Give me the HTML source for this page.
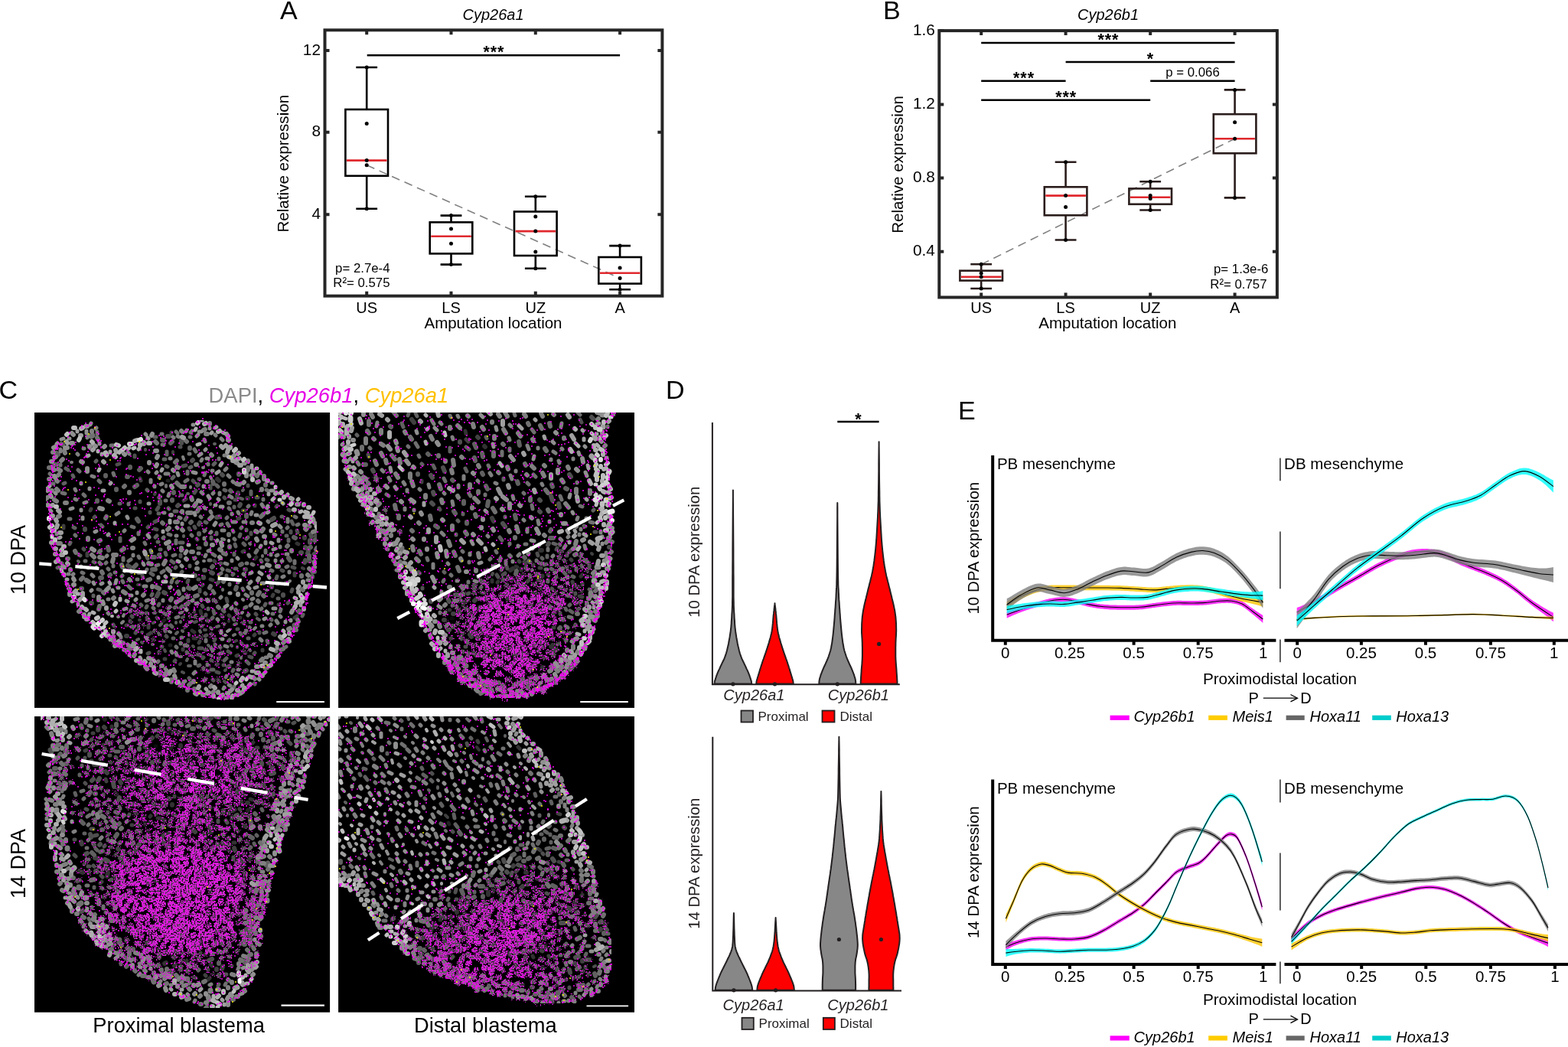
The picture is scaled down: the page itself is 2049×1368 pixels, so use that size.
<!DOCTYPE html>
<html><head><meta charset="utf-8"><title>Figure</title>
<style>html,body{margin:0;padding:0;background:#fff;overflow:hidden}svg{display:block}</style></head>
<body><svg width="2049" height="1368" viewBox="0 0 2049 1368" font-family="'Liberation Sans', Arial, sans-serif">
<defs>
<filter id="soft" x="0" y="0" width="100%" height="100%"><feGaussianBlur stdDeviation="0.7"/></filter>
<filter id="mag" filterUnits="userSpaceOnUse" x="40" y="530" width="800" height="800" color-interpolation-filters="sRGB">
<feTurbulence type="fractalNoise" baseFrequency="0.5" numOctaves="2" seed="11" result="t"/>
<feColorMatrix in="t" type="matrix" values="0 0 0 0 0 0 0 0 0 0 0 0 0 0 0 1 0 0 0 0" result="a"/>
<feComposite in="a" in2="SourceAlpha" operator="arithmetic" k1="0" k2="1" k3="0.257" k4="-0.677" result="c"/>
<feComponentTransfer in="c" result="d"><feFuncA type="linear" slope="14" intercept="0"/></feComponentTransfer>
<feComponentTransfer in="SourceAlpha" result="bin"><feFuncA type="linear" slope="40" intercept="0"/></feComponentTransfer>
<feFlood flood-color="#d81ed8"/>
<feComposite in2="d" operator="in"/>
<feComposite in2="bin" operator="in"/>
</filter>
<clipPath id="rc_tl"><rect x="45" y="539" width="386.1" height="385.9"/></clipPath>
<clipPath id="rc_tr"><rect x="442.1" y="539" width="386.9" height="385.9"/></clipPath>
<clipPath id="rc_bl"><rect x="45" y="936" width="386.1" height="386.7"/></clipPath>
<clipPath id="rc_br"><rect x="442.1" y="936" width="386.9" height="386.7"/></clipPath>
</defs>
<rect width="2049" height="1368" fill="#fff"/>
<g id="panelA">
<path d="M479.2 215.8L810.1 363.5" stroke="#808080" stroke-width="1.6" stroke-dasharray="11 7"/>
<rect x="424.5" y="39.3" width="440.9" height="347.4" fill="none" stroke="#262626" stroke-width="4"/>
<path d="M424.5 66.1h6M865.4 66.1h-6M424.5 172.8h6M865.4 172.8h-6M424.5 280.3h6M865.4 280.3h-6M479.2 386.7v-6M479.2 39.3v6M589.5 386.7v-6M589.5 39.3v6M699.8 386.7v-6M699.8 39.3v6M810.1 386.7v-6M810.1 39.3v6" stroke="#262626" stroke-width="4" fill="none"/>
<text x="419" y="71.6" font-size="20.8" text-anchor="end">12</text>
<text x="419" y="178.3" font-size="20.8" text-anchor="end">8</text>
<text x="419" y="285.8" font-size="20.8" text-anchor="end">4</text>
<text x="479.2" y="408.8" font-size="20" text-anchor="middle">US</text>
<text x="589.5" y="408.8" font-size="20" text-anchor="middle">LS</text>
<text x="699.8" y="408.8" font-size="20" text-anchor="middle">UZ</text>
<text x="810.1" y="408.8" font-size="20" text-anchor="middle">A</text>
<text x="644.5" y="428.6" font-size="20.5" text-anchor="middle">Amputation location</text>
<text transform="translate(377.3 213.7) rotate(-90)" font-size="20.6" text-anchor="middle">Relative expression</text>
<path d="M479.2 88V143M479.2 229.8V272.8M465.3 88H493.1M465.3 272.8H493.1" stroke="#000" stroke-width="2.6" fill="none"/>
<rect x="451.4" y="143" width="55.6" height="86.8" fill="none" stroke="#000" stroke-width="2.6"/>
<path d="M452.9 209.6H505.5" stroke="#e0282e" stroke-width="2.6"/>
<path d="M589.5 281.6V290.4M589.5 331.4V345.6M575.6 281.6H603.4M575.6 345.6H603.4" stroke="#000" stroke-width="2.6" fill="none"/>
<rect x="561.7" y="290.4" width="55.6" height="41" fill="none" stroke="#000" stroke-width="2.6"/>
<path d="M563.2 308.8H615.8" stroke="#e0282e" stroke-width="2.6"/>
<path d="M699.8 256.8V276.5M699.8 334V350.7M685.9 256.8H713.7M685.9 350.7H713.7" stroke="#000" stroke-width="2.6" fill="none"/>
<rect x="672" y="276.5" width="55.6" height="57.5" fill="none" stroke="#000" stroke-width="2.6"/>
<path d="M673.5 302.1H726.1" stroke="#e0282e" stroke-width="2.6"/>
<path d="M810.1 321.1V336M810.1 370.6V378.2M796.2 321.1H824M796.2 378.2H824" stroke="#000" stroke-width="2.6" fill="none"/>
<rect x="782.3" y="336" width="55.6" height="34.6" fill="none" stroke="#000" stroke-width="2.6"/>
<path d="M783.8 356.7H836.4" stroke="#e0282e" stroke-width="2.6"/>
<path d="M476.7 88a2.5 2.5 0 1 0 5 0a2.5 2.5 0 1 0 -5 0M476.7 161.4a2.5 2.5 0 1 0 5 0a2.5 2.5 0 1 0 -5 0M476.7 209.6a2.5 2.5 0 1 0 5 0a2.5 2.5 0 1 0 -5 0M476.7 215.8a2.5 2.5 0 1 0 5 0a2.5 2.5 0 1 0 -5 0M476.7 272.8a2.5 2.5 0 1 0 5 0a2.5 2.5 0 1 0 -5 0M587 281.6a2.5 2.5 0 1 0 5 0a2.5 2.5 0 1 0 -5 0M587 299.1a2.5 2.5 0 1 0 5 0a2.5 2.5 0 1 0 -5 0M587 318.2a2.5 2.5 0 1 0 5 0a2.5 2.5 0 1 0 -5 0M587 345.6a2.5 2.5 0 1 0 5 0a2.5 2.5 0 1 0 -5 0M697.3 256.8a2.5 2.5 0 1 0 5 0a2.5 2.5 0 1 0 -5 0M697.3 283.1a2.5 2.5 0 1 0 5 0a2.5 2.5 0 1 0 -5 0M697.3 302.1a2.5 2.5 0 1 0 5 0a2.5 2.5 0 1 0 -5 0M697.3 328.9a2.5 2.5 0 1 0 5 0a2.5 2.5 0 1 0 -5 0M697.3 350.7a2.5 2.5 0 1 0 5 0a2.5 2.5 0 1 0 -5 0M807.6 321.1a2.5 2.5 0 1 0 5 0a2.5 2.5 0 1 0 -5 0M807.6 349.9a2.5 2.5 0 1 0 5 0a2.5 2.5 0 1 0 -5 0M807.6 363.5a2.5 2.5 0 1 0 5 0a2.5 2.5 0 1 0 -5 0M807.6 378.2a2.5 2.5 0 1 0 5 0a2.5 2.5 0 1 0 -5 0" fill="#000"/>
<path d="M479.7 72.3H810.1" stroke="#000" stroke-width="2.5"/>
<text x="645.3" y="74.7" font-size="21.5" text-anchor="middle" font-weight="bold" letter-spacing="0.9">***</text>
<text x="509.5" y="355.5" font-size="16.8" text-anchor="end">p= 2.7e-4</text>
<text x="509.5" y="375.2" font-size="16.8" text-anchor="end">R²= 0.575</text>
<text x="644.5" y="26" font-size="20" text-anchor="middle" font-style="italic">Cyp26a1</text>
<text x="366" y="25.3" font-size="34">A</text>
</g>
<g id="panelB">
<path d="M1282.2 345.5L1613.6 181.2" stroke="#808080" stroke-width="1.6" stroke-dasharray="11 7"/>
<rect x="1227.3" y="40.1" width="441.6" height="348.4" fill="none" stroke="#262626" stroke-width="4"/>
<path d="M1227.3 40.1h6M1668.9 40.1h-6M1227.3 136.4h6M1668.9 136.4h-6M1227.3 232.5h6M1668.9 232.5h-6M1227.3 328.7h6M1668.9 328.7h-6M1282.2 388.5v-6M1282.2 40.1v6M1392.6 388.5v-6M1392.6 40.1v6M1503.2 388.5v-6M1503.2 40.1v6M1613.6 388.5v-6M1613.6 40.1v6" stroke="#262626" stroke-width="4" fill="none"/>
<text x="1221.8" y="45.6" font-size="20.8" text-anchor="end">1.6</text>
<text x="1221.8" y="141.9" font-size="20.8" text-anchor="end">1.2</text>
<text x="1221.8" y="238" font-size="20.8" text-anchor="end">0.8</text>
<text x="1221.8" y="334.2" font-size="20.8" text-anchor="end">0.4</text>
<text x="1282.2" y="409" font-size="20" text-anchor="middle">US</text>
<text x="1392.6" y="409" font-size="20" text-anchor="middle">LS</text>
<text x="1503.2" y="409" font-size="20" text-anchor="middle">UZ</text>
<text x="1613.6" y="409" font-size="20" text-anchor="middle">A</text>
<text x="1447.3" y="429.2" font-size="20.5" text-anchor="middle">Amputation location</text>
<text transform="translate(1180 215) rotate(-90)" font-size="20.6" text-anchor="middle">Relative expression</text>
<path d="M1282.2 345.2V353.7M1282.2 366.6V377M1268.3 345.2H1296.1M1268.3 377H1296.1" stroke="#2a1d1c" stroke-width="2.6" fill="none"/>
<rect x="1254.4" y="353.7" width="55.6" height="12.9" fill="none" stroke="#2a1d1c" stroke-width="2.6"/>
<path d="M1255.9 361.8H1308.5" stroke="#e0282e" stroke-width="2.6"/>
<path d="M1392.6 211.7V244.3M1392.6 281.3V313.5M1378.7 211.7H1406.5M1378.7 313.5H1406.5" stroke="#2a1d1c" stroke-width="2.6" fill="none"/>
<rect x="1364.8" y="244.3" width="55.6" height="37" fill="none" stroke="#2a1d1c" stroke-width="2.6"/>
<path d="M1366.3 255.6H1418.9" stroke="#e0282e" stroke-width="2.6"/>
<path d="M1503.2 237.2V246.4M1503.2 266.8V274.5M1489.3 237.2H1517.1M1489.3 274.5H1517.1" stroke="#2a1d1c" stroke-width="2.6" fill="none"/>
<rect x="1475.4" y="246.4" width="55.6" height="20.4" fill="none" stroke="#2a1d1c" stroke-width="2.6"/>
<path d="M1476.9 257.8H1529.5" stroke="#e0282e" stroke-width="2.6"/>
<path d="M1613.6 117.4V149.2M1613.6 200.3V258.4M1599.7 117.4H1627.5M1599.7 258.4H1627.5" stroke="#2a1d1c" stroke-width="2.6" fill="none"/>
<rect x="1585.8" y="149.2" width="55.6" height="51.1" fill="none" stroke="#2a1d1c" stroke-width="2.6"/>
<path d="M1587.3 181.2H1639.9" stroke="#e0282e" stroke-width="2.6"/>
<path d="M1279.7 345.2a2.5 2.5 0 1 0 5 0a2.5 2.5 0 1 0 -5 0M1279.7 357a2.5 2.5 0 1 0 5 0a2.5 2.5 0 1 0 -5 0M1279.7 361.8a2.5 2.5 0 1 0 5 0a2.5 2.5 0 1 0 -5 0M1279.7 377a2.5 2.5 0 1 0 5 0a2.5 2.5 0 1 0 -5 0M1390.1 211.7a2.5 2.5 0 1 0 5 0a2.5 2.5 0 1 0 -5 0M1390.1 255.6a2.5 2.5 0 1 0 5 0a2.5 2.5 0 1 0 -5 0M1390.1 270.6a2.5 2.5 0 1 0 5 0a2.5 2.5 0 1 0 -5 0M1390.1 313.5a2.5 2.5 0 1 0 5 0a2.5 2.5 0 1 0 -5 0M1500.7 237.2a2.5 2.5 0 1 0 5 0a2.5 2.5 0 1 0 -5 0M1500.7 255.6a2.5 2.5 0 1 0 5 0a2.5 2.5 0 1 0 -5 0M1500.7 259.5a2.5 2.5 0 1 0 5 0a2.5 2.5 0 1 0 -5 0M1500.7 274.5a2.5 2.5 0 1 0 5 0a2.5 2.5 0 1 0 -5 0M1611.1 117.4a2.5 2.5 0 1 0 5 0a2.5 2.5 0 1 0 -5 0M1611.1 159.7a2.5 2.5 0 1 0 5 0a2.5 2.5 0 1 0 -5 0M1611.1 181.2a2.5 2.5 0 1 0 5 0a2.5 2.5 0 1 0 -5 0M1611.1 258.4a2.5 2.5 0 1 0 5 0a2.5 2.5 0 1 0 -5 0" fill="#000"/>
<path d="M1282.2 56H1613.6M1392.6 80.9H1613.6M1282.2 105.8H1392.6M1503.2 105.8H1613.6M1282.2 130.8H1503.2" stroke="#000" stroke-width="2.5"/>
<text x="1448.4" y="58.7" font-size="21.5" text-anchor="middle" font-weight="bold" letter-spacing="0.9">***</text>
<text x="1503.4" y="83.5" font-size="21.5" text-anchor="middle" font-weight="bold" letter-spacing="0.9">*</text>
<text x="1338" y="108.6" font-size="21.5" text-anchor="middle" font-weight="bold" letter-spacing="0.9">***</text>
<text x="1393.2" y="133.6" font-size="21.5" text-anchor="middle" font-weight="bold" letter-spacing="0.9">***</text>
<text x="1558.5" y="100" font-size="16.8" text-anchor="middle">p = 0.066</text>
<text x="1657.4" y="356.7" font-size="16.8" text-anchor="end">p= 1.3e-6</text>
<text x="1655.5" y="376.9" font-size="16.8" text-anchor="end">R²= 0.757</text>
<text x="1448" y="25.7" font-size="20" text-anchor="middle" font-style="italic">Cyp26b1</text>
<text x="1154" y="25.3" font-size="34">B</text>
</g>
<g id="panelD">
<text x="870" y="521" font-size="34">D</text>
<path d="M930.9 552V894.2H1175.8" stroke="#231f20" stroke-width="2" fill="none"/>
<path d="M957.9 640.5 957.9 648.6 958 659.7 958.1 673 958.2 687.5 958.3 702.4 958.4 716.7 958.4 729.6 958.5 740 958.5 748.3 958.6 755.4 958.6 761.5 958.6 766.8 958.6 771.5 958.6 775.7 958.6 779.7 958.7 783.7 958.8 787.4 958.8 790.5 958.9 793.1 959 795.4 959.1 797.5 959.2 799.6 959.4 801.8 959.5 804.2 959.6 806.8 959.8 809.3 960 811.9 960.1 814.5 960.3 817 960.5 819.6 960.8 822.1 961.1 824.7 961.5 827.3 961.9 830 962.3 832.7 962.8 835.4 963.3 838 963.7 840.5 964.2 842.9 964.7 845.1 965.2 847.1 965.6 848.9 966 850.6 966.5 852.2 966.9 853.7 967.4 855.2 967.9 856.6 968.4 858 968.9 859.4 969.4 860.7 970 861.9 970.5 863.1 971.1 864.2 971.7 865.4 972.3 866.7 972.9 868 973.6 869.4 974.3 870.9 975 872.5 975.7 874.1 976.5 875.6 977.2 877.2 977.8 878.6 978.4 880 978.9 881.3 979.4 882.6 979.8 883.8 980.2 885 980.6 886.1 980.9 887.1 981.2 888.1 981.5 889 981.7 889.8 981.9 890.6 982 891.2 982.1 891.9 982.2 892.4 982.2 892.9 982.3 893.3 982.3 893.6L933.5 893.6 933.5 893.3 933.6 892.9 933.6 892.4 933.7 891.9 933.8 891.2 933.9 890.6 934.1 889.8 934.3 889 934.6 888.1 934.9 887.1 935.2 886.1 935.6 885 936 883.8 936.4 882.6 936.9 881.3 937.4 880 938 878.6 938.6 877.2 939.3 875.6 940.1 874.1 940.8 872.5 941.5 870.9 942.2 869.4 942.9 868 943.5 866.7 944.1 865.4 944.7 864.2 945.3 863.1 945.8 861.9 946.4 860.7 946.9 859.4 947.4 858 947.9 856.6 948.4 855.2 948.9 853.7 949.3 852.2 949.8 850.6 950.2 848.9 950.6 847.1 951.1 845.1 951.6 842.9 952.1 840.5 952.5 838 953 835.4 953.5 832.7 953.9 830 954.3 827.3 954.7 824.7 955 822.1 955.3 819.6 955.5 817 955.7 814.5 955.8 811.9 956 809.3 956.2 806.8 956.3 804.2 956.4 801.8 956.6 799.6 956.7 797.5 956.8 795.4 956.9 793.1 957 790.5 957 787.4 957.1 783.7 957.2 779.7 957.2 775.7 957.2 771.5 957.2 766.8 957.2 761.5 957.2 755.4 957.3 748.3 957.3 740 957.4 729.6 957.4 716.7 957.5 702.4 957.6 687.5 957.7 673 957.8 659.7 957.9 648.6 957.9 640.5Z" fill="#878787" stroke="#231f20" stroke-width="2" stroke-linejoin="round"/>
<path d="M1012.5 788.2 1012.6 789.4 1012.8 791 1013 792.8 1013.3 794.9 1013.5 797.2 1013.8 799.5 1014 801.9 1014.3 804.2 1014.5 806.5 1014.7 809 1014.9 811.6 1015.1 814.2 1015.4 816.8 1015.6 819.5 1016 822.1 1016.4 824.7 1016.9 827.3 1017.5 829.8 1018.1 832.4 1018.8 834.9 1019.6 837.4 1020.3 840 1021.1 842.5 1021.9 845.1 1022.7 847.7 1023.6 850.3 1024.5 853 1025.4 855.6 1026.3 858.2 1027.2 860.8 1028.1 863.2 1028.9 865.6 1029.6 867.9 1030.4 870.2 1031.1 872.5 1031.8 874.6 1032.4 876.7 1033 878.7 1033.5 880.4 1034 882 1034.4 883.3 1034.8 884.5 1035.1 885.4 1035.3 886.2 1035.5 887 1035.7 887.6 1035.9 888.3 1036.1 889 1036.3 889.7 1036.4 890.4 1036.5 891.1 1036.6 891.7 1036.7 892.3 1036.7 892.8 1036.8 893.3 1036.8 893.6L988.2 893.6 988.2 893.3 988.3 892.8 988.3 892.3 988.4 891.7 988.5 891.1 988.6 890.4 988.7 889.7 988.9 889 989.1 888.3 989.3 887.6 989.5 887 989.7 886.2 989.9 885.4 990.2 884.5 990.6 883.3 991 882 991.5 880.4 992 878.7 992.6 876.7 993.2 874.6 993.9 872.5 994.6 870.2 995.4 867.9 996.1 865.6 996.9 863.2 997.8 860.8 998.7 858.2 999.6 855.6 1000.5 853 1001.4 850.3 1002.3 847.7 1003.1 845.1 1003.9 842.5 1004.7 840 1005.4 837.4 1006.2 834.9 1006.9 832.4 1007.5 829.8 1008.1 827.3 1008.6 824.7 1009 822.1 1009.4 819.5 1009.6 816.8 1009.9 814.2 1010.1 811.6 1010.3 809 1010.5 806.5 1010.7 804.2 1011 801.9 1011.2 799.5 1011.5 797.2 1011.7 794.9 1012 792.8 1012.2 791 1012.4 789.4 1012.5 788.2Z" fill="#ff0000" stroke="#231f20" stroke-width="2" stroke-linejoin="round"/>
<path d="M1094.3 657 1094.4 664.3 1094.4 674.5 1094.5 686.7 1094.6 699.9 1094.7 713.4 1094.8 726.2 1094.9 737.4 1095 746.2 1095.1 752.6 1095.2 757.3 1095.3 760.9 1095.3 763.6 1095.4 765.8 1095.5 767.9 1095.7 770.2 1095.8 773.2 1096 776.6 1096.1 780 1096.3 783.4 1096.6 786.8 1096.8 790.1 1097 793.5 1097.3 796.9 1097.5 800.3 1097.8 803.7 1098 807.3 1098.3 810.8 1098.6 814.4 1098.9 817.9 1099.2 821.2 1099.5 824.4 1099.8 827.3 1100.1 830 1100.4 832.5 1100.7 834.9 1101 837.1 1101.3 839.3 1101.6 841.3 1102 843.2 1102.3 845 1102.6 846.7 1103 848.2 1103.3 849.7 1103.7 851 1104.1 852.2 1104.5 853.5 1104.9 854.7 1105.3 856 1105.7 857.3 1106.2 858.6 1106.7 859.8 1107.2 861.1 1107.7 862.3 1108.2 863.5 1108.8 864.8 1109.3 866 1109.8 867.2 1110.4 868.5 1111 869.8 1111.6 871 1112.2 872.2 1112.7 873.5 1113.3 874.8 1113.8 876 1114.3 877.3 1114.8 878.6 1115.3 879.9 1115.8 881.1 1116.2 882.4 1116.6 883.7 1117 884.9 1117.3 886 1117.6 887.1 1117.8 888.2 1118 889.4 1118.1 890.4 1118.2 891.4 1118.3 892.3 1118.4 893 1118.5 893.6L1070.1 893.6 1070.2 893 1070.3 892.3 1070.4 891.4 1070.5 890.4 1070.6 889.4 1070.8 888.2 1071 887.1 1071.3 886 1071.6 884.9 1072 883.7 1072.4 882.4 1072.8 881.1 1073.3 879.9 1073.8 878.6 1074.3 877.3 1074.8 876 1075.3 874.8 1075.9 873.5 1076.4 872.2 1077 871 1077.6 869.8 1078.2 868.5 1078.8 867.2 1079.3 866 1079.8 864.8 1080.4 863.5 1080.9 862.3 1081.4 861.1 1081.9 859.8 1082.4 858.6 1082.9 857.3 1083.3 856 1083.7 854.7 1084.1 853.5 1084.5 852.2 1084.9 851 1085.3 849.7 1085.6 848.2 1086 846.7 1086.3 845 1086.6 843.2 1087 841.3 1087.3 839.3 1087.6 837.1 1087.9 834.9 1088.2 832.5 1088.5 830 1088.8 827.3 1089.1 824.4 1089.4 821.2 1089.7 817.9 1090 814.4 1090.3 810.8 1090.6 807.3 1090.8 803.7 1091.1 800.3 1091.3 796.9 1091.6 793.5 1091.8 790.1 1092 786.7 1092.3 783.4 1092.5 780 1092.6 776.6 1092.8 773.2 1092.9 770.2 1093.1 767.9 1093.2 765.8 1093.3 763.6 1093.3 760.9 1093.4 757.3 1093.5 752.6 1093.6 746.2 1093.7 737.4 1093.8 726.2 1093.9 713.4 1094 699.9 1094.1 686.7 1094.2 674.5 1094.2 664.3 1094.3 657Z" fill="#878787" stroke="#231f20" stroke-width="2" stroke-linejoin="round"/>
<path d="M1148.6 577.3 1148.6 582.2 1148.7 589 1148.8 597.1 1148.9 606 1148.9 615.1 1149 623.9 1149.1 631.7 1149.2 638.1 1149.3 643.1 1149.3 647.2 1149.4 650.7 1149.4 653.7 1149.5 656.5 1149.6 659.1 1149.7 662 1149.8 665.1 1149.9 668.5 1150.1 671.9 1150.2 675.3 1150.4 678.6 1150.6 682 1150.8 685.4 1151 688.8 1151.2 692.2 1151.4 695.6 1151.6 699 1151.8 702.3 1152 705.7 1152.3 709.1 1152.6 712.5 1152.9 715.8 1153.2 719.2 1153.6 722.6 1154 726 1154.4 729.3 1154.8 732.7 1155.3 736.1 1155.8 739.5 1156.4 742.8 1157 746.2 1157.7 749.6 1158.4 752.9 1159.3 756.3 1160.1 759.7 1161 763.1 1161.8 766.4 1162.7 769.8 1163.5 773.2 1164.3 776.6 1165.2 780.1 1166 783.6 1166.9 787.1 1167.7 790.5 1168.4 793.9 1169.1 797.2 1169.6 800.3 1170 803.3 1170.4 806.1 1170.6 808.9 1170.8 811.6 1171 814.2 1171.1 816.8 1171.1 819.4 1171.2 821.9 1171.2 824.4 1171.1 826.8 1171 829.2 1170.9 831.5 1170.7 833.8 1170.6 836.1 1170.5 838.4 1170.4 840.8 1170.4 843.2 1170.3 845.6 1170.3 847.9 1170.3 850.3 1170.3 852.7 1170.3 855.1 1170.3 857.6 1170.4 860 1170.5 862.5 1170.7 865.1 1170.8 867.7 1171.1 870.3 1171.3 872.9 1171.5 875.4 1171.6 877.8 1171.8 880 1171.9 882.1 1172.1 884.2 1172.2 886.2 1172.3 888 1172.4 889.8 1172.5 891.3 1172.5 892.6 1172.6 893.6L1124.6 893.6 1124.7 892.6 1124.7 891.3 1124.8 889.8 1124.9 888.1 1125 886.2 1125.1 884.2 1125.3 882.1 1125.4 880 1125.6 877.8 1125.7 875.4 1125.9 872.9 1126.1 870.4 1126.4 867.7 1126.5 865.1 1126.7 862.5 1126.8 860 1126.9 857.6 1126.9 855.1 1126.9 852.7 1126.9 850.3 1126.9 847.9 1126.9 845.6 1126.8 843.2 1126.8 840.8 1126.7 838.4 1126.6 836.1 1126.5 833.8 1126.3 831.5 1126.2 829.2 1126 826.8 1126 824.4 1126 821.9 1126.1 819.4 1126.1 816.8 1126.2 814.2 1126.4 811.6 1126.6 808.9 1126.8 806.1 1127.2 803.3 1127.6 800.3 1128.1 797.2 1128.8 793.9 1129.5 790.5 1130.3 787.1 1131.2 783.6 1132 780.1 1132.9 776.6 1133.7 773.2 1134.5 769.8 1135.4 766.4 1136.2 763.1 1137.1 759.7 1137.9 756.3 1138.8 752.9 1139.5 749.6 1140.2 746.2 1140.8 742.8 1141.4 739.5 1141.9 736.1 1142.4 732.7 1142.8 729.3 1143.2 726 1143.6 722.6 1144 719.2 1144.3 715.8 1144.6 712.5 1144.9 709.1 1145.2 705.7 1145.4 702.3 1145.6 699 1145.8 695.6 1146 692.2 1146.2 688.8 1146.4 685.4 1146.6 682 1146.8 678.7 1147 675.3 1147.1 671.9 1147.3 668.5 1147.4 665.1 1147.5 662 1147.6 659.1 1147.7 656.5 1147.8 653.7 1147.8 650.7 1147.9 647.2 1147.9 643.1 1148 638.1 1148.1 631.7 1148.2 623.9 1148.3 615.1 1148.3 606 1148.4 597.1 1148.5 589 1148.6 582.2 1148.6 577.3Z" fill="#ff0000" stroke="#231f20" stroke-width="2" stroke-linejoin="round"/>
<path d="M1094.3 551.1H1148.6" stroke="#000" stroke-width="2.5"/>
<text x="1122" y="554.7" font-size="21.5" text-anchor="middle" font-weight="bold" letter-spacing="0.9">*</text>
<path d="M955.3 893.8a2.6 2.6 0 1 0 5.2 0a2.6 2.6 0 1 0 -5.2 0M1009.9 893.8a2.6 2.6 0 1 0 5.2 0a2.6 2.6 0 1 0 -5.2 0M1091.7 893.8a2.6 2.6 0 1 0 5.2 0a2.6 2.6 0 1 0 -5.2 0M1146 841.4a2.6 2.6 0 1 0 5.2 0a2.6 2.6 0 1 0 -5.2 0" fill="#231f20"/>
<text transform="translate(914.2 721.3) rotate(-90)" font-size="20.3" text-anchor="middle" fill="#231f20">10 DPA expression</text>
<text x="985.4" y="915" font-size="20" text-anchor="middle" fill="#231f20" font-style="italic">Cyp26a1</text>
<text x="1121.9" y="915" font-size="20" text-anchor="middle" fill="#231f20" font-style="italic">Cyp26b1</text>
<rect x="968.5" y="928.5" width="15.5" height="15" fill="#878787" stroke="#231f20" stroke-width="1.8"/>
<rect x="1074.5" y="928.5" width="16" height="15" fill="#ff0000" stroke="#231f20" stroke-width="1.8"/>
<text x="990.5" y="941.6" font-size="17" fill="#231f20">Proximal</text>
<text x="1097.5" y="941.6" font-size="17" fill="#231f20">Distal</text>
<path d="M931.3 962.8V1294.4H1178" stroke="#231f20" stroke-width="2" fill="none"/>
<path d="M958.9 1193 959 1195.6 959.1 1199.1 959.2 1203.4 959.3 1208 959.4 1212.8 959.6 1217.4 959.7 1221.6 959.9 1225 960 1227.7 960.1 1230 960.2 1232 960.3 1233.7 960.5 1235.3 960.7 1236.9 961.1 1238.5 961.5 1240.3 962.1 1242.2 962.8 1244.1 963.6 1246 964.4 1247.9 965.3 1249.9 966.3 1251.8 967.2 1253.7 968.1 1255.6 969 1257.5 970 1259.4 970.9 1261.3 971.9 1263.2 972.9 1265.2 973.9 1267.1 974.8 1269 975.7 1270.9 976.6 1272.9 977.4 1274.9 978.3 1277 979.1 1279 979.9 1281 980.6 1282.9 981.3 1284.7 981.8 1286.2 982.2 1287.6 982.5 1288.8 982.8 1289.9 982.9 1291 983 1291.8 983.1 1292.6 983.2 1293.3 983.3 1293.8L934.5 1293.8 934.6 1293.3 934.7 1292.6 934.8 1291.8 934.9 1291 935 1289.9 935.3 1288.8 935.6 1287.6 936 1286.2 936.5 1284.7 937.2 1282.9 937.9 1281 938.7 1279 939.5 1277 940.4 1274.9 941.2 1272.9 942.1 1270.9 943 1269 943.9 1267.1 944.9 1265.2 945.9 1263.2 946.9 1261.3 947.8 1259.4 948.8 1257.5 949.7 1255.6 950.6 1253.7 951.5 1251.8 952.5 1249.9 953.4 1247.9 954.2 1246 955 1244.1 955.7 1242.2 956.3 1240.3 956.7 1238.5 957.1 1236.9 957.3 1235.3 957.4 1233.7 957.6 1232 957.7 1230 957.8 1227.7 957.9 1225 958.1 1221.6 958.2 1217.4 958.4 1212.8 958.5 1208 958.6 1203.4 958.7 1199.1 958.8 1195.6 958.9 1193Z" fill="#878787" stroke="#231f20" stroke-width="2" stroke-linejoin="round"/>
<path d="M1013.6 1199.1 1013.7 1201.2 1013.9 1204 1014.1 1207.4 1014.3 1211.1 1014.5 1214.9 1014.7 1218.7 1015 1222.1 1015.2 1225 1015.4 1227.4 1015.6 1229.6 1015.8 1231.5 1016.1 1233.3 1016.3 1235 1016.6 1236.7 1017 1238.5 1017.4 1240.3 1017.9 1242.2 1018.5 1244.1 1019.2 1246 1019.9 1247.9 1020.6 1249.9 1021.4 1251.8 1022.2 1253.7 1023 1255.6 1023.8 1257.5 1024.8 1259.4 1025.7 1261.3 1026.7 1263.2 1027.6 1265.2 1028.6 1267.1 1029.5 1269 1030.4 1270.9 1031.3 1272.9 1032.1 1274.9 1033 1277 1033.9 1279 1034.7 1281 1035.4 1282.9 1036.1 1284.7 1036.6 1286.2 1037 1287.6 1037.3 1288.8 1037.5 1289.9 1037.6 1291 1037.7 1291.8 1037.8 1292.6 1037.8 1293.3 1037.9 1293.8L989.3 1293.8 989.4 1293.3 989.4 1292.6 989.5 1291.8 989.6 1291 989.7 1289.9 989.9 1288.8 990.2 1287.6 990.6 1286.2 991.1 1284.7 991.8 1282.9 992.5 1281 993.3 1279 994.2 1277 995.1 1274.9 995.9 1272.9 996.8 1270.9 997.7 1269 998.6 1267.1 999.6 1265.2 1000.5 1263.2 1001.5 1261.3 1002.4 1259.4 1003.4 1257.5 1004.2 1255.6 1005 1253.7 1005.8 1251.8 1006.6 1249.9 1007.3 1247.9 1008 1246 1008.7 1244.1 1009.3 1242.2 1009.8 1240.3 1010.2 1238.5 1010.6 1236.7 1010.9 1235 1011.1 1233.3 1011.4 1231.5 1011.6 1229.6 1011.8 1227.4 1012 1225 1012.2 1222.1 1012.5 1218.7 1012.7 1214.9 1012.9 1211.1 1013.1 1207.4 1013.3 1204 1013.5 1201.2 1013.6 1199.1Z" fill="#ff0000" stroke="#231f20" stroke-width="2" stroke-linejoin="round"/>
<path d="M1096.4 962.8 1096.4 965.7 1096.5 969.4 1096.6 973.9 1096.7 978.9 1096.7 984.2 1096.8 989.7 1096.9 995 1097 1000 1097.1 1005 1097.1 1010.2 1097.2 1015.5 1097.3 1020.9 1097.4 1026.1 1097.5 1031 1097.6 1035.6 1097.7 1039.6 1097.8 1043.1 1098 1046.1 1098.2 1048.8 1098.4 1051.1 1098.6 1053.4 1098.8 1055.5 1099 1057.7 1099.2 1060 1099.4 1062.3 1099.6 1064.5 1099.8 1066.6 1100 1068.7 1100.3 1070.8 1100.5 1073 1100.7 1075.4 1101 1078 1101.3 1080.8 1101.5 1083.8 1101.8 1087 1102.1 1090.3 1102.4 1093.6 1102.8 1096.9 1103.1 1100.3 1103.4 1103.5 1103.7 1106.7 1104.1 1109.9 1104.4 1113.1 1104.8 1116.2 1105.1 1119.4 1105.5 1122.6 1105.9 1125.8 1106.3 1129 1106.7 1132.2 1107.1 1135.4 1107.6 1138.6 1108.1 1141.9 1108.5 1145.1 1109 1148.3 1109.4 1151.5 1109.9 1154.7 1110.4 1157.9 1110.8 1161 1111.3 1164.2 1111.7 1167.3 1112.2 1170.5 1112.6 1173.6 1113.1 1176.8 1113.6 1180 1114.1 1183.2 1114.7 1186.5 1115.2 1189.7 1115.8 1193 1116.4 1196.3 1116.9 1199.5 1117.4 1202.8 1117.9 1206 1118.3 1209.3 1118.8 1212.7 1119.2 1216.2 1119.6 1219.6 1120 1222.9 1120.3 1226.1 1120.5 1228.9 1120.7 1231.5 1120.8 1233.7 1120.8 1235.5 1120.7 1237.1 1120.6 1238.5 1120.5 1239.8 1120.3 1241.1 1120.1 1242.5 1119.9 1244 1119.7 1245.6 1119.4 1247.2 1119.1 1248.8 1118.8 1250.5 1118.4 1252.1 1118.1 1253.7 1117.9 1255.4 1117.7 1257 1117.6 1258.6 1117.5 1260.3 1117.4 1261.9 1117.4 1263.5 1117.4 1265.2 1117.4 1266.8 1117.4 1268.4 1117.4 1270 1117.4 1271.6 1117.5 1273.2 1117.6 1274.8 1117.7 1276.4 1117.8 1278 1117.9 1279.6 1117.9 1281.1 1118 1282.6 1118 1284.1 1118.1 1285.8 1118.1 1287.4 1118.1 1289 1118.1 1290.5 1118.1 1291.8 1118.1 1292.9 1118.1 1293.8L1074.7 1293.8 1074.7 1292.9 1074.7 1291.8 1074.7 1290.5 1074.7 1289 1074.7 1287.4 1074.7 1285.8 1074.8 1284.1 1074.8 1282.6 1074.9 1281.1 1074.9 1279.6 1075 1278 1075.1 1276.4 1075.2 1274.8 1075.3 1273.2 1075.4 1271.6 1075.4 1270 1075.4 1268.4 1075.4 1266.8 1075.4 1265.2 1075.4 1263.5 1075.4 1261.9 1075.3 1260.3 1075.2 1258.6 1075.1 1257 1074.9 1255.4 1074.7 1253.7 1074.4 1252.1 1074 1250.5 1073.7 1248.8 1073.4 1247.2 1073.1 1245.6 1072.9 1244 1072.7 1242.5 1072.5 1241.1 1072.3 1239.8 1072.2 1238.5 1072.1 1237.1 1072 1235.5 1072 1233.7 1072.1 1231.5 1072.3 1228.9 1072.5 1226.1 1072.8 1222.9 1073.2 1219.6 1073.6 1216.2 1074 1212.7 1074.5 1209.3 1074.9 1206 1075.4 1202.8 1075.9 1199.5 1076.4 1196.3 1077 1193 1077.6 1189.7 1078.1 1186.5 1078.7 1183.2 1079.2 1180 1079.7 1176.8 1080.2 1173.6 1080.6 1170.5 1081.1 1167.3 1081.5 1164.2 1082 1161 1082.4 1157.9 1082.9 1154.7 1083.4 1151.5 1083.8 1148.3 1084.3 1145.1 1084.8 1141.9 1085.2 1138.6 1085.7 1135.4 1086.1 1132.2 1086.5 1129 1086.9 1125.8 1087.3 1122.6 1087.7 1119.4 1088 1116.2 1088.4 1113.1 1088.7 1109.9 1089.1 1106.7 1089.4 1103.5 1089.7 1100.3 1090 1096.9 1090.4 1093.6 1090.7 1090.3 1091 1087 1091.3 1083.8 1091.5 1080.8 1091.8 1078 1092.1 1075.4 1092.3 1073 1092.5 1070.8 1092.8 1068.7 1093 1066.6 1093.2 1064.5 1093.4 1062.3 1093.6 1060 1093.8 1057.7 1094 1055.5 1094.2 1053.4 1094.4 1051.2 1094.6 1048.8 1094.8 1046.1 1095 1043.1 1095.1 1039.6 1095.2 1035.6 1095.3 1031 1095.4 1026.1 1095.5 1020.8 1095.6 1015.5 1095.7 1010.2 1095.7 1005 1095.8 1000 1095.9 995 1096 989.7 1096.1 984.2 1096.1 978.9 1096.2 973.9 1096.3 969.4 1096.4 965.7 1096.4 962.8Z" fill="#878787" stroke="#231f20" stroke-width="2" stroke-linejoin="round"/>
<path d="M1151.4 1034 1151.4 1036.1 1151.5 1038.9 1151.6 1042.2 1151.7 1045.9 1151.7 1049.7 1151.8 1053.5 1151.9 1057 1152 1060 1152.1 1062.7 1152.2 1065.2 1152.3 1067.6 1152.3 1069.9 1152.4 1072 1152.5 1074.1 1152.6 1076.1 1152.7 1078 1152.8 1079.8 1152.9 1081.4 1152.9 1082.9 1153 1084.3 1153.1 1085.7 1153.2 1087 1153.3 1088.5 1153.4 1090 1153.5 1091.5 1153.6 1093 1153.7 1094.4 1153.8 1095.9 1154 1097.5 1154.1 1099.2 1154.4 1101.2 1154.7 1103.5 1155.1 1106.1 1155.6 1109 1156.1 1112.2 1156.7 1115.5 1157.3 1118.9 1157.9 1122.3 1158.5 1125.7 1159.1 1129 1159.7 1132.2 1160.3 1135.4 1161 1138.6 1161.6 1141.9 1162.3 1145.1 1162.9 1148.3 1163.6 1151.5 1164.2 1154.7 1164.8 1157.9 1165.4 1161 1166 1164.2 1166.6 1167.3 1167.1 1170.5 1167.7 1173.6 1168.2 1176.8 1168.8 1180 1169.4 1183.3 1169.9 1186.6 1170.5 1190 1171.1 1193.3 1171.6 1196.7 1172.2 1199.9 1172.6 1203 1173.1 1206 1173.5 1208.8 1174 1211.5 1174.4 1214 1174.8 1216.5 1175.2 1218.9 1175.5 1221.3 1175.6 1223.6 1175.7 1226 1175.6 1228.4 1175.4 1230.8 1175.2 1233.1 1174.8 1235.4 1174.4 1237.7 1174 1239.9 1173.5 1242 1173.1 1244 1172.7 1245.9 1172.2 1247.6 1171.7 1249.2 1171.2 1250.8 1170.6 1252.3 1170.1 1253.9 1169.7 1255.4 1169.3 1257 1169 1258.6 1168.6 1260.3 1168.4 1261.9 1168.1 1263.5 1167.9 1265.2 1167.7 1266.8 1167.5 1268.4 1167.4 1270 1167.3 1271.6 1167.2 1273.2 1167.2 1274.8 1167.2 1276.4 1167.2 1278 1167.3 1279.6 1167.3 1281.1 1167.3 1282.6 1167.3 1284.1 1167.3 1285.8 1167.3 1287.4 1167.3 1289 1167.4 1290.5 1167.4 1291.8 1167.4 1292.9 1167.4 1293.8L1135.4 1293.8 1135.4 1292.9 1135.4 1291.8 1135.4 1290.5 1135.5 1289 1135.5 1287.4 1135.5 1285.8 1135.5 1284.1 1135.5 1282.6 1135.5 1281.1 1135.5 1279.6 1135.6 1278 1135.6 1276.4 1135.6 1274.8 1135.6 1273.2 1135.5 1271.6 1135.4 1270 1135.3 1268.4 1135.1 1266.8 1134.9 1265.2 1134.7 1263.5 1134.4 1261.9 1134.2 1260.3 1133.8 1258.6 1133.5 1257 1133.1 1255.4 1132.7 1253.9 1132.2 1252.3 1131.6 1250.8 1131.1 1249.2 1130.6 1247.6 1130.1 1245.9 1129.7 1244 1129.3 1242 1128.8 1239.9 1128.4 1237.7 1128 1235.4 1127.6 1233.1 1127.4 1230.8 1127.2 1228.4 1127.1 1226 1127.2 1223.6 1127.3 1221.3 1127.6 1218.9 1128 1216.5 1128.4 1214 1128.8 1211.5 1129.3 1208.8 1129.7 1206 1130.2 1203 1130.6 1199.9 1131.2 1196.7 1131.7 1193.3 1132.3 1190 1132.9 1186.6 1133.4 1183.3 1134 1180 1134.6 1176.8 1135.1 1173.6 1135.7 1170.5 1136.2 1167.3 1136.8 1164.2 1137.4 1161 1138 1157.9 1138.6 1154.7 1139.2 1151.5 1139.9 1148.3 1140.5 1145.1 1141.2 1141.9 1141.8 1138.6 1142.5 1135.4 1143.1 1132.2 1143.7 1129 1144.3 1125.7 1144.9 1122.3 1145.5 1118.9 1146.1 1115.5 1146.7 1112.2 1147.2 1109 1147.7 1106.1 1148.1 1103.5 1148.4 1101.2 1148.7 1099.2 1148.8 1097.5 1149 1095.9 1149.1 1094.4 1149.2 1093 1149.3 1091.5 1149.4 1090 1149.5 1088.5 1149.6 1087 1149.7 1085.7 1149.8 1084.3 1149.9 1082.9 1149.9 1081.4 1150 1079.8 1150.1 1078 1150.2 1076.1 1150.3 1074.1 1150.4 1072 1150.5 1069.9 1150.5 1067.6 1150.6 1065.2 1150.7 1062.7 1150.8 1060 1150.9 1057 1151 1053.5 1151.1 1049.7 1151.1 1045.9 1151.2 1042.2 1151.3 1038.9 1151.4 1036.1 1151.4 1034Z" fill="#ff0000" stroke="#231f20" stroke-width="2" stroke-linejoin="round"/>
<path d="M956.3 1293.8a2.6 2.6 0 1 0 5.2 0a2.6 2.6 0 1 0 -5.2 0M1011 1293.8a2.6 2.6 0 1 0 5.2 0a2.6 2.6 0 1 0 -5.2 0M1093.8 1227.5a2.6 2.6 0 1 0 5.2 0a2.6 2.6 0 1 0 -5.2 0M1148.8 1227.5a2.6 2.6 0 1 0 5.2 0a2.6 2.6 0 1 0 -5.2 0" fill="#231f20"/>
<text transform="translate(914.2 1128.3) rotate(-90)" font-size="20.3" text-anchor="middle" fill="#231f20">14 DPA expression</text>
<text x="984.6" y="1319.8" font-size="20" text-anchor="middle" fill="#231f20" font-style="italic">Cyp26a1</text>
<text x="1121.4" y="1319.8" font-size="20" text-anchor="middle" fill="#231f20" font-style="italic">Cyp26b1</text>
<rect x="969.5" y="1329.8" width="15.3" height="15.2" fill="#878787" stroke="#231f20" stroke-width="1.8"/>
<rect x="1075.8" y="1329.8" width="15.1" height="15.2" fill="#ff0000" stroke="#231f20" stroke-width="1.8"/>
<text x="991.6" y="1343.1" font-size="17" fill="#231f20">Proximal</text>
<text x="1097.6" y="1343.1" font-size="17" fill="#231f20">Distal</text>
</g>
<g id="panelE">
<text x="1252" y="547.5" font-size="34">E</text>
<path d="M1315.7 798.7 1316.8 798.5 1318.1 798.1 1319.7 797.6 1321.5 797.1 1323.4 796.5 1325.5 795.8 1327.6 795.2 1329.7 794.5 1331.8 793.8 1333.8 793.2 1335.8 792.6 1337.8 791.9 1340 791.3 1342.1 790.6 1344.3 790 1346.5 789.3 1348.6 788.7 1350.7 788 1352.8 787.4 1354.7 786.8 1356.6 786.3 1358.4 785.7 1360.1 785.2 1361.8 784.7 1363.5 784.2 1365.2 783.7 1366.8 783.3 1368.5 782.9 1370.1 782.5 1371.8 782.1 1373.6 781.8 1375.3 781.5 1377 781.2 1378.8 781 1380.5 780.8 1382.3 780.6 1384 780.5 1385.7 780.3 1387.3 780.3 1389 780.3 1390.6 780.3 1392.1 780.3 1393.6 780.5 1395 780.6 1396.5 780.8 1397.9 781 1399.4 781.3 1400.9 781.5 1402.5 781.8 1404.2 782.2 1405.9 782.5 1407.8 783 1409.6 783.4 1411.5 784 1413.5 784.5 1415.4 785 1417.4 785.5 1419.4 786 1421.3 786.5 1423.2 786.9 1425.1 787.3 1427 787.6 1428.8 788 1430.7 788.3 1432.5 788.6 1434.4 788.9 1436.3 789.1 1438.2 789.4 1440.2 789.6 1442.3 789.8 1444.4 790 1446.6 790.1 1448.8 790.2 1451 790.4 1453.3 790.5 1455.6 790.5 1458 790.6 1460.4 790.7 1462.7 790.7 1465.1 790.7 1467.5 790.8 1470 790.8 1472.6 790.8 1475.1 790.8 1477.7 790.8 1480.3 790.7 1482.8 790.7 1485.2 790.6 1487.6 790.5 1489.8 790.3 1492 790.2 1493.9 790 1495.8 789.8 1497.6 789.5 1499.4 789.3 1501.1 789 1502.9 788.7 1504.8 788.4 1506.8 788.1 1508.9 787.9 1511.1 787.6 1513.5 787.3 1515.9 787 1518.5 786.6 1521 786.3 1523.6 786 1526.2 785.7 1528.7 785.4 1531.2 785.2 1533.6 785 1536 784.9 1538.4 784.8 1540.7 784.8 1543.1 784.8 1545.4 784.9 1547.7 784.9 1550 785 1552.2 785 1554.3 785 1556.5 785 1558.5 785 1560.5 785 1562.5 784.9 1564.4 784.9 1566.2 784.9 1568.1 784.8 1569.9 784.8 1571.8 784.7 1573.6 784.6 1575.5 784.4 1577.4 784.3 1579.4 784.1 1581.3 783.8 1583.3 783.5 1585.3 783.3 1587.2 783 1589.1 782.7 1591 782.5 1592.8 782.3 1594.5 782.1 1596.2 782 1597.8 781.9 1599.4 781.8 1601 781.8 1602.5 781.7 1604 781.7 1605.4 781.7 1606.9 781.8 1608.3 781.9 1609.8 782.1 1611.2 782.3 1612.5 782.5 1613.9 782.7 1615.2 783 1616.5 783.3 1617.8 783.7 1619.1 784.1 1620.4 784.6 1621.8 785.1 1623.1 785.7 1624.4 786.4 1625.7 787.2 1627.1 788 1628.4 788.9 1629.7 789.9 1631 790.9 1632.4 791.9 1633.7 792.9 1635 793.8 1636.4 794.8 1637.8 795.8 1639.4 796.8 1641 797.9 1642.6 799 1644.2 800.1 1645.7 801.1 1647.1 802 1648.4 802.8 1649.5 803.5 1650.3 804L1650.3 814 1649.5 813.2 1648.4 812.3 1647.1 811.1 1645.7 809.9 1644.2 808.6 1642.6 807.2 1641 805.9 1639.4 804.6 1637.8 803.3 1636.4 802.2 1635 801.1 1633.7 800 1632.4 798.9 1631 797.8 1629.7 796.7 1628.4 795.7 1627.1 794.7 1625.7 793.8 1624.4 793 1623.1 792.2 1621.8 791.6 1620.4 791 1619.1 790.5 1617.8 790 1616.5 789.6 1615.2 789.3 1613.9 789 1612.5 788.7 1611.2 788.5 1609.8 788.3 1608.3 788.1 1606.9 788 1605.4 787.9 1604 787.8 1602.5 787.8 1601 787.9 1599.4 787.9 1597.8 788 1596.2 788.1 1594.5 788.2 1592.8 788.3 1591 788.5 1589.1 788.8 1587.2 789 1585.3 789.3 1583.3 789.6 1581.3 789.8 1579.4 790.1 1577.4 790.3 1575.5 790.5 1573.6 790.6 1571.8 790.7 1569.9 790.8 1568.1 790.8 1566.2 790.9 1564.4 790.9 1562.5 790.9 1560.5 791 1558.5 791 1556.5 791 1554.3 791 1552.2 791 1550 791 1547.7 790.9 1545.4 790.9 1543.1 790.8 1540.7 790.8 1538.4 790.8 1536 790.9 1533.6 791 1531.2 791.2 1528.7 791.4 1526.2 791.7 1523.6 792 1521 792.3 1518.5 792.6 1515.9 793 1513.5 793.3 1511.1 793.6 1508.9 793.9 1506.8 794.1 1504.8 794.4 1502.9 794.7 1501.1 795 1499.4 795.3 1497.6 795.5 1495.8 795.8 1493.9 796 1492 796.2 1489.8 796.3 1487.6 796.5 1485.2 796.6 1482.8 796.7 1480.3 796.7 1477.7 796.8 1475.1 796.8 1472.6 796.8 1470 796.8 1467.5 796.8 1465.1 796.7 1462.7 796.7 1460.4 796.7 1458 796.6 1455.6 796.5 1453.3 796.5 1451 796.4 1448.8 796.2 1446.6 796.1 1444.4 796 1442.3 795.8 1440.2 795.6 1438.2 795.4 1436.3 795.1 1434.4 794.9 1432.5 794.6 1430.7 794.3 1428.8 794 1427 793.6 1425.1 793.3 1423.2 792.9 1421.3 792.5 1419.4 792 1417.4 791.5 1415.4 791 1413.5 790.5 1411.5 790 1409.6 789.4 1407.8 789 1405.9 788.5 1404.2 788.2 1402.5 787.8 1400.9 787.5 1399.4 787.3 1397.9 787 1396.5 786.8 1395 786.6 1393.6 786.5 1392.1 786.4 1390.6 786.3 1389 786.3 1387.3 786.3 1385.7 786.4 1384 786.5 1382.3 786.6 1380.5 786.8 1378.8 787 1377 787.3 1375.3 787.6 1373.6 787.9 1371.8 788.2 1370.1 788.5 1368.5 788.9 1366.8 789.4 1365.2 789.8 1363.5 790.3 1361.8 790.8 1360.1 791.3 1358.4 791.9 1356.6 792.4 1354.7 793 1352.8 793.6 1350.7 794.2 1348.6 794.9 1346.5 795.6 1344.3 796.3 1342.1 797 1340 797.8 1337.8 798.5 1335.8 799.2 1333.8 800 1331.8 800.7 1329.7 801.6 1327.6 802.4 1325.5 803.3 1323.4 804.2 1321.5 805 1319.7 805.9 1318.1 806.6 1316.8 807.2 1315.7 807.7Z" fill="#ff00ff" fill-opacity="0.8"/><path d="M1315.7 803.2C1318.7 802.1 1327.3 798.8 1333.8 796.6C1340.3 794.4 1348.4 791.8 1354.7 789.9C1361.1 788 1366.1 786.3 1371.8 785.2C1377.6 784.1 1383.6 783.3 1389 783.3C1394.4 783.3 1398.5 784.1 1404.2 785.2C1409.9 786.3 1416.9 788.7 1423.2 789.9C1429.6 791.2 1435.3 792.1 1442.3 792.8C1449.2 793.4 1457.2 793.6 1465.1 793.7C1473 793.8 1482.6 793.8 1489.8 793.3C1497.1 792.9 1501.6 791.8 1508.9 790.9C1516.2 790 1525.7 788.5 1533.6 788C1541.6 787.5 1549.5 788.1 1556.5 788C1563.4 787.9 1569.2 787.9 1575.5 787.4C1581.8 787 1588.8 785.5 1594.5 785.2C1600.2 784.8 1605 784.5 1609.8 785.2C1614.5 785.8 1618.6 786.8 1623.1 789C1627.5 791.2 1631.9 795.2 1636.4 798.5C1640.9 801.8 1648 807.2 1650.3 809" fill="none" stroke="#000" stroke-width="1.1"/>
<path d="M1315.7 786.1 1316.8 785.5 1318.1 784.8 1319.7 783.8 1321.5 782.8 1323.4 781.6 1325.5 780.4 1327.6 779.2 1329.7 778 1331.8 776.8 1333.8 775.8 1335.8 774.9 1337.8 773.9 1340 773 1342.1 772.1 1344.3 771.2 1346.5 770.4 1348.6 769.6 1350.7 768.8 1352.8 768.2 1354.7 767.6 1356.6 767 1358.4 766.6 1360.1 766.2 1361.7 765.9 1363.4 765.7 1365 765.4 1366.7 765.2 1368.4 765.1 1370.1 764.9 1371.8 764.8 1373.7 764.6 1375.5 764.5 1377.3 764.5 1379.1 764.4 1381 764.4 1382.9 764.4 1384.8 764.4 1386.8 764.4 1388.8 764.4 1390.9 764.4 1393 764.4 1395.1 764.4 1397.3 764.5 1399.5 764.5 1401.7 764.6 1404 764.6 1406.3 764.7 1408.7 764.7 1411.2 764.8 1413.7 764.8 1416.4 764.8 1419.2 764.8 1422 764.8 1425 764.8 1428 764.8 1431 764.8 1433.9 764.8 1436.8 764.8 1439.6 764.8 1442.3 764.8 1444.8 764.8 1447.2 764.8 1449.5 764.8 1451.7 764.9 1453.9 764.9 1456.1 764.9 1458.3 765 1460.5 765 1462.8 765.1 1465.1 765.2 1467.5 765.3 1470 765.4 1472.6 765.6 1475.1 765.7 1477.7 765.9 1480.3 766.1 1482.8 766.2 1485.2 766.4 1487.6 766.6 1489.8 766.7 1492 766.8 1494 767 1496 767.1 1497.9 767.2 1499.7 767.4 1501.5 767.5 1503.4 767.6 1505.2 767.6 1507 767.7 1508.9 767.6 1510.8 767.6 1512.7 767.4 1514.6 767.3 1516.5 767.1 1518.4 766.8 1520.3 766.6 1522.2 766.4 1524.1 766.1 1526 765.9 1527.9 765.7 1529.8 765.6 1531.7 765.4 1533.6 765.2 1535.5 765.1 1537.4 764.9 1539.3 764.8 1541.2 764.7 1543.1 764.6 1545 764.5 1546.9 764.4 1548.9 764.4 1550.8 764.3 1552.7 764.3 1554.6 764.3 1556.5 764.3 1558.4 764.3 1560.3 764.4 1562.2 764.5 1564.1 764.6 1566 764.8 1567.9 765 1569.8 765.3 1571.7 765.6 1573.6 766 1575.5 766.3 1577.4 766.8 1579.3 767.2 1581.2 767.6 1583.1 768.1 1585 768.6 1586.9 769.1 1588.8 769.6 1590.7 770.2 1592.6 770.8 1594.5 771.3 1596.4 772 1598.3 772.5 1600.2 773.1 1602.1 773.7 1604 774.2 1605.9 774.7 1607.7 775.2 1609.5 775.7 1611.3 776.1 1613.1 776.6 1614.9 777 1616.8 777.5 1618.7 777.9 1620.8 778.3 1623.1 778.7 1625.6 779.2 1628.4 779.6 1631.5 780 1634.7 780.4 1637.9 780.7 1641 781 1643.9 781.2 1646.5 781.3 1648.6 781.3 1650.3 781.3L1650.3 792.8 1648.6 792.2 1646.5 791.5 1643.9 790.8 1641 790 1637.9 789.2 1634.7 788.5 1631.5 787.8 1628.4 787.1 1625.6 786.5 1623.1 785.9 1620.8 785.4 1618.7 784.9 1616.8 784.4 1614.9 783.9 1613.1 783.4 1611.3 782.9 1609.5 782.4 1607.7 781.9 1605.9 781.4 1604 780.9 1602.1 780.3 1600.2 779.8 1598.3 779.2 1596.4 778.5 1594.5 777.9 1592.6 777.3 1590.7 776.7 1588.8 776.2 1586.9 775.6 1585 775.1 1583.1 774.6 1581.2 774.2 1579.3 773.7 1577.4 773.3 1575.5 772.9 1573.6 772.5 1571.7 772.1 1569.8 771.8 1567.9 771.5 1566 771.3 1564.1 771.1 1562.2 771 1560.3 770.9 1558.4 770.8 1556.5 770.8 1554.6 770.8 1552.7 770.8 1550.8 770.8 1548.9 770.9 1546.9 770.9 1545 771 1543.1 771.1 1541.2 771.2 1539.3 771.3 1537.4 771.4 1535.5 771.6 1533.6 771.7 1531.7 771.9 1529.8 772.1 1527.9 772.2 1526 772.4 1524.1 772.6 1522.2 772.9 1520.3 773.1 1518.4 773.3 1516.5 773.6 1514.6 773.8 1512.7 773.9 1510.8 774.1 1508.9 774.1 1507 774.2 1505.2 774.1 1503.4 774.1 1501.5 774 1499.7 773.9 1497.9 773.7 1496 773.6 1494 773.5 1492 773.3 1489.8 773.2 1487.6 773.1 1485.2 772.9 1482.8 772.7 1480.3 772.6 1477.7 772.4 1475.1 772.2 1472.6 772.1 1470 771.9 1467.5 771.8 1465.1 771.7 1462.8 771.6 1460.5 771.5 1458.3 771.5 1456.1 771.4 1453.9 771.4 1451.7 771.4 1449.5 771.3 1447.2 771.3 1444.8 771.3 1442.3 771.3 1439.6 771.3 1436.8 771.3 1433.9 771.3 1431 771.3 1428 771.3 1425 771.3 1422 771.3 1419.2 771.3 1416.4 771.3 1413.7 771.3 1411.2 771.3 1408.7 771.2 1406.3 771.2 1404 771.1 1401.7 771.1 1399.5 771 1397.3 771 1395.1 770.9 1393 770.9 1390.9 770.9 1388.8 770.9 1386.8 770.9 1384.8 770.9 1382.9 770.9 1381 770.9 1379.1 770.9 1377.3 771 1375.5 771.1 1373.7 771.2 1371.8 771.3 1370.1 771.5 1368.4 771.6 1366.7 771.8 1365 772 1363.4 772.2 1361.7 772.5 1360.1 772.8 1358.4 773.2 1356.6 773.7 1354.7 774.2 1352.8 774.8 1350.7 775.6 1348.6 776.3 1346.5 777.2 1344.3 778.1 1342.1 779 1340 780 1337.8 781 1335.8 782 1333.8 783.1 1331.8 784.2 1329.7 785.5 1327.6 786.9 1325.5 788.3 1323.4 789.8 1321.5 791.2 1319.7 792.6 1318.1 793.8 1316.8 794.8 1315.7 795.6Z" fill="#ffc400" fill-opacity="0.8"/><path d="M1315.7 790.9C1318.7 789 1327.3 782.8 1333.8 779.5C1340.3 776.1 1348.4 772.8 1354.7 770.9C1361.1 769 1365.8 768.6 1371.8 768C1377.9 767.5 1383.9 767.7 1390.9 767.7C1397.9 767.7 1405.2 768 1413.7 768C1422.3 768.1 1433.7 768 1442.3 768C1450.8 768.1 1457.2 768.1 1465.1 768.4C1473 768.7 1482.6 769.5 1489.8 769.9C1497.1 770.4 1502.5 771 1508.9 770.9C1515.2 770.7 1521.6 769.5 1527.9 769C1534.3 768.4 1540.6 767.8 1546.9 767.7C1553.3 767.5 1559.6 767.3 1566 768C1572.3 768.7 1578.7 770.3 1585 771.8C1591.4 773.4 1597.7 775.8 1604 777.6C1610.4 779.3 1615.4 780.7 1623.1 782.3C1630.8 783.9 1645.8 786.3 1650.3 787.1" fill="none" stroke="#000" stroke-width="1.1"/>
<path d="M1315.7 782.2 1316.8 781.6 1318.1 780.9 1319.7 779.9 1321.5 778.9 1323.4 777.7 1325.5 776.4 1327.6 775.2 1329.7 773.9 1331.8 772.7 1333.8 771.7 1335.8 770.6 1337.8 769.5 1340 768.4 1342.1 767.3 1344.3 766.3 1346.5 765.3 1348.6 764.4 1350.7 763.7 1352.8 763.1 1354.7 762.7 1356.6 762.4 1358.4 762.4 1360.1 762.6 1361.7 762.9 1363.4 763.3 1365 763.8 1366.7 764.3 1368.4 764.8 1370.1 765.2 1371.8 765.6 1373.7 766 1375.6 766.4 1377.5 767 1379.4 767.5 1381.4 768 1383.3 768.5 1385.2 768.9 1387.2 769.2 1389 769.4 1390.9 769.4 1392.7 769.3 1394.4 769.1 1396.1 768.8 1397.8 768.4 1399.4 767.9 1401.1 767.3 1402.8 766.7 1404.5 766.1 1406.2 765.4 1408 764.7 1409.8 763.9 1411.7 763.1 1413.6 762.2 1415.5 761.2 1417.4 760.2 1419.3 759.1 1421.3 758.1 1423.2 757.1 1425.1 756.1 1427 755.2 1428.9 754.3 1430.8 753.4 1432.7 752.4 1434.7 751.5 1436.6 750.7 1438.5 749.8 1440.4 748.9 1442.3 748.1 1444.2 747.3 1446.1 746.6 1448 745.9 1449.9 745.2 1451.9 744.5 1453.9 743.8 1455.8 743.2 1457.8 742.6 1459.7 742.1 1461.5 741.6 1463.4 741.2 1465.1 740.9 1466.8 740.7 1468.3 740.6 1469.8 740.6 1471.3 740.6 1472.7 740.7 1474.1 740.9 1475.6 741 1477.1 741.2 1478.7 741.4 1480.3 741.5 1482.1 741.6 1484 741.8 1485.9 742.1 1487.9 742.3 1489.8 742.6 1491.8 742.8 1493.8 743 1495.7 743 1497.6 743 1499.4 742.8 1501 742.5 1502.5 742.1 1504 741.6 1505.4 741 1506.7 740.4 1508.1 739.7 1509.6 738.9 1511.1 738 1512.8 737.1 1514.6 736.1 1516.6 735 1518.7 733.8 1521 732.4 1523.4 731 1525.8 729.5 1528.2 728 1530.6 726.5 1533 725.2 1535.3 723.9 1537.4 722.8 1539.5 721.9 1541.5 721 1543.5 720.2 1545.5 719.4 1547.4 718.8 1549.3 718.2 1551.2 717.6 1553 717.1 1554.7 716.6 1556.5 716.2 1558.1 715.7 1559.8 715.4 1561.3 715.1 1562.8 714.8 1564.3 714.6 1565.8 714.4 1567.2 714.3 1568.7 714.2 1570.2 714.2 1571.7 714.2 1573.2 714.3 1574.7 714.4 1576.2 714.5 1577.7 714.7 1579.2 715 1580.7 715.2 1582.2 715.6 1583.7 716 1585.3 716.5 1586.9 717.1 1588.5 717.7 1590.2 718.4 1591.9 719.1 1593.5 719.9 1595.2 720.8 1597 721.8 1598.7 722.8 1600.5 723.9 1602.2 725.2 1604 726.5 1605.9 728.1 1607.8 729.7 1609.7 731.5 1611.7 733.4 1613.7 735.4 1615.6 737.4 1617.6 739.4 1619.5 741.4 1621.3 743.4 1623.1 745.3 1624.8 747.2 1626.4 749.1 1628 751 1629.6 752.8 1631.1 754.7 1632.6 756.5 1634.1 758.4 1635.5 760.2 1636.9 761.9 1638.3 763.7 1639.7 765.4 1641.1 767.3 1642.5 769.1 1643.9 770.9 1645.3 772.7 1646.5 774.4 1647.7 775.9 1648.7 777.3 1649.6 778.4 1650.3 779.3L1650.3 794.8 1649.6 793.7 1648.7 792.2 1647.7 790.6 1646.5 788.7 1645.3 786.7 1643.9 784.6 1642.5 782.4 1641.1 780.3 1639.7 778.2 1638.3 776.2 1636.9 774.3 1635.5 772.3 1634.1 770.4 1632.6 768.4 1631.1 766.4 1629.6 764.4 1628 762.4 1626.4 760.4 1624.8 758.4 1623.1 756.5 1621.3 754.5 1619.5 752.4 1617.6 750.4 1615.6 748.3 1613.7 746.2 1611.7 744.2 1609.7 742.3 1607.8 740.4 1605.9 738.7 1604 737.2 1602.2 735.8 1600.5 734.6 1598.7 733.4 1597 732.4 1595.2 731.4 1593.5 730.5 1591.9 729.7 1590.2 729 1588.5 728.3 1586.9 727.6 1585.3 727 1583.7 726.6 1582.2 726.1 1580.7 725.8 1579.2 725.5 1577.7 725.2 1576.2 725.1 1574.7 724.9 1573.2 724.8 1571.7 724.8 1570.2 724.7 1568.7 724.8 1567.2 724.8 1565.8 724.9 1564.3 725.1 1562.8 725.3 1561.3 725.6 1559.8 725.9 1558.1 726.3 1556.5 726.7 1554.7 727.1 1553 727.6 1551.2 728.1 1549.3 728.7 1547.4 729.3 1545.5 729.9 1543.5 730.7 1541.5 731.5 1539.5 732.4 1537.4 733.3 1535.3 734.4 1533 735.7 1530.6 737 1528.2 738.5 1525.8 740 1523.4 741.5 1521 742.9 1518.7 744.3 1516.6 745.5 1514.6 746.6 1512.8 747.6 1511.1 748.5 1509.6 749.4 1508.1 750.2 1506.7 750.9 1505.4 751.5 1504 752.1 1502.5 752.6 1501 753 1499.4 753.3 1497.6 753.5 1495.7 753.5 1493.8 753.5 1491.8 753.3 1489.8 753.1 1487.9 752.8 1485.9 752.6 1484 752.3 1482.1 752.1 1480.3 752 1478.7 751.9 1477.1 751.7 1475.6 751.5 1474.1 751.4 1472.7 751.2 1471.3 751.1 1469.8 751.1 1468.3 751.1 1466.8 751.2 1465.1 751.4 1463.4 751.7 1461.5 752.1 1459.7 752.6 1457.8 753.1 1455.8 753.7 1453.9 754.3 1451.9 755 1449.9 755.7 1448 756.4 1446.1 757.1 1444.2 757.8 1442.3 758.6 1440.4 759.4 1438.5 760.3 1436.6 761.2 1434.7 762 1432.7 762.9 1430.8 763.9 1428.9 764.8 1427 765.7 1425.1 766.6 1423.2 767.6 1421.3 768.6 1419.3 769.6 1417.4 770.7 1415.5 771.7 1413.6 772.7 1411.7 773.6 1409.8 774.4 1408 775.2 1406.2 775.9 1404.5 776.6 1402.8 777.2 1401.1 777.9 1399.4 778.4 1397.8 778.9 1396.1 779.3 1394.4 779.6 1392.7 779.8 1390.9 780 1389 779.9 1387.2 779.7 1385.2 779.4 1383.3 779 1381.4 778.5 1379.4 778 1377.5 777.5 1375.6 777 1373.7 776.6 1371.8 776.2 1370.1 775.8 1368.4 775.4 1366.7 774.9 1365 774.4 1363.4 774 1361.7 773.6 1360.1 773.3 1358.4 773.2 1356.6 773.2 1354.7 773.4 1352.8 773.9 1350.7 774.5 1348.6 775.4 1346.5 776.3 1344.3 777.4 1342.1 778.5 1340 779.8 1337.8 781 1335.8 782.2 1333.8 783.4 1331.8 784.7 1329.7 786.2 1327.6 787.7 1325.5 789.3 1323.4 791 1321.5 792.6 1319.7 794.1 1318.1 795.5 1316.8 796.7 1315.7 797.7Z" fill="#808080" fill-opacity="0.8"/><path d="M1315.7 789.9C1318.7 787.9 1327.3 781.2 1333.8 777.6C1340.3 773.9 1348.4 769.1 1354.7 768C1361.1 766.9 1365.8 769.8 1371.8 770.9C1377.9 772 1384.8 774.9 1390.9 774.7C1396.9 774.5 1402 772.3 1408 769.9C1414 767.6 1420.7 763.4 1427 760.4C1433.4 757.4 1439.7 754.2 1446.1 751.9C1452.4 749.5 1459.4 747 1465.1 746.1C1470.8 745.3 1474.6 746.4 1480.3 746.7C1486 747 1493.7 748.9 1499.4 748.1C1505.1 747.2 1508.2 744.7 1514.6 741.4C1520.9 738.1 1530.5 731.4 1537.4 728.1C1544.4 724.7 1550.8 722.8 1556.5 721.4C1562.2 720 1566.6 719.3 1571.7 719.5C1576.8 719.7 1581.5 720.3 1586.9 722.4C1592.3 724.4 1598 727.1 1604 731.9C1610.1 736.6 1617.4 744.6 1623.1 750.9C1628.8 757.3 1633.8 763.9 1638.3 769.9C1642.8 776 1648.3 784.2 1650.3 787.1" fill="none" stroke="#000" stroke-width="1.1"/>
<path d="M1315.7 791.6 1316.8 791.5 1318.1 791.3 1319.7 791.1 1321.5 790.8 1323.4 790.5 1325.5 790.2 1327.6 789.9 1329.7 789.5 1331.8 789.2 1333.8 788.9 1335.8 788.6 1337.8 788.3 1340 788 1342.1 787.8 1344.3 787.5 1346.5 787.2 1348.6 787 1350.7 786.7 1352.8 786.5 1354.7 786.3 1356.6 786.2 1358.4 786 1360.1 785.9 1361.7 785.8 1363.4 785.7 1365 785.6 1366.7 785.6 1368.4 785.5 1370.1 785.5 1371.8 785.4 1373.7 785.4 1375.6 785.5 1377.5 785.6 1379.4 785.6 1381.4 785.7 1383.3 785.8 1385.2 785.9 1387.2 785.9 1389 785.9 1390.9 785.8 1392.7 785.7 1394.4 785.6 1396.1 785.4 1397.8 785.2 1399.4 784.9 1401.1 784.6 1402.8 784.4 1404.5 784.1 1406.2 783.8 1408 783.6 1409.8 783.3 1411.7 783 1413.6 782.8 1415.5 782.5 1417.4 782.2 1419.3 781.9 1421.3 781.6 1423.2 781.3 1425.1 781 1427 780.7 1428.9 780.4 1430.8 780.1 1432.7 779.8 1434.7 779.5 1436.6 779.2 1438.5 778.9 1440.4 778.6 1442.3 778.3 1444.2 778.1 1446.1 777.9 1448 777.7 1449.9 777.5 1451.9 777.4 1453.9 777.3 1455.8 777.2 1457.8 777.1 1459.7 777 1461.5 777 1463.4 776.9 1465.1 776.9 1466.8 776.9 1468.3 776.9 1469.8 777 1471.3 777.1 1472.7 777.2 1474.1 777.3 1475.6 777.3 1477.1 777.4 1478.7 777.5 1480.3 777.5 1482.1 777.5 1483.9 777.5 1485.8 777.5 1487.7 777.5 1489.6 777.5 1491.6 777.5 1493.5 777.4 1495.5 777.3 1497.4 777.1 1499.4 776.9 1501.3 776.6 1503.2 776.2 1505.1 775.8 1507 775.3 1508.9 774.8 1510.8 774.3 1512.7 773.7 1514.6 773.2 1516.5 772.6 1518.4 772.1 1520.3 771.7 1522.1 771.2 1524 770.6 1525.8 770.1 1527.7 769.6 1529.5 769.1 1531.4 768.6 1533.4 768.2 1535.4 767.8 1537.4 767.4 1539.6 767.1 1541.9 766.8 1544.2 766.5 1546.7 766.3 1549.1 766.1 1551.5 765.9 1553.9 765.8 1556.1 765.6 1558.3 765.5 1560.3 765.5 1562.1 765.5 1563.7 765.5 1565.3 765.5 1566.7 765.6 1568.1 765.7 1569.5 765.8 1570.9 765.9 1572.3 766.1 1573.9 766.2 1575.5 766.4 1577.2 766.6 1579.1 766.9 1580.9 767.1 1582.8 767.4 1584.8 767.7 1586.7 768 1588.7 768.4 1590.7 768.7 1592.6 769 1594.5 769.3 1596.4 769.5 1598.3 769.8 1600.2 770.1 1602.1 770.4 1604 770.7 1605.9 771 1607.9 771.3 1609.8 771.5 1611.7 771.8 1613.6 772 1615.5 772.2 1617.4 772.4 1619.3 772.6 1621.2 772.8 1623.2 772.9 1625.1 773.1 1627 773.2 1628.9 773.3 1630.7 773.3 1632.6 773.4 1634.5 773.4 1636.5 773.4 1638.6 773.3 1640.6 773.2 1642.6 773 1644.6 772.9 1646.3 772.7 1647.9 772.5 1649.2 772.3 1650.3 772.1L1650.3 784.1 1649.2 783.9 1647.9 783.7 1646.3 783.4 1644.6 783.1 1642.6 782.9 1640.6 782.6 1638.6 782.4 1636.5 782.2 1634.5 781.9 1632.6 781.7 1630.7 781.5 1628.9 781.3 1627 781 1625.1 780.8 1623.2 780.6 1621.2 780.3 1619.3 780.1 1617.4 779.8 1615.5 779.6 1613.6 779.3 1611.7 779 1609.8 778.8 1607.9 778.5 1605.9 778.2 1604 777.9 1602.1 777.6 1600.2 777.2 1598.3 776.9 1596.4 776.6 1594.5 776.3 1592.6 776 1590.7 775.7 1588.7 775.4 1586.7 775.1 1584.8 774.8 1582.8 774.5 1580.9 774.2 1579.1 773.9 1577.2 773.7 1575.5 773.4 1573.9 773.3 1572.3 773.1 1570.9 772.9 1569.5 772.8 1568.1 772.7 1566.7 772.6 1565.3 772.5 1563.7 772.5 1562.1 772.5 1560.3 772.5 1558.3 772.6 1556.1 772.6 1553.9 772.8 1551.5 772.9 1549.1 773.1 1546.7 773.3 1544.2 773.5 1541.9 773.8 1539.6 774.1 1537.4 774.4 1535.4 774.8 1533.4 775.2 1531.4 775.6 1529.5 776.1 1527.7 776.6 1525.8 777.1 1524 777.6 1522.1 778.2 1520.3 778.7 1518.4 779.1 1516.5 779.6 1514.6 780.2 1512.7 780.7 1510.8 781.3 1508.9 781.8 1507 782.3 1505.1 782.8 1503.2 783.2 1501.3 783.6 1499.4 783.9 1497.4 784.1 1495.5 784.3 1493.5 784.4 1491.6 784.5 1489.6 784.5 1487.7 784.5 1485.8 784.5 1483.9 784.5 1482.1 784.5 1480.3 784.5 1478.7 784.5 1477.1 784.4 1475.6 784.3 1474.1 784.3 1472.7 784.2 1471.3 784.1 1469.8 784 1468.3 783.9 1466.8 783.9 1465.1 783.9 1463.4 783.9 1461.5 784 1459.7 784 1457.8 784.1 1455.8 784.2 1453.9 784.3 1451.9 784.4 1449.9 784.5 1448 784.7 1446.1 784.9 1444.2 785.1 1442.3 785.3 1440.4 785.6 1438.5 785.9 1436.6 786.2 1434.7 786.5 1432.7 786.8 1430.8 787.1 1428.9 787.4 1427 787.7 1425.1 788 1423.2 788.3 1421.3 788.6 1419.3 788.9 1417.4 789.2 1415.5 789.5 1413.6 789.8 1411.7 790 1409.8 790.3 1408 790.6 1406.2 790.8 1404.5 791.1 1402.8 791.4 1401.1 791.7 1399.4 791.9 1397.8 792.2 1396.1 792.4 1394.4 792.6 1392.7 792.7 1390.9 792.9 1389 792.9 1387.2 792.9 1385.2 792.9 1383.3 792.8 1381.4 792.8 1379.4 792.7 1377.5 792.6 1375.6 792.5 1373.7 792.5 1371.8 792.5 1370.1 792.5 1368.4 792.6 1366.7 792.6 1365 792.7 1363.4 792.8 1361.7 792.9 1360.1 793 1358.4 793.2 1356.6 793.3 1354.7 793.5 1352.8 793.7 1350.7 794 1348.6 794.2 1346.5 794.5 1344.3 794.8 1342.1 795.2 1340 795.5 1337.8 795.9 1335.8 796.3 1333.8 796.7 1331.8 797.1 1329.7 797.6 1327.6 798.1 1325.5 798.6 1323.4 799.2 1321.5 799.8 1319.7 800.3 1318.1 800.8 1316.8 801.2 1315.7 801.6Z" fill="#00ffff" fill-opacity="0.8"/><path d="M1315.7 796.6C1318.7 796 1327.3 793.9 1333.8 792.8C1340.3 791.7 1348.4 790.6 1354.7 789.9C1361.1 789.3 1365.8 789.1 1371.8 789C1377.9 788.9 1384.8 789.7 1390.9 789.4C1396.9 789 1402 787.9 1408 787.1C1414 786.2 1420.7 785.2 1427 784.2C1433.4 783.3 1439.7 782 1446.1 781.4C1452.4 780.7 1459.4 780.5 1465.1 780.4C1470.8 780.3 1474.6 781 1480.3 781C1486 781 1493 781.3 1499.4 780.4C1505.7 779.5 1512.1 777.2 1518.4 775.6C1524.7 774.1 1530.5 772 1537.4 770.9C1544.4 769.8 1553.9 769.1 1560.3 769C1566.6 768.8 1569.8 769.3 1575.5 769.9C1581.2 770.6 1588.2 771.8 1594.5 772.8C1600.9 773.7 1607.2 774.9 1613.6 775.6C1619.9 776.4 1626.5 777.1 1632.6 777.6C1638.7 778 1647.3 778 1650.3 778.1" fill="none" stroke="#000" stroke-width="1.1"/>
<path d="M1694.7 794 1696 793.6 1697.7 792.9 1699.6 792.2 1701.7 791.2 1704.1 790.2 1706.6 789 1709.1 787.8 1711.8 786.5 1714.4 785.1 1717 783.7 1719.6 782.3 1722.3 780.8 1725 779.1 1727.9 777.5 1730.8 775.7 1733.7 774 1736.7 772.2 1739.6 770.5 1742.6 768.7 1745.4 767.1 1748.3 765.4 1751.1 763.8 1754 762.2 1756.8 760.6 1759.7 759 1762.5 757.4 1765.4 755.8 1768.2 754.2 1771.1 752.6 1773.9 751 1776.8 749.3 1779.6 747.7 1782.5 746 1785.3 744.3 1788.2 742.7 1791 741 1793.9 739.4 1796.7 737.8 1799.5 736.3 1802.4 734.8 1805.3 733.4 1808.2 732 1811.2 730.6 1814.2 729.3 1817.2 728 1820.2 726.7 1823 725.5 1825.8 724.4 1828.4 723.4 1830.9 722.5 1833.2 721.7 1835.3 721 1837.3 720.4 1839.2 719.8 1841 719.4 1842.7 719 1844.5 718.6 1846.2 718.3 1848 718 1849.9 717.8 1851.8 717.5 1853.7 717.3 1855.6 717.2 1857.5 717.1 1859.4 717 1861.3 717 1863.2 717 1865.1 717.1 1866.9 717.2 1868.8 717.4 1870.7 717.6 1872.6 717.8 1874.5 718.1 1876.4 718.5 1878.3 718.8 1880.2 719.3 1882.1 719.8 1884 720.3 1885.9 720.9 1887.8 721.6 1889.7 722.3 1891.6 723.1 1893.5 724.1 1895.4 725.1 1897.3 726.1 1899.2 727.1 1901.1 728.2 1903 729.2 1904.9 730.1 1906.8 731 1908.7 731.9 1910.6 732.7 1912.5 733.5 1914.4 734.2 1916.3 735 1918.2 735.7 1920.1 736.4 1922 737.1 1923.9 737.9 1925.8 738.6 1927.7 739.4 1929.6 740.1 1931.5 740.9 1933.4 741.6 1935.3 742.3 1937.2 743.1 1939.1 743.8 1941 744.6 1942.9 745.4 1944.8 746.2 1946.7 747.1 1948.6 747.9 1950.5 748.8 1952.4 749.7 1954.3 750.6 1956.2 751.6 1958.1 752.5 1960 753.5 1961.9 754.6 1963.8 755.7 1965.7 756.9 1967.6 758.1 1969.5 759.3 1971.4 760.6 1973.3 762 1975.2 763.3 1977.1 764.7 1979 766.1 1980.9 767.5 1982.8 768.9 1984.6 770.4 1986.4 771.8 1988.2 773.2 1989.9 774.6 1991.7 776.1 1993.5 777.6 1995.4 779.1 1997.4 780.7 1999.5 782.3 2001.8 783.9 2004.3 785.7 2007.2 787.6 2010.4 789.6 2013.7 791.7 2017 793.7 2020.2 795.6 2023.2 797.2 2025.9 798.7 2028.1 799.8 2029.9 800.7L2029.9 812.2 2028.1 810.7 2025.9 808.9 2023.2 806.8 2020.2 804.5 2017 802.1 2013.7 799.7 2010.4 797.3 2007.2 795 2004.3 792.9 2001.8 791 1999.5 789.3 1997.4 787.6 1995.4 786 1993.5 784.4 1991.7 782.9 1989.9 781.4 1988.2 779.9 1986.4 778.5 1984.6 777 1982.8 775.6 1980.9 774.2 1979 772.7 1977.1 771.3 1975.2 769.9 1973.3 768.6 1971.4 767.2 1969.5 765.9 1967.6 764.6 1965.7 763.4 1963.8 762.2 1961.9 761.1 1960 760.1 1958.1 759.1 1956.2 758.1 1954.3 757.1 1952.4 756.2 1950.5 755.3 1948.6 754.5 1946.7 753.6 1944.8 752.7 1942.9 751.9 1941 751.1 1939.1 750.3 1937.2 749.6 1935.3 748.8 1933.4 748.1 1931.5 747.4 1929.6 746.6 1927.7 745.9 1925.8 745.1 1923.9 744.4 1922 743.7 1920.1 742.9 1918.2 742.2 1916.3 741.5 1914.4 740.7 1912.5 740 1910.6 739.2 1908.7 738.4 1906.8 737.5 1904.9 736.6 1903 735.7 1901.1 734.7 1899.2 733.6 1897.3 732.6 1895.4 731.6 1893.5 730.6 1891.6 729.6 1889.7 728.8 1887.8 728.1 1885.9 727.4 1884 726.8 1882.1 726.3 1880.2 725.8 1878.3 725.3 1876.4 725 1874.5 724.6 1872.6 724.3 1870.7 724.1 1868.8 723.9 1866.9 723.7 1865.1 723.6 1863.2 723.5 1861.3 723.5 1859.4 723.5 1857.5 723.6 1855.6 723.7 1853.7 723.8 1851.8 724 1849.9 724.3 1848 724.5 1846.2 724.8 1844.5 725.1 1842.7 725.5 1841 725.9 1839.2 726.3 1837.3 726.9 1835.3 727.5 1833.2 728.2 1830.9 729 1828.4 729.9 1825.8 730.9 1823 732 1820.2 733.2 1817.2 734.5 1814.2 735.8 1811.2 737.1 1808.2 738.5 1805.3 739.9 1802.4 741.3 1799.5 742.8 1796.7 744.3 1793.9 745.9 1791 747.5 1788.2 749.2 1785.3 750.8 1782.5 752.5 1779.6 754.2 1776.8 755.9 1773.9 757.5 1771.1 759.1 1768.2 760.7 1765.4 762.3 1762.5 763.9 1759.7 765.5 1756.8 767.1 1754 768.7 1751.1 770.4 1748.3 772 1745.4 773.7 1742.6 775.4 1739.6 777.1 1736.7 778.9 1733.7 780.7 1730.8 782.6 1727.9 784.4 1725 786.2 1722.3 787.9 1719.6 789.6 1717 791.2 1714.4 792.8 1711.8 794.4 1709.1 796 1706.6 797.6 1704.1 799.2 1701.7 800.7 1699.6 802.1 1697.7 803.5 1696 804.6 1694.7 805.5Z" fill="#ff00ff" fill-opacity="0.8"/><path d="M1694.7 799.8C1698.4 797.7 1708.5 792.4 1717 787.5C1725.4 782.6 1735.9 775.9 1745.4 770.4C1754.9 764.8 1764.4 759.6 1773.9 754.2C1783.4 748.9 1792.9 742.8 1802.4 738.1C1811.9 733.3 1823 728.6 1830.9 725.8C1838.8 722.9 1843.5 721.9 1849.9 721C1856.2 720.1 1862.5 720 1868.8 720.6C1875.2 721.3 1881.5 722.5 1887.8 724.8C1894.2 727.1 1900.5 731.4 1906.8 734.3C1913.1 737.1 1919.5 739.4 1925.8 741.9C1932.1 744.4 1938.5 746.6 1944.8 749.5C1951.1 752.3 1957.4 755.2 1963.8 759C1970.1 762.8 1976.4 767.5 1982.8 772.3C1989.1 777 1993.9 781.8 2001.8 787.5C2009.6 793.2 2025.2 803.3 2029.9 806.4" fill="none" stroke="#000" stroke-width="1.1"/>
<path d="M1694.7 807.8 1696 807.7 1697.5 807.6 1699.3 807.5 1701.3 807.4 1703.5 807.2 1705.9 807 1708.4 806.8 1711.2 806.7 1714 806.5 1717 806.3 1720.1 806.1 1723.5 805.9 1727.2 805.7 1731 805.5 1735 805.3 1739 805.1 1743 805 1747.1 804.8 1751.1 804.6 1754.9 804.5 1758.6 804.4 1762.2 804.3 1765.7 804.2 1769.2 804.2 1772.7 804.1 1776.3 804.1 1780.1 804 1784.1 804 1788.3 804 1792.9 803.9 1797.9 803.9 1803.4 803.8 1809.2 803.8 1815.2 803.8 1821.4 803.8 1827.5 803.7 1833.6 803.7 1839.4 803.7 1844.8 803.6 1849.9 803.5 1854.4 803.5 1858.7 803.4 1862.6 803.3 1866.4 803.2 1870 803.1 1873.6 803 1877 802.9 1880.5 802.8 1884.1 802.7 1887.8 802.6 1891.6 802.5 1895.4 802.4 1899.2 802.2 1903 802.1 1906.8 802 1910.6 801.8 1914.4 801.7 1918.2 801.7 1922 801.6 1925.8 801.6 1929.6 801.7 1933.4 801.8 1937.2 801.9 1941 802 1944.8 802.2 1948.6 802.4 1952.4 802.6 1956.2 802.8 1960 803 1963.8 803.2 1967.6 803.4 1971.5 803.6 1975.5 803.8 1979.4 804.1 1983.4 804.3 1987.3 804.5 1991.1 804.8 1994.8 805 1998.4 805.2 2001.8 805.3 2005.1 805.4 2008.5 805.5 2011.8 805.6 2015 805.6 2018.2 805.6 2021.1 805.6 2023.8 805.6 2026.2 805.5 2028.2 805.5 2029.9 805.4L2029.9 809.4 2028.2 809.2 2026.2 809 2023.8 808.9 2021.1 808.7 2018.2 808.5 2015 808.3 2011.8 808.1 2008.5 807.9 2005.1 807.8 2001.8 807.6 1998.4 807.4 1994.8 807.1 1991.1 806.9 1987.3 806.6 1983.4 806.4 1979.4 806.1 1975.5 805.9 1971.5 805.6 1967.6 805.4 1963.8 805.2 1960 805 1956.2 804.8 1952.4 804.6 1948.6 804.4 1944.8 804.2 1941 804 1937.2 803.9 1933.4 803.8 1929.6 803.7 1925.8 803.6 1922 803.6 1918.2 803.7 1914.4 803.7 1910.6 803.8 1906.8 804 1903 804.1 1899.2 804.2 1895.4 804.4 1891.6 804.5 1887.8 804.6 1884.1 804.7 1880.5 804.8 1877 804.9 1873.6 805 1870 805.1 1866.4 805.2 1862.6 805.3 1858.7 805.4 1854.4 805.5 1849.9 805.5 1844.8 805.6 1839.4 805.7 1833.6 805.7 1827.5 805.7 1821.4 805.8 1815.2 805.8 1809.2 805.8 1803.4 805.8 1797.9 805.9 1792.9 805.9 1788.3 806 1784.1 806 1780.1 806 1776.3 806.1 1772.7 806.1 1769.2 806.2 1765.7 806.2 1762.2 806.3 1758.6 806.4 1754.9 806.5 1751.1 806.6 1747.1 806.8 1743 807 1739 807.2 1735 807.4 1731 807.6 1727.2 807.8 1723.5 808 1720.1 808.3 1717 808.5 1714 808.7 1711.2 808.9 1708.4 809.2 1705.9 809.5 1703.5 809.7 1701.3 810 1699.3 810.2 1697.5 810.4 1696 810.6 1694.7 810.8Z" fill="#ffc400" fill-opacity="0.8"/><path d="M1694.7 809.3C1698.4 809 1706.9 808 1717 807.4C1727 806.8 1742.3 805.9 1754.9 805.5C1767.6 805.1 1777.1 805.1 1792.9 804.9C1808.7 804.8 1834 804.8 1849.9 804.5C1865.7 804.3 1875.2 803.9 1887.8 803.6C1900.5 803.3 1913.1 802.5 1925.8 802.6C1938.5 802.7 1951.1 803.5 1963.8 804.2C1976.4 804.8 1990.7 805.9 2001.8 806.4C2012.8 807 2025.2 807.2 2029.9 807.4" fill="none" stroke="#000" stroke-width="1.1"/>
<path d="M1694.7 799.2 1696.1 798 1697.8 796.5 1699.9 794.6 1702.2 792.4 1704.7 789.9 1707.2 787.3 1709.8 784.6 1712.4 781.9 1714.8 779.2 1717 776.7 1719 774.2 1721 771.6 1722.9 768.9 1724.8 766.2 1726.7 763.5 1728.5 760.9 1730.4 758.3 1732.2 755.9 1734.1 753.5 1735.9 751.3 1737.8 749.3 1739.7 747.3 1741.6 745.5 1743.5 743.7 1745.4 742 1747.3 740.5 1749.2 738.9 1751.1 737.5 1753 736.1 1754.9 734.7 1756.8 733.4 1758.7 732.1 1760.6 731 1762.5 729.8 1764.4 728.8 1766.3 727.8 1768.2 726.9 1770.1 726 1772 725.2 1773.9 724.4 1775.8 723.7 1777.7 723.1 1779.6 722.5 1781.5 722 1783.4 721.6 1785.3 721.2 1787.2 720.9 1789.1 720.6 1791 720.3 1792.9 720.1 1794.8 720 1796.7 719.9 1798.6 720 1800.5 720 1802.4 720.1 1804.3 720.3 1806.2 720.4 1808.1 720.5 1810 720.7 1811.9 720.7 1813.8 720.8 1815.7 720.9 1817.6 721 1819.5 721 1821.4 721.1 1823.3 721.2 1825.2 721.3 1827.1 721.3 1829 721.3 1830.9 721.3 1832.8 721.3 1834.7 721.2 1836.6 721.1 1838.5 721 1840.4 720.9 1842.3 720.8 1844.2 720.7 1846.1 720.5 1848 720.3 1849.9 720.2 1851.8 720 1853.8 719.8 1855.9 719.5 1857.9 719.2 1859.9 719 1861.9 718.7 1863.8 718.5 1865.7 718.2 1867.3 718 1868.8 717.9 1870.2 717.8 1871.4 717.7 1872.4 717.7 1873.3 717.6 1874.2 717.6 1875 717.6 1875.8 717.7 1876.6 717.7 1877.4 717.8 1878.3 717.9 1879.2 718 1880.1 718.1 1880.9 718.3 1881.7 718.5 1882.5 718.6 1883.4 718.9 1884.3 719.1 1885.3 719.4 1886.5 719.8 1887.8 720.2 1889.3 720.7 1891 721.2 1892.8 721.8 1894.7 722.5 1896.7 723.2 1898.8 723.9 1900.8 724.6 1902.9 725.3 1904.9 725.9 1906.8 726.4 1908.7 726.9 1910.5 727.4 1912.2 727.8 1914 728.2 1915.7 728.6 1917.5 728.9 1919.4 729.3 1921.4 729.6 1923.5 729.9 1925.8 730.2 1928.3 730.5 1930.9 730.7 1933.7 730.9 1936.5 731.1 1939.5 731.3 1942.4 731.5 1945.4 731.7 1948.4 731.9 1951.4 732.2 1954.3 732.6 1957.1 733 1960 733.5 1962.8 734.1 1965.7 734.7 1968.5 735.3 1971.4 735.9 1974.2 736.6 1977.1 737.2 1979.9 737.8 1982.8 738.3 1985.7 738.8 1988.6 739.4 1991.6 739.9 1994.6 740.4 1997.6 740.9 2000.6 741.4 2003.4 741.8 2006.2 742.1 2008.8 742.3 2011.2 742.5 2013.6 742.6 2015.9 742.6 2018.1 742.5 2020.3 742.4 2022.3 742.2 2024.2 741.9 2025.9 741.7 2027.5 741.4 2028.8 741.2 2029.9 741L2029.9 761 2028.8 760.7 2027.5 760.3 2025.9 759.9 2024.2 759.5 2022.3 759 2020.3 758.6 2018.1 758.1 2015.9 757.6 2013.6 757 2011.2 756.5 2008.8 755.8 2006.2 755.2 2003.4 754.4 2000.6 753.7 1997.6 752.9 1994.6 752.2 1991.6 751.4 1988.6 750.7 1985.7 749.9 1982.8 749.3 1979.9 748.6 1977.1 747.9 1974.2 747.2 1971.4 746.5 1968.5 745.8 1965.7 745.1 1962.8 744.5 1960 743.9 1957.1 743.3 1954.3 742.8 1951.4 742.4 1948.4 742.1 1945.4 741.8 1942.4 741.6 1939.5 741.4 1936.5 741.2 1933.7 741 1930.9 740.8 1928.3 740.6 1925.8 740.3 1923.5 740 1921.4 739.6 1919.4 739.3 1917.5 739 1915.7 738.6 1914 738.2 1912.2 737.8 1910.5 737.4 1908.7 736.9 1906.8 736.5 1904.9 735.9 1902.9 735.3 1900.8 734.6 1898.8 733.9 1896.7 733.2 1894.7 732.5 1892.8 731.9 1891 731.2 1889.3 730.7 1887.8 730.2 1886.5 729.8 1885.3 729.4 1884.3 729.1 1883.4 728.9 1882.5 728.7 1881.7 728.5 1880.9 728.3 1880.1 728.2 1879.2 728 1878.3 727.9 1877.4 727.8 1876.6 727.7 1875.8 727.7 1875 727.6 1874.2 727.6 1873.3 727.6 1872.4 727.7 1871.4 727.7 1870.2 727.8 1868.8 727.9 1867.3 728 1865.7 728.2 1863.8 728.5 1861.9 728.7 1859.9 729 1857.9 729.2 1855.9 729.5 1853.8 729.8 1851.8 730 1849.9 730.2 1848 730.4 1846.1 730.5 1844.2 730.7 1842.3 730.8 1840.4 730.9 1838.5 731 1836.6 731.1 1834.7 731.2 1832.8 731.3 1830.9 731.3 1829 731.3 1827.1 731.3 1825.2 731.3 1823.3 731.2 1821.4 731.2 1819.5 731.1 1817.6 731 1815.7 730.9 1813.8 730.8 1811.9 730.8 1810 730.7 1808.1 730.6 1806.2 730.4 1804.3 730.3 1802.4 730.2 1800.5 730.1 1798.6 730 1796.7 730 1794.8 730.1 1792.9 730.2 1791 730.4 1789.1 730.7 1787.2 731 1785.3 731.3 1783.4 731.7 1781.5 732.2 1779.6 732.7 1777.7 733.3 1775.8 733.9 1773.9 734.7 1772 735.4 1770.1 736.3 1768.2 737.2 1766.3 738.1 1764.4 739.2 1762.5 740.2 1760.6 741.4 1758.7 742.6 1756.8 743.9 1754.9 745.3 1753 746.7 1751.1 748.2 1749.2 749.7 1747.3 751.3 1745.4 753 1743.5 754.8 1741.6 756.6 1739.7 758.6 1737.8 760.7 1735.9 762.9 1734.1 765.2 1732.2 767.7 1730.4 770.4 1728.5 773.1 1726.7 776 1724.8 778.9 1722.9 781.9 1721 784.8 1719 787.8 1717 790.6 1714.8 793.7 1712.4 796.9 1709.8 800.3 1707.2 803.8 1704.7 807.3 1702.2 810.7 1699.9 813.9 1697.8 816.8 1696.1 819.3 1694.7 821.2Z" fill="#808080" fill-opacity="0.8"/><path d="M1694.7 810.2C1698.4 805.8 1710.1 792.5 1717 783.7C1723.8 774.8 1729.6 764.4 1735.9 757.1C1742.3 749.8 1748.6 744.6 1754.9 740C1761.3 735.4 1767.6 732 1773.9 729.5C1780.2 727.1 1786.6 725.8 1792.9 725.2C1799.2 724.5 1805.6 725.6 1811.9 725.8C1818.2 725.9 1824.5 726.4 1830.9 726.3C1837.2 726.2 1843.5 725.8 1849.9 725.2C1856.2 724.6 1864.1 723.3 1868.8 722.9C1873.6 722.5 1875.2 722.5 1878.3 722.9C1881.5 723.3 1883.1 723.8 1887.8 725.2C1892.6 726.6 1900.5 729.8 1906.8 731.4C1913.1 733.1 1917.9 734.2 1925.8 735.2C1933.7 736.3 1944.8 736.3 1954.3 737.7C1963.8 739.1 1973.3 741.8 1982.8 743.8C1992.3 745.7 2003.4 748.3 2011.2 749.5C2019.1 750.7 2026.7 750.7 2029.9 751" fill="none" stroke="#000" stroke-width="1.1"/>
<path d="M1694.7 804.2 1696 803.3 1697.7 802.1 1699.6 800.7 1701.7 799.1 1704.1 797.3 1706.6 795.3 1709.1 793.2 1711.8 791 1714.4 788.8 1717 786.7 1719.6 784.5 1722.3 782.2 1725 779.9 1727.9 777.5 1730.8 775 1733.7 772.5 1736.7 770 1739.6 767.5 1742.6 765 1745.4 762.5 1748.3 760 1751.1 757.5 1754 755 1756.8 752.5 1759.7 750 1762.5 747.5 1765.4 745 1768.2 742.6 1771.1 740.2 1773.9 737.9 1776.8 735.6 1779.6 733.5 1782.5 731.3 1785.3 729.3 1788.2 727.2 1791 725.2 1793.9 723.1 1796.7 721.1 1799.5 719.1 1802.4 717 1805.2 714.9 1808.1 712.9 1810.9 710.8 1813.8 708.7 1816.6 706.7 1819.5 704.6 1822.3 702.5 1825.2 700.4 1828 698.3 1830.9 696.1 1833.7 693.9 1836.6 691.6 1839.4 689.2 1842.3 686.8 1845.1 684.4 1848 682 1850.8 679.7 1853.7 677.4 1856.5 675.3 1859.4 673.3 1862.2 671.5 1865.1 669.7 1867.9 668 1870.7 666.3 1873.6 664.8 1876.4 663.3 1879.3 661.9 1882.1 660.6 1885 659.3 1887.8 658.1 1890.7 657.1 1893.7 656.1 1896.7 655.3 1899.7 654.6 1902.7 653.9 1905.6 653.2 1908.5 652.6 1911.2 651.9 1913.8 651.3 1916.3 650.6 1918.6 649.8 1920.7 649.1 1922.7 648.5 1924.6 647.8 1926.4 647.1 1928.2 646.4 1929.9 645.7 1931.7 644.8 1933.4 643.9 1935.3 643 1937.2 641.9 1939.1 640.6 1941 639.4 1942.9 638 1944.8 636.6 1946.7 635.2 1948.6 633.8 1950.5 632.3 1952.4 631 1954.3 629.7 1956.2 628.3 1958.1 627 1960 625.7 1961.9 624.3 1963.8 623 1965.7 621.7 1967.6 620.5 1969.5 619.3 1971.4 618.2 1973.3 617.3 1975.2 616.4 1977.1 615.5 1979 614.7 1980.9 613.9 1982.8 613.2 1984.7 612.6 1986.6 612.1 1988.5 611.7 1990.4 611.5 1992.3 611.4 1994.2 611.5 1996.1 611.7 1998 612.1 1999.9 612.7 2001.8 613.3 2003.7 614 2005.6 614.8 2007.5 615.6 2009.4 616.4 2011.2 617.3 2013.2 618.2 2015.3 619.4 2017.4 620.6 2019.6 621.9 2021.7 623.2 2023.8 624.3 2025.6 625.4 2027.3 626.3 2028.7 627.1 2029.9 627.6L2029.9 643.6 2028.7 642.4 2027.3 641 2025.6 639.3 2023.8 637.4 2021.7 635.5 2019.6 633.6 2017.4 631.8 2015.3 630.1 2013.2 628.6 2011.2 627.3 2009.4 626.2 2007.5 625.1 2005.6 624.1 2003.7 623.1 2001.8 622.3 1999.9 621.5 1998 620.9 1996.1 620.4 1994.2 620 1992.3 619.9 1990.4 619.9 1988.5 620.1 1986.6 620.4 1984.7 620.8 1982.8 621.4 1980.9 622.1 1979 622.8 1977.1 623.6 1975.2 624.5 1973.3 625.4 1971.4 626.3 1969.5 627.4 1967.6 628.5 1965.7 629.8 1963.8 631.1 1961.9 632.4 1960 633.7 1958.1 635.1 1956.2 636.4 1954.3 637.7 1952.4 639 1950.5 640.4 1948.6 641.8 1946.7 643.2 1944.8 644.6 1942.9 646 1941 647.4 1939.1 648.7 1937.2 649.9 1935.3 651 1933.4 652 1931.7 652.8 1929.9 653.7 1928.2 654.4 1926.4 655.1 1924.6 655.8 1922.7 656.5 1920.7 657.1 1918.6 657.8 1916.3 658.6 1913.8 659.3 1911.2 660 1908.5 660.6 1905.6 661.2 1902.7 661.9 1899.7 662.6 1896.7 663.3 1893.7 664.1 1890.7 665.1 1887.8 666.1 1885 667.3 1882.1 668.6 1879.3 669.9 1876.4 671.3 1873.6 672.8 1870.7 674.3 1867.9 676 1865.1 677.7 1862.2 679.5 1859.4 681.3 1856.5 683.3 1853.7 685.4 1850.8 687.7 1848 690 1845.1 692.4 1842.3 694.8 1839.4 697.2 1836.6 699.6 1833.7 701.9 1830.9 704.1 1828 706.3 1825.2 708.4 1822.3 710.5 1819.5 712.6 1816.6 714.7 1813.8 716.7 1810.9 718.8 1808.1 720.9 1805.2 722.9 1802.4 725 1799.5 727.1 1796.7 729.1 1793.9 731.2 1791 733.2 1788.2 735.2 1785.3 737.3 1782.5 739.3 1779.6 741.5 1776.8 743.7 1773.9 745.9 1771.1 748.2 1768.2 750.6 1765.4 753 1762.5 755.5 1759.7 758 1756.8 760.5 1754 763.1 1751.1 765.6 1748.3 768.1 1745.4 770.6 1742.6 773.1 1739.6 775.7 1736.7 778.3 1733.7 780.8 1730.8 783.4 1727.9 786 1725 788.5 1722.3 791 1719.6 793.4 1717 795.8 1714.4 798.2 1711.8 800.7 1709.1 803.2 1706.6 805.8 1704.1 808.3 1701.7 810.7 1699.6 812.9 1697.7 815 1696 816.7 1694.7 818.2Z" fill="#00ffff" fill-opacity="0.8"/><path d="M1694.7 811.2C1698.4 807.9 1708.5 798.7 1717 791.3C1725.4 783.8 1735.9 774.8 1745.4 766.6C1754.9 758.3 1764.4 749.5 1773.9 741.9C1783.4 734.3 1792.9 728 1802.4 721C1811.9 714 1821.4 707.4 1830.9 700.1C1840.4 692.8 1849.9 683.7 1859.4 677.3C1868.8 671 1878.3 665.9 1887.8 662.1C1897.3 658.4 1908.4 657.1 1916.3 654.6C1924.2 652 1929 650.4 1935.3 647C1941.6 643.5 1948 637.9 1954.3 633.7C1960.6 629.4 1966.9 624.3 1973.3 621.3C1979.6 618.3 1985.9 615.5 1992.3 615.6C1998.6 615.8 2005 619 2011.2 622.3C2017.5 625.6 2026.7 633.4 2029.9 635.6" fill="none" stroke="#000" stroke-width="1.1"/>
<path d="M1314.4 1233.4 1315.2 1233.2 1316.1 1232.8 1317.3 1232.4 1318.6 1231.9 1320 1231.4 1321.5 1230.8 1323.1 1230.3 1324.8 1229.7 1326.4 1229.2 1328.1 1228.7 1329.8 1228.2 1331.5 1227.7 1333.4 1227.3 1335.3 1226.8 1337.2 1226.3 1339.2 1225.8 1341.2 1225.4 1343.2 1225 1345.2 1224.6 1347.1 1224.3 1349 1224.1 1350.9 1223.9 1352.8 1223.8 1354.7 1223.7 1356.6 1223.6 1358.5 1223.5 1360.4 1223.5 1362.3 1223.5 1364.2 1223.5 1366.1 1223.5 1368 1223.5 1369.9 1223.6 1371.8 1223.7 1373.7 1223.8 1375.6 1223.9 1377.6 1224.1 1379.5 1224.2 1381.4 1224.3 1383.3 1224.4 1385.2 1224.5 1387.1 1224.5 1389 1224.6 1390.9 1224.6 1392.8 1224.7 1394.7 1224.7 1396.6 1224.7 1398.5 1224.7 1400.4 1224.7 1402.3 1224.6 1404.2 1224.5 1406.1 1224.3 1408 1224.2 1409.9 1224 1411.8 1223.8 1413.7 1223.6 1415.6 1223.3 1417.5 1223 1419.4 1222.6 1421.3 1222.2 1423.2 1221.6 1425.1 1221 1427 1220.3 1428.9 1219.6 1430.8 1218.7 1432.7 1217.9 1434.7 1217 1436.6 1216 1438.5 1215 1440.4 1214.1 1442.3 1213.1 1444.2 1212 1446.1 1211 1448 1209.8 1449.9 1208.7 1451.8 1207.5 1453.7 1206.3 1455.6 1205.2 1457.5 1204 1459.4 1202.8 1461.3 1201.6 1463.2 1200.5 1465.2 1199.4 1467.1 1198.2 1469.1 1197.1 1471.1 1195.9 1473 1194.8 1474.9 1193.6 1476.8 1192.5 1478.6 1191.4 1480.3 1190.2 1482 1189.1 1483.7 1188 1485.2 1186.9 1486.8 1185.7 1488.3 1184.6 1489.8 1183.5 1491.2 1182.4 1492.7 1181.2 1494.1 1180 1495.6 1178.8 1497 1177.6 1498.3 1176.3 1499.6 1175 1500.9 1173.7 1502.2 1172.4 1503.5 1171 1504.8 1169.7 1506.1 1168.3 1507.5 1166.9 1508.9 1165.5 1510.3 1164 1511.8 1162.5 1513.4 1161 1514.9 1159.4 1516.5 1157.9 1518.1 1156.3 1519.6 1154.7 1521.2 1153.2 1522.7 1151.7 1524.1 1150.2 1525.5 1148.8 1526.9 1147.4 1528.2 1145.9 1529.5 1144.5 1530.8 1143.1 1532.1 1141.7 1533.4 1140.4 1534.7 1139.1 1536 1138 1537.4 1136.9 1538.9 1136 1540.4 1135.1 1541.9 1134.4 1543.5 1133.7 1545 1133.1 1546.6 1132.5 1548.2 1131.9 1549.7 1131.4 1551.2 1130.8 1552.7 1130.3 1554.1 1129.7 1555.5 1129.2 1556.9 1128.8 1558.3 1128.4 1559.7 1127.9 1561 1127.5 1562.3 1127.1 1563.6 1126.6 1564.8 1126.1 1566 1125.5 1567.1 1124.9 1568 1124.3 1568.9 1123.7 1569.8 1123.1 1570.6 1122.5 1571.5 1121.8 1572.3 1121 1573.3 1120.1 1574.3 1119 1575.5 1117.9 1576.8 1116.5 1578.2 1115 1579.8 1113.3 1581.4 1111.4 1583 1109.6 1584.6 1107.6 1586.3 1105.8 1587.8 1104 1589.3 1102.3 1590.7 1100.7 1592 1099.3 1593.3 1097.9 1594.5 1096.6 1595.7 1095.3 1596.9 1094.1 1598 1092.9 1599.1 1091.8 1600.2 1090.9 1601.2 1090 1602.1 1089.3 1603.1 1088.7 1603.9 1088.2 1604.7 1087.8 1605.5 1087.5 1606.2 1087.2 1606.9 1087.1 1607.6 1087.1 1608.3 1087.1 1609 1087.2 1609.8 1087.3 1610.5 1087.5 1611.2 1087.7 1611.9 1087.9 1612.6 1088.1 1613.3 1088.5 1614.1 1089 1614.8 1089.6 1615.6 1090.5 1616.5 1091.6 1617.4 1093 1618.4 1094.6 1619.4 1096.5 1620.5 1098.6 1621.7 1101 1622.8 1103.5 1624 1106.1 1625.2 1108.8 1626.4 1111.7 1627.6 1114.6 1628.8 1117.5 1629.9 1120.5 1631.1 1123.7 1632.3 1127 1633.5 1130.5 1634.6 1134 1635.8 1137.5 1637 1141.1 1638.1 1144.5 1639.2 1147.9 1640.2 1151.1 1641.3 1154.4 1642.3 1157.8 1643.4 1161.2 1644.5 1164.7 1645.5 1168 1646.5 1171.2 1647.3 1174.1 1648.1 1176.7 1648.8 1178.9 1649.3 1180.6L1649.3 1189.6 1648.8 1187.7 1648.1 1185.4 1647.3 1182.6 1646.5 1179.4 1645.5 1176 1644.5 1172.5 1643.4 1168.8 1642.3 1165.2 1641.3 1161.6 1640.2 1158.2 1639.2 1154.8 1638.1 1151.3 1637 1147.6 1635.8 1144 1634.6 1140.3 1633.5 1136.7 1632.3 1133.2 1631.1 1129.7 1629.9 1126.4 1628.8 1123.3 1627.6 1120.3 1626.4 1117.4 1625.2 1114.5 1624 1111.7 1622.8 1109 1621.7 1106.5 1620.5 1104.1 1619.4 1101.9 1618.4 1100 1617.4 1098.3 1616.5 1096.9 1615.6 1095.8 1614.8 1094.9 1614.1 1094.3 1613.3 1093.8 1612.6 1093.4 1611.9 1093.1 1611.2 1092.9 1610.5 1092.7 1609.8 1092.5 1609 1092.4 1608.3 1092.3 1607.6 1092.2 1606.9 1092.3 1606.2 1092.4 1605.5 1092.6 1604.7 1092.9 1603.9 1093.3 1603.1 1093.8 1602.1 1094.4 1601.2 1095.1 1600.2 1096 1599.1 1096.9 1598 1098 1596.9 1099.1 1595.7 1100.4 1594.5 1101.7 1593.3 1103 1592 1104.4 1590.7 1105.8 1589.3 1107.3 1587.8 1109 1586.3 1110.8 1584.6 1112.7 1583 1114.6 1581.4 1116.5 1579.8 1118.3 1578.2 1120 1576.8 1121.5 1575.5 1122.9 1574.3 1124.1 1573.3 1125.1 1572.3 1126 1571.5 1126.8 1570.6 1127.5 1569.8 1128.1 1568.9 1128.7 1568 1129.3 1567.1 1129.9 1566 1130.5 1564.8 1131.1 1563.6 1131.6 1562.3 1132.1 1561 1132.5 1559.7 1132.9 1558.3 1133.4 1556.9 1133.8 1555.5 1134.2 1554.1 1134.7 1552.7 1135.3 1551.2 1135.8 1549.7 1136.4 1548.2 1136.9 1546.6 1137.5 1545 1138.1 1543.5 1138.7 1541.9 1139.4 1540.4 1140.1 1538.9 1141 1537.4 1141.9 1536 1143 1534.7 1144.1 1533.4 1145.4 1532.1 1146.7 1530.8 1148.1 1529.5 1149.5 1528.2 1150.9 1526.9 1152.4 1525.5 1153.8 1524.1 1155.2 1522.7 1156.7 1521.2 1158.2 1519.6 1159.7 1518.1 1161.3 1516.5 1162.9 1514.9 1164.4 1513.4 1166 1511.8 1167.5 1510.3 1169 1508.9 1170.5 1507.5 1171.9 1506.1 1173.3 1504.8 1174.7 1503.5 1176 1502.2 1177.4 1500.9 1178.7 1499.6 1180 1498.3 1181.3 1497 1182.6 1495.6 1183.8 1494.1 1185 1492.7 1186.2 1491.2 1187.4 1489.8 1188.5 1488.3 1189.6 1486.8 1190.7 1485.2 1191.9 1483.7 1193 1482 1194.1 1480.3 1195.2 1478.6 1196.4 1476.8 1197.5 1474.9 1198.6 1473 1199.8 1471.1 1200.9 1469.1 1202.1 1467.1 1203.2 1465.2 1204.4 1463.2 1205.5 1461.3 1206.6 1459.4 1207.8 1457.5 1209 1455.6 1210.2 1453.7 1211.3 1451.8 1212.5 1449.9 1213.7 1448 1214.8 1446.1 1216 1444.2 1217 1442.3 1218.1 1440.4 1219.1 1438.5 1220 1436.6 1221 1434.7 1222 1432.7 1222.9 1430.8 1223.7 1428.9 1224.6 1427 1225.3 1425.1 1226 1423.2 1226.6 1421.3 1227.2 1419.4 1227.6 1417.5 1228 1415.6 1228.3 1413.7 1228.6 1411.8 1228.8 1409.9 1229 1408 1229.2 1406.1 1229.3 1404.2 1229.5 1402.3 1229.6 1400.4 1229.7 1398.5 1229.7 1396.6 1229.7 1394.7 1229.7 1392.8 1229.7 1390.9 1229.6 1389 1229.6 1387.1 1229.5 1385.2 1229.5 1383.3 1229.4 1381.4 1229.3 1379.5 1229.2 1377.6 1229.1 1375.6 1229 1373.7 1228.8 1371.8 1228.7 1369.9 1228.6 1368 1228.6 1366.1 1228.6 1364.2 1228.6 1362.3 1228.6 1360.4 1228.6 1358.5 1228.6 1356.6 1228.7 1354.7 1228.8 1352.8 1228.9 1350.9 1229.1 1349 1229.3 1347.1 1229.6 1345.2 1229.9 1343.2 1230.3 1341.2 1230.8 1339.2 1231.3 1337.2 1231.8 1335.3 1232.4 1333.4 1233 1331.5 1233.6 1329.8 1234.2 1328.1 1234.8 1326.4 1235.4 1324.8 1236.1 1323.1 1236.8 1321.5 1237.6 1320 1238.4 1318.6 1239.1 1317.3 1239.8 1316.1 1240.5 1315.2 1241 1314.4 1241.4Z" fill="#ff00ff" fill-opacity="0.8"/><path d="M1314.4 1237.4C1316.6 1236.5 1322.6 1233.5 1328.1 1231.7C1333.5 1230 1340.8 1227.9 1347.1 1227C1353.4 1226 1359.8 1226 1366.1 1226C1372.5 1226 1378.8 1226.8 1385.2 1227C1391.5 1227.1 1397.9 1227.5 1404.2 1227C1410.5 1226.5 1416.9 1226 1423.2 1224.1C1429.6 1222.2 1435.9 1218.9 1442.3 1215.6C1448.6 1212.2 1455 1207.9 1461.3 1204.1C1467.6 1200.3 1474.6 1196.5 1480.3 1192.7C1486 1188.9 1490.8 1185.4 1495.6 1181.3C1500.3 1177.2 1504.1 1172.7 1508.9 1168C1513.6 1163.2 1519.3 1157.5 1524.1 1152.7C1528.9 1148 1532.7 1142.8 1537.4 1139.4C1542.2 1136.1 1547.9 1134.7 1552.7 1132.8C1557.4 1130.9 1562.2 1130.1 1566 1128C1569.8 1125.9 1571.4 1124.5 1575.5 1120.4C1579.6 1116.3 1586.3 1108 1590.7 1103.3C1595.2 1098.5 1599 1094.1 1602.1 1091.8C1605.3 1089.6 1607.2 1089.3 1609.8 1089.9C1612.3 1090.6 1614.2 1090.6 1617.4 1095.6C1620.5 1100.7 1625 1110.6 1628.8 1120.4C1632.6 1130.2 1636.8 1143.9 1640.2 1154.7C1643.6 1165.4 1647.8 1180 1649.3 1185.1" fill="none" stroke="#000" stroke-width="1.1"/>
<path d="M1314.4 1195.1 1314.9 1193.8 1315.7 1192.3 1316.6 1190.4 1317.5 1188.3 1318.6 1186 1319.7 1183.6 1320.9 1181.1 1322 1178.5 1323.2 1176 1324.3 1173.5 1325.3 1171.1 1326.4 1168.5 1327.6 1165.7 1328.7 1163 1329.9 1160.2 1331 1157.4 1332.2 1154.7 1333.4 1152.1 1334.5 1149.8 1335.7 1147.6 1336.8 1145.6 1337.9 1143.8 1339 1142 1340.2 1140.4 1341.3 1138.9 1342.4 1137.5 1343.5 1136.2 1344.7 1134.9 1345.9 1133.8 1347.1 1132.7 1348.4 1131.6 1349.7 1130.7 1351 1129.8 1352.4 1129 1353.8 1128.3 1355.1 1127.7 1356.5 1127.2 1357.8 1126.8 1359.2 1126.4 1360.4 1126.1 1361.6 1126 1362.8 1125.9 1363.9 1126 1365 1126.1 1366.1 1126.3 1367.2 1126.6 1368.3 1126.9 1369.5 1127.3 1370.6 1127.7 1371.8 1128.1 1373.1 1128.5 1374.4 1129 1375.8 1129.6 1377.1 1130.2 1378.5 1130.8 1379.9 1131.5 1381.2 1132.1 1382.6 1132.7 1383.9 1133.3 1385.2 1133.8 1386.4 1134.3 1387.5 1134.7 1388.6 1135.2 1389.6 1135.6 1390.6 1136 1391.7 1136.4 1392.8 1136.7 1394 1137.1 1395.2 1137.4 1396.6 1137.6 1398.1 1137.8 1399.6 1137.9 1401.3 1138 1403 1138 1404.8 1138 1406.6 1138.1 1408.4 1138.1 1410.2 1138.2 1412 1138.3 1413.7 1138.6 1415.4 1138.9 1417.2 1139.2 1418.9 1139.6 1420.7 1140 1422.4 1140.4 1424.1 1140.9 1425.8 1141.4 1427.5 1142 1429.2 1142.7 1430.8 1143.3 1432.4 1144.1 1434 1144.9 1435.6 1145.8 1437.1 1146.7 1438.6 1147.6 1440.1 1148.6 1441.6 1149.6 1443.1 1150.7 1444.6 1151.8 1446.1 1152.9 1447.6 1154 1449.1 1155.1 1450.5 1156.4 1452 1157.6 1453.4 1158.9 1454.9 1160.1 1456.5 1161.4 1458 1162.7 1459.6 1164 1461.3 1165.2 1463 1166.5 1464.9 1167.7 1466.7 1169 1468.6 1170.3 1470.6 1171.5 1472.5 1172.8 1474.5 1174 1476.5 1175.2 1478.4 1176.4 1480.3 1177.6 1482.2 1178.7 1484.1 1179.8 1486 1180.9 1487.9 1182 1489.8 1183.1 1491.8 1184.1 1493.7 1185.1 1495.6 1186.1 1497.5 1187.1 1499.4 1188.1 1501.3 1189 1503.2 1189.9 1505.1 1190.9 1507 1191.8 1508.9 1192.6 1510.8 1193.5 1512.7 1194.3 1514.6 1195.1 1516.5 1195.9 1518.4 1196.6 1520.3 1197.3 1522.2 1198 1524.1 1198.6 1526 1199.2 1527.9 1199.8 1529.8 1200.3 1531.7 1200.9 1533.6 1201.4 1535.5 1201.9 1537.4 1202.3 1539.3 1202.8 1541.2 1203.2 1543.1 1203.6 1545 1204 1546.9 1204.4 1548.9 1204.7 1550.8 1205.1 1552.7 1205.4 1554.6 1205.8 1556.5 1206.1 1558.4 1206.5 1560.3 1206.9 1562.2 1207.3 1564.1 1207.7 1566 1208 1567.9 1208.4 1569.8 1208.8 1571.7 1209.2 1573.6 1209.6 1575.5 1209.9 1577.4 1210.3 1579.3 1210.7 1581.2 1211 1583.1 1211.4 1585 1211.8 1586.9 1212.1 1588.8 1212.5 1590.7 1212.9 1592.6 1213.3 1594.5 1213.7 1596.4 1214.1 1598.3 1214.6 1600.2 1215 1602.1 1215.5 1604 1215.9 1605.9 1216.4 1607.9 1216.9 1609.8 1217.4 1611.7 1217.8 1613.6 1218.3 1615.5 1218.9 1617.4 1219.4 1619.3 1219.9 1621.3 1220.5 1623.2 1221 1625.1 1221.6 1627.1 1222.1 1628.9 1222.6 1630.8 1223.1 1632.6 1223.5 1634.4 1223.9 1636.4 1224.4 1638.3 1224.8 1640.3 1225.2 1642.2 1225.5 1644 1225.8 1645.6 1226 1647.1 1226.2 1648.4 1226.4 1649.3 1226.5L1649.3 1237 1648.4 1236.5 1647.1 1236 1645.6 1235.3 1644 1234.6 1642.2 1233.9 1640.3 1233.2 1638.3 1232.5 1636.4 1231.8 1634.4 1231.1 1632.6 1230.4 1630.8 1229.8 1628.9 1229.2 1627.1 1228.5 1625.1 1227.9 1623.2 1227.2 1621.3 1226.6 1619.3 1226 1617.4 1225.3 1615.5 1224.8 1613.6 1224.2 1611.7 1223.6 1609.8 1223.1 1607.9 1222.6 1605.9 1222.1 1604 1221.6 1602.1 1221.1 1600.2 1220.7 1598.3 1220.2 1596.4 1219.7 1594.5 1219.3 1592.6 1218.9 1590.7 1218.5 1588.8 1218.1 1586.9 1217.7 1585 1217.3 1583.1 1216.9 1581.2 1216.6 1579.3 1216.2 1577.4 1215.8 1575.5 1215.5 1573.6 1215.1 1571.7 1214.7 1569.8 1214.3 1567.9 1213.9 1566 1213.6 1564.1 1213.2 1562.2 1212.8 1560.3 1212.4 1558.4 1212 1556.5 1211.6 1554.6 1211.3 1552.7 1210.9 1550.8 1210.6 1548.9 1210.2 1546.9 1209.9 1545 1209.5 1543.1 1209.1 1541.2 1208.7 1539.3 1208.3 1537.4 1207.8 1535.5 1207.4 1533.6 1206.9 1531.7 1206.4 1529.8 1205.8 1527.9 1205.3 1526 1204.7 1524.1 1204.1 1522.2 1203.5 1520.3 1202.8 1518.4 1202.1 1516.5 1201.4 1514.6 1200.6 1512.7 1199.8 1510.8 1199 1508.9 1198.1 1507 1197.3 1505.1 1196.4 1503.2 1195.4 1501.3 1194.5 1499.4 1193.6 1497.5 1192.6 1495.6 1191.6 1493.7 1190.6 1491.8 1189.6 1489.8 1188.6 1487.9 1187.5 1486 1186.4 1484.1 1185.3 1482.2 1184.2 1480.3 1183.1 1478.4 1181.9 1476.5 1180.7 1474.5 1179.5 1472.5 1178.3 1470.6 1177 1468.6 1175.8 1466.7 1174.5 1464.9 1173.2 1463 1172 1461.3 1170.7 1459.6 1169.5 1458 1168.2 1456.5 1166.9 1454.9 1165.6 1453.4 1164.4 1452 1163.1 1450.5 1161.9 1449.1 1160.6 1447.6 1159.5 1446.1 1158.4 1444.6 1157.3 1443.1 1156.2 1441.6 1155.1 1440.1 1154.1 1438.6 1153.1 1437.1 1152.2 1435.6 1151.3 1434 1150.4 1432.4 1149.6 1430.8 1148.8 1429.2 1148.2 1427.5 1147.5 1425.8 1146.9 1424.1 1146.4 1422.4 1145.9 1420.7 1145.5 1418.9 1145.1 1417.2 1144.7 1415.4 1144.4 1413.7 1144.1 1412 1143.8 1410.2 1143.7 1408.4 1143.6 1406.6 1143.6 1404.8 1143.5 1403 1143.5 1401.3 1143.5 1399.6 1143.4 1398.1 1143.3 1396.6 1143.1 1395.2 1142.9 1394 1142.6 1392.8 1142.3 1391.7 1141.9 1390.6 1141.5 1389.6 1141.1 1388.6 1140.7 1387.5 1140.3 1386.4 1139.8 1385.2 1139.3 1383.9 1138.8 1382.6 1138.3 1381.2 1137.6 1379.9 1137 1378.5 1136.4 1377.1 1135.7 1375.8 1135.1 1374.4 1134.6 1373.1 1134.1 1371.8 1133.6 1370.6 1133.3 1369.5 1132.9 1368.3 1132.5 1367.2 1132.2 1366.1 1131.9 1365 1131.7 1363.9 1131.6 1362.8 1131.5 1361.6 1131.6 1360.4 1131.8 1359.2 1132.1 1357.8 1132.5 1356.5 1132.9 1355.1 1133.5 1353.8 1134.1 1352.4 1134.8 1351 1135.6 1349.7 1136.5 1348.4 1137.5 1347.1 1138.6 1345.9 1139.7 1344.7 1140.9 1343.5 1142.2 1342.4 1143.6 1341.3 1145.1 1340.2 1146.6 1339 1148.3 1337.9 1150.1 1336.8 1152 1335.7 1154.1 1334.5 1156.4 1333.4 1158.9 1332.2 1161.5 1331 1164.3 1329.9 1167.2 1328.7 1170.2 1327.6 1173.1 1326.4 1176 1325.3 1178.8 1324.3 1181.4 1323.2 1184.1 1322 1186.8 1320.9 1189.6 1319.7 1192.4 1318.6 1195.1 1317.5 1197.7 1316.6 1200.2 1315.7 1202.3 1314.9 1204.1 1314.4 1205.6Z" fill="#ffc400" fill-opacity="0.8"/><path d="M1314.4 1200.3C1316 1196.5 1320.7 1185.7 1324.3 1177.5C1327.8 1169.2 1331.9 1157.8 1335.7 1150.8C1339.5 1143.9 1343 1139.3 1347.1 1135.6C1351.2 1132 1356.3 1129.8 1360.4 1129C1364.5 1128.2 1367.7 1129.6 1371.8 1130.9C1376 1132.1 1381 1135 1385.2 1136.6C1389.3 1138.2 1391.8 1139.6 1396.6 1140.4C1401.3 1141.2 1408 1140.4 1413.7 1141.3C1419.4 1142.3 1425.5 1143.7 1430.8 1146.1C1436.2 1148.5 1441 1152 1446.1 1155.6C1451.1 1159.3 1455.6 1163.9 1461.3 1168C1467 1172.1 1474 1176.5 1480.3 1180.3C1486.7 1184.2 1493 1187.6 1499.4 1190.8C1505.7 1194 1512.1 1197 1518.4 1199.4C1524.7 1201.8 1531.1 1203.5 1537.4 1205.1C1543.8 1206.7 1550.1 1207.6 1556.5 1208.9C1562.8 1210.2 1569.2 1211.4 1575.5 1212.7C1581.8 1214 1588.2 1215.1 1594.5 1216.5C1600.9 1217.9 1607.2 1219.5 1613.6 1221.3C1619.9 1223 1626.6 1225.2 1632.6 1227C1638.6 1228.7 1646.6 1230.9 1649.3 1231.7" fill="none" stroke="#000" stroke-width="1.1"/>
<path d="M1314.4 1229.6 1315.2 1228.9 1316.1 1228.1 1317.3 1227 1318.6 1225.9 1320 1224.6 1321.5 1223.2 1323.1 1221.8 1324.8 1220.3 1326.4 1218.9 1328.1 1217.5 1329.8 1216.2 1331.5 1214.7 1333.4 1213.1 1335.3 1211.6 1337.2 1210 1339.2 1208.4 1341.2 1206.9 1343.2 1205.5 1345.2 1204.1 1347.1 1202.9 1349 1201.7 1350.9 1200.7 1352.8 1199.7 1354.7 1198.8 1356.6 1198 1358.5 1197.2 1360.4 1196.4 1362.3 1195.7 1364.2 1195.1 1366.1 1194.4 1368 1193.9 1369.9 1193.3 1371.8 1192.9 1373.7 1192.5 1375.6 1192.1 1377.6 1191.7 1379.5 1191.4 1381.4 1191.2 1383.3 1190.9 1385.2 1190.7 1387.1 1190.5 1389 1190.3 1390.9 1190.3 1392.8 1190.2 1394.7 1190.2 1396.6 1190.2 1398.5 1190.1 1400.4 1190 1402.3 1189.9 1404.2 1189.7 1406.1 1189.5 1408 1189.2 1409.9 1189 1411.8 1188.7 1413.7 1188.4 1415.6 1188 1417.5 1187.6 1419.4 1187.1 1421.3 1186.6 1423.2 1185.9 1425.1 1185.1 1427 1184.3 1428.9 1183.3 1430.8 1182.3 1432.7 1181.2 1434.7 1180.1 1436.6 1178.9 1438.5 1177.8 1440.4 1176.6 1442.3 1175.4 1444.2 1174.3 1446.1 1173.1 1448 1171.9 1449.9 1170.6 1451.8 1169.4 1453.7 1168.1 1455.6 1166.8 1457.5 1165.6 1459.4 1164.3 1461.3 1163.1 1463.2 1161.8 1465.2 1160.6 1467.1 1159.4 1469.1 1158.1 1471.1 1156.9 1473 1155.6 1474.9 1154.4 1476.8 1153.2 1478.6 1151.9 1480.3 1150.7 1482 1149.5 1483.7 1148.3 1485.2 1147.1 1486.8 1145.9 1488.3 1144.7 1489.8 1143.5 1491.2 1142.2 1492.7 1141 1494.1 1139.7 1495.6 1138.3 1497 1136.9 1498.3 1135.6 1499.6 1134.2 1500.9 1132.7 1502.2 1131.3 1503.5 1129.7 1504.8 1128.2 1506.1 1126.6 1507.5 1124.9 1508.9 1123.1 1510.3 1121.2 1511.8 1119.2 1513.4 1117.1 1514.9 1114.9 1516.5 1112.6 1518.1 1110.4 1519.6 1108.2 1521.2 1106.1 1522.7 1104.1 1524.1 1102.2 1525.5 1100.4 1526.8 1098.6 1528.1 1096.9 1529.3 1095.3 1530.5 1093.7 1531.8 1092.1 1533.1 1090.7 1534.4 1089.3 1535.9 1088.1 1537.4 1086.9 1539.1 1085.9 1540.9 1084.9 1542.8 1084 1544.8 1083.2 1546.8 1082.5 1548.9 1081.9 1550.9 1081.4 1552.8 1080.9 1554.7 1080.6 1556.5 1080.3 1558.1 1080.1 1559.8 1080 1561.3 1080.1 1562.8 1080.2 1564.3 1080.4 1565.8 1080.7 1567.2 1081 1568.7 1081.4 1570.2 1081.8 1571.7 1082.2 1573.2 1082.6 1574.7 1083.1 1576.3 1083.6 1577.8 1084.2 1579.3 1084.8 1580.8 1085.5 1582.3 1086.3 1583.9 1087.1 1585.4 1087.9 1586.9 1088.8 1588.5 1089.8 1590 1090.9 1591.6 1092 1593.2 1093.2 1594.8 1094.4 1596.3 1095.7 1597.9 1097 1599.3 1098.4 1600.8 1099.7 1602.1 1101.2 1603.4 1102.5 1604.6 1103.8 1605.7 1105.1 1606.8 1106.5 1607.9 1107.8 1608.9 1109.3 1610 1111 1611.1 1112.8 1612.3 1114.9 1613.6 1117.3 1614.9 1119.9 1616.4 1123 1618 1126.3 1619.6 1129.8 1621.2 1133.4 1622.8 1137.1 1624.4 1140.8 1625.9 1144.4 1627.4 1147.9 1628.8 1151.2 1630.1 1154.4 1631.4 1157.6 1632.6 1160.8 1633.7 1163.9 1634.9 1167 1636 1170.1 1637.1 1173 1638.1 1175.8 1639.2 1178.5 1640.2 1181.1 1641.3 1183.6 1642.3 1186.1 1643.4 1188.5 1644.5 1190.8 1645.5 1193 1646.5 1195 1647.3 1196.9 1648.1 1198.5 1648.8 1199.9 1649.3 1201L1649.3 1211 1648.8 1209.8 1648.1 1208.2 1647.3 1206.3 1646.5 1204.2 1645.5 1202 1644.5 1199.6 1643.4 1197 1642.3 1194.4 1641.3 1191.8 1640.2 1189.1 1639.2 1186.4 1638.1 1183.6 1637.1 1180.6 1636 1177.5 1634.9 1174.4 1633.7 1171.2 1632.6 1167.9 1631.4 1164.7 1630.1 1161.4 1628.8 1158.1 1627.4 1154.7 1625.9 1151.1 1624.4 1147.4 1622.8 1143.6 1621.2 1139.9 1619.6 1136.2 1618 1132.7 1616.4 1129.3 1614.9 1126.3 1613.6 1123.5 1612.3 1121.2 1611.1 1119.1 1610 1117.2 1608.9 1115.5 1607.9 1114 1606.8 1112.6 1605.7 1111.3 1604.6 1110 1603.4 1108.7 1602.1 1107.3 1600.8 1105.9 1599.3 1104.5 1597.9 1103.1 1596.3 1101.8 1594.8 1100.5 1593.2 1099.2 1591.6 1098 1590 1096.9 1588.5 1095.9 1586.9 1094.9 1585.4 1093.9 1583.9 1093.1 1582.3 1092.3 1580.8 1091.6 1579.3 1090.9 1577.8 1090.2 1576.3 1089.7 1574.7 1089.1 1573.2 1088.6 1571.7 1088.2 1570.2 1087.8 1568.7 1087.4 1567.2 1087 1565.8 1086.7 1564.3 1086.4 1562.8 1086.2 1561.3 1086.1 1559.8 1086 1558.1 1086.1 1556.5 1086.3 1554.7 1086.6 1552.8 1086.9 1550.9 1087.4 1548.9 1087.9 1546.8 1088.5 1544.8 1089.2 1542.8 1090 1540.9 1090.9 1539.1 1091.9 1537.4 1092.9 1535.9 1094.1 1534.4 1095.3 1533.1 1096.7 1531.8 1098.1 1530.5 1099.7 1529.3 1101.3 1528.1 1102.9 1526.8 1104.6 1525.5 1106.4 1524.1 1108.2 1522.7 1110.1 1521.2 1112.1 1519.6 1114.2 1518.1 1116.4 1516.5 1118.6 1514.9 1120.9 1513.4 1123.1 1511.8 1125.2 1510.3 1127.2 1508.9 1129.1 1507.5 1130.9 1506.1 1132.6 1504.8 1134.2 1503.5 1135.7 1502.2 1137.3 1500.9 1138.7 1499.6 1140.2 1498.3 1141.6 1497 1142.9 1495.6 1144.3 1494.1 1145.7 1492.7 1147 1491.2 1148.2 1489.8 1149.5 1488.3 1150.7 1486.8 1151.9 1485.2 1153.1 1483.7 1154.3 1482 1155.5 1480.3 1156.7 1478.6 1157.9 1476.8 1159.2 1474.9 1160.4 1473 1161.6 1471.1 1162.9 1469.1 1164.1 1467.1 1165.4 1465.2 1166.6 1463.2 1167.8 1461.3 1169.1 1459.4 1170.3 1457.5 1171.6 1455.6 1172.8 1453.7 1174.1 1451.8 1175.4 1449.9 1176.6 1448 1177.9 1446.1 1179.1 1444.2 1180.3 1442.3 1181.4 1440.4 1182.6 1438.5 1183.8 1436.6 1184.9 1434.7 1186.1 1432.7 1187.2 1430.8 1188.3 1428.9 1189.3 1427 1190.3 1425.1 1191.1 1423.2 1191.9 1421.3 1192.6 1419.4 1193.1 1417.5 1193.6 1415.6 1194.1 1413.7 1194.4 1411.8 1194.7 1409.9 1195 1408 1195.2 1406.1 1195.5 1404.2 1195.7 1402.3 1195.9 1400.4 1196 1398.5 1196.1 1396.6 1196.2 1394.7 1196.2 1392.8 1196.2 1390.9 1196.3 1389 1196.3 1387.1 1196.5 1385.2 1196.7 1383.3 1196.9 1381.4 1197.2 1379.5 1197.5 1377.6 1197.8 1375.6 1198.1 1373.7 1198.5 1371.8 1198.9 1369.9 1199.4 1368 1199.9 1366.1 1200.5 1364.2 1201.2 1362.3 1201.8 1360.4 1202.6 1358.5 1203.3 1356.6 1204.1 1354.7 1205 1352.8 1205.9 1350.9 1207 1349 1208 1347.1 1209.2 1345.2 1210.5 1343.2 1211.9 1341.2 1213.4 1339.2 1215.1 1337.2 1216.7 1335.3 1218.4 1333.4 1220.1 1331.5 1221.8 1329.8 1223.4 1328.1 1225 1326.4 1226.6 1324.8 1228.2 1323.1 1229.9 1321.5 1231.5 1320 1233.2 1318.6 1234.8 1317.3 1236.2 1316.1 1237.6 1315.2 1238.7 1314.4 1239.6Z" fill="#808080" fill-opacity="0.8"/><path d="M1314.4 1234.6C1316.6 1232.4 1322.6 1226 1328.1 1221.3C1333.5 1216.5 1340.8 1210 1347.1 1206C1353.4 1202.1 1359.8 1199.5 1366.1 1197.5C1372.5 1195.4 1378.8 1194.5 1385.2 1193.7C1391.5 1192.9 1397.9 1193.5 1404.2 1192.7C1410.5 1191.9 1416.9 1191.3 1423.2 1188.9C1429.6 1186.5 1435.9 1182.2 1442.3 1178.4C1448.6 1174.6 1455 1170.2 1461.3 1166.1C1467.6 1161.9 1474.6 1157.8 1480.3 1153.7C1486 1149.6 1490.8 1145.9 1495.6 1141.3C1500.3 1136.7 1504.1 1132.1 1508.9 1126.1C1513.6 1120.1 1519.3 1111.2 1524.1 1105.2C1528.9 1099.1 1532 1093.6 1537.4 1089.9C1542.8 1086.3 1550.8 1084.1 1556.5 1083.3C1562.2 1082.5 1566.6 1083.8 1571.7 1085.2C1576.8 1086.6 1581.8 1088.7 1586.9 1091.8C1592 1095 1597.7 1099.5 1602.1 1104.2C1606.6 1109 1609.1 1112 1613.6 1120.4C1618 1128.8 1624.3 1143.9 1628.8 1154.7C1633.2 1165.4 1636.8 1176.5 1640.2 1185.1C1643.6 1193.7 1647.8 1202.6 1649.3 1206" fill="none" stroke="#000" stroke-width="1.1"/>
<path d="M1314.4 1240.1 1315.2 1240.1 1316.1 1240.1 1317.3 1240.1 1318.6 1240.1 1320 1240.1 1321.5 1240 1323.1 1239.9 1324.8 1239.9 1326.4 1239.8 1328.1 1239.8 1329.8 1239.7 1331.5 1239.6 1333.4 1239.6 1335.3 1239.5 1337.2 1239.4 1339.2 1239.3 1341.2 1239.2 1343.2 1239.2 1345.2 1239.1 1347.1 1239.1 1349 1239.1 1350.9 1239.1 1352.8 1239.2 1354.7 1239.2 1356.6 1239.3 1358.5 1239.3 1360.4 1239.4 1362.3 1239.5 1364.2 1239.6 1366.1 1239.7 1368 1239.7 1369.9 1239.8 1371.8 1240 1373.7 1240.1 1375.6 1240.2 1377.6 1240.4 1379.5 1240.5 1381.4 1240.6 1383.3 1240.6 1385.2 1240.6 1387.1 1240.6 1389 1240.6 1390.9 1240.5 1392.8 1240.4 1394.7 1240.3 1396.6 1240.2 1398.5 1240 1400.4 1239.9 1402.3 1239.8 1404.2 1239.7 1406.1 1239.6 1408 1239.5 1409.9 1239.4 1411.8 1239.3 1413.7 1239.2 1415.6 1239.1 1417.5 1239 1419.4 1238.9 1421.3 1238.8 1423.2 1238.8 1425.1 1238.7 1427 1238.7 1428.9 1238.7 1430.8 1238.7 1432.7 1238.8 1434.7 1238.8 1436.6 1238.8 1438.5 1238.8 1440.4 1238.8 1442.3 1238.8 1444.2 1238.7 1446.1 1238.7 1448 1238.6 1449.9 1238.6 1451.8 1238.5 1453.7 1238.4 1455.6 1238.3 1457.5 1238.2 1459.4 1238 1461.3 1237.8 1463.2 1237.6 1465.2 1237.3 1467.1 1237 1469.1 1236.7 1471.1 1236.3 1473 1235.9 1474.9 1235.5 1476.8 1235 1478.6 1234.5 1480.3 1234 1482 1233.4 1483.7 1232.8 1485.2 1232.2 1486.8 1231.5 1488.3 1230.8 1489.8 1230 1491.2 1229.2 1492.7 1228.3 1494.1 1227.4 1495.6 1226.4 1497 1225.3 1498.4 1224.1 1499.8 1222.9 1501.2 1221.6 1502.6 1220.2 1503.9 1218.8 1505.2 1217.4 1506.5 1215.9 1507.7 1214.5 1508.9 1213.1 1510 1211.6 1511 1210.2 1512 1208.7 1513 1207.3 1513.9 1205.8 1514.8 1204.3 1515.7 1202.7 1516.6 1201.2 1517.5 1199.5 1518.4 1197.8 1519.3 1196.1 1520.3 1194.3 1521.3 1192.5 1522.2 1190.7 1523.2 1188.8 1524.1 1186.9 1525.1 1184.9 1526 1182.9 1527 1180.9 1527.9 1178.8 1528.9 1176.7 1529.8 1174.5 1530.7 1172.3 1531.6 1170.1 1532.6 1167.9 1533.5 1165.6 1534.4 1163.2 1535.4 1160.8 1536.4 1158.4 1537.4 1156 1538.5 1153.4 1539.6 1150.8 1540.7 1148.2 1541.9 1145.5 1543 1142.8 1544.2 1140 1545.4 1137.3 1546.5 1134.6 1547.7 1131.9 1548.9 1129.3 1550 1126.8 1551.1 1124.2 1552.3 1121.7 1553.4 1119.2 1554.6 1116.7 1555.7 1114.2 1556.8 1111.8 1558 1109.4 1559.1 1107 1560.3 1104.6 1561.4 1102.2 1562.6 1099.8 1563.7 1097.5 1564.8 1095.2 1566 1092.9 1567.1 1090.6 1568.3 1088.4 1569.4 1086.1 1570.5 1083.9 1571.7 1081.7 1572.8 1079.5 1574 1077.3 1575.1 1075.1 1576.3 1073 1577.4 1070.8 1578.5 1068.7 1579.7 1066.7 1580.8 1064.6 1582 1062.7 1583.1 1060.8 1584.3 1058.9 1585.4 1057.1 1586.5 1055.3 1587.7 1053.5 1588.8 1051.8 1590 1050.2 1591.1 1048.7 1592.2 1047.2 1593.4 1045.8 1594.5 1044.6 1595.7 1043.4 1596.8 1042.3 1598 1041.3 1599.2 1040.4 1600.4 1039.6 1601.5 1038.8 1602.7 1038.2 1603.8 1037.6 1604.9 1037.2 1605.9 1036.9 1607 1036.7 1608 1036.6 1608.9 1036.6 1609.9 1036.8 1610.8 1037 1611.8 1037.3 1612.7 1037.7 1613.6 1038.3 1614.5 1038.9 1615.5 1039.7 1616.4 1040.5 1617.3 1041.4 1618.3 1042.4 1619.2 1043.4 1620.1 1044.6 1621 1045.9 1622 1047.4 1623 1049 1624 1050.8 1625 1052.8 1626 1054.9 1627.1 1057.2 1628.2 1059.7 1629.3 1062.3 1630.5 1065.1 1631.6 1068 1632.8 1071 1634 1074.1 1635.2 1077.4 1636.4 1080.8 1637.7 1084.5 1639.1 1088.8 1640.6 1093.3 1642.1 1098.1 1643.6 1102.8 1645 1107.4 1646.4 1111.7 1647.6 1115.5 1648.6 1118.7 1649.3 1121.1L1649.3 1131.1 1648.6 1128.4 1647.6 1124.9 1646.4 1120.7 1645 1116 1643.6 1111.1 1642.1 1106 1640.6 1100.9 1639.1 1096.1 1637.7 1091.6 1636.4 1087.7 1635.2 1084.1 1634 1080.7 1632.8 1077.4 1631.6 1074.3 1630.5 1071.3 1629.3 1068.4 1628.2 1065.7 1627.1 1063.2 1626 1060.8 1625 1058.6 1624 1056.6 1623 1054.7 1622 1053.1 1621 1051.6 1620.1 1050.2 1619.2 1049 1618.3 1047.8 1617.3 1046.8 1616.4 1045.9 1615.5 1045.1 1614.5 1044.3 1613.6 1043.6 1612.7 1043.1 1611.8 1042.6 1610.8 1042.3 1609.9 1042 1608.9 1041.9 1608 1041.8 1607 1041.9 1605.9 1042.1 1604.9 1042.4 1603.8 1042.8 1602.7 1043.3 1601.5 1044 1600.4 1044.7 1599.2 1045.5 1598 1046.4 1596.8 1047.4 1595.7 1048.5 1594.5 1049.7 1593.4 1050.9 1592.2 1052.3 1591.1 1053.7 1590 1055.3 1588.8 1056.9 1587.7 1058.6 1586.5 1060.3 1585.4 1062.1 1584.3 1064 1583.1 1065.8 1582 1067.7 1580.8 1069.7 1579.7 1071.7 1578.5 1073.7 1577.4 1075.9 1576.3 1078 1575.1 1080.2 1574 1082.4 1572.8 1084.5 1571.7 1086.7 1570.5 1088.9 1569.4 1091.2 1568.3 1093.4 1567.1 1095.6 1566 1097.9 1564.8 1100.2 1563.7 1102.5 1562.6 1104.9 1561.4 1107.2 1560.3 1109.6 1559.1 1112 1558 1114.4 1556.8 1116.8 1555.7 1119.2 1554.6 1121.7 1553.4 1124.2 1552.3 1126.7 1551.1 1129.2 1550 1131.8 1548.9 1134.3 1547.7 1136.9 1546.5 1139.6 1545.4 1142.3 1544.2 1145 1543 1147.8 1541.9 1150.5 1540.7 1153.2 1539.6 1155.8 1538.5 1158.4 1537.4 1161 1536.4 1163.4 1535.4 1165.8 1534.4 1168.2 1533.5 1170.6 1532.6 1172.9 1531.6 1175.1 1530.7 1177.3 1529.8 1179.5 1528.9 1181.7 1527.9 1183.8 1527 1185.9 1526 1187.9 1525.1 1189.9 1524.1 1191.9 1523.2 1193.8 1522.2 1195.7 1521.3 1197.5 1520.3 1199.3 1519.3 1201.1 1518.4 1202.8 1517.5 1204.5 1516.6 1206.2 1515.7 1207.7 1514.8 1209.3 1513.9 1210.8 1513 1212.3 1512 1213.7 1511 1215.2 1510 1216.6 1508.9 1218.1 1507.7 1219.5 1506.5 1220.9 1505.2 1222.4 1503.9 1223.8 1502.6 1225.2 1501.2 1226.6 1499.8 1227.9 1498.4 1229.1 1497 1230.3 1495.6 1231.4 1494.1 1232.4 1492.7 1233.3 1491.2 1234.2 1489.8 1235 1488.3 1235.8 1486.8 1236.5 1485.2 1237.2 1483.7 1237.8 1482 1238.4 1480.3 1239 1478.6 1239.5 1476.8 1240 1474.9 1240.5 1473 1240.9 1471.1 1241.3 1469.1 1241.7 1467.1 1242 1465.2 1242.3 1463.2 1242.6 1461.3 1242.8 1459.4 1243 1457.5 1243.2 1455.6 1243.3 1453.7 1243.4 1451.8 1243.5 1449.9 1243.6 1448 1243.6 1446.1 1243.7 1444.2 1243.7 1442.3 1243.8 1440.4 1243.8 1438.5 1243.8 1436.6 1243.8 1434.7 1243.8 1432.7 1243.8 1430.8 1243.7 1428.9 1243.7 1427 1243.7 1425.1 1243.7 1423.2 1243.8 1421.3 1243.8 1419.4 1243.9 1417.5 1244 1415.6 1244.1 1413.7 1244.2 1411.8 1244.3 1409.9 1244.4 1408 1244.5 1406.1 1244.6 1404.2 1244.7 1402.3 1244.8 1400.4 1244.9 1398.5 1245.1 1396.6 1245.2 1394.7 1245.3 1392.8 1245.4 1390.9 1245.5 1389 1245.6 1387.1 1245.6 1385.2 1245.7 1383.3 1245.6 1381.4 1245.6 1379.5 1245.5 1377.6 1245.4 1375.6 1245.3 1373.7 1245.2 1371.8 1245 1369.9 1244.9 1368 1244.8 1366.1 1244.8 1364.2 1244.7 1362.3 1244.6 1360.4 1244.6 1358.5 1244.5 1356.6 1244.5 1354.7 1244.4 1352.8 1244.4 1350.9 1244.4 1349 1244.5 1347.1 1244.5 1345.2 1244.6 1343.2 1244.8 1341.2 1244.9 1339.2 1245.1 1337.2 1245.3 1335.3 1245.5 1333.4 1245.8 1331.5 1246 1329.8 1246.3 1328.1 1246.6 1326.4 1246.8 1324.8 1247.2 1323.1 1247.5 1321.5 1247.9 1320 1248.3 1318.6 1248.7 1317.3 1249.1 1316.1 1249.5 1315.2 1249.8 1314.4 1250.1Z" fill="#00ffff" fill-opacity="0.8"/><path d="M1314.4 1245.1C1316.6 1244.7 1322.6 1243.7 1328.1 1243.2C1333.5 1242.6 1340.8 1242 1347.1 1241.8C1353.4 1241.7 1359.8 1242 1366.1 1242.2C1372.5 1242.4 1378.8 1243.2 1385.2 1243.2C1391.5 1243.2 1397.9 1242.5 1404.2 1242.2C1410.5 1241.9 1416.9 1241.4 1423.2 1241.3C1429.6 1241.1 1435.9 1241.4 1442.3 1241.3C1448.6 1241.1 1455 1241.1 1461.3 1240.3C1467.6 1239.5 1474.6 1238.4 1480.3 1236.5C1486 1234.6 1490.8 1232.4 1495.6 1228.9C1500.3 1225.4 1505.1 1220.3 1508.9 1215.6C1512.7 1210.8 1515.2 1206 1518.4 1200.3C1521.6 1194.6 1524.7 1188.3 1527.9 1181.3C1531.1 1174.3 1533.9 1166.7 1537.4 1158.5C1540.9 1150.2 1545 1140.4 1548.9 1131.8C1552.7 1123.2 1556.5 1115 1560.3 1107.1C1564.1 1099.1 1567.9 1091.5 1571.7 1084.2C1575.5 1076.9 1579.3 1069.5 1583.1 1063.3C1586.9 1057.1 1590.7 1051.1 1594.5 1047.1C1598.3 1043.1 1602.5 1040.3 1605.9 1039.5C1609.4 1038.7 1612.3 1039.7 1615.5 1042.4C1618.6 1045.1 1621.5 1048.7 1625 1055.7C1628.5 1062.7 1632.3 1072.5 1636.4 1084.2C1640.5 1096 1647.2 1119.1 1649.3 1126.1" fill="none" stroke="#000" stroke-width="1.1"/>
<path d="M1687.6 1222.9 1688.7 1221.9 1690.3 1220.5 1692.1 1218.8 1694.1 1216.9 1696.3 1214.8 1698.6 1212.7 1701 1210.6 1703.3 1208.5 1705.5 1206.7 1707.5 1205.1 1709.4 1203.6 1711.4 1202.3 1713.3 1201.1 1715.2 1199.9 1717.1 1198.8 1719 1197.8 1720.8 1196.8 1722.7 1195.8 1724.6 1194.8 1726.5 1193.9 1728.4 1193 1730.2 1192.2 1731.9 1191.4 1733.7 1190.7 1735.4 1190 1737.2 1189.3 1739.1 1188.6 1741.1 1187.9 1743.2 1187.1 1745.5 1186.4 1748 1185.6 1750.6 1184.7 1753.4 1183.9 1756.2 1183 1759.2 1182.1 1762.2 1181.2 1765.2 1180.4 1768.2 1179.5 1771.1 1178.7 1774 1177.8 1776.9 1177 1779.7 1176.2 1782.6 1175.5 1785.4 1174.7 1788.3 1173.9 1791.1 1173.2 1794 1172.4 1796.8 1171.7 1799.7 1171 1802.5 1170.2 1805.4 1169.5 1808.4 1168.8 1811.4 1168.1 1814.4 1167.4 1817.4 1166.7 1820.3 1166.1 1823.2 1165.4 1825.9 1164.8 1828.6 1164.2 1831 1163.6 1833.3 1163 1835.4 1162.5 1837.4 1161.9 1839.3 1161.4 1841.1 1160.9 1842.9 1160.4 1844.6 1160 1846.4 1159.6 1848.2 1159.2 1850 1158.8 1851.9 1158.5 1853.8 1158.2 1855.7 1157.9 1857.6 1157.6 1859.5 1157.4 1861.4 1157.2 1863.3 1157.1 1865.2 1157 1867.1 1156.9 1869 1156.9 1870.9 1157 1872.8 1157.1 1874.7 1157.3 1876.6 1157.5 1878.5 1157.8 1880.4 1158.1 1882.3 1158.4 1884.2 1158.8 1886.1 1159.3 1888.1 1159.8 1890 1160.3 1891.9 1161 1893.8 1161.6 1895.7 1162.3 1897.6 1163.1 1899.5 1163.9 1901.4 1164.7 1903.3 1165.6 1905.2 1166.5 1907.1 1167.4 1909 1168.3 1910.9 1169.3 1912.8 1170.3 1914.7 1171.3 1916.6 1172.3 1918.5 1173.4 1920.4 1174.5 1922.3 1175.6 1924.2 1176.7 1926.1 1177.8 1928 1179 1929.9 1180.2 1931.8 1181.4 1933.7 1182.6 1935.6 1183.8 1937.5 1185.1 1939.4 1186.3 1941.3 1187.6 1943.2 1188.9 1945.1 1190.2 1947 1191.5 1948.9 1192.8 1950.8 1194.2 1952.7 1195.5 1954.6 1196.9 1956.5 1198.2 1958.4 1199.6 1960.3 1200.9 1962.2 1202.2 1964.1 1203.5 1966 1204.7 1967.9 1205.9 1969.8 1207.1 1971.7 1208.3 1973.6 1209.5 1975.5 1210.6 1977.4 1211.7 1979.3 1212.8 1981.2 1213.8 1983.1 1214.8 1985 1215.7 1986.8 1216.5 1988.7 1217.3 1990.6 1218 1992.5 1218.7 1994.3 1219.3 1996.2 1220 1998.2 1220.6 2000.1 1221.3 2002.1 1222 2004.2 1222.7 2006.5 1223.4 2008.9 1224.1 2011.3 1224.9 2013.7 1225.5 2016 1226.1 2018.2 1226.6 2020.1 1227 2021.7 1227.4 2023 1227.6L2023 1237.1 2021.7 1236.4 2020.1 1235.6 2018.2 1234.6 2016 1233.6 2013.7 1232.5 2011.3 1231.4 2008.9 1230.4 2006.5 1229.4 2004.2 1228.4 2002.1 1227.5 2000.1 1226.7 1998.2 1225.9 1996.2 1225.2 1994.3 1224.4 1992.5 1223.7 1990.6 1222.9 1988.7 1222.1 1986.8 1221.3 1985 1220.5 1983.1 1219.5 1981.2 1218.5 1979.3 1217.5 1977.4 1216.4 1975.5 1215.3 1973.6 1214.1 1971.7 1212.9 1969.8 1211.7 1967.9 1210.5 1966 1209.3 1964.1 1208 1962.2 1206.8 1960.3 1205.5 1958.4 1204.1 1956.5 1202.8 1954.6 1201.4 1952.7 1200 1950.8 1198.7 1948.9 1197.3 1947 1196 1945.1 1194.7 1943.2 1193.4 1941.3 1192.1 1939.4 1190.9 1937.5 1189.6 1935.6 1188.3 1933.7 1187.1 1931.8 1185.9 1929.9 1184.7 1928 1183.5 1926.1 1182.3 1924.2 1181.2 1922.3 1180.1 1920.4 1179 1918.5 1177.9 1916.6 1176.8 1914.7 1175.8 1912.8 1174.8 1910.9 1173.8 1909 1172.8 1907.1 1171.9 1905.2 1171 1903.3 1170.1 1901.4 1169.2 1899.5 1168.4 1897.6 1167.6 1895.7 1166.8 1893.8 1166.1 1891.9 1165.5 1890 1164.8 1888.1 1164.3 1886.1 1163.8 1884.2 1163.3 1882.3 1162.9 1880.4 1162.6 1878.5 1162.3 1876.6 1162 1874.7 1161.8 1872.8 1161.6 1870.9 1161.5 1869 1161.4 1867.1 1161.4 1865.2 1161.5 1863.3 1161.6 1861.4 1161.7 1859.5 1161.9 1857.6 1162.1 1855.7 1162.4 1853.8 1162.7 1851.9 1163 1850 1163.3 1848.2 1163.7 1846.4 1164.1 1844.6 1164.5 1842.9 1164.9 1841.1 1165.4 1839.3 1165.9 1837.4 1166.4 1835.4 1167 1833.3 1167.5 1831 1168.1 1828.6 1168.7 1825.9 1169.3 1823.2 1169.9 1820.3 1170.6 1817.4 1171.2 1814.4 1171.9 1811.4 1172.6 1808.4 1173.3 1805.4 1174 1802.5 1174.7 1799.7 1175.5 1796.8 1176.2 1794 1176.9 1791.1 1177.7 1788.3 1178.4 1785.4 1179.2 1782.6 1180 1779.7 1180.7 1776.9 1181.5 1774 1182.3 1771.1 1183.2 1768.2 1184 1765.2 1184.9 1762.2 1185.7 1759.2 1186.6 1756.2 1187.5 1753.4 1188.4 1750.6 1189.2 1748 1190.1 1745.5 1190.9 1743.2 1191.7 1741.1 1192.4 1739.1 1193.2 1737.2 1193.9 1735.4 1194.6 1733.7 1195.3 1731.9 1196 1730.2 1196.8 1728.4 1197.7 1726.5 1198.6 1724.6 1199.5 1722.7 1200.5 1720.8 1201.5 1719 1202.6 1717.1 1203.6 1715.2 1204.8 1713.3 1206 1711.4 1207.3 1709.4 1208.7 1707.5 1210.2 1705.5 1212 1703.3 1214 1701 1216.2 1698.6 1218.5 1696.3 1220.9 1694.1 1223.2 1692.1 1225.4 1690.3 1227.4 1688.7 1229.1 1687.6 1230.4Z" fill="#ff00ff" fill-opacity="0.8"/><path d="M1687.6 1226.6C1690.9 1223.5 1701 1212.7 1707.5 1207.6C1714 1202.6 1720.2 1199.4 1726.5 1196.2C1732.8 1193.1 1737.6 1191.3 1745.5 1188.6C1753.4 1185.9 1764.5 1182.8 1774 1180.1C1783.5 1177.4 1793 1174.9 1802.5 1172.5C1812 1170.1 1823.1 1167.7 1831 1165.8C1839 1163.9 1843.7 1162.2 1850 1161.1C1856.4 1160 1862.7 1159 1869 1159.2C1875.4 1159.3 1881.7 1160.3 1888.1 1162C1894.4 1163.8 1900.7 1166.6 1907.1 1169.6C1913.4 1172.6 1919.7 1176.3 1926.1 1180.1C1932.4 1183.9 1938.7 1188.2 1945.1 1192.4C1951.4 1196.7 1957.7 1201.6 1964.1 1205.7C1970.4 1209.9 1976.7 1214 1983.1 1217.1C1989.4 1220.3 1995.4 1222.2 2002.1 1224.7C2008.7 1227.3 2019.5 1231.1 2023 1232.3" fill="none" stroke="#000" stroke-width="1.1"/>
<path d="M1687.6 1232.6 1688.7 1232.1 1690.3 1231.3 1692.1 1230.4 1694.1 1229.4 1696.3 1228.3 1698.6 1227.1 1701 1225.9 1703.3 1224.7 1705.5 1223.7 1707.5 1222.7 1709.4 1221.9 1711.4 1221.2 1713.3 1220.4 1715.2 1219.8 1717.1 1219.1 1719 1218.5 1720.8 1217.9 1722.7 1217.4 1724.6 1216.9 1726.5 1216.4 1728.4 1216 1730.2 1215.6 1731.9 1215.3 1733.7 1215 1735.4 1214.7 1737.2 1214.5 1739.1 1214.3 1741.1 1214.1 1743.2 1213.9 1745.5 1213.7 1748 1213.5 1750.8 1213.3 1753.7 1213.1 1756.7 1212.9 1759.8 1212.8 1762.9 1212.7 1765.9 1212.6 1768.8 1212.5 1771.5 1212.4 1774 1212.4 1776.3 1212.4 1778.4 1212.4 1780.4 1212.4 1782.3 1212.5 1784.1 1212.6 1785.9 1212.7 1787.6 1212.8 1789.4 1212.9 1791.2 1213 1793 1213.1 1794.9 1213.2 1796.8 1213.4 1798.7 1213.5 1800.6 1213.7 1802.5 1213.8 1804.4 1214 1806.3 1214.1 1808.2 1214.3 1810.1 1214.5 1812 1214.6 1813.9 1214.8 1815.8 1215 1817.7 1215.3 1819.6 1215.5 1821.5 1215.8 1823.4 1216 1825.3 1216.2 1827.2 1216.3 1829.1 1216.5 1831 1216.5 1832.9 1216.6 1834.8 1216.6 1836.7 1216.5 1838.6 1216.4 1840.5 1216.3 1842.4 1216.2 1844.3 1216.1 1846.2 1215.9 1848.1 1215.8 1850 1215.6 1851.9 1215.4 1853.8 1215.2 1855.7 1215 1857.6 1214.7 1859.5 1214.5 1861.4 1214.2 1863.3 1213.9 1865.2 1213.7 1867.1 1213.5 1869 1213.3 1870.9 1213.2 1872.5 1213 1874.1 1212.9 1875.7 1212.8 1877.4 1212.8 1879.1 1212.7 1881 1212.6 1883 1212.5 1885.4 1212.5 1888.1 1212.4 1891.1 1212.3 1894.4 1212.1 1898.1 1212 1901.9 1211.9 1905.9 1211.7 1909.9 1211.6 1914.1 1211.5 1918.2 1211.4 1922.2 1211.3 1926.1 1211.2 1929.9 1211.2 1934 1211.1 1938.1 1211.1 1942.2 1211 1946.3 1211 1950.2 1211 1954.1 1211 1957.7 1211 1961 1211.1 1964.1 1211.2 1966.7 1211.3 1969.1 1211.5 1971.2 1211.7 1973 1211.9 1974.8 1212.1 1976.4 1212.4 1978 1212.6 1979.6 1212.9 1981.3 1213.3 1983.1 1213.6 1985 1214 1986.8 1214.4 1988.7 1214.8 1990.6 1215.3 1992.5 1215.7 1994.3 1216.2 1996.2 1216.7 1998.2 1217.1 2000.1 1217.6 2002.1 1218 2004.2 1218.5 2006.5 1218.9 2008.9 1219.3 2011.3 1219.7 2013.7 1220.1 2016 1220.4 2018.2 1220.7 2020.1 1220.9 2021.7 1221.1 2023 1221.2L2023 1230.2 2021.7 1229.7 2020.1 1229.2 2018.2 1228.5 2016 1227.8 2013.7 1227.1 2011.3 1226.4 2008.9 1225.7 2006.5 1225.1 2004.2 1224.4 2002.1 1223.9 2000.1 1223.3 1998.2 1222.8 1996.2 1222.2 1994.3 1221.7 1992.5 1221.1 1990.6 1220.6 1988.7 1220.1 1986.8 1219.6 1985 1219.2 1983.1 1218.8 1981.3 1218.4 1979.6 1218.1 1978 1217.8 1976.4 1217.5 1974.8 1217.2 1973 1217 1971.2 1216.8 1969.1 1216.6 1966.7 1216.4 1964.1 1216.2 1961 1216.1 1957.7 1216.1 1954.1 1216 1950.2 1216 1946.3 1216 1942.2 1216 1938.1 1216.1 1934 1216.1 1929.9 1216.2 1926.1 1216.2 1922.2 1216.3 1918.2 1216.4 1914.1 1216.5 1909.9 1216.6 1905.9 1216.7 1901.9 1216.9 1898.1 1217 1894.4 1217.1 1891.1 1217.3 1888.1 1217.4 1885.4 1217.5 1883 1217.5 1881 1217.6 1879.1 1217.7 1877.4 1217.8 1875.7 1217.8 1874.1 1217.9 1872.5 1218 1870.9 1218.2 1869 1218.3 1867.1 1218.5 1865.2 1218.7 1863.3 1218.9 1861.4 1219.2 1859.5 1219.5 1857.6 1219.7 1855.7 1220 1853.8 1220.2 1851.9 1220.4 1850 1220.6 1848.1 1220.8 1846.2 1220.9 1844.3 1221.1 1842.4 1221.2 1840.5 1221.3 1838.6 1221.4 1836.7 1221.5 1834.8 1221.6 1832.9 1221.6 1831 1221.5 1829.1 1221.5 1827.2 1221.3 1825.3 1221.2 1823.4 1221 1821.5 1220.8 1819.6 1220.5 1817.7 1220.3 1815.8 1220 1813.9 1219.8 1812 1219.6 1810.1 1219.5 1808.2 1219.3 1806.3 1219.1 1804.4 1219 1802.5 1218.8 1800.6 1218.7 1798.7 1218.5 1796.8 1218.4 1794.9 1218.2 1793 1218.1 1791.2 1218 1789.4 1217.9 1787.6 1217.8 1785.9 1217.7 1784.1 1217.6 1782.3 1217.5 1780.4 1217.4 1778.4 1217.4 1776.3 1217.4 1774 1217.4 1771.5 1217.4 1768.8 1217.5 1765.9 1217.6 1762.9 1217.7 1759.8 1217.8 1756.7 1218 1753.7 1218.1 1750.8 1218.3 1748 1218.5 1745.5 1218.7 1743.2 1218.9 1741.1 1219.1 1739.1 1219.4 1737.2 1219.6 1735.4 1219.8 1733.7 1220.1 1731.9 1220.4 1730.2 1220.8 1728.4 1221.2 1726.5 1221.7 1724.6 1222.2 1722.7 1222.7 1720.8 1223.3 1719 1223.9 1717.1 1224.6 1715.2 1225.3 1713.3 1226 1711.4 1226.8 1709.4 1227.7 1707.5 1228.6 1705.5 1229.7 1703.3 1231 1701 1232.4 1698.6 1233.8 1696.3 1235.4 1694.1 1236.9 1692.1 1238.3 1690.3 1239.6 1688.7 1240.7 1687.6 1241.6Z" fill="#ffc400" fill-opacity="0.8"/><path d="M1687.6 1237.1C1690.9 1235.2 1701 1228.7 1707.5 1225.7C1714 1222.7 1720.2 1220.6 1726.5 1219C1732.8 1217.5 1737.6 1216.9 1745.5 1216.2C1753.4 1215.5 1766.1 1215 1774 1214.9C1781.9 1214.8 1786.7 1215.2 1793 1215.6C1799.4 1216 1805.7 1216.6 1812 1217.1C1818.4 1217.7 1824.7 1218.9 1831 1219C1837.4 1219.2 1843.7 1218.6 1850 1218.1C1856.4 1217.6 1862.7 1216.4 1869 1215.8C1875.4 1215.3 1878.5 1215.2 1888.1 1214.9C1897.6 1214.5 1913.4 1213.9 1926.1 1213.7C1938.7 1213.5 1954.6 1213.3 1964.1 1213.7C1973.6 1214.1 1976.7 1215 1983.1 1216.2C1989.4 1217.4 1995.4 1219.4 2002.1 1220.9C2008.7 1222.5 2019.5 1224.9 2023 1225.7" fill="none" stroke="#000" stroke-width="1.1"/>
<path d="M1687.6 1220 1688.2 1219 1689 1217.6 1689.9 1216.1 1690.9 1214.3 1692.1 1212.4 1693.3 1210.3 1694.5 1208.2 1695.7 1206.1 1696.9 1204.1 1698 1202.1 1699.1 1200.1 1700.2 1198.1 1701.3 1196.1 1702.4 1194 1703.5 1191.9 1704.7 1189.8 1705.8 1187.8 1707 1185.7 1708.2 1183.7 1709.4 1181.7 1710.7 1179.7 1711.9 1177.8 1713.3 1175.8 1714.6 1173.9 1715.9 1172 1717.3 1170.1 1718.7 1168.2 1720 1166.4 1721.4 1164.7 1722.7 1162.9 1724 1161.3 1725.3 1159.6 1726.6 1158 1727.9 1156.4 1729.2 1154.8 1730.6 1153.3 1731.9 1151.8 1733.2 1150.4 1734.6 1149.1 1736 1147.8 1737.5 1146.6 1739 1145.5 1740.5 1144.3 1742.1 1143.3 1743.6 1142.3 1745.2 1141.3 1746.7 1140.5 1748.3 1139.7 1749.8 1139 1751.2 1138.4 1752.6 1137.8 1754 1137.4 1755.4 1137.1 1756.7 1136.8 1758 1136.6 1759.3 1136.5 1760.6 1136.5 1761.9 1136.4 1763.2 1136.4 1764.5 1136.5 1765.8 1136.5 1767.2 1136.7 1768.5 1136.9 1769.8 1137.1 1771.1 1137.4 1772.4 1137.7 1773.7 1138 1775 1138.4 1776.4 1138.9 1777.8 1139.3 1779.3 1139.9 1780.7 1140.5 1782.1 1141.1 1783.6 1141.9 1785.1 1142.6 1786.6 1143.3 1788.1 1144.1 1789.7 1144.8 1791.3 1145.4 1793 1146 1794.8 1146.5 1796.6 1147 1798.5 1147.5 1800.4 1147.9 1802.3 1148.3 1804.2 1148.7 1806.2 1149 1808.2 1149.3 1810.1 1149.6 1812 1149.8 1813.9 1149.9 1815.8 1150 1817.7 1150 1819.6 1150 1821.5 1149.9 1823.4 1149.8 1825.3 1149.7 1827.2 1149.6 1829.1 1149.5 1831 1149.4 1832.9 1149.3 1834.8 1149.2 1836.7 1149 1838.6 1148.8 1840.5 1148.7 1842.4 1148.5 1844.3 1148.3 1846.2 1148.2 1848.1 1148 1850 1147.9 1851.9 1147.8 1853.8 1147.7 1855.7 1147.6 1857.6 1147.5 1859.5 1147.4 1861.4 1147.4 1863.3 1147.3 1865.2 1147.2 1867.1 1147.1 1869 1146.9 1870.9 1146.8 1872.8 1146.6 1874.7 1146.4 1876.6 1146.2 1878.5 1146 1880.4 1145.7 1882.3 1145.5 1884.2 1145.3 1886.1 1145.2 1888.1 1145 1890 1144.9 1891.9 1144.8 1893.8 1144.6 1895.7 1144.5 1897.6 1144.4 1899.5 1144.3 1901.4 1144.2 1903.3 1144.2 1905.2 1144.3 1907.1 1144.5 1909 1144.7 1910.9 1145 1912.8 1145.4 1914.7 1145.8 1916.6 1146.3 1918.5 1146.8 1920.4 1147.3 1922.3 1147.9 1924.2 1148.4 1926.1 1148.8 1928 1149.3 1930 1149.8 1932 1150.4 1934 1151 1936 1151.5 1938 1152.1 1939.9 1152.6 1941.7 1153 1943.5 1153.3 1945.1 1153.6 1946.5 1153.7 1947.7 1153.8 1948.9 1153.7 1949.9 1153.6 1950.9 1153.5 1951.9 1153.3 1952.9 1153.2 1953.9 1153 1955.1 1152.8 1956.5 1152.6 1958 1152.4 1959.6 1152.2 1961.3 1151.8 1963.1 1151.5 1964.9 1151.2 1966.7 1150.9 1968.5 1150.7 1970.3 1150.5 1972 1150.5 1973.6 1150.7 1975 1150.9 1976.4 1151.3 1977.8 1151.7 1979.1 1152.2 1980.3 1152.8 1981.6 1153.5 1982.9 1154.2 1984.2 1155.1 1985.5 1156.1 1986.9 1157.2 1988.3 1158.5 1989.9 1159.9 1991.4 1161.5 1993 1163.2 1994.6 1164.9 1996.2 1166.7 1997.7 1168.6 1999.2 1170.4 2000.7 1172.3 2002.1 1174.1 2003.4 1175.9 2004.6 1177.7 2005.8 1179.6 2007 1181.5 2008.1 1183.4 2009.2 1185.3 2010.3 1187.2 2011.4 1189 2012.4 1190.8 2013.5 1192.5 2014.5 1194.2 2015.7 1196 2016.8 1197.8 2017.9 1199.6 2018.9 1201.3 2020 1202.9 2020.9 1204.4 2021.7 1205.7 2022.4 1206.8 2023 1207.6L2023 1217.1 2022.4 1216.1 2021.7 1214.8 2020.9 1213.3 2020 1211.6 2018.9 1209.7 2017.9 1207.8 2016.8 1205.8 2015.7 1203.8 2014.5 1201.9 2013.5 1200 2012.4 1198.1 2011.4 1196.2 2010.3 1194.2 2009.2 1192.2 2008.1 1190.2 2007 1188.2 2005.8 1186.2 2004.6 1184.2 2003.4 1182.3 2002.1 1180.4 2000.7 1178.5 1999.2 1176.6 1997.7 1174.7 1996.2 1172.8 1994.6 1170.9 1993 1169.1 1991.4 1167.4 1989.9 1165.8 1988.3 1164.3 1986.9 1163 1985.5 1161.9 1984.2 1160.9 1982.9 1160 1981.6 1159.2 1980.3 1158.5 1979.1 1157.9 1977.8 1157.3 1976.4 1156.9 1975 1156.6 1973.6 1156.3 1972 1156.1 1970.3 1156.1 1968.5 1156.2 1966.7 1156.5 1964.9 1156.7 1963.1 1157.1 1961.3 1157.4 1959.6 1157.7 1958 1158 1956.5 1158.1 1955.1 1158.3 1953.9 1158.5 1952.9 1158.7 1951.9 1158.9 1950.9 1159 1949.9 1159.2 1948.9 1159.3 1947.7 1159.3 1946.5 1159.2 1945.1 1159.1 1943.5 1158.8 1941.7 1158.5 1939.9 1158.1 1938 1157.6 1936 1157 1934 1156.5 1932 1155.9 1930 1155.4 1928 1154.8 1926.1 1154.3 1924.2 1153.9 1922.3 1153.4 1920.4 1152.8 1918.5 1152.3 1916.6 1151.8 1914.7 1151.3 1912.8 1150.9 1910.9 1150.5 1909 1150.2 1907.1 1150 1905.2 1149.8 1903.3 1149.7 1901.4 1149.7 1899.5 1149.8 1897.6 1149.9 1895.7 1150 1893.8 1150.1 1891.9 1150.3 1890 1150.4 1888.1 1150.5 1886.1 1150.7 1884.2 1150.8 1882.3 1151 1880.4 1151.2 1878.5 1151.5 1876.6 1151.7 1874.7 1151.9 1872.8 1152.1 1870.9 1152.3 1869 1152.4 1867.1 1152.6 1865.2 1152.7 1863.3 1152.8 1861.4 1152.9 1859.5 1152.9 1857.6 1153 1855.7 1153.1 1853.8 1153.2 1851.9 1153.3 1850 1153.4 1848.1 1153.5 1846.2 1153.7 1844.3 1153.8 1842.4 1154 1840.5 1154.2 1838.6 1154.3 1836.7 1154.5 1834.8 1154.7 1832.9 1154.8 1831 1154.9 1829.1 1155 1827.2 1155.1 1825.3 1155.2 1823.4 1155.3 1821.5 1155.4 1819.6 1155.5 1817.7 1155.5 1815.8 1155.5 1813.9 1155.4 1812 1155.3 1810.1 1155.1 1808.2 1154.8 1806.2 1154.5 1804.2 1154.2 1802.3 1153.8 1800.4 1153.4 1798.5 1153 1796.6 1152.5 1794.8 1152 1793 1151.5 1791.3 1150.9 1789.7 1150.3 1788.1 1149.6 1786.6 1148.8 1785.1 1148.1 1783.6 1147.4 1782.1 1146.6 1780.7 1146 1779.3 1145.4 1777.8 1144.8 1776.4 1144.4 1775 1143.9 1773.7 1143.5 1772.4 1143.2 1771.1 1142.9 1769.8 1142.6 1768.5 1142.4 1767.2 1142.2 1765.8 1142.1 1764.5 1142 1763.2 1141.9 1761.9 1141.9 1760.6 1142 1759.3 1142 1758 1142.2 1756.7 1142.4 1755.4 1142.6 1754 1143 1752.6 1143.4 1751.2 1143.9 1749.8 1144.5 1748.3 1145.2 1746.7 1146 1745.2 1146.9 1743.6 1147.8 1742.1 1148.8 1740.5 1149.9 1739 1151 1737.5 1152.2 1736 1153.4 1734.6 1154.7 1733.2 1156.1 1731.9 1157.5 1730.6 1159 1729.2 1160.5 1727.9 1162.1 1726.6 1163.7 1725.3 1165.3 1724 1167 1722.7 1168.7 1721.4 1170.5 1720 1172.3 1718.7 1174.1 1717.3 1176 1715.9 1178 1714.6 1179.9 1713.3 1181.9 1711.9 1183.9 1710.7 1186 1709.4 1188 1708.2 1190 1707 1192.1 1705.8 1194.3 1704.7 1196.5 1703.5 1198.6 1702.4 1200.8 1701.3 1203 1700.2 1205.2 1699.1 1207.3 1698 1209.4 1696.9 1211.6 1695.7 1213.8 1694.5 1216.1 1693.3 1218.5 1692.1 1220.7 1690.9 1222.9 1689.9 1224.9 1689 1226.7 1688.2 1228.3 1687.6 1229.5Z" fill="#808080" fill-opacity="0.8"/><path d="M1687.6 1224.7C1689.3 1221.6 1694.4 1212.4 1698 1205.7C1701.7 1199.1 1705.3 1191.5 1709.4 1184.8C1713.5 1178.2 1718.3 1171.5 1722.7 1165.8C1727.1 1160.1 1731.3 1154.7 1736 1150.6C1740.8 1146.5 1746.5 1143 1751.2 1141.1C1756 1139.2 1760.1 1139.1 1764.5 1139.2C1769 1139.4 1773.1 1140.5 1777.8 1142.1C1782.6 1143.7 1787.3 1147 1793 1148.7C1798.7 1150.5 1805.7 1152 1812 1152.5C1818.4 1153.1 1824.7 1152.5 1831 1152.2C1837.4 1151.8 1843.7 1151 1850 1150.6C1856.4 1150.2 1862.7 1150.2 1869 1149.7C1875.4 1149.2 1881.7 1148.2 1888.1 1147.8C1894.4 1147.4 1900.7 1146.6 1907.1 1147.2C1913.4 1147.8 1919.7 1150.1 1926.1 1151.6C1932.4 1153.1 1940 1155.7 1945.1 1156.3C1950.1 1157 1951.7 1155.9 1956.5 1155.4C1961.2 1154.9 1968.5 1152.7 1973.6 1153.5C1978.6 1154.3 1982.1 1156.2 1986.9 1160.1C1991.6 1164.1 1997.6 1171.2 2002.1 1177.2C2006.5 1183.3 2010 1190.4 2013.5 1196.2C2017 1202.1 2021.4 1209.7 2023 1212.4" fill="none" stroke="#000" stroke-width="1.1"/>
<path d="M1687.6 1227.2 1688.7 1226.1 1690.3 1224.6 1692.1 1222.9 1694.1 1220.9 1696.3 1218.8 1698.6 1216.5 1701 1214.2 1703.3 1211.8 1705.5 1209.6 1707.5 1207.5 1709.4 1205.4 1711.4 1203.3 1713.3 1201.2 1715.2 1199.1 1717.1 1197.1 1719 1195 1720.8 1192.9 1722.7 1190.8 1724.6 1188.8 1726.5 1186.8 1728.4 1184.8 1730.3 1182.9 1732.2 1181 1734.1 1179.1 1736 1177.2 1737.9 1175.4 1739.8 1173.5 1741.7 1171.6 1743.6 1169.8 1745.5 1167.9 1747.4 1166 1749.3 1164 1751.2 1162.1 1753.1 1160.2 1755 1158.3 1756.9 1156.3 1758.8 1154.4 1760.7 1152.6 1762.6 1150.7 1764.5 1148.9 1766.4 1147.1 1768.3 1145.4 1770.2 1143.7 1772.1 1142 1774 1140.3 1775.9 1138.7 1777.8 1137 1779.7 1135.3 1781.6 1133.6 1783.5 1131.8 1785.4 1130 1787.3 1128.1 1789.2 1126.3 1791.1 1124.4 1793 1122.5 1794.9 1120.6 1796.8 1118.7 1798.7 1116.7 1800.6 1114.8 1802.5 1112.8 1804.4 1110.7 1806.3 1108.7 1808.2 1106.5 1810.1 1104.4 1812 1102.2 1813.9 1100 1815.8 1097.9 1817.7 1095.8 1819.6 1093.8 1821.5 1091.9 1823.4 1090 1825.3 1088.1 1827.2 1086.2 1829.1 1084.4 1831 1082.6 1832.9 1080.9 1834.8 1079.2 1836.7 1077.6 1838.6 1076.2 1840.5 1074.8 1842.4 1073.5 1844.3 1072.4 1846.2 1071.3 1848.1 1070.4 1850 1069.5 1851.9 1068.6 1853.8 1067.8 1855.7 1067 1857.6 1066.1 1859.5 1065.3 1861.4 1064.4 1863.3 1063.5 1865.2 1062.6 1867.1 1061.8 1869 1060.9 1870.9 1060.1 1872.8 1059.2 1874.7 1058.4 1876.6 1057.6 1878.5 1056.7 1880.4 1055.8 1882.3 1054.9 1884.2 1054 1886.1 1053.1 1888.1 1052.2 1890 1051.3 1891.9 1050.4 1893.8 1049.6 1895.7 1048.9 1897.6 1048.2 1899.5 1047.5 1901.4 1046.9 1903.3 1046.3 1905.2 1045.8 1907.1 1045.3 1909 1044.8 1910.9 1044.4 1912.8 1044 1914.7 1043.7 1916.6 1043.4 1918.5 1043.2 1920.4 1043 1922.4 1042.9 1924.3 1042.9 1926.3 1042.8 1928.2 1042.9 1930.1 1042.9 1932 1042.9 1933.8 1042.9 1935.6 1042.8 1937.2 1042.8 1938.8 1042.8 1940.3 1042.8 1941.8 1042.9 1943.3 1042.9 1944.7 1042.9 1946.2 1042.8 1947.7 1042.8 1949.2 1042.6 1950.8 1042.5 1952.4 1042.1 1954.1 1041.7 1955.8 1041.1 1957.6 1040.6 1959.3 1040 1961.1 1039.4 1962.8 1038.9 1964.5 1038.5 1966.2 1038.3 1967.9 1038.3 1969.5 1038.4 1971.1 1038.6 1972.6 1038.8 1974.2 1039.2 1975.7 1039.7 1977.2 1040.3 1978.7 1041.1 1980.2 1042 1981.6 1043 1983.1 1044.3 1984.5 1045.7 1985.9 1047.3 1987.3 1049.1 1988.6 1051 1990 1053 1991.3 1055.2 1992.6 1057.5 1993.9 1059.9 1995.1 1062.5 1996.4 1065.1 1997.6 1067.8 1998.8 1070.8 2000.1 1074 2001.3 1077.2 2002.4 1080.6 2003.6 1084 2004.7 1087.4 2005.8 1090.8 2006.8 1094 2007.8 1097.1 2008.7 1100 2009.5 1102.9 2010.3 1105.7 2011.1 1108.4 2011.8 1111.2 2012.5 1113.9 2013.2 1116.6 2013.9 1119.4 2014.6 1122.3 2015.4 1125.2 2016.2 1128.4 2017 1131.8 2017.9 1135.5 2018.8 1139.2 2019.7 1142.8 2020.5 1146.4 2021.3 1149.6 2021.9 1152.5 2022.5 1155 2023 1156.9L2023 1163.4 2022.5 1161.4 2021.9 1158.8 2021.3 1155.8 2020.5 1152.3 2019.7 1148.7 2018.8 1144.9 2017.9 1141 2017 1137.3 2016.2 1133.7 2015.4 1130.4 2014.6 1127.4 2013.9 1124.5 2013.2 1121.6 2012.5 1118.8 2011.8 1116 2011.1 1113.2 2010.3 1110.4 2009.5 1107.5 2008.7 1104.6 2007.8 1101.6 2006.8 1098.4 2005.8 1095.1 2004.7 1091.7 2003.6 1088.2 2002.4 1084.8 2001.3 1081.3 2000.1 1078 1998.8 1074.8 1997.6 1071.8 1996.4 1069 1995.1 1066.3 1993.9 1063.8 1992.6 1061.3 1991.3 1059 1990 1056.8 1988.6 1054.7 1987.3 1052.8 1985.9 1051 1984.5 1049.4 1983.1 1047.9 1981.6 1046.7 1980.2 1045.6 1978.7 1044.7 1977.2 1043.9 1975.7 1043.3 1974.2 1042.8 1972.6 1042.4 1971.1 1042.1 1969.5 1041.9 1967.9 1041.8 1966.2 1041.8 1964.5 1042 1962.8 1042.4 1961.1 1042.9 1959.3 1043.5 1957.6 1044.1 1955.8 1044.7 1954.1 1045.2 1952.4 1045.7 1950.8 1046 1949.2 1046.2 1947.7 1046.3 1946.2 1046.3 1944.7 1046.4 1943.3 1046.4 1941.8 1046.4 1940.3 1046.3 1938.8 1046.3 1937.2 1046.3 1935.6 1046.3 1933.8 1046.4 1932 1046.4 1930.1 1046.4 1928.2 1046.4 1926.3 1046.4 1924.3 1046.4 1922.4 1046.4 1920.4 1046.5 1918.5 1046.7 1916.6 1046.9 1914.7 1047.2 1912.8 1047.5 1910.9 1047.9 1909 1048.3 1907.1 1048.8 1905.2 1049.3 1903.3 1049.8 1901.4 1050.4 1899.5 1051 1897.6 1051.7 1895.7 1052.4 1893.8 1053.1 1891.9 1053.9 1890 1054.8 1888.1 1055.7 1886.1 1056.6 1884.2 1057.5 1882.3 1058.4 1880.4 1059.3 1878.5 1060.2 1876.6 1061.1 1874.7 1061.9 1872.8 1062.7 1870.9 1063.6 1869 1064.4 1867.1 1065.3 1865.2 1066.1 1863.3 1067 1861.4 1067.9 1859.5 1068.8 1857.6 1069.6 1855.7 1070.5 1853.8 1071.3 1851.9 1072.1 1850 1073 1848.1 1073.9 1846.2 1074.8 1844.3 1075.9 1842.4 1077 1840.5 1078.3 1838.6 1079.7 1836.7 1081.1 1834.8 1082.7 1832.9 1084.4 1831 1086.1 1829.1 1087.9 1827.2 1089.7 1825.3 1091.6 1823.4 1093.5 1821.5 1095.4 1819.6 1097.3 1817.7 1099.3 1815.8 1101.4 1813.9 1103.5 1812 1105.7 1810.1 1107.9 1808.2 1110 1806.3 1112.2 1804.4 1114.2 1802.5 1116.3 1800.6 1118.3 1798.7 1120.2 1796.8 1122.2 1794.9 1124.1 1793 1126 1791.1 1127.9 1789.2 1129.8 1787.3 1131.6 1785.4 1133.5 1783.5 1135.3 1781.6 1137.1 1779.7 1138.8 1777.8 1140.5 1775.9 1142.2 1774 1143.8 1772.1 1145.5 1770.2 1147.2 1768.3 1148.9 1766.4 1150.6 1764.5 1152.4 1762.6 1154.2 1760.7 1156.1 1758.8 1157.9 1756.9 1159.9 1755 1161.8 1753.1 1163.7 1751.2 1165.6 1749.3 1167.6 1747.4 1169.5 1745.5 1171.4 1743.6 1173.3 1741.7 1175.2 1739.8 1177.1 1737.9 1178.9 1736 1180.8 1734.1 1182.7 1732.2 1184.6 1730.3 1186.5 1728.4 1188.5 1726.5 1190.5 1724.6 1192.5 1722.7 1194.6 1720.8 1196.6 1719 1198.8 1717.1 1200.9 1715.2 1203 1713.3 1205.2 1711.4 1207.3 1709.4 1209.5 1707.5 1211.6 1705.5 1213.9 1703.3 1216.3 1701 1218.8 1698.6 1221.3 1696.3 1223.8 1694.1 1226.3 1692.1 1228.5 1690.3 1230.6 1688.7 1232.3 1687.6 1233.7Z" fill="#00ffff" fill-opacity="0.8"/><path d="M1687.6 1230.4C1690.9 1227 1701 1216.5 1707.5 1209.5C1714 1202.6 1720.2 1195.3 1726.5 1188.6C1732.8 1182 1739.2 1176 1745.5 1169.6C1751.9 1163.3 1758.2 1156.6 1764.5 1150.6C1770.9 1144.6 1777.2 1139.5 1783.5 1133.5C1789.9 1127.5 1796.2 1121.2 1802.5 1114.5C1808.9 1107.9 1815.2 1100 1821.5 1093.6C1827.9 1087.3 1834.2 1080.9 1840.5 1076.5C1846.9 1072.1 1853.2 1070 1859.5 1067C1865.9 1064 1872.2 1061.3 1878.5 1058.5C1884.9 1055.6 1891.2 1052.1 1897.6 1049.9C1903.9 1047.7 1910.2 1046 1916.6 1045.2C1922.9 1044.3 1929.9 1044.7 1935.6 1044.6C1941.3 1044.4 1945.4 1045 1950.8 1044.2C1956.1 1043.4 1962.5 1039.7 1967.9 1040C1973.3 1040.3 1978.3 1041.6 1983.1 1046.1C1987.8 1050.6 1992.3 1058.1 1996.4 1067C2000.5 1075.9 2004.6 1089.2 2007.8 1099.3C2010.9 1109.5 2012.8 1117.7 2015.4 1127.8C2017.9 1138 2021.7 1154.7 2023 1160.1" fill="none" stroke="#000" stroke-width="1.1"/>
<path d="M1297.2 594.9V836.8H1667.4M1678.5 836.8H2049" stroke="#000" stroke-width="4" fill="none"/>
<path d="M1313.8 836.8v6M1397.9 836.8v6M1481.6 836.8v6M1565.7 836.8v6M1650.6 836.8v6M1695.2 836.8v6M1778.9 836.8v6M1863 836.8v6M1947.9 836.8v6M2030.8 836.8v6" stroke="#000" stroke-width="4"/>
<text x="1313.8" y="860.3" font-size="20.5" text-anchor="middle">0</text>
<text x="1397.9" y="860.3" font-size="20.5" text-anchor="middle">0.25</text>
<text x="1481.6" y="860.3" font-size="20.5" text-anchor="middle">0.5</text>
<text x="1565.7" y="860.3" font-size="20.5" text-anchor="middle">0.75</text>
<text x="1650.6" y="860.3" font-size="20.5" text-anchor="middle">1</text>
<text x="1695.2" y="860.3" font-size="20.5" text-anchor="middle">0</text>
<text x="1778.9" y="860.3" font-size="20.5" text-anchor="middle">0.25</text>
<text x="1863" y="860.3" font-size="20.5" text-anchor="middle">0.5</text>
<text x="1947.9" y="860.3" font-size="20.5" text-anchor="middle">0.75</text>
<text x="2030.8" y="860.3" font-size="20.5" text-anchor="middle">1</text>
<path d="M1672.9 598.6V628.3M1672.9 694.6V769.2M1672.9 835.6V865.3" stroke="#4d4d4d" stroke-width="1.8"/>
<text x="1302.9" y="613.4" font-size="20.5">PB mesenchyme</text>
<text x="1678.1" y="613.4" font-size="20.5">DB mesenchyme</text>
<text transform="translate(1278.6 716.2) rotate(-90)" font-size="20.5" text-anchor="middle">10 DPA expression</text>
<text x="1672.5" y="893.5" font-size="20.7" text-anchor="middle">Proximodistal location</text>
<text x="1631.6" y="918.5" font-size="20">P</text>
<text x="1699.2" y="918.5" font-size="20">D</text>
<path d="M1650.8 912.2H1694" stroke="#000" stroke-width="1.3"/>
<path d="M1686.5 907.5L1695.5 912.2L1686.5 916.9" stroke="#000" stroke-width="1.3" fill="none"/>
<rect x="1450.6" y="934.7" width="25.2" height="6.2" fill="#ff00ff"/>
<rect x="1579.2" y="934.7" width="24.7" height="6.2" fill="#ffcc00"/>
<rect x="1680.6" y="934.7" width="24.1" height="6.2" fill="#666666"/>
<rect x="1793.2" y="934.7" width="24.6" height="6.2" fill="#00cccc"/>
<text x="1481.6" y="943" font-size="20" font-style="italic">Cyp26b1</text>
<text x="1610.5" y="943" font-size="20" font-style="italic">Meis1</text>
<text x="1711.5" y="943" font-size="20" font-style="italic">Hoxa11</text>
<text x="1824.3" y="943" font-size="20" font-style="italic">Hoxa13</text>
<path d="M1297.2 1018.5V1260H1667.4M1678.5 1260H2049" stroke="#000" stroke-width="4" fill="none"/>
<path d="M1313.8 1260v6M1397.9 1260v6M1481.6 1260v6M1565.7 1260v6M1650.6 1260v6M1694.8 1260v6M1779.2 1260v6M1863.3 1260v6M1947.9 1260v6M2031.9 1260v6" stroke="#000" stroke-width="4"/>
<text x="1313.8" y="1283.1" font-size="20.5" text-anchor="middle">0</text>
<text x="1397.9" y="1283.1" font-size="20.5" text-anchor="middle">0.25</text>
<text x="1481.6" y="1283.1" font-size="20.5" text-anchor="middle">0.5</text>
<text x="1565.7" y="1283.1" font-size="20.5" text-anchor="middle">0.75</text>
<text x="1650.6" y="1283.1" font-size="20.5" text-anchor="middle">1</text>
<text x="1694.8" y="1283.1" font-size="20.5" text-anchor="middle">0</text>
<text x="1779.2" y="1283.1" font-size="20.5" text-anchor="middle">0.25</text>
<text x="1863.3" y="1283.1" font-size="20.5" text-anchor="middle">0.5</text>
<text x="1947.9" y="1283.1" font-size="20.5" text-anchor="middle">0.75</text>
<text x="2031.9" y="1283.1" font-size="20.5" text-anchor="middle">1</text>
<path d="M1672.9 1018.4V1048.4M1672.9 1114.4V1189.4M1672.9 1256.5V1285.3" stroke="#4d4d4d" stroke-width="1.8"/>
<text x="1302.9" y="1037" font-size="20.5">PB mesenchyme</text>
<text x="1678.1" y="1037" font-size="20.5">DB mesenchyme</text>
<text transform="translate(1278.6 1139.7) rotate(-90)" font-size="20.5" text-anchor="middle">14 DPA expression</text>
<text x="1672.5" y="1313" font-size="20.7" text-anchor="middle">Proximodistal location</text>
<text x="1631.6" y="1338.2" font-size="20">P</text>
<text x="1699.2" y="1338.2" font-size="20">D</text>
<path d="M1650.8 1331.9H1694" stroke="#000" stroke-width="1.3"/>
<path d="M1686.5 1327.2L1695.5 1331.9L1686.5 1336.6" stroke="#000" stroke-width="1.3" fill="none"/>
<rect x="1450.6" y="1353.3" width="25.2" height="6.2" fill="#ff00ff"/>
<rect x="1579.2" y="1353.3" width="24.7" height="6.2" fill="#ffcc00"/>
<rect x="1680.6" y="1353.3" width="24.1" height="6.2" fill="#666666"/>
<rect x="1793.2" y="1353.3" width="24.6" height="6.2" fill="#00cccc"/>
<text x="1481.6" y="1361.6" font-size="20" font-style="italic">Cyp26b1</text>
<text x="1610.5" y="1361.6" font-size="20" font-style="italic">Meis1</text>
<text x="1711.5" y="1361.6" font-size="20" font-style="italic">Hoxa11</text>
<text x="1824.3" y="1361.6" font-size="20" font-style="italic">Hoxa13</text>
</g>
<g id="panelC">
<rect x="45" y="539" width="386.1" height="385.9" fill="#000"/>
<g clip-path="url(#rc_tl)">
<g filter="url(#soft)"><g fill="none" stroke-linecap="round"><path stroke="#202020" stroke-width="5" d="M215 810l-2 2M222 843l1 0M220 628l-1 0"/><path stroke="#303030" stroke-width="4" d="M249 803l-1 3M299 811l0 1"/><path stroke="#303030" stroke-width="5" d="M318 851l3 2M312 807l2 0M262 798l1 4M251 824l3 2M200 835l1 1M388 710l2 1M253 834l3 0M335 728l-2 2M260 832l3 1"/><path stroke="#303030" stroke-width="6" d="M324 651l-1 0M284 626l2 2"/><path stroke="#404040" stroke-width="4" d="M182 810l1 0M203 644l-1 2M395 742l2 1M187 816l1 1M254 797l0 3M236 867l-1 1M208 851l-1 1M309 837l-2 1M226 590l0 2M180 764l3 0"/><path stroke="#404040" stroke-width="5" d="M285 888l1 2M216 861l-1 0M320 667l-3 0M83 687l0 3M333 829l-1 1M239 848l0 1M194 817l0 3M244 817l-2 2M183 625l1 3M114 723l0 3M246 836l0 2M165 817l2 0M197 827l-3 2M343 849l0 1M299 804l1 1M311 856l-2 1M224 565l0 1M261 838l-1 2M170 811l1 2M385 749l0 3M388 805l-3 2M362 763l1 0M265 764l-1 1M283 868l1 0M319 720l-2 1M333 660l0 1M357 777l-1 2M276 828l1 2M290 804l1 2M205 807l1 1M119 665l-1 2M272 877l0 1M365 790l-1 0M313 677l-2 1M178 799l0 3M275 757l3 1M243 652l-3 2M280 733l1 1"/><path stroke="#404040" stroke-width="6" d="M398 702l0 1M166 831l-1 0M357 828l2 1M311 644l-1 4"/><path stroke="#505050" stroke-width="4" d="M190 587l0 1M295 875l-1 1M181 817l0 3M186 826l-1 0M310 845l0 1M238 878l2 1M214 838l-1 0M202 813l-2 1M250 856l2 2M257 812l-3 1M252 844l1 1M185 839l1 1M240 806l-2 1M312 866l-1 3M202 823l-1 2M221 807l-1 1M215 849l1 2M269 823l-2 0M293 890l2 2"/><path stroke="#505050" stroke-width="5" d="M148 816l1 2M235 584l1 0M124 675l-1 1M194 688l-1 1M192 807l2 3M380 694l0 2M307 653l2 0M196 669l0 1M258 855l4 1M324 634l0 1M361 772l3 1M247 690l1 2M277 863l-1 0M411 723l-1 1M377 666l2 1M310 822l1 0M256 641l-2 3M382 770l-1 3M362 661l-1 1M271 811l2 0M156 606l-3 1M176 595l0 2M255 805l0 1M298 851l3 2M264 818l-1 0M254 688l1 2M195 853l-2 1M246 758l-1 3M211 845l1 0M270 830l-2 1M202 691l3 1M293 650l1 1M176 664l1 0M334 802l1 1M275 635l0 3M109 717l1 1M179 824l-2 3M315 840l1 1M252 628l2 2M270 849l-2 0M337 650l-2 0M288 736l1 0M243 608l-4 1M377 787l-1 1M257 704l1 1M286 760l-2 2M283 878l3 1M264 791l1 2M266 859l-1 1M382 741l3 1M373 762l-1 1M217 831l1 1M207 663l-2 3M206 680l-4 2M281 835l-1 2M260 847l4 0M319 813l-1 1M183 655l0 1M278 888l1 1M388 693l1 3M269 803l0 1M186 752l1 3M296 782l1 4M172 805l1 1M368 745l2 1M286 860l-1 2M326 858l3 1M229 863l-1 1M261 770l0 3M260 757l-1 0M191 801l1 0M328 696l0 2M236 725l0 2M292 869l1 0M339 826l0 1M333 853l-1 1M300 870l-3 1"/><path stroke="#505050" stroke-width="6" d="M111 691l0 1M266 754l0 1M322 876l-2 1M394 722l-1 0M233 660l-1 1M358 677l-3 2M167 739l3 2M209 655l0 3M276 748l2 1M120 788l-1 0M259 633l-1 1M261 683l-1 2M314 659l-1 2M237 576l0 3M406 698l1 3M287 675l-4 1M214 774l2 1M355 765l0 2M290 620l1 1M207 775l-2 4M252 601l-1 1M221 570l-2 0M405 733l-1 0M405 706l0 3M370 777l0 1M403 720l-1 3M413 700l0 1M320 744l1 0M399 715l0 1M399 732l-1 3M209 649l-1 1"/><path stroke="#606060" stroke-width="4" d="M211 815l-2 2M281 580l-1 0M336 808l3 2M293 815l0 1M261 824l1 2M232 826l-2 2M275 658l0 1M203 801l-2 0M240 700l0 1M236 812l0 1M275 820l2 2M207 827l1 2M238 824l1 1M247 829l0 1M275 856l2 1M286 818l-3 1M102 733l1 1M332 841l-1 1M245 861l-1 2M230 813l0 1M318 640l-1 1M245 645l1 0M309 815l-3 1M302 843l1 1M326 849l1 1M249 870l-3 0M314 651l3 1M199 842l1 0M181 835l-2 1M272 843l1 1"/><path stroke="#606060" stroke-width="5" d="M228 668l3 0M85 631l-2 1M208 671l-1 0M184 790l1 1M323 844l-1 1M207 708l-1 0M126 602l-1 1M381 681l2 4M96 689l2 1M208 789l-1 2M322 692l0 1M305 808l1 2M247 886l1 1M157 703l0 4M232 760l-1 1M276 875l3 0M324 702l-2 2M216 722l1 3M368 675l1 0M374 700l1 0M226 834l1 0M347 789l-1 2M363 782l1 0M283 696l0 2M287 845l1 1M244 852l1 1M348 731l2 1M260 626l1 0M307 743l2 0M281 605l-2 2M132 686l2 2M306 723l0 2M192 728l1 2M218 590l0 4M227 623l-2 2M261 869l-2 1M223 817l2 2M296 860l-3 3M224 733l3 2M318 710l2 2M220 664l1 1M276 702l0 2M248 739l0 1M300 836l-1 1M304 884l-2 3M209 718l1 0M230 741l-1 1M305 750l-1 1M272 795l0 1M238 647l-2 0M314 698l-1 3M268 775l1 1M349 837l1 3M184 801l2 0M156 658l1 0M192 640l1 1M265 807l-3 2M305 875l-1 2M314 827l1 2M171 797l-1 2M266 873l0 1M214 801l3 2M327 813l1 0M79 735l2 1M122 734l2 1M325 834l-1 0M261 716l-2 0M413 728l-2 1M230 793l-2 1M244 676l-2 3M297 745l3 1M217 609l2 1M307 711l1 3M291 853l-4 1M199 776l-1 2M103 725l2 1M322 864l3 3M92 709l-1 2M238 747l-1 1M205 700l-2 2M215 822l1 3M279 798l1 4M296 752l0 2M122 778l0 1M95 621l1 2M268 682l2 1M328 642l0 4M216 600l-2 0M396 803l-1 2M283 634l2 2M279 784l3 2M332 893l1 1M250 610l-2 1M86 612l3 2M128 770l3 1M238 792l-2 2M362 753l-1 3M197 749l3 2M306 662l0 1M235 709l4 0M204 571l-2 0M218 817l-2 1M192 792l-1 2M341 732l1 2M377 705l0 2M278 807l-1 1M172 819l3 0M293 640l2 1M354 809l1 1M281 842l0 1M291 797l2 2M77 741l-2 1"/><path stroke="#606060" stroke-width="6" d="M127 654l0 1M301 641l1 1M312 619l0 1M141 715l1 4M152 639l0 1M227 643l0 1M252 752l3 0M268 888l-1 1M179 678l2 3M250 682l-1 1M166 623l1 0M225 577l-2 2M406 715l-2 1M178 738l-3 3M278 629l1 3M225 653l0 1M212 575l2 0M107 769l-1 0M209 878l0 3M412 706l-1 0M133 755l-2 0M308 797l2 4M138 621l0 1M278 740l-1 1M203 744l-4 0M246 788l-3 2M184 612l-2 2M170 610l0 1M391 798l-1 1M179 634l-3 2M377 729l2 3M408 747l3 0M309 767l-1 3M316 737l-2 1M208 725l1 2M71 607l3 0M260 697l0 1M404 726l0 3M199 728l3 0M80 580l2 1M74 592l2 2M268 745l-1 0M144 751l-1 1M408 753l0 1M322 673l0 2M384 702l2 1M248 585l0 1M246 768l2 1"/><path stroke="#606060" stroke-width="7" d="M385 817l3 0"/><path stroke="#707070" stroke-width="4" d="M238 800l-3 1M217 634l0 2M326 710l1 1M349 771l-1 0M235 858l2 0M343 726l0 1M307 829l-2 1M315 859l0 1M250 812l-2 1M291 770l0 1M326 819l1 1M222 800l-1 1M210 798l-1 1"/><path stroke="#707070" stroke-width="5" d="M268 693l-1 1M357 802l-1 0M230 706l0 4M181 696l0 2M161 729l0 3M150 748l1 0M200 794l1 1M262 675l1 1M376 689l-1 1M109 646l2 2M148 582l-3 0M220 698l3 1M306 897l-1 2M322 824l-2 3M367 796l-1 3M325 803l-1 1M139 735l-1 1M254 587l2 3M214 746l-3 2M403 687l2 1M179 757l1 0M229 725l-3 1M278 772l2 3M297 684l2 3M250 699l1 1M317 769l1 2M322 793l-2 1M336 719l-2 3M354 745l2 1M92 678l-2 0M189 709l1 2M107 748l2 1M98 699l1 1M79 607l0 1M148 618l1 3M271 868l0 1M297 676l-1 1M329 737l2 1M322 736l1 0M65 619l1 1M160 759l1 2M348 826l-3 1M247 593l1 0M278 724l3 2M168 766l3 3M249 571l-1 0M212 581l2 0M348 640l2 1M272 606l0 1M211 567l1 0M251 563l-2 2M222 793l-2 2M230 845l1 1M276 847l2 3M289 749l-3 2M245 616l0 3M102 614l2 2M181 727l1 2M290 685l-2 1M300 763l0 1M127 564l0 3M255 729l-1 1M269 836l0 2M355 788l-2 0M160 752l-1 1M296 883l-1 2M347 719l0 3M299 664l1 1M236 840l0 1M116 742l-1 0M268 618l-1 3M129 628l2 2M69 632l1 0M325 661l-1 1M217 654l-1 0M349 873l-3 0M245 627l-3 2M112 733l-1 0M385 733l0 3M192 744l-1 2M390 685l-2 1M81 644l4 1M230 564l2 2M233 806l-3 1M290 743l1 1M316 689l-1 1M148 739l0 1M225 758l-1 3M168 658l0 1M237 833l1 0M369 694l0 1M304 693l1 2M273 732l2 0M342 795l-1 1M306 704l1 1M286 599l0 1M344 652l0 1M376 740l-2 1M207 864l-1 1M207 738l-3 1M374 845l-2 1M214 702l-1 1M361 851l-1 0M241 843l4 1M141 743l1 1M172 688l3 1M171 731l-3 2M130 735l2 2M385 675l2 1M263 783l0 1"/><path stroke="#707070" stroke-width="6" d="M139 675l-1 2M292 723l3 1M337 785l1 1M98 720l1 2M239 781l-3 3M162 717l-3 2M181 748l2 0M245 901l0 1M212 683l1 1M254 900l0 1M113 758l3 2M90 769l1 1M293 758l-1 2M344 672l-3 3M275 766l-1 2M293 632l0 1M224 782l-1 2M135 774l1 1M64 611l3 0M285 793l1 1M233 773l1 3M204 767l4 2M269 710l0 1M300 714l0 1M169 848l-1 0M299 657l1 0M260 664l-2 4M131 706l-2 1M163 635l-1 1M156 844l2 0M258 778l-3 1M127 572l1 2M344 778l1 1M196 757l-3 1M414 716l-1 2M370 848l-3 1M329 774l0 1M231 631l3 3M203 577l2 2M299 698l0 1M130 792l-1 4M395 770l1 1M171 746l1 1M133 747l1 2M394 752l0 1M224 888l0 3M245 779l0 1M376 713l-1 1M339 774l-2 3M231 602l-2 2M159 738l1 3M243 576l1 1M389 810l1 2M108 755l-2 2M162 849l3 1M89 730l-1 0M324 611l0 3M335 621l1 1M249 893l-2 2M131 720l-1 1M347 633l0 1M384 823l3 0M161 840l-1 0"/><path stroke="#707070" stroke-width="7" d="M238 895l-2 0M121 569l-2 1"/><path stroke="#808080" stroke-width="4" d="M317 783l1 1M93 604l1 0M290 704l3 1M162 803l-1 2M379 759l-1 1M266 611l-1 0M161 812l-2 2M266 733l1 0M334 820l-2 2M317 800l-1 1M154 806l1 0M221 825l2 1M239 597l1 3M275 623l1 2M249 636l0 1"/><path stroke="#808080" stroke-width="5" d="M287 644l0 2M120 751l2 2M163 693l-1 1M191 833l1 2M308 682l-4 0M255 864l0 3M230 753l-3 1M290 693l3 0M202 635l0 1M358 698l2 1M255 878l-2 2M252 784l-1 1M106 740l0 1M354 816l-1 1M120 622l3 1M209 623l-1 1M402 758l2 0M226 571l1 1M193 616l1 1M174 791l2 1M378 747l0 1M269 725l-1 2M321 682l-3 0M101 593l1 1M174 725l0 1M222 599l1 0M321 777l3 2M325 725l1 2M197 627l0 3M371 753l-2 1M278 615l-1 0M376 724l-2 0M350 681l1 1M155 670l-3 2M284 809l1 1M98 639l1 2M308 788l1 1M303 865l-1 0M98 652l2 1M258 788l-2 1M349 859l-2 0M281 568l1 1M191 766l-3 0M303 732l0 1M220 619l-4 0M289 780l-1 1M289 573l2 2M311 760l0 1M342 659l2 3M329 789l-2 2M240 769l0 2M267 574l1 3M87 763l1 0M318 750l1 1M368 733l1 0M355 863l0 1M361 811l2 3M311 875l1 0M140 726l-1 1M264 600l-1 2M231 700l-1 0M197 719l1 3M340 835l2 2M363 725l-2 1M79 587l0 3M126 559l-1 1M89 750l1 0M216 874l2 2M294 844l3 1M274 719l-2 1M267 663l1 1M148 831l-2 2M304 629l1 1M303 671l0 1M296 612l-2 2M234 676l2 1M376 678l0 4M366 805l1 1M241 753l1 1M158 832l0 1M232 570l2 1M230 853l1 3M74 697l0 1M299 895l2 1M343 818l-1 0M110 586l-1 0M142 783l-1 0M295 595l-2 0M212 632l-2 1M242 890l-2 1M167 842l3 2M260 723l-1 0M303 794l-1 1M212 641l1 1M244 562l-1 2M276 695l-1 1M213 784l0 1M221 645l-1 3M263 643l2 2M311 669l1 2M293 898l-1 2M215 670l-1 0M300 648l3 2M167 591l2 2M294 736l3 1M96 750l-1 1M366 714l0 1M354 724l0 1M275 668l1 2M329 669l-1 3M298 621l2 2M331 782l-2 1M279 644l-1 1M258 735l-1 1M164 745l-1 1M267 703l0 1M194 784l-3 1M411 740l1 1M141 801l1 1M309 881l2 1M115 570l-1 2M224 851l1 2M113 656l-3 1"/><path stroke="#808080" stroke-width="6" d="M364 857l-1 1M238 668l0 1M411 734l0 2M76 710l3 0M169 643l0 1M277 675l-3 3M130 728l4 1M256 767l-3 2M237 716l0 3M342 639l0 1M188 777l-1 1M194 736l4 1M71 653l3 2M237 636l4 0M148 730l-1 4M343 861l-2 2M221 690l-2 2M404 743l1 1M169 757l1 1M336 794l-2 0M279 904l-1 1M338 629l-2 1M250 650l1 3M334 694l2 1M252 721l-2 0M73 597l-2 1M287 718l2 1M231 610l2 1M141 654l2 1M258 743l-1 0M87 657l-2 0M271 784l1 1M253 890l0 1M216 733l-2 4M92 744l0 1M271 567l-2 0M372 838l-2 2M412 694l-3 1M237 563l1 1M257 607l-1 0M161 773l3 2M381 719l0 1M82 600l-2 2M176 855l-1 2M274 553l0 1M309 632l4 1M268 561l-2 1M219 743l3 3M330 683l-1 0M148 725l4 0M212 870l-1 0M69 591l1 0M64 626l1 0M344 691l-2 3M402 751l1 1M74 639l2 2M104 798l-1 1M221 715l0 1M352 856l2 1M331 885l2 2M276 594l1 1M199 766l0 1M149 781l-1 1M149 836l0 3M115 703l0 2M78 674l-2 1M276 896l-1 1M256 658l-2 3M216 880l0 2M340 617l-1 1M120 563l0 1M379 821l-2 1M399 691l1 1M120 725l3 3M324 602l0 1M76 613l3 2M77 620l-1 1M70 613l1 1M238 692l1 1M245 670l5 0M84 589l1 3M404 765l1 1M270 629l1 0M345 622l0 4M265 908l1 0M68 641l-1 0M229 682l3 0M173 716l1 0M190 871l2 3M227 875l1 2M232 786l-2 1M74 628l1 1M62 650l-2 2"/><path stroke="#909090" stroke-width="4" d="M300 823l-3 2M295 830l-1 0"/><path stroke="#909090" stroke-width="5" d="M356 631l-1 0M154 768l1 0M95 664l-3 1M365 687l2 2M169 855l0 1M281 660l1 0M106 666l0 1M260 564l3 0M336 767l-3 1M187 736l1 2M291 835l-1 0M113 563l0 3M297 791l-3 2M272 648l2 3M338 887l1 1M216 753l1 1M351 669l-2 1M122 761l1 2M289 825l0 2M108 676l0 2M354 641l3 0M172 778l-2 0M342 741l2 0M232 618l1 3M310 729l1 1M90 573l1 0M194 658l1 0M179 774l0 1M126 694l-2 1M223 767l-1 1M266 635l0 1M269 587l-1 1M231 689l1 1M259 568l-2 2M117 638l0 1M106 631l0 1M66 667l1 1M262 904l-1 1M345 762l-3 0M336 673l-2 0M238 684l0 1M237 739l1 1M166 675l1 2M144 835l0 1M252 617l4 1M329 748l-2 1M301 775l-1 0M347 808l-2 1M147 771l1 2M165 795l-3 1M341 713l-1 2M142 698l-1 1M360 717l-3 1M380 810l0 1M364 705l0 2M120 771l-1 1M328 760l-2 2M254 670l1 3M270 599l2 0M72 644l1 1M263 593l-3 2M285 652l1 1M207 754l0 1M288 662l3 0M373 812l0 1M75 579l-1 1M284 706l-1 1M282 683l-2 3M360 732l0 1M347 708l0 2M318 605l2 1M152 758l-1 4M360 795l-3 0M190 567l1 1M253 555l-1 0M134 762l-2 1M350 661l-1 3M328 621l1 1M409 677l1 2M308 908l3 0M274 559l0 1M193 699l2 3M83 573l-3 1M130 579l0 1M295 912l2 0M205 617l-1 1M243 796l1 1M119 553l-1 2M324 767l2 2M178 783l-1 1M362 845l0 2M347 878l-2 2M399 781l0 1M244 720l-2 3"/><path stroke="#909090" stroke-width="6" d="M289 709l1 4M206 596l-1 2M390 659l-2 0M345 701l1 0M349 738l3 1M114 557l-2 0M382 798l-1 2M398 686l1 0M311 776l0 1M155 828l1 1M137 583l-1 1M200 784l0 4M73 724l-1 0M88 585l-3 0M96 764l1 0M331 615l0 3M175 704l-3 2M94 566l2 2M224 673l-1 0M338 756l-1 2M340 882l3 1M106 603l2 1M335 704l1 2M221 708l-4 2M122 581l3 2M162 593l1 1M299 575l-1 0M243 730l1 1M317 904l-3 2M296 567l2 3M228 883l1 3M197 867l0 2M110 803l0 3M195 604l0 1M285 904l0 1M297 906l1 1M203 589l2 0M120 717l3 2M327 894l-1 1M306 595l-1 1M226 614l1 1M63 660l-1 0M259 654l3 1M224 635l1 2M66 647l1 2M303 901l-2 2M142 768l-3 3M364 740l-2 0M91 775l0 2M308 604l2 1M114 612l0 4M130 664l4 1M205 607l-1 2M335 871l2 0M71 622l1 2M291 908l-2 1M199 567l-1 2M82 740l2 1M153 843l-3 1M278 712l-1 0M194 860l3 1M223 877l-2 3M93 579l2 0M322 619l0 3M96 756l1 2M129 780l0 4M273 905l-2 1M68 603l-1 0M61 639l1 2M411 683l1 1M287 728l1 1M134 786l1 3M319 630l-1 1M347 866l-1 0M117 583l0 1M72 584l-2 1M255 906l2 1"/><path stroke="#909090" stroke-width="7" d="M183 866l1 0M175 841l-1 3"/><path stroke="#a0a0a0" stroke-width="4" d="M126 741l-1 1M299 706l0 1"/><path stroke="#a0a0a0" stroke-width="5" d="M246 712l1 0M165 785l2 1M143 761l1 2M183 859l1 2M213 694l0 1M393 790l0 1M136 641l-2 0M290 605l-2 3M133 593l0 1M212 613l-1 2M331 877l-2 0M117 802l-1 2M329 608l0 3M144 590l0 1M269 900l1 1M222 680l0 3M88 757l-1 0M351 753l1 2M246 661l-4 0M150 683l0 1M101 563l0 1M283 558l-2 1M65 635l-1 1M193 572l1 1M339 748l3 2M401 776l0 1M351 645l0 1M354 709l2 1M201 863l1 1M317 895l-1 1M145 631l-1 1M102 789l0 1M369 657l1 1M79 702l-2 1M84 750l0 2M116 595l-2 1M291 565l2 1M391 766l-2 3M277 565l-1 1M232 733l2 1M96 785l-2 1M264 549l-1 0M376 646l-1 1M286 616l-3 2"/><path stroke="#a0a0a0" stroke-width="6" d="M338 683l2 1M279 909l0 1M76 667l2 2M378 827l0 1M320 899l-1 1M313 608l2 0M201 872l0 2M354 869l-2 1M301 584l0 1M135 603l1 1M76 732l-3 2M189 864l1 1M305 602l-1 0M73 717l-1 0M139 794l0 1M313 599l-3 1M88 736l1 1M87 577l1 2M260 897l-1 2M105 783l-1 1M122 587l-1 1M349 628l1 0M298 588l-1 3M105 569l1 0M295 582l1 1M397 659l0 1M396 760l0 1M151 588l1 3M82 725l-2 0M73 679l1 2M148 825l0 1M380 651l2 1M67 709l1 0M338 879l-3 0M69 660l-2 1M304 909l-1 3M361 644l-1 1M233 891l-2 1M360 685l-4 2M99 772l-2 2M238 571l2 1M189 721l1 3M399 766l0 1M377 835l1 3M113 809l1 0M188 578l0 2M289 583l2 2M326 884l3 1M75 686l-1 3M397 795l0 1M68 674l1 0M366 832l2 2M312 592l-1 1M108 775l0 3M155 838l1 1M202 879l2 1M390 773l0 1M280 898l1 1M80 696l-2 0M310 902l1 0"/><path stroke="#b0b0b0" stroke-width="4" d="M147 805l-1 0"/><path stroke="#b0b0b0" stroke-width="5" d="M213 760l4 0M261 580l-3 1M354 693l0 1M128 589l0 1M358 651l-2 2M348 799l2 2M390 652l-1 1M184 850l0 2M157 782l0 2M80 744l1 3M413 688l1 2M394 668l-2 1M370 824l1 1M385 781l2 1M256 560l-1 2M182 586l-1 1M103 776l-2 0M169 585l-1 1M121 800l2 1M336 612l-1 0M142 830l-3 1M130 613l-1 2"/><path stroke="#b0b0b0" stroke-width="6" d="M81 718l-1 1M398 675l2 0M361 840l2 1M406 681l-1 1M120 577l1 1M179 847l-2 2M317 886l-2 3M108 559l-2 1M299 597l3 1M196 579l-2 0M287 563l-2 1M403 663l1 0M107 793l1 1M342 870l1 0M149 595l2 2M183 581l0 1M354 848l3 1M71 693l-3 1M394 785l1 1M399 669l3 1M179 575l-3 1M385 666l-1 0M269 553l-2 1M371 649l0 1M158 589l-2 2M386 792l-1 2M112 796l1 1M83 714l1 0M389 787l-2 1M179 863l-1 0M368 643l-1 1"/><path stroke="#b0b0b0" stroke-width="7" d="M403 675l3 0M138 592l1 2"/><path stroke="#c0c0c0" stroke-width="5" d="M152 798l-1 1M176 585l-2 1M323 886l-1 2M410 669l-1 2M139 813l-2 2M309 892l-1 1M360 636l0 1"/><path stroke="#c0c0c0" stroke-width="6" d="M151 788l-1 2M72 705l0 1M121 813l2 2M393 778l2 3M138 825l0 2M216 888l3 0M286 913l0 1M128 807l-2 1M259 552l-1 1M104 573l-1 2M163 585l-2 2M73 662l1 0M68 687l-3 2M152 581l3 1M372 830l-1 1M319 600l-1 1M381 658l-1 1M308 587l-2 2M98 559l-2 0M85 722l1 0M330 626l0 1M88 567l-1 1"/><path stroke="#d0d0d0" stroke-width="5" d="M366 653l-1 0M136 819l-1 1M68 700l0 2"/><path stroke="#d0d0d0" stroke-width="6" d="M129 820l2 1M96 780l1 0M172 580l-3 0M135 829l-2 2M319 614l0 3M134 810l-1 1"/><path stroke="#e0e0e0" stroke-width="6" d="M184 574l-2 1M64 677l0 1M110 783l1 1"/><path stroke="#e0e0e0" stroke-width="7" d="M122 819l1 1"/><path stroke="#f0f0f0" stroke-width="6" d="M129 814l-1 1"/></g></g><g filter="url(#mag)" fill="none" stroke="#fff" stroke-linecap="round"><path stroke-opacity="0.3" stroke-width="7" d="M181 817l0 3M238 800l-3 1M214 838l-1 0M187 816l1 1M293 815l0 1M203 801l-2 0M235 858l2 0M275 820l2 2M207 827l1 2M208 851l-1 1M247 829l0 1M275 856l2 1M332 841l-1 1M315 859l0 1M249 803l-1 3M250 812l-2 1M312 866l-1 3M202 823l-1 2M326 819l1 1M222 800l-1 1M210 798l-1 1"/><path stroke-opacity="0.3" stroke-width="8" d="M285 888l1 2M191 833l1 2M192 807l2 3M318 851l3 2M258 855l4 1M323 844l-1 1M322 824l-2 3M174 791l2 1M277 863l-1 0M289 825l0 2M271 811l2 0M255 805l0 1M244 817l-2 2M287 845l1 1M264 818l-1 0M271 868l0 1M258 788l-2 1M315 840l1 1M270 849l-2 0M304 884l-2 3M170 811l1 2M222 793l-2 2M311 875l1 0M184 801l2 0M276 847l2 3M200 835l1 1M265 807l-3 2M171 797l-1 2M214 801l3 2M230 793l-2 1M283 868l1 0M291 853l-4 1M148 831l-2 2M215 822l1 3M230 853l1 3M319 813l-1 1M276 828l1 2M290 804l1 2M205 807l1 1M272 877l0 1M286 860l-1 2M279 784l3 2M191 801l1 0M241 843l4 1M243 796l1 1M142 830l-3 1M260 832l3 1M281 842l0 1M300 870l-3 1"/><path stroke-opacity="0.3" stroke-width="9" d="M268 888l-1 1M200 784l0 4M169 848l-1 0M209 878l0 3M201 872l0 2M271 784l1 1M253 890l0 1M308 797l2 4M156 844l2 0M246 788l-3 2M148 825l0 1M245 779l0 1M149 836l0 3M216 880l0 2M190 871l2 3M155 838l1 1M232 786l-2 1"/><path stroke-opacity="0.3" stroke-width="10" d="M238 895l-2 0"/><path stroke-opacity="0.4" stroke-width="7" d="M250 856l2 2M295 830l-1 0"/><path stroke-opacity="0.4" stroke-width="8" d="M266 873l0 1M201 863l1 1"/><path stroke-opacity="0.4" stroke-width="9" d="M179 847l-2 2"/><path stroke-opacity="0.5" stroke-width="8" d="M178 799l0 3"/></g><path stroke="#f0f" stroke-width="1.6" d="M411 734h2M65 663h2M70 593h2M407 766h2M66 706h2M408 747h2M130 580h2M67 603h2M89 772h2M288 913h2M128 575h2M412 719h2M400 780h2M128 567h2M274 911h2M401 781h2M94 781h2M322 900h2M65 684h2M349 626h2M304 909h2M173 854h2M213 884h2M75 728h2M65 699h2M272 911h2M92 769h2M406 765h2M375 836h2M159 846h2M414 695h2M94 780h2M349 872h2M379 835h2M230 893h2M69 599h2M80 751h2M241 897h2M189 869h2M288 914h2M376 839h2M342 885h2M227 887h2M132 826h2M112 810h2M169 580h2M68 603h2M70 599h2M352 867h2M400 782h2M69 596h2M230 890h2M67 696h2M90 773h2M367 853h2M383 825h2M344 878h2M339 882h2M76 741h2M413 730h2M300 582h2M83 751h2M246 898h2M381 832h2M407 762h2M345 879h2M213 570h2M72 711h2M358 861h2M74 733h2M243 900h2M128 820h2M63 679h2M383 822h2M374 839h2M387 820h2M310 910h2M325 897h2M90 774h2M68 717h2M84 753h2M292 914h2M63 646h2M67 620h2M252 903h2M89 765h2M65 655h2M398 794h2M100 793h2M69 715h2M403 776h2M375 840h2M131 576h2M155 844h2M71 596h2M339 616h2M118 814h2M63 666h2M73 587h2M67 609h2M323 899h2M73 582h2M414 721h2M346 877h2M257 904h2M68 617h2M109 805h2M360 642h2M403 760h2M90 769h2M285 910h2M74 583h2M66 676h2M126 565h2M358 865h2M188 867h2M74 725h2M398 783h2M163 848h2M407 743h2M260 551h2M63 631h2M264 905h2M390 802h2M100 786h2M104 801h2M241 898h2M398 660h2M355 867h2M408 742h2M398 793h2M383 826h2M357 866h2M116 810h2M169 852h2M175 581h2M63 640h2M90 768h2M153 843h2M310 907h2M351 628h2M364 854h2M184 569h2M401 778h2M163 852h2M407 760h2M67 603h2M83 750h2M278 560h2M376 649h2M257 907h2M395 795h2M321 902h2M411 733h2M202 874h2M244 900h2M358 860h2M67 613h2M389 809h2M85 761h2M210 881h2M347 878h2M401 788h2M61 638h2M149 836h2M93 779h2M84 760h2M411 733h2M384 825h2M184 867h2M66 608h2M373 835h2M66 644h2M71 714h2M65 624h2M81 750h2M66 670h2M270 554h2M287 911h2M217 883h2M68 692h2M89 765h2M101 790h2M125 821h2M402 778h2M115 809h2M319 903h2M146 585h2M267 553h2M273 557h2M67 715h2M306 906h2M394 799h2M273 554h2M76 731h2M337 883h2M67 695h2M243 898h2M187 867h2M393 801h2M73 731h2M68 617h2M67 611h2M68 628h2M71 599h2M69 712h2M355 864h2M64 675h2M414 706h2M70 722h2M341 885h2M327 896h2M148 837h2M95 780h2M387 814h2M63 634h2M179 865h2M86 759h2M69 694h2M70 589h2M407 755h2M103 795h2M139 828h2M169 858h2M79 737h2M70 607h2M112 806h2M341 620h2M146 585h2M118 553h2M170 859h2M239 897h2M128 820h2M67 671h2M386 814h2M266 910h2M360 862h2M109 804h2M85 764h2M76 731h2M407 766h2M72 587h2M412 737h2M73 721h2M411 735h2M319 903h2M225 890h2M66 685h2M107 796h2M97 780h2M70 610h2M252 901h2M356 632h2M410 738h2M369 844h2M65 623h2M375 840h2M410 735h2M106 800h2M65 632h2M230 889h2M130 823h2M181 866h2M281 912h2M169 854h2M87 769h2M73 586h2M333 892h2M72 724h2M335 612h2M385 816h2M340 881h2M93 779h2M363 646h2M106 556h2M91 773h2M325 894h2M85 763h2M379 831h2M361 857h2M73 724h2M67 615h2M187 868h2M81 749h2M76 735h2M160 850h2M105 794h2M158 844h2M401 780h2M116 814h2M83 753h2M277 908h2M402 769h2M123 558h2M324 605h2M64 663h2M90 565h2M411 727h2M199 875h2M293 910h2M376 840h2M190 870h2M80 743h2M392 801h2M365 853h2M400 784h2M331 613h2M381 825h2M380 829h2M396 795h2M217 883h2M74 586h2M65 642h2M105 800h2M186 867h2M277 911h2M295 573h2M373 646h2M74 724h2M381 825h2M208 876h2M80 580h2M74 734h2M63 665h2M334 892h2M319 902h2M402 768h2M306 909h2M110 806h2M142 834h2M356 865h2M295 570h2M69 616h2M175 859h2M411 726h2M106 559h2M188 870h2M411 745h2M168 852h2M360 863h2M402 776h2M409 744h2M62 641h2M272 908h2M77 581h2M79 581h2M64 662h2M256 906h2M207 569h2M166 850h2M141 832h2M299 910h2M182 864h2M75 578h2M395 793h2M116 807h2M77 580h2M245 561h2M185 864h2M114 556h2M65 648h2M93 774h2M194 869h2M284 562h2M152 844h2M66 687h2M401 774h2M62 663h2M177 580h2M408 729h2M157 845h2M74 587h2M256 551h2M298 578h2M180 861h2M409 726h2M380 831h2M261 905h2M70 589h2M158 842h2M72 724h2M341 883h2M70 719h2M407 744h2M365 849h2M95 785h2M249 900h2M115 806h2M99 783h2M157 842h2M64 676h2M360 637h2M64 659h2M64 669h2M64 682h2M188 865h2M81 751h2M182 862h2M68 699h2M67 686h2M150 842h2M61 656h2M405 767h2M73 729h2M67 613h2M88 571h2M112 557h2M403 765h2M64 633h2M407 758h2M299 569h2M253 904h2M274 909h2M65 630h2M67 694h2M410 730h2M188 866h2M144 832h2M209 881h2M346 878h2M408 683h2M148 841h2M364 857h2M64 673h2M91 774h2M324 899h2M304 912h2M392 802h2M264 906h2M298 909h2M410 747h2M290 912h2M265 906h2M348 627h2M413 723h2M202 879h2M183 866h2M376 648h2M90 765h2M241 564h2M398 780h2M288 909h2M66 679h2M339 618h2M63 671h2M392 656h2M224 891h2M247 900h2M286 909h2M381 825h2M161 847h2M152 582h2M243 900h2M383 823h2M86 766h2M324 897h2M67 624h2M367 853h2M401 780h2M230 892h2M391 801h2M151 841h2M386 814h2M391 657h2M156 845h2M112 810h2M76 725h2M89 773h2M266 906h2M70 602h2M63 627h2M167 855h2M146 833h2M70 711h2M406 762h2M243 564h2M400 779h2M298 568h2M92 771h2M182 864h2M296 572h2M311 907h2M321 603h2M347 878h2M350 872h2M399 788h2M411 738h2M376 840h2M111 553h2M396 660h2M383 820h2M268 911h2M365 857h2M65 644h2M360 861h2M399 790h2M166 851h2M164 854h2M114 807h2M403 767h2M126 575h2M200 877h2M86 763h2M87 762h2M259 904h2M235 894h2M273 911h2M63 634h2M123 820h2M293 562h2M66 691h2M93 779h2M67 706h2M106 803h2M69 700h2M240 898h2M354 870h2M383 826h2M78 747h2M224 565h2M153 840h2M79 746h2M80 580h2M68 613h2M345 623h2M159 685h2M118 790h2M227 777h2M309 682h2M202 789h2M226 770h2M305 884h2M331 659h2M211 669h2M350 771h2M386 798h2M226 594h2M234 644h2M346 704h2M222 869h2M358 837h2M277 601h2M171 700h2M308 762h2M200 608h2M387 659h2M320 748h2M175 635h2M158 719h2M293 854h2M263 617h2M376 810h2M112 597h2M234 759h2M206 655h2M179 599h2M361 663h2M229 774h2M335 629h2M107 601h2M274 652h2M137 696h2M220 673h2M177 840h2M309 629h2M264 547h2M95 782h2M240 894h2M140 684h2M239 718h2M157 698h2M253 797h2M143 701h2M97 647h2M304 643h2M181 798h2M301 679h2M91 744h2M320 863h2M382 719h2M231 766h2M161 840h2M323 811h2M87 740h2M130 693h2M274 722h2M131 706h2M181 764h2M328 810h2M79 735h2M211 800h2M182 695h2M270 818h2M377 785h2M349 725h2M78 665h2M270 663h2M311 599h2M346 747h2M197 726h2M375 659h2M188 665h2M166 790h2M171 753h2M330 731h2M267 634h2M330 621h2M260 558h2M306 599h2M83 716h2M111 570h2M383 830h2M309 788h2M151 747h2M82 638h2M280 831h2M93 655h2M332 713h2M103 640h2M370 790h2M284 656h2M311 618h2M310 626h2M365 794h2M218 821h2M251 563h2M329 894h2M351 667h2M347 843h2M277 834h2M300 688h2M74 626h2M249 693h2M316 832h2M198 612h2M297 572h2M256 712h2M222 642h2M318 614h2M141 754h2M207 651h2M253 638h2M281 556h2M228 584h2M136 646h2M320 754h2M120 784h2M210 764h2M277 795h2M351 663h2M303 891h2M207 648h2M295 721h2M216 822h2M164 620h2M271 850h2M343 804h2M298 880h2M131 724h2M260 592h2M239 566h2M304 839h2M129 589h2M302 748h2M393 725h2M337 683h2M293 796h2M406 705h2M279 559h2M91 616h2M208 712h2M78 720h2M287 908h2M204 763h2M273 811h2M124 647h2M305 806h2M221 738h2M284 736h2M262 783h2M190 574h2M396 717h2M365 842h2M323 800h2M94 686h2M245 764h2M221 803h2M269 666h2M348 779h2M356 722h2M315 843h2M184 686h2M292 688h2M187 838h2M92 704h2M85 743h2M239 810h2M110 616h2M272 697h2M318 743h2M242 743h2M256 879h2M346 775h2M206 678h2M127 622h2M169 664h2M313 898h2M199 592h2M316 889h2M184 757h2M265 617h2M256 666h2M326 824h2M105 769h2M173 746h2M281 737h2M117 738h2M242 634h2M269 701h2M228 776h2M184 644h2M235 660h2M310 654h2M158 665h2M165 588h2M207 646h2M207 838h2M385 782h2M317 831h2M329 650h2M209 572h2M148 633h2M95 767h2M252 853h2M339 692h2M79 623h2M218 778h2M299 715h2M135 648h2M394 735h2M262 786h2M274 777h2M233 642h2M168 782h2M265 646h2M388 816h2M391 747h2M167 776h2M170 622h2M291 709h2"/><path stroke="#e0e" stroke-width="1.5" d="M104 678v2M311 884v2M245 709v2M186 663v2M242 648v2M280 698v2M375 661v2M94 582v2M152 622v2M174 768v2M283 742v2M174 821v2M126 680v2M337 737v2M379 655v2M229 673v2M280 853v2M357 757v2M333 855v2M169 705v2M266 762v2M333 710v2M400 725v2M216 578v2M280 819v2M200 649v2M398 689v2M352 746v2M236 609v2M253 747v2M87 729v2M143 831v2M158 652v2M96 585v2M143 820v2M221 855v2M258 789v2M83 737v2M97 783v2M377 805v2M146 800v2M210 811v2M322 684v2M313 645v2M318 702v2M167 816v2M234 578v2M263 660v2M276 775v2M166 611v2M155 803v2M311 650v2M261 627v2M299 573v2M307 816v2M195 587v2M176 852v2M316 671v2M281 760v2M290 730v2M170 818v2M316 850v2M123 704v2M260 750v2M231 835v2M183 805v2M230 647v2M275 596v2M384 794v2M200 858v2M325 897v2M304 790v2M199 734v2M89 649v2M318 844v2M102 787v2M252 830v2M323 883v2M272 590v2M241 618v2M370 723v2M228 614v2M227 716v2M75 701v2M303 579v2M234 799v2M370 837v2M210 728v2M278 886v2M333 866v2M227 868v2M368 824v2M127 722v2M368 723v2M399 699v2M283 584v2M360 735v2M287 833v2M142 798v2M254 659v2M189 616v2M243 647v2M368 704v2M142 712v2M226 710v2M141 773v2M273 601v2M226 692v2M207 620v2M323 665v2M261 809v2M400 777v2M352 714v2M260 763v2M240 671v2M311 597v2M348 842v2M367 698v2M178 823v2M268 634v2M408 753v2M344 646v2M183 625v2M336 843v2M411 709v2M305 671v2M227 631v2M222 810v2M149 839v2M200 634v2M67 641v2M201 841v2M365 739v2M102 736v2M374 718v2M377 826v2M264 724v2M230 612v2M258 551v2M170 797v2M146 704v2M269 574v2M234 895v2M123 689v2M199 576v2M170 655v2M217 870v2M134 736v2M280 704v2M372 784v2M106 630v2M268 795v2M394 778v2M408 740v2M262 764v2M391 812v2M366 787v2M317 687v2M162 794v2M165 612v2M188 745v2M132 780v2M165 651v2M345 769v2M277 617v2M188 755v2M203 713v2M310 810v2M209 872v2M99 785v2M177 816v2M210 722v2M279 621v2M267 572v2M317 878v2M336 824v2M277 883v2M353 787v2M322 701v2M273 636v2M399 658v2M288 766v2M337 761v2M185 844v2M98 580v2M217 730v2M263 664v2M385 668v2M166 759v2M238 759v2M134 688v2M95 581v2M113 714v2M215 593v2M129 606v2M174 754v2M328 823v2M193 648v2M292 906v2M298 855v2M323 670v2M273 613v2M220 765v2M239 640v2M240 652v2M250 851v2M303 884v2M371 677v2M344 798v2M273 653v2M167 743v2M310 592v2M207 680v2M311 752v2M258 885v2M265 661v2M165 764v2M176 802v2M225 740v2M284 591v2M312 801v2M128 576v2M221 782v2M222 645v2M108 606v2M182 742v2M347 663v2M406 709v2M211 669v2M261 661v2M371 816v2M139 674v2M279 662v2M285 812v2M368 735v2M116 652v2M134 594v2M67 662v2M403 717v2M103 722v2M130 737v2M140 593v2M111 596v2M154 844v2M405 734v2M145 592v2M242 775v2M341 618v2M378 783v2M200 583v2M315 629v2M223 772v2M269 605v2M152 751v2M135 693v2M104 673v2M351 751v2M358 655v2M159 752v2M77 728v2M269 637v2M162 820v2M176 653v2M390 812v2M113 705v2M135 802v2M82 639v2M233 688v2M276 793v2M246 603v2M280 640v2M245 675v2M194 839v2M365 790v2M180 795v2M198 734v2M215 817v2M324 896v2M339 627v2M67 712v2M314 673v2M159 739v2M152 818v2M126 760v2M188 702v2M151 698v2M291 564v2M90 601v2M314 836v2M309 644v2M392 702v2M273 678v2M254 794v2M197 811v2M75 581v2M299 900v2M332 883v2M183 793v2M157 777v2M275 715v2M197 685v2M110 661v2M159 819v2M273 891v2M132 584v2M133 653v2M103 650v2M198 642v2M290 854v2M220 664v2M162 841v2M316 850v2M252 727v2M317 904v2M248 849v2M105 775v2M215 704v2M325 885v2M403 690v2M203 812v2M246 730v2M203 642v2M94 609v2M249 813v2M389 691v2M273 633v2M298 606v2M93 584v2M161 656v2M331 885v2M323 842v2M266 640v2M263 889v2M283 656v2M299 880v2M156 759v2M289 676v2M162 722v2M197 663v2M156 761v2M311 807v2M167 716v2M286 731v2M321 693v2M338 865v2M256 630v2M104 703v2M133 716v2M353 807v2M234 781v2M317 771v2M406 679v2M362 716v2M359 649v2M86 707v2M206 631v2M323 782v2M94 744v2M91 707v2M252 641v2M207 806v2M123 636v2M236 834v2M139 821v2M362 825v2M282 845v2M186 827v2M135 830v2M302 680v2M314 758v2M223 636v2M72 708v2M137 716v2M165 801v2M112 657v2M230 787v2M249 649v2M247 856v2M331 659v2M223 575v2M350 809v2M273 744v2M168 853v2M204 762v2M360 799v2M287 853v2M183 644v2M216 571v2M266 889v2M341 734v2M247 847v2M131 690v2M220 718v2M283 710v2M203 831v2M125 611v2M173 836v2M372 681v2M284 859v2M245 703v2M197 728v2M149 763v2M242 817v2M71 634v2M308 719v2M351 836v2M206 728v2M234 648v2M299 872v2M359 701v2M131 758v2M130 819v2M260 638v2M297 837v2M157 598v2M203 737v2M350 765v2M102 695v2M188 717v2M196 857v2M323 757v2M237 886v2M218 754v2M264 575v2M138 774v2M71 691v2M375 759v2M126 688v2M211 606v2M243 854v2M208 620v2M262 857v2M246 706v2M185 799v2M249 647v2M270 689v2M291 886v2M158 597v2M264 686v2M241 802v2M221 811v2M179 787v2M255 829v2M345 670v2M230 865v2M330 809v2M272 616v2M267 572v2M186 732v2M339 870v2M157 652v2M208 675v2M295 903v2M348 630v2M282 707v2M215 663v2M143 757v2M280 905v2M103 725v2M265 852v2M174 622v2M283 800v2M129 684v2M89 737v2M183 692v2M181 852v2M283 764v2M258 792v2M213 758v2M148 830v2M225 574v2M208 807v2M320 721v2M250 779v2M232 605v2M200 605v2M295 898v2M190 673v2M69 677v2M94 625v2M213 867v2M267 608v2M365 660v2M159 654v2M256 729v2M270 615v2M405 745v2M120 679v2M239 888v2M357 713v2M357 721v2M323 895v2M89 731v2M143 627v2M158 797v2M297 890v2M302 666v2M101 683v2M276 721v2M72 648v2M250 647v2M195 814v2M287 686v2M193 737v2M388 748v2M313 825v2M115 589v2M75 607v2M310 907v2M321 678v2M407 674v2M397 709v2M232 780v2M312 897v2M344 822v2M75 611v2M113 592v2M220 804v2M98 587v2M76 603v2M351 715v2M114 580v2M248 776v2M360 818v2M344 870v2M177 817v2M194 870v2M130 608v2M305 692v2M199 771v2M163 764v2M161 586v2M381 789v2M264 683v2M202 760v2M342 841v2M194 641v2M217 686v2M258 568v2M262 760v2M302 852v2M187 753v2M235 668v2M129 795v2M250 661v2M116 720v2M341 714v2M258 704v2M125 734v2M327 847v2M280 847v2M167 684v2M264 617v2M189 772v2M362 680v2M238 688v2M204 831v2M321 875v2M254 793v2M152 766v2M150 597v2M136 696v2M260 609v2M79 627v2M404 685v2M389 724v2M280 704v2M100 627v2M390 665v2M387 697v2M296 882v2M231 734v2M126 666v2M218 684v2M352 656v2M173 759v2M320 842v2M205 846v2M315 618v2M170 778v2M280 859v2M117 586v2M211 648v2M372 718v2M166 712v2M145 795v2M108 696v2M202 853v2M99 577v2M303 741v2M353 749v2M108 583v2M257 702v2M357 699v2M128 784v2M232 783v2M171 595v2M179 626v2M117 719v2M191 771v2M130 811v2M167 841v2M251 566v2M369 729v2M334 815v2M298 649v2M302 721v2M318 795v2M158 800v2M87 599v2M265 658v2M129 637v2M196 695v2M130 711v2M148 597v2M192 704v2M126 675v2M211 843v2M319 815v2M132 583v2M147 815v2M75 695v2M269 706v2M241 831v2M190 579v2M197 709v2M136 648v2M291 664v2M147 659v2M290 883v2M132 786v2M184 587v2M264 751v2M210 837v2M357 701v2M311 745v2M290 602v2M254 848v2M329 745v2M108 686v2M297 911v2M191 593v2M249 614v2M346 668v2M233 855v2M272 876v2M302 821v2M213 792v2M85 636v2M310 844v2M355 767v2M140 606v2M412 727v2M223 749v2M286 871v2M170 832v2M155 825v2M260 587v2M382 830v2M266 672v2M212 876v2M318 636v2M306 755v2M252 576v2M237 795v2M333 695v2M273 581v2M195 688v2M189 769v2M200 684v2M207 703v2M157 601v2M311 900v2M339 641v2M197 683v2M232 820v2M177 658v2M76 584v2M110 597v2M282 600v2M228 821v2M326 716v2M242 650v2M288 738v2M228 718v2M179 840v2M309 674v2M187 576v2M325 750v2M398 679v2M284 591v2M340 880v2M285 749v2M199 691v2M114 783v2M297 908v2M328 707v2M232 715v2M374 808v2M222 621v2M152 612v2M372 674v2M201 653v2M240 615v2M299 808v2M333 874v2M157 725v2M299 910v2M317 771v2M209 727v2M298 891v2M182 609v2M89 608v2M384 655v2M194 695v2M266 617v2M201 632v2M271 854v2M337 877v2M243 814v2M225 710v2M181 825v2M247 811v2M270 875v2M153 735v2M217 575v2M369 646v2M165 840v2M304 693v2M173 699v2M276 623v2M161 651v2M168 590v2M243 646v2M232 678v2M225 711v2M286 673v2M214 582v2M227 770v2M247 888v2M154 601v2M345 662v2M171 832v2M152 685v2M304 835v2M145 754v2M124 656v2M161 713v2M323 651v2M265 690v2"/><path stroke="#ee0" stroke-width="1.5" d="M115 567h2M143 675h2M413 720h2M285 753h2M160 740h2M297 888h2M340 764h2M123 559h2M119 679h2M300 597h2M335 648h2M181 577h2M79 689h2M90 593h2M317 667h2M155 695h2M344 872h2M143 601h2M101 770h2M380 674h2M256 892h2M83 577h2M348 869h2M259 906h2M359 694h2M111 630h2M391 699h2M368 657h2M226 756h2M198 720h2M175 750h2M88 640h2M208 626h2M193 726h2M142 821h2"/>
<path d="M51.2 736.3L427 767.5" stroke="#fff" stroke-width="4.3" stroke-dasharray="31.2 31.1" stroke-dashoffset="15"/>
</g>
<path d="M361.2 917H423.9" stroke="#fff" stroke-width="2.2"/>
<rect x="442.1" y="539" width="386.9" height="385.9" fill="#000"/>
<g clip-path="url(#rc_tr)">
<g filter="url(#soft)"><g fill="none" stroke-linecap="round"><path stroke="#101010" stroke-width="5" d="M590 808l1 0"/><path stroke="#202020" stroke-width="5" d="M703 809l2 0M710 776l-2 1M697 852l-1 0M657 824l2 2M656 869l4 1M651 833l2 2"/><path stroke="#202020" stroke-width="6" d="M658 839l0 1M653 812l-1 1M684 750l1 1M706 815l-2 1"/><path stroke="#303030" stroke-width="4" d="M659 799l1 1M669 794l0 3M621 870l1 1M667 823l-2 1"/><path stroke="#303030" stroke-width="5" d="M658 855l-1 1M606 788l-1 3M760 772l0 1M675 862l-2 2M677 874l-2 3M671 810l-1 2M675 773l2 0M612 810l0 1M643 758l0 2M666 830l1 0M653 798l-1 1M702 864l-3 1M653 787l2 2M761 751l-2 2M712 839l2 2M666 847l1 3M637 770l1 1M674 740l2 1M714 800l0 2M662 808l0 1M704 829l-2 1M643 828l2 2M647 862l-1 1M682 867l-2 2M651 760l-1 1M608 563l1 4M645 803l1 1M646 811l0 2M677 800l0 1M658 847l3 0M715 813l3 1M669 757l1 0M689 805l-1 1M636 832l-1 4M588 797l-1 0M678 882l-3 1M643 844l-1 3M709 752l0 1M620 799l-1 2M663 782l0 1M681 743l0 2M697 811l0 2"/><path stroke="#303030" stroke-width="6" d="M633 583l1 1M718 852l-2 0M722 843l-2 2M652 804l1 3M663 817l-4 2M622 843l-4 0M635 812l-2 0M651 843l-1 4M700 775l-4 0M706 768l0 1M752 766l3 1M683 878l0 2M709 872l0 1M667 837l-1 1M687 854l-1 1M620 826l-1 1M704 781l-1 1M670 743l-3 2M665 802l2 3M599 824l-1 0M750 781l1 3M706 719l2 0M693 798l-4 1M671 805l3 1M690 868l0 2"/><path stroke="#404040" stroke-width="4" d="M711 807l-1 0M673 766l-2 3M773 723l1 1M672 821l3 0M707 856l0 1M629 845l-2 2M714 859l-3 1M766 744l2 3M638 755l-1 1M616 816l-2 2"/><path stroke="#404040" stroke-width="5" d="M614 860l-2 2M589 834l1 0M607 816l0 1M691 874l2 2M734 784l2 4M750 738l-2 1M730 829l1 1M709 845l-2 0M666 888l-3 0M653 768l-1 0M723 802l0 3M636 878l0 1M634 800l1 0M688 825l-2 3M691 758l-2 2M707 820l2 3M720 777l1 3M629 827l-2 0M640 818l0 1M684 845l1 2M643 852l-1 0M746 731l1 1M714 768l1 4M707 742l-2 0M629 774l4 1M609 574l3 3M645 836l-2 2M693 861l-3 1M669 868l-1 1M649 857l-1 1M706 799l1 0M757 779l4 1M605 827l-1 2M698 836l-1 1M685 734l2 3M649 824l1 0M716 751l1 1M761 762l0 2M726 774l0 1M676 848l-3 2M613 800l-1 3M722 834l0 1M697 763l3 1M627 793l-1 3M672 855l2 1M663 792l-1 0M684 818l-3 2M663 860l1 0M751 788l2 1M620 774l-1 1M680 842l-1 0M635 841l-3 0M612 823l2 0M628 853l-1 3M698 797l4 0M630 806l-1 0M689 770l0 1M680 784l0 1M604 807l-1 0M669 877l0 1M639 862l-1 1M682 860l2 1M644 870l1 1M634 793l-2 1M612 783l-2 2M646 770l-1 1M678 755l3 0M724 820l-1 0M705 757l-2 1M677 790l0 1M712 793l0 3M748 760l1 3M697 738l0 1M670 843l0 1M704 850l-1 1M660 832l-1 3M551 628l0 2M693 829l-2 3M678 733l1 1M671 774l-3 2"/><path stroke="#404040" stroke-width="6" d="M654 864l-3 2M580 810l1 0M651 880l1 0M664 754l0 1M624 571l1 1M635 782l1 1M718 824l1 3M636 847l0 3M694 790l-1 2M586 776l-3 3M715 784l1 0M624 833l1 1M623 782l-3 3M523 694l-1 1M734 720l-3 1M601 799l-2 4M707 787l-2 3M669 783l0 2M708 760l1 2M634 867l-1 0M643 677l2 4M661 775l3 1M662 764l0 1M635 824l1 1M635 763l1 1M711 826l2 4M664 873l-1 0M538 548l3 4M614 829l2 3M678 836l0 1M707 836l-1 2M640 795l-1 2M619 853l3 3M724 849l3 0M593 802l-1 0M685 800l-3 2M630 818l0 2M676 762l1 0M698 870l-2 1"/><path stroke="#505050" stroke-width="4" d="M768 753l-2 2M686 780l-1 1M728 781l0 1M700 842l0 2M644 749l-1 2M740 770l-1 1"/><path stroke="#505050" stroke-width="5" d="M552 768l0 1M777 695l2 0M648 784l1 1M752 816l-1 2M649 751l2 3M601 783l2 2M758 548l2 4M740 741l1 1M667 769l-1 1M692 814l-3 2M683 792l0 3M660 749l-3 2M733 793l-2 2M608 845l1 0M702 723l1 3M682 808l0 4M574 664l1 2M746 771l1 2M691 786l-4 0M732 801l0 1M623 818l-1 1M598 814l0 1M696 803l1 4M696 822l1 2M684 763l1 2M655 778l-1 1M676 780l-1 0M741 726l-1 0M613 775l-2 1M662 740l1 3M605 851l0 1M612 853l-1 3M721 769l1 1M725 812l0 2M694 844l-1 1M731 841l-3 1M746 719l-3 3M676 828l-2 2M758 732l0 1M737 732l1 1M628 782l1 0M696 781l0 1M728 716l-1 2M658 757l-1 1M757 795l-2 1M723 784l0 2M602 833l1 2M680 853l1 1M752 775l0 1M725 796l1 1M608 795l3 1M481 594l1 3M745 747l-1 0M760 786l-3 1M770 738l0 4"/><path stroke="#505050" stroke-width="6" d="M547 748l1 1M705 653l1 1M563 785l0 1M566 643l1 3M688 835l0 1M628 759l3 2M563 621l2 3M592 818l0 1M773 545l2 2M620 765l0 4M634 858l-1 0M720 648l2 6M728 737l0 1M717 710l-1 2M744 620l2 3M701 750l3 1M641 789l3 1M579 611l2 5M601 577l0 1M636 805l2 3M797 715l-1 0M724 761l1 0M595 777l3 0M730 658l1 5M731 728l0 1M643 779l1 1M657 684l3 4M723 855l0 1M682 896l1 0M705 668l1 1M687 742l2 2M586 784l1 2M564 657l2 2M618 807l0 1M694 886l-2 2M487 614l1 2M647 791l3 3M586 823l1 0"/><path stroke="#606060" stroke-width="5" d="M588 585l0 5M763 687l2 1M627 752l-2 2M597 793l0 1M605 671l0 1M660 675l0 1M503 666l1 1M731 767l3 0M580 747l1 1M534 540l-1 3M608 612l2 4M723 710l3 1M776 666l-1 1M753 742l0 3M610 837l1 3M551 606l1 1M692 751l1 3M708 729l1 1M708 736l-3 0M745 790l-1 1M466 568l1 1M658 625l0 2M745 798l3 2M626 884l1 2M656 742l-1 3M745 827l-3 1M525 553l2 5M748 753l2 1M618 792l1 3M566 608l2 4M737 748l2 2M739 836l1 1M760 724l-1 3M653 702l3 4M609 584l4 3M714 737l-3 1M543 540l2 4M596 698l0 1M760 739l1 2M715 726l0 2M770 770l2 1M621 889l1 1M735 775l1 0M727 754l-1 1M598 680l1 1M739 795l1 2M720 743l2 1M591 791l1 0M716 758l0 2M635 571l1 2M629 767l-1 1M731 711l1 1M735 826l2 0"/><path stroke="#606060" stroke-width="6" d="M593 668l2 3M721 633l1 3M720 692l-1 2M673 673l1 5M510 557l1 1M610 682l0 2M739 638l2 1M678 577l1 5M719 703l4 0M620 598l1 4M606 655l0 3M635 635l2 4M630 618l1 2M733 809l3 0M491 624l1 3M675 746l-1 4M676 629l1 3M719 793l-1 1M695 893l2 0M559 593l1 1M688 892l1 1M475 607l3 0M546 619l0 1M721 734l0 3M751 869l-1 0M659 903l-1 3M732 820l-1 1M743 778l-1 0M764 732l3 2M651 892l1 0M605 776l-3 2M620 580l2 5M630 592l1 5M608 876l0 1M626 813l2 1M735 883l1 1M672 895l0 1M691 733l1 1M607 863l-1 2M638 655l-1 6M681 769l1 0M690 898l0 1M726 890l0 2M591 627l1 1M569 687l3 2M685 728l1 1"/><path stroke="#606060" stroke-width="7" d="M683 888l0 2M645 892l1 1M657 896l0 4M747 872l-2 2M597 863l2 2M677 893l1 0M641 896l-1 2"/><path stroke="#707070" stroke-width="4" d="M734 757l3 0M696 745l-1 0"/><path stroke="#707070" stroke-width="5" d="M754 630l0 1M684 644l1 1M686 711l2 0M558 729l1 3M612 760l0 1M505 646l3 2M543 579l3 5M758 661l3 1M533 583l1 1M689 631l2 2M483 585l1 1M586 815l-3 3M672 540l1 3M580 625l2 4M666 710l0 1M588 543l1 2M641 730l-1 1M666 586l0 3M727 788l2 1M648 720l1 2M794 557l0 1M505 717l2 1M668 900l-3 1M701 732l0 1M613 734l0 1M742 762l-1 0M732 648l2 5M638 608l1 2M634 646l0 1M726 748l-1 0M582 800l-1 2M547 595l1 2M695 660l1 5M716 717l0 2M656 590l0 5M599 844l-1 2M743 806l4 1M732 886l-3 1M739 818l3 2M580 758l-1 2M697 620l3 3M654 729l-1 4M695 561l3 4M609 766l1 0M613 645l2 3M575 800l0 1M771 682l4 1M604 720l1 1M661 733l0 4M713 744l2 0M741 754l1 0M755 539l3 3M589 751l1 1"/><path stroke="#707070" stroke-width="6" d="M755 802l-1 0M521 674l0 3M481 631l1 1M625 642l0 2M657 580l1 1M718 553l1 4M716 666l1 2M642 902l1 1M686 606l1 2M666 726l1 1M780 770l-2 2M514 538l4 5M573 595l0 1M621 672l1 3M797 707l3 1M603 766l2 3M634 895l1 0M606 885l2 0M482 550l0 5M593 721l2 5M673 702l0 1M523 734l1 1M645 591l0 5M596 868l-2 0M608 695l2 3M538 693l1 1M598 741l2 5M712 586l2 3M562 674l1 5M690 553l1 2M574 633l2 6M637 905l-1 0M699 901l-1 1M693 651l0 3M651 910l1 0M706 556l2 4M589 876l1 2M612 879l2 2M473 584l0 3M594 785l3 0M636 746l-3 3M713 640l3 4M777 765l-2 1M644 664l3 5M637 890l3 1M602 881l-2 0M767 788l0 2M776 754l1 0M713 897l0 1M512 595l4 5M516 660l1 5M536 571l2 3M735 743l-3 1M630 905l-2 1M514 732l1 1M670 906l-1 0M480 563l2 3M753 724l-2 1M799 721l-1 1M548 720l2 4M721 871l1 1M601 887l-1 0"/><path stroke="#707070" stroke-width="7" d="M700 885l1 1M604 890l2 0M608 870l1 0M621 878l-3 1M626 896l1 0M525 716l0 4M587 869l1 3M709 901l1 2"/><path stroke="#808080" stroke-width="5" d="M730 602l1 3M641 908l1 2M703 680l1 5M577 696l3 3M689 691l0 4M599 634l0 3M757 698l0 1M548 639l1 1M691 723l-1 1M493 552l-1 5M606 622l0 4M792 722l0 2M743 701l-1 1M704 897l-1 3M585 736l1 1M734 586l1 1M532 640l0 2M670 648l1 4M755 676l-1 3M566 737l0 5M614 723l0 2M723 726l-1 1M734 553l-1 5M564 549l3 5M591 655l1 5M674 615l0 1M732 704l2 2M723 590l3 2M714 886l0 3M637 700l1 1M785 694l0 2M560 633l1 4M644 740l3 0M679 724l-2 2M527 630l2 3M670 733l0 1M705 712l-1 0M665 572l1 3M508 624l2 4M719 894l0 1M591 571l1 3M767 677l-1 0M720 600l0 1M739 713l-2 3M640 618l2 3M499 614l2 2M708 632l1 2M749 599l0 1M684 679l1 1M598 543l1 2M529 664l0 2M575 552l2 2M703 585l0 1M707 892l-2 1M597 759l1 0M518 745l3 1M620 759l3 1M667 621l2 5M666 555l2 2M541 666l0 1M495 671l0 2M689 582l2 5M764 713l1 4M624 628l1 1M467 604l2 3M759 691l0 1M647 631l2 1M677 713l0 1M580 644l1 1"/><path stroke="#808080" stroke-width="6" d="M665 693l1 2M651 541l2 3M611 543l1 1M709 618l2 4M591 687l0 5M539 714l1 5M622 901l2 2M603 597l1 1M517 619l3 5M720 876l-2 1M797 702l-2 1M582 790l-1 1M562 830l1 3M522 600l1 5M658 561l3 5M778 799l1 0M590 614l1 4M650 900l3 1M777 747l-2 2M667 911l-1 1M771 641l0 4M742 610l1 2M614 633l0 4M753 639l0 5M498 592l2 4M625 723l1 5M544 730l3 3M490 602l2 5M598 556l3 3M563 570l2 4M488 573l1 1M618 554l1 4M485 541l2 4M620 651l5 5M504 601l1 4M696 574l1 2M586 707l2 6M529 564l1 2M711 608l1 1M676 903l0 1M734 627l2 3M498 580l3 2M494 638l2 3M443 570l-1 1M741 849l0 1M598 873l1 1M616 887l-3 1M677 566l3 4M663 610l1 3M643 551l0 1M587 767l1 0M577 653l1 4M598 648l1 2M685 541l2 3M707 540l2 4M505 704l-2 0M511 699l0 1M630 558l2 3M646 570l0 3M723 541l1 1M739 658l4 5M592 601l1 7M681 903l2 3M632 901l1 0M694 905l1 2M536 619l0 5M547 683l1 1M498 562l0 4M651 617l1 1M749 844l0 3M711 699l1 1M801 540l3 1M776 810l2 1M496 658l-2 2M688 620l1 1M737 572l0 1M721 887l-2 1M538 629l2 6M588 558l0 2M520 737l-3 0M621 894l0 2M574 816l1 3M485 665l1 2M734 870l-1 3M582 602l0 1M753 707l-1 4M771 800l1 0M467 622l2 2M769 782l1 0M467 631l0 1M727 875l2 2M782 547l-1 1M602 730l1 2M581 865l0 1M630 890l-1 2M505 697l-1 1M791 582l-1 1M592 860l1 0M491 676l1 1M617 663l0 1M675 688l2 7M695 609l3 3M752 687l1 1M780 805l1 0M793 708l-1 1M478 573l0 6M751 716l-2 1M660 539l3 5M622 745l0 1M625 608l1 2M556 647l0 3M755 851l-1 2"/><path stroke="#808080" stroke-width="7" d="M477 636l1 1M752 863l2 1M498 694l3 0M475 624l3 2M772 775l0 3M662 910l-2 2M602 859l-2 0"/><path stroke="#909090" stroke-width="5" d="M628 542l3 3M634 667l2 2M722 577l2 2M568 559l3 3M748 669l1 2M718 681l0 1M544 563l1 3M765 617l2 5M577 773l0 3M694 706l4 1M616 707l2 4M787 701l0 1M698 596l-1 4M629 735l-3 1M747 838l2 1M516 636l2 3M787 710l0 1M510 611l1 5M756 591l1 3M589 844l0 2M745 646l-1 4M448 580l-1 1M458 599l-1 1M694 716l2 1M764 583l1 1M562 822l0 1M648 558l1 4M573 792l3 2M792 598l1 0M644 580l1 4M745 864l-1 3M528 735l2 1"/><path stroke="#909090" stroke-width="6" d="M524 655l1 1M509 691l-2 2M679 660l1 1M457 610l-1 0M736 684l3 0M785 576l1 1M618 698l1 1M494 689l0 1M725 881l1 2M676 909l2 1M761 599l1 5M793 743l2 0M558 717l0 1M578 679l1 1M504 635l2 2M644 691l1 2M554 704l0 1M610 747l-1 0M571 723l1 5M651 639l3 6M729 614l0 4M739 862l1 1M517 576l1 3M565 754l3 6M591 853l1 0M550 670l1 2M785 774l0 3M664 634l1 3M629 689l0 1M579 828l3 2M571 578l2 3M694 676l1 1M656 665l1 1M537 653l4 3M753 613l2 2M520 705l-1 2M531 602l3 4M587 865l-1 0M568 812l1 0M726 565l1 1M733 672l0 1M741 869l-1 3M666 658l0 6M618 618l1 1M519 585l1 4M738 878l2 1M763 705l-2 1M480 644l0 1M778 779l0 1M667 596l4 5M780 539l3 1M455 582l-1 1M463 636l-1 3M473 639l0 1M539 704l1 1M688 908l0 1M540 610l1 1M754 834l-2 1M446 569l3 2M787 565l0 1M523 723l-1 0M583 720l1 7M701 691l3 6M487 682l-1 1M463 626l1 1M471 616l1 1M711 882l-1 2M471 628l2 2M657 649l5 4M614 896l2 0M631 678l0 1M799 690l1 0M475 539l0 3M503 710l0 1M515 692l-3 1M576 782l-2 2M538 743l-1 1M462 575l-1 0M781 786l-1 1M507 583l3 4"/><path stroke="#909090" stroke-width="7" d="M774 806l-3 0M562 816l2 2M448 594l2 1M794 729l3 1M782 741l-2 0M466 590l1 3M726 867l2 3M791 733l-1 0M787 542l1 0M450 602l3 1M517 710l-3 1M764 845l0 2M473 647l1 1"/><path stroke="#a0a0a0" stroke-width="5" d="M751 693l1 2M699 548l1 1M711 570l1 3M768 608l1 4M567 767l1 1M763 573l0 2M774 787l1 1M678 556l4 4M554 657l0 3M461 602l0 1M766 652l1 1M763 698l3 2M780 567l-1 0M741 693l2 3M744 708l0 1M524 711l-1 2M775 821l1 1M451 613l1 1M776 793l0 1M761 562l1 1M783 553l-3 1"/><path stroke="#a0a0a0" stroke-width="6" d="M536 675l1 1M625 706l4 4M742 542l2 3M549 550l1 1M560 692l0 3M698 640l1 3M603 706l3 3M580 859l2 3M530 728l-1 1M764 796l2 2M528 591l3 4M505 677l0 1M537 735l-1 1M557 823l-1 1M457 592l-2 1M496 541l3 2M747 569l3 5M570 702l0 6M532 773l0 3M462 611l1 1M786 726l2 0M484 639l0 1M754 649l1 6M648 651l1 1M483 655l2 3M456 570l0 1M657 550l0 5M519 717l-1 2M583 840l-1 1M587 638l5 3M789 748l-2 0M468 648l1 1M781 708l-1 3M783 715l-1 3M684 592l1 2M572 539l1 4M720 620l0 5M751 856l0 1M495 681l-2 1M481 671l1 1M782 733l-1 4M465 598l-1 1M771 708l3 2M529 721l3 1M751 700l-1 1M533 740l1 0M638 538l3 3M512 685l-2 1M585 855l0 2M796 550l-1 1M746 851l1 1M460 559l-1 4M523 753l0 1M506 548l1 1M770 793l0 1"/><path stroke="#a0a0a0" stroke-width="7" d="M795 674l3 1M797 684l-2 4M777 571l1 2M777 759l-1 0M773 596l2 2M745 859l2 0M769 812l-1 0M573 839l2 1M770 818l-2 3M800 695l-2 2M492 654l-1 1M788 557l0 1M475 659l1 0M733 862l0 2M499 684l0 1"/><path stroke="#b0b0b0" stroke-width="5" d="M644 711l1 1M634 716l1 3M576 847l-1 1M784 571l0 2M754 828l3 1M556 577l1 3M582 850l0 1M653 605l3 4M757 715l-2 3M764 824l0 1M794 643l2 1M559 560l-1 1M556 542l1 1M780 581l2 2M752 579l4 4M521 728l-2 1"/><path stroke="#b0b0b0" stroke-width="6" d="M778 588l1 0M505 684l0 1M569 824l-1 3M788 593l0 1M751 560l1 1M787 628l0 1M470 547l2 6M789 759l-3 1M776 582l0 2M745 587l2 3M460 629l-1 3M789 685l0 1M512 725l-1 1M734 694l-3 1M792 612l-3 1M454 557l-1 2M774 826l-3 0M796 636l2 3M784 751l-3 0M556 807l0 2M489 645l1 0M573 855l0 2M473 652l-2 2M796 658l-2 2M757 846l0 1M510 711l-1 1M567 804l1 1M448 554l0 2M799 650l-2 1M509 565l0 6M770 628l2 4M787 670l-1 2M478 650l0 3M564 841l2 2M771 831l0 3M737 856l1 1M793 760l0 3M784 780l0 3M784 791l-2 3M580 834l0 2M788 642l2 1M531 766l-2 2M760 853l-1 2M787 664l-2 1M795 735l1 3M455 577l0 1"/><path stroke="#b0b0b0" stroke-width="7" d="M524 740l-2 2M495 699l0 1M453 563l0 3M443 552l-1 1M451 586l-1 1M484 650l1 0M466 639l2 2M763 809l-3 2M538 774l1 1M562 809l-1 1M784 703l-3 1"/><path stroke="#c0c0c0" stroke-width="5" d="M581 565l1 4M773 566l1 1M781 682l-1 1M558 813l-1 1M572 833l0 1M449 546l3 1M780 657l-1 3M522 610l4 4"/><path stroke="#c0c0c0" stroke-width="6" d="M491 665l0 1M783 637l1 2M760 839l0 3M763 817l-2 0M444 562l2 2M784 649l1 1M487 673l-1 0M785 609l0 1M481 663l-1 2M793 693l-2 0M779 607l-1 2M444 539l-1 1M538 766l0 3M462 619l1 1M578 826l-3 0M459 554l-1 1M770 838l-2 2M791 676l0 1M785 587l3 2M788 621l0 3M792 668l-2 1M780 624l0 3M778 558l0 1M455 617l3 3M792 752l-1 0M794 605l-2 2M789 551l0 1M534 756l2 2M570 847l-2 1M527 761l1 0M787 768l-3 1M792 569l-2 2M779 613l2 2M457 624l1 2M773 554l1 1M575 714l1 5M794 540l-2 3M459 587l-2 0M544 770l-1 2M446 545l-3 2M784 676l1 3M792 766l0 3"/><path stroke="#c0c0c0" stroke-width="7" d="M787 658l0 1M780 618l-1 3M499 675l0 2M541 747l1 3M539 756l2 1"/><path stroke="#d0d0d0" stroke-width="5" d="M463 581l-3 1M548 798l1 1M797 545l2 0M554 783l1 1M779 646l-1 1M778 633l1 0"/><path stroke="#d0d0d0" stroke-width="6" d="M558 802l1 3M794 623l0 2M529 754l1 2M788 738l1 0M792 630l2 2M772 574l-1 2M787 634l2 0M781 764l1 0M530 747l0 1M780 594l1 1M764 805l1 0M547 780l-3 2M538 782l0 3M549 776l1 2M764 834l-1 0M786 786l-1 1M778 601l0 1"/><path stroke="#d0d0d0" stroke-width="7" d="M539 760l3 3M458 546l0 3M561 795l0 1M546 757l0 1M796 616l-1 2M792 653l0 1M783 561l1 0"/><path stroke="#e0e0e0" stroke-width="5" d="M550 803l1 2"/><path stroke="#e0e0e0" stroke-width="6" d="M785 600l0 1M459 540l-1 1M554 789l2 0M452 539l0 1M536 763l-3 0"/><path stroke="#e0e0e0" stroke-width="7" d="M551 813l0 3M781 651l-3 2"/><path stroke="#f0f0f0" stroke-width="6" d="M545 794l-1 1M800 680l-1 0"/><path stroke="#f0f0f0" stroke-width="7" d="M800 668l-3 1"/><path stroke="#ffffff" stroke-width="6" d="M541 789l-1 0M552 794l3 1"/><path stroke="#ffffff" stroke-width="7" d="M548 788l-1 2"/></g></g><g filter="url(#mag)" fill="none" stroke="#fff" stroke-linecap="round"><path stroke-opacity="0.3" stroke-width="7" d="M768 753l-2 2M766 744l2 3"/><path stroke-opacity="0.3" stroke-width="8" d="M589 834l1 0M597 793l0 1M752 816l-1 2M503 666l1 1M750 738l-2 1M601 783l2 2M708 736l-3 0M656 742l-1 3M505 717l2 1M644 740l3 0M774 787l1 1M582 800l-1 2M760 724l-1 3M760 739l1 2M746 719l-3 3M589 844l0 2M597 759l1 0M518 745l3 1M758 732l0 1M737 732l1 1M609 766l1 0M697 738l0 1M521 728l-2 1M770 738l0 4"/><path stroke-opacity="0.3" stroke-width="9" d="M481 631l1 1M494 689l0 1M763 817l-2 0M592 818l0 1M491 624l1 3M523 694l-1 1M734 720l-3 1M620 765l0 4M603 766l2 3M785 774l0 3M512 725l-1 1M494 638l2 3M741 849l0 1M721 734l0 3M751 869l-1 0M784 751l-3 0M778 779l0 1M595 777l3 0M467 631l0 1M754 834l-2 1M481 671l1 1M687 742l2 2M478 650l0 3M505 697l-1 1M767 788l0 2M512 685l-2 1M580 834l0 2M724 849l3 0M457 624l1 2"/><path stroke-opacity="0.3" stroke-width="10" d="M477 636l1 1M747 872l-2 2M499 675l0 2M475 624l3 2M492 654l-1 1M475 659l1 0"/><path stroke-opacity="0.4" stroke-width="7" d="M696 745l-1 0M638 755l-1 1"/><path stroke-opacity="0.4" stroke-width="8" d="M760 772l0 1M753 742l0 3M740 741l1 1M586 815l-3 3M629 774l4 1M746 771l1 2M598 814l0 1M745 827l-3 1M761 762l0 2M739 836l1 1M605 851l0 1M599 844l-1 2M731 841l-3 1M739 818l3 2M727 754l-1 1M757 795l-2 1M723 784l0 2M591 791l1 0M661 733l0 4M741 754l1 0M735 826l2 0"/><path stroke-opacity="0.4" stroke-width="9" d="M628 759l3 2M586 776l-3 3M739 862l1 1M591 853l1 0M587 865l-1 0M681 903l2 3M743 778l-1 0M684 750l1 1M605 776l-3 2M721 887l-2 1M594 785l3 0M734 870l-1 3M636 746l-3 3M731 728l0 1M723 855l0 1M599 824l-1 0M592 860l1 0M487 682l-1 1M735 743l-3 1"/><path stroke-opacity="0.4" stroke-width="10" d="M495 699l0 1M752 863l2 1M498 694l3 0"/><path stroke-opacity="0.5" stroke-width="7" d="M734 757l3 0"/><path stroke-opacity="0.5" stroke-width="8" d="M641 908l1 2M704 897l-1 3M731 767l3 0M692 751l1 3M733 793l-2 2M605 827l-1 2M719 894l0 1M735 775l1 0M604 807l-1 0M612 783l-2 2M602 833l1 2M608 795l3 1M760 786l-3 1"/><path stroke-opacity="0.5" stroke-width="9" d="M650 900l3 1M733 809l3 0M676 903l0 1M728 737l0 1M738 878l2 1M662 764l0 1M637 905l-1 0M706 768l0 1M752 766l3 1M709 872l0 1M589 876l1 2M510 711l-1 1M688 908l0 1M619 853l3 3M614 896l2 0"/><path stroke-opacity="0.5" stroke-width="10" d="M677 893l1 0M662 910l-2 2M733 862l0 2"/><path stroke-opacity="0.6" stroke-width="7" d="M673 766l-2 3M621 870l1 1M740 770l-1 1"/><path stroke-opacity="0.6" stroke-width="8" d="M730 829l1 1M653 768l-1 0M723 802l0 3M720 777l1 3M610 837l1 3M684 763l1 2M726 748l-1 0M726 774l0 1M613 800l-1 3M697 763l3 1M627 793l-1 3M620 774l-1 1M612 823l2 0M732 886l-3 1M669 757l1 0M707 892l-2 1M658 757l-1 1M646 770l-1 1M663 782l0 1"/><path stroke-opacity="0.6" stroke-width="9" d="M664 754l0 1M676 909l2 1M688 892l1 1M606 885l2 0M616 887l-3 1M596 868l-2 0M632 901l1 0M701 750l3 1M700 775l-4 0M626 813l2 1M602 881l-2 0M630 890l-1 2M750 781l1 3M713 897l0 1M690 898l0 1M726 890l0 2"/><path stroke-opacity="0.6" stroke-width="10" d="M683 888l0 2"/><path stroke-opacity="0.7" stroke-width="7" d="M707 856l0 1M714 859l-3 1"/><path stroke-opacity="0.7" stroke-width="8" d="M607 816l0 1M710 776l-2 1M612 810l0 1M667 769l-1 1M629 827l-2 0M643 852l-1 0M714 886l0 3M727 788l2 1M656 869l4 1M626 884l1 2M668 900l-3 1M742 762l-1 0M655 778l-1 1M637 770l1 1M612 853l-1 3M722 834l0 1M672 855l2 1M651 833l2 2M621 889l1 1M636 832l-1 4M669 877l0 1M678 755l3 0M620 799l-1 2M725 796l1 1M704 850l-1 1M671 774l-3 2"/><path stroke-opacity="0.7" stroke-width="9" d="M718 852l-2 0M688 835l0 1M694 790l-1 2M624 833l1 1M719 793l-1 1M695 893l2 0M622 843l-4 0M601 799l-2 4M598 873l1 1M669 783l0 2M659 903l-1 3M708 760l1 2M635 763l1 1M724 761l1 0M608 876l0 1M672 895l0 1M618 807l0 1M694 886l-2 2M630 818l0 2M676 762l1 0M601 887l-1 0"/><path stroke-opacity="0.7" stroke-width="10" d="M700 885l1 1M657 896l0 4M604 890l2 0M597 863l2 2M621 878l-3 1M626 896l1 0M641 896l-1 2M587 869l1 3"/><path stroke-opacity="0.8" stroke-width="7" d="M728 781l0 1M700 842l0 2M667 823l-2 1"/><path stroke-opacity="0.8" stroke-width="8" d="M691 874l2 2M709 845l-2 0M666 888l-3 0M636 878l0 1M634 800l1 0M688 825l-2 3M675 773l2 0M692 814l-3 2M691 786l-4 0M693 861l-3 1M653 787l2 2M649 857l-1 1M696 803l1 4M712 839l2 2M666 847l1 3M676 780l-1 0M714 800l0 2M647 862l-1 1M628 853l-1 3M658 847l3 0M689 770l0 1M628 782l1 0M643 844l-1 3M680 853l1 1M670 843l0 1"/><path stroke-opacity="0.8" stroke-width="9" d="M635 782l1 1M636 847l0 3M715 784l1 0M707 787l-2 3M634 858l-1 0M641 789l3 1M636 805l2 3M699 901l-1 1M687 854l-1 1M612 879l2 2M620 826l-1 1M735 883l1 1M707 836l-1 2M607 863l-1 2M693 798l-4 1M681 769l1 0M711 882l-1 2M721 871l1 1M698 870l-2 1"/><path stroke-opacity="0.8" stroke-width="10" d="M645 892l1 1M709 901l1 2"/><path stroke-opacity="0.9" stroke-width="7" d="M711 807l-1 0M629 845l-2 2M616 816l-2 2"/><path stroke-opacity="0.9" stroke-width="8" d="M614 860l-2 2M648 784l1 1M658 855l-1 1M734 784l2 4M675 862l-2 2M707 820l2 3M697 852l-1 0M657 824l2 2M640 818l0 1M684 845l1 2M714 768l1 4M683 792l0 3M653 798l-1 1M702 864l-3 1M623 818l-1 1M669 868l-1 1M706 799l1 0M698 836l-1 1M696 822l1 2M618 792l1 3M662 808l0 1M725 812l0 2M643 828l2 2M694 844l-1 1M680 842l-1 0M635 841l-3 0M677 800l0 1M715 813l3 1M698 797l4 0M630 806l-1 0M689 805l-1 1M696 781l0 1M682 860l2 1M644 870l1 1M634 793l-2 1M677 790l0 1M697 811l0 2M660 832l-1 3"/><path stroke-opacity="0.9" stroke-width="9" d="M651 880l1 0M718 824l1 3M652 804l1 3M663 817l-4 2M635 812l-2 0M658 839l0 1M634 867l-1 0M651 843l-1 4M661 775l3 1M635 824l1 1M664 873l-1 0M683 878l0 2M678 836l0 1M704 781l-1 1M643 779l1 1M682 896l1 0M637 890l3 1M670 906l-1 0M647 791l3 3M671 805l3 1"/><path stroke-opacity="1" stroke-width="7" d="M659 799l1 1M672 821l3 0M686 780l-1 1M669 794l0 3"/><path stroke-opacity="1" stroke-width="8" d="M703 809l2 0M677 874l-2 3M671 810l-1 2M666 830l1 0M682 808l0 4M645 836l-2 2M649 824l1 0M676 848l-3 2M704 829l-2 1M663 792l-1 0M682 867l-2 2M684 818l-3 2M663 860l1 0M645 803l1 1M646 811l0 2M676 828l-2 2M680 784l0 1M639 862l-1 1M678 882l-3 1M712 793l0 3M693 829l-2 3"/><path stroke-opacity="1" stroke-width="9" d="M654 864l-3 2M653 812l-1 1M711 826l2 4M667 837l-1 1M706 815l-2 1M640 795l-1 2M665 802l2 3M690 868l0 2M685 800l-3 2"/></g><path stroke="#f0f" stroke-width="1.6" d="M671 911h2M798 648h2M453 609h2M451 611h2M550 808h2M569 850h2M796 732h2M669 911h2M515 733h2M696 905h2M769 836h2M776 820h2M727 888h2M555 817h2M642 910h2M796 681h2M770 830h2M776 818h2M451 604h2M658 910h2M655 910h2M607 890h2M788 775h2M750 867h2M796 702h2M590 873h2M768 831h2M793 604h2M485 674h2M560 831h2M524 755h2M789 779h2M799 655h2M765 840h2M746 872h2M511 728h2M795 657h2M755 861h2M548 806h2M459 622h2M790 572h2M664 911h2M642 908h2M778 810h2M637 905h2M543 790h2M506 713h2M573 849h2M768 830h2M700 906h2M590 874h2M703 902h2M700 900h2M702 904h2M785 793h2M708 901h2M449 590h2M684 906h2M449 590h2M535 777h2M648 910h2M652 908h2M509 723h2M785 793h2M663 908h2M664 909h2M599 879h2M795 614h2M713 897h2M799 696h2M578 861h2M653 911h2M795 730h2M767 833h2M552 808h2M659 912h2M791 562h2M523 749h2M794 614h2M580 859h2M449 598h2M643 908h2M546 804h2M774 826h2M750 870h2M799 675h2M502 714h2M533 777h2M797 688h2M781 798h2M444 557h2M797 718h2M576 859h2M778 808h2M621 895h2M718 894h2M445 554h2M755 860h2M734 883h2M469 647h2M750 869h2M737 880h2M796 736h2M527 754h2M451 599h2M797 677h2M794 559h2M536 781h2M790 762h2M535 774h2M609 890h2M795 622h2M534 773h2M468 637h2M468 637h2M800 544h2M461 634h2M775 823h2M798 543h2M766 845h2M684 911h2M788 764h2M588 870h2M774 822h2M735 883h2M697 906h2M689 907h2M636 908h2M795 737h2M789 600h2M477 663h2M796 735h2M787 774h2M578 858h2M480 662h2M636 907h2M769 829h2M611 889h2M470 647h2M768 838h2M447 572h2M761 852h2M710 898h2M757 856h2M456 621h2M501 706h2M733 886h2M794 640h2M730 886h2M519 742h2M521 742h2M502 714h2M536 776h2M721 894h2M471 652h2M794 634h2M766 840h2M798 644h2M746 868h2M631 901h2M733 881h2M559 822h2M613 895h2M793 744h2M534 773h2M790 753h2M447 566h2M703 900h2M740 878h2M486 681h2M789 578h2M792 563h2M604 889h2M681 909h2M570 850h2M447 587h2M636 904h2M634 908h2M749 864h2M773 827h2M749 864h2M795 661h2M445 565h2M791 587h2M773 829h2M678 912h2M719 893h2M573 851h2M783 795h2M770 828h2M763 841h2M618 898h2M799 649h2M793 603h2M729 888h2M795 639h2M793 765h2M668 910h2M727 890h2M553 816h2M758 853h2M536 785h2M537 785h2M701 901h2M795 708h2M454 620h2M796 722h2M717 895h2M789 767h2M686 905h2M795 650h2M762 851h2M598 884h2M476 657h2M791 593h2M794 657h2M782 802h2M689 909h2M764 844h2M528 754h2M563 835h2M780 799h2M448 577h2M679 907h2M715 898h2M798 692h2M713 897h2M795 705h2M457 620h2M794 600h2M530 772h2M583 867h2M645 910h2M754 859h2M555 816h2M566 838h2M760 847h2M593 877h2M796 699h2M631 904h2M641 905h2M537 777h2M586 870h2M800 540h2M781 803h2M556 819h2M789 568h2M738 880h2M554 813h2M445 573h2M541 785h2M580 864h2M589 875h2M656 911h2M568 840h2M796 633h2M617 897h2M482 673h2M613 892h2M798 710h2M777 809h2M796 674h2M728 887h2M602 887h2M554 815h2M717 895h2M788 770h2M577 861h2M794 548h2M794 646h2M564 834h2M757 854h2M532 776h2M631 904h2M790 589h2M510 722h2M508 725h2M527 758h2M451 610h2M715 894h2M565 837h2M791 551h2M565 834h2M474 656h2M780 808h2M769 838h2M787 786h2M579 862h2M798 683h2M446 571h2M571 845h2M541 796h2M543 797h2M555 818h2M695 906h2M636 907h2M630 904h2M796 662h2M446 557h2M791 597h2M565 833h2M701 902h2M469 647h2M776 811h2M609 889h2M787 568h2M760 846h2M462 630h2M545 799h2M527 755h2M585 866h2M750 863h2M542 795h2M619 898h2M789 770h2M553 819h2M717 897h2M800 543h2M787 565h2M446 592h2M774 825h2M566 844h2M551 816h2M642 907h2M795 626h2M514 735h2M564 832h2M781 794h2M783 790h2M712 897h2M498 706h2M710 900h2M732 883h2M553 814h2M715 896h2M567 838h2M683 909h2M442 567h2M734 881h2M779 809h2M492 694h2M613 893h2M794 723h2M449 599h2M539 781h2M645 911h2M537 782h2M703 902h2M599 886h2M571 845h2M686 906h2M791 601h2M753 861h2M578 860h2M694 904h2M717 896h2M796 727h2M632 902h2M701 903h2M788 572h2M786 782h2M501 703h2M533 776h2M660 911h2M571 843h2M729 888h2M512 726h2M448 599h2M598 878h2M533 780h2M527 758h2M460 627h2M790 773h2M620 894h2M784 779h2M767 833h2M451 610h2M561 829h2M721 893h2M535 781h2M790 757h2M666 911h2M689 907h2M797 692h2M554 812h2M620 898h2M798 540h2M445 554h2M528 758h2M796 678h2M494 692h2M722 891h2M800 540h2M713 897h2M776 818h2M597 881h2M732 883h2M798 711h2M671 911h2M585 871h2M453 609h2M789 761h2M577 860h2M514 725h2M792 750h2M564 834h2M685 908h2M570 841h2M710 898h2M520 750h2M783 782h2M613 894h2M795 689h2M651 909h2M543 800h2M739 882h2M782 794h2M768 837h2M520 737h2M479 664h2M775 809h2M795 626h2M559 825h2M644 909h2M794 620h2M693 903h2M533 776h2M788 563h2M721 895h2M780 796h2M450 596h2M596 877h2M787 572h2M791 609h2M587 869h2M745 869h2M491 692h2M691 905h2M781 798h2M779 804h2M569 846h2M791 590h2M799 682h2M790 575h2M554 814h2M641 908h2M620 897h2M571 845h2M641 904h2M788 574h2M782 800h2M745 876h2M722 893h2M799 650h2M760 853h2M789 754h2M590 874h2M447 586h2M690 905h2M491 690h2M760 856h2M612 892h2M534 779h2M739 878h2M625 899h2M618 896h2M704 900h2M652 908h2M785 779h2M640 906h2M512 730h2M683 907h2M482 672h2M692 905h2M714 898h2M476 653h2M569 849h2M647 909h2M762 847h2M798 651h2M450 608h2M592 876h2M799 676h2M803 540h2M775 811h2M634 904h2M766 840h2M474 656h2M554 815h2M643 907h2M476 652h2M569 846h2M569 842h2M794 747h2M792 551h2M795 627h2M484 671h2M740 877h2M568 841h2M798 675h2M587 872h2M569 848h2M542 798h2M498 706h2M790 765h2M686 905h2M545 802h2M794 746h2M768 839h2M608 890h2M522 746h2M798 713h2M489 687h2M542 797h2M753 860h2M791 599h2M737 882h2M768 836h2M776 812h2M571 842h2M777 803h2M578 856h2M548 802h2M791 605h2M762 844h2M783 794h2M780 802h2M794 728h2M623 900h2M791 756h2M565 833h2M792 760h2M448 581h2M504 716h2M577 860h2M606 889h2M502 705h2M594 879h2M539 783h2M573 852h2M728 890h2M475 655h2M686 907h2M794 635h2M788 573h2M757 850h2M532 771h2M528 765h2M762 848h2M600 885h2M790 753h2M581 864h2M798 684h2M797 673h2M768 837h2M584 864h2M519 743h2M797 739h2M773 819h2M620 898h2M770 815h2M718 674h2M759 595h2M733 804h2M717 602h2M626 797h2M509 618h2M705 825h2M637 613h2M646 579h2M625 809h2M693 699h2M604 803h2M474 632h2M621 874h2M642 787h2M691 725h2M741 686h2M750 790h2M584 803h2M504 618h2M557 708h2M797 733h2M764 754h2M587 816h2M637 672h2M491 628h2M682 624h2M691 606h2M625 632h2M560 557h2M548 650h2M726 686h2M782 557h2M613 553h2M724 653h2M667 604h2M588 644h2M684 673h2M642 581h2M715 744h2M669 844h2M569 617h2M699 578h2M745 640h2M650 694h2M520 554h2M628 745h2M546 552h2M647 832h2M792 695h2M669 550h2M539 628h2M762 751h2M680 621h2M657 883h2M605 634h2M624 597h2M495 578h2M682 616h2M722 668h2M791 753h2M605 741h2M734 629h2M478 646h2M679 763h2M618 658h2M577 859h2M575 771h2M633 819h2M672 657h2M543 733h2M721 643h2M709 883h2M719 623h2M676 668h2M708 681h2M738 822h2M572 814h2M703 664h2M653 845h2M721 757h2M673 596h2M576 600h2M724 702h2M566 764h2M711 821h2M657 828h2M576 551h2M678 656h2M666 729h2M481 546h2M631 630h2M749 868h2M658 905h2M715 787h2M623 647h2M606 818h2M670 622h2M611 585h2M473 609h2M730 618h2M761 641h2M558 805h2M792 602h2M653 782h2M614 878h2M491 619h2M640 589h2M523 586h2M520 620h2M637 696h2M768 615h2M660 676h2M652 770h2M594 698h2M569 600h2M777 568h2M535 663h2M631 872h2M681 743h2M554 778h2M595 574h2M651 595h2M659 668h2M695 838h2M575 815h2M765 697h2M649 893h2M740 597h2M685 786h2M556 687h2M637 709h2M797 638h2M664 874h2M495 578h2M780 575h2M636 827h2M519 638h2M679 713h2M557 562h2M684 762h2M693 689h2M738 845h2M780 651h2M614 574h2M595 707h2M491 643h2M563 783h2M730 864h2M764 810h2M700 875h2M692 624h2M777 793h2M789 703h2M619 631h2M730 857h2M792 704h2M485 553h2M721 693h2M691 676h2M717 682h2M693 848h2M573 708h2M516 640h2M703 828h2M774 762h2M617 735h2M730 595h2M600 716h2M556 697h2M798 709h2M651 822h2M486 574h2M646 770h2M749 632h2M507 662h2M645 884h2M740 835h2M701 794h2M577 567h2M719 882h2M726 665h2M609 606h2M689 836h2M642 726h2M722 657h2M618 751h2M461 601h2M737 670h2M770 589h2M780 556h2M620 664h2M532 568h2M487 638h2M630 903h2M682 824h2M765 798h2M645 905h2M573 725h2M719 621h2M757 852h2M773 653h2M749 717h2M505 695h2M748 841h2M500 558h2M732 682h2M780 550h2M765 687h2M590 728h2M711 561h2M614 887h2M672 692h2M473 605h2M582 558h2M687 621h2M579 642h2M586 827h2M649 570h2M758 788h2M602 548h2M593 666h2M634 794h2M660 567h2M623 552h2M663 799h2M447 540h2M594 674h2M773 585h2M714 757h2M711 553h2M537 595h2M506 646h2M617 638h2M484 669h2M585 745h2M785 681h2M616 756h2M698 573h2"/><path stroke="#e0e" stroke-width="1.5" d="M797 736v2M639 561v2M685 867v2M778 602v2M694 641v2M602 714v2M756 712v2M739 828v2M455 568v2M639 539v2M595 856v2M768 601v2M702 805v2M629 674v2M518 685v2M684 736v2M554 689v2M587 775v2M538 631v2M661 584v2M608 598v2M543 799v2M646 613v2M500 674v2M765 561v2M654 725v2M663 837v2M639 576v2M604 870v2M626 673v2M743 577v2M677 804v2M738 713v2M734 746v2M723 735v2M450 589v2M558 797v2M723 573v2M563 606v2M724 688v2M642 777v2M672 773v2M545 722v2M697 710v2M629 567v2M566 549v2M670 658v2M527 687v2M471 549v2M767 716v2M775 642v2M611 667v2M597 556v2M561 748v2M652 549v2M783 782v2M501 654v2M595 594v2M608 876v2M647 680v2M633 601v2M524 635v2M695 622v2M444 557v2M683 878v2M510 726v2M500 651v2M517 594v2M582 738v2M585 693v2M767 779v2M743 588v2M640 567v2M522 753v2M591 559v2M747 834v2M674 715v2M527 644v2M631 721v2M581 755v2M569 716v2M695 592v2M611 548v2M588 722v2M485 590v2M722 605v2M558 760v2M550 785v2M683 568v2M502 596v2M753 723v2M509 578v2M677 562v2M550 570v2M555 746v2M587 838v2M690 643v2M679 567v2M685 832v2M716 737v2M670 646v2M679 672v2M683 841v2M601 653v2M667 705v2M649 829v2M746 706v2M641 851v2M520 666v2M773 565v2M739 776v2M743 622v2M674 907v2M643 698v2M508 605v2M733 688v2M665 713v2M572 745v2M686 654v2M651 586v2M651 615v2M713 856v2M481 590v2M707 683v2M724 677v2M634 833v2M564 594v2M642 850v2M762 804v2M622 870v2M505 678v2M595 720v2M781 781v2M704 826v2M521 606v2M731 859v2M700 855v2M582 617v2M700 813v2M591 634v2M592 640v2M665 663v2M756 629v2M508 630v2M498 624v2M527 659v2M759 628v2M657 606v2M720 731v2M697 656v2M598 636v2M616 678v2M532 724v2M769 603v2M696 619v2M727 646v2M617 896v2M706 779v2M617 732v2M510 708v2M610 893v2M619 848v2M549 554v2M607 868v2M626 699v2M604 668v2M694 641v2M733 602v2M732 710v2M570 645v2M731 795v2M702 643v2M631 560v2M578 779v2M639 837v2M514 687v2M692 673v2M631 890v2M749 808v2M677 592v2M472 651v2M460 598v2M690 577v2M707 612v2M757 609v2M741 706v2M478 564v2M632 693v2M733 757v2M643 840v2M555 558v2M650 606v2M520 693v2M625 590v2M755 652v2M608 839v2M616 720v2M646 590v2M593 723v2M617 700v2M656 709v2M751 836v2M561 615v2M650 829v2M582 601v2M580 600v2M753 578v2M718 827v2M689 738v2M677 671v2M695 559v2M693 648v2M475 643v2M786 575v2M704 714v2M644 810v2M593 872v2M620 732v2M732 610v2M732 588v2M664 683v2M691 688v2M614 641v2M747 809v2M765 830v2M611 639v2M667 703v2M654 741v2M659 689v2M742 827v2M708 624v2M667 674v2M572 665v2M696 676v2M614 599v2M733 553v2M797 660v2M783 654v2M796 624v2M763 689v2M624 857v2M620 741v2M740 573v2M480 565v2M693 797v2M580 598v2M692 639v2M591 637v2M528 673v2M492 601v2M758 556v2M754 817v2M448 586v2M751 739v2M780 635v2M749 559v2M718 576v2M671 553v2M745 624v2M617 598v2M658 901v2M722 641v2M551 737v2M634 870v2M575 623v2M770 632v2M655 740v2M636 885v2M685 804v2M636 834v2M495 554v2M496 591v2M774 582v2M599 582v2M585 722v2M748 765v2M705 615v2M794 680v2M623 780v2M490 649v2M767 729v2M626 845v2M796 625v2M633 595v2M542 684v2M656 831v2M714 873v2M694 823v2M684 650v2M528 543v2M732 831v2M575 742v2M655 882v2M694 647v2M558 812v2M531 563v2M770 649v2M795 658v2M616 658v2M679 682v2M573 836v2M591 584v2M617 815v2M604 776v2M649 864v2M459 541v2M478 546v2M594 787v2M762 566v2M753 684v2M641 690v2M771 608v2M685 629v2M621 878v2M779 759v2M717 681v2M505 593v2M763 733v2M493 556v2M734 616v2M648 581v2M536 656v2M661 546v2M594 637v2M586 779v2M738 716v2M573 746v2M669 774v2M446 570v2M455 559v2M634 543v2M610 568v2M650 730v2M782 615v2M637 548v2M497 568v2M634 672v2M635 553v2M540 658v2M648 769v2M519 585v2M635 763v2M708 640v2M748 865v2M510 594v2M613 551v2M722 805v2M605 586v2M786 652v2M514 734v2M700 659v2M722 643v2M627 563v2M510 604v2M675 811v2M763 658v2M662 840v2M639 877v2M757 734v2M770 782v2M597 824v2M697 569v2M504 613v2M734 672v2M535 672v2M670 559v2M517 575v2M585 724v2M673 577v2M760 607v2M691 725v2M550 626v2M630 577v2M682 897v2M527 550v2M706 614v2M512 621v2M769 638v2M772 753v2M577 541v2M544 742v2M695 576v2M633 651v2M766 828v2M626 666v2M698 820v2M566 794v2M568 628v2M765 743v2M726 762v2M665 894v2M599 820v2M472 629v2M584 632v2M680 546v2M537 611v2M622 616v2M648 655v2M605 884v2M534 643v2M588 742v2M718 593v2M645 727v2M684 625v2M639 801v2M602 855v2M627 665v2M729 560v2M582 635v2M618 705v2M608 701v2M618 863v2M688 786v2M757 548v2M590 609v2M790 635v2M700 697v2M675 666v2M628 876v2M526 749v2M781 690v2M702 561v2M698 826v2M550 719v2M657 790v2M780 600v2M767 717v2M483 649v2M637 775v2M730 580v2M610 859v2M737 855v2M536 574v2M519 650v2M582 686v2M721 666v2M545 559v2M689 873v2M657 880v2M759 745v2M529 744v2M603 817v2M549 748v2M711 758v2M627 686v2M735 882v2M718 804v2M702 842v2M561 759v2M713 747v2M482 637v2M717 704v2M624 701v2M697 777v2M597 804v2M571 756v2M598 830v2M680 797v2M608 693v2M570 565v2M738 725v2M733 843v2M584 663v2M638 872v2M773 553v2M574 760v2M649 688v2M675 908v2M631 813v2M703 755v2M792 644v2M611 679v2M664 705v2M559 606v2M480 666v2M619 600v2M529 647v2M645 570v2M455 561v2M681 727v2M466 603v2M533 593v2M622 834v2M720 550v2M778 564v2M729 795v2M762 605v2M696 686v2M681 840v2M591 545v2M687 692v2M562 792v2M708 687v2M744 554v2M760 833v2M780 549v2M482 657v2M772 768v2M582 633v2M663 838v2M668 869v2M768 626v2M675 871v2M726 862v2M526 739v2M578 853v2M600 550v2M731 704v2M726 700v2M622 612v2M699 596v2M734 565v2M548 695v2M666 587v2M659 623v2M700 791v2M634 828v2M666 612v2M673 626v2M443 546v2M674 783v2M578 732v2M662 646v2M518 544v2M553 763v2M534 652v2M769 658v2M787 772v2M738 843v2M549 629v2M537 747v2M690 743v2M715 574v2M753 671v2M722 833v2M639 872v2M739 709v2M574 636v2M518 716v2M591 787v2M634 635v2M783 786v2M581 655v2M785 679v2M639 687v2M607 551v2M778 596v2M542 665v2M660 662v2M472 597v2M611 583v2M593 548v2M725 845v2M675 849v2M671 879v2M745 851v2M625 688v2M765 621v2M778 753v2M783 665v2M727 825v2M648 836v2M569 593v2M552 608v2M501 635v2M547 770v2M791 693v2M583 773v2M625 893v2M477 637v2M655 709v2M695 757v2M621 873v2M544 715v2M591 870v2M700 675v2M679 813v2M611 643v2M561 559v2M750 590v2M519 654v2M577 764v2M699 871v2M741 662v2M579 854v2M770 834v2M733 856v2M734 559v2M561 557v2M742 855v2M630 589v2M567 620v2M542 610v2M597 842v2M639 804v2M612 801v2M507 616v2M587 743v2M785 567v2M671 802v2M710 808v2M732 635v2M530 759v2M717 752v2M725 884v2M479 542v2M595 627v2M488 559v2M714 686v2M743 585v2M516 647v2M513 555v2M638 834v2M715 800v2M553 738v2M614 749v2M518 629v2M667 849v2M686 849v2M746 641v2M583 583v2M734 580v2M534 555v2M657 892v2M637 824v2M682 698v2M710 673v2M656 729v2M614 863v2M621 622v2M668 798v2M490 564v2M718 747v2M571 795v2M696 831v2M501 594v2M729 670v2M789 763v2M613 574v2M778 642v2M550 610v2M559 549v2M793 590v2M760 818v2M689 567v2M620 790v2M632 675v2M580 777v2M535 704v2M695 582v2M790 739v2M616 863v2M484 601v2M641 638v2M513 597v2M567 695v2M775 661v2M716 891v2M684 814v2M530 746v2M633 879v2M577 562v2M786 770v2M667 872v2M717 861v2M590 662v2M613 572v2M782 681v2M603 561v2M678 859v2M485 653v2M636 668v2M631 782v2M786 569v2M694 863v2M629 700v2M712 594v2M674 553v2M583 762v2M564 712v2M557 654v2M649 705v2M708 677v2M787 590v2M607 588v2M611 542v2M777 688v2M701 810v2M678 553v2M645 824v2M734 708v2M733 543v2M722 632v2M622 578v2M584 671v2M581 573v2M573 811v2M612 806v2M528 548v2M769 562v2M772 673v2M652 815v2M669 783v2M563 826v2M461 613v2M591 758v2M697 892v2M674 734v2M675 653v2M789 582v2M574 812v2M660 703v2M492 640v2M680 805v2M695 604v2M527 747v2M683 658v2M766 554v2M573 788v2M586 777v2M669 754v2M578 681v2M614 744v2M663 576v2M751 786v2M683 545v2M520 585v2M516 541v2M559 578v2M633 798v2M624 583v2M782 571v2M655 732v2M785 692v2M670 666v2M727 763v2M521 583v2M494 643v2M504 716v2M701 830v2M685 607v2M686 854v2M686 868v2M716 615v2M746 745v2M580 566v2M738 579v2M723 540v2M662 608v2M520 738v2M737 614v2M618 874v2M763 650v2M665 823v2M527 601v2M657 659v2M584 701v2M653 595v2M744 776v2M507 647v2M572 556v2M591 691v2M761 759v2M724 785v2M750 541v2M636 600v2M687 856v2M727 795v2M504 661v2M649 903v2M518 671v2M600 848v2M729 608v2M719 643v2M574 847v2M773 798v2M775 735v2M599 849v2M527 613v2M562 544v2M613 637v2M621 801v2M535 699v2M555 564v2M791 567v2M679 749v2M730 568v2M723 781v2M786 785v2M690 607v2M698 752v2M502 633v2M571 685v2M542 777v2M614 793v2M617 547v2M674 788v2M780 752v2M592 691v2M456 592v2"/><path stroke="#ee0" stroke-width="1.5" d="M702 753h2M792 652h2M454 613h2M780 667h2M529 740h2M627 896h2M732 825h2M663 803h2M481 597h2M782 623h2M774 688h2M691 733h2M479 664h2M650 717h2M446 558h2M540 671h2M580 743h2M771 698h2M776 608h2M603 733h2M604 884h2M725 660h2M716 832h2M719 644h2M534 717h2M715 542h2M589 546h2M740 832h2M640 856h2M636 570h2M458 554h2M702 755h2M696 875h2M541 745h2M701 898h2"/>
<path d="M519.3 808L815.3 653.4" stroke="#fff" stroke-width="4.3" stroke-dasharray="34.2 32.6" stroke-dashoffset="16.2"/>
</g>
<path d="M758.2 917H820.8" stroke="#fff" stroke-width="2.0"/>
<rect x="45" y="936" width="386.1" height="386.7" fill="#000"/>
<g clip-path="url(#rc_bl)">
<g filter="url(#soft)"><g fill="none" stroke-linecap="round"><path stroke="#101010" stroke-width="5" d="M204 975l-1 0M265 1189l0 1M220 965l1 4M243 983l3 0"/><path stroke="#101010" stroke-width="6" d="M227 968l0 1M216 977l0 5M220 958l-3 2M285 1016l1 1M261 1153l-3 3"/><path stroke="#202020" stroke-width="5" d="M193 1085l1 2M193 1205l0 1M251 1181l-1 0M195 980l4 0M204 1181l1 0M251 1080l-3 1M279 1273l-1 0M273 1209l-1 1M180 1171l-1 3M189 1067l-2 1M314 1005l0 1M214 972l-1 0M189 1164l2 1M189 1074l1 4M312 1158l-1 0M252 1222l1 0M301 1172l-1 2M214 1172l1 0M246 1226l2 3M221 1172l2 1M205 1078l0 1M267 1016l1 1M226 985l1 0M187 1213l1 1M269 1200l-1 2M207 1203l-1 4M189 1181l1 4M202 1221l0 2M214 1044l-1 2M188 1059l-2 1M213 1181l-1 0M207 1174l1 1M224 1197l-3 1M192 1197l1 2M287 1125l0 2M281 1130l0 2"/><path stroke="#202020" stroke-width="6" d="M151 1036l1 2M294 1121l-1 1M259 977l0 2M196 1074l2 1M207 1187l1 0M313 1204l-1 1M183 1145l-1 0M136 937l1 3M262 1197l0 1M225 974l-2 3M227 1230l0 2M309 1133l1 1M255 1203l0 1M263 1215l1 0M262 1147l-2 0M245 1157l1 0M233 1007l-1 1M256 1186l1 0M258 1140l-1 2M288 1178l1 0M239 1167l2 2M205 986l-2 1M222 1189l-3 4M263 1206l1 0M222 1223l1 1M239 1143l-3 3M214 1221l4 1M239 1150l4 1M327 1057l-3 2M272 1155l2 1M209 1136l1 1M258 1209l-1 3M280 1081l3 0M236 997l1 1M267 1023l1 1M281 1151l0 1M268 1220l-1 1M261 1229l2 2M262 1181l2 0"/><path stroke="#303030" stroke-width="5" d="M235 981l1 1M300 1038l4 0M183 1208l-1 1M201 1191l-2 1M308 1051l1 0M216 1157l-3 2M197 1066l-1 1M206 1069l3 0M186 1187l-3 1M321 1064l-4 0M253 1149l0 1M232 1057l1 1M195 1013l-3 2M275 1260l2 2M218 1150l-3 1M238 1198l-2 0M270 1124l-2 1M232 1157l0 1M275 1163l0 3M193 1215l2 3M179 1153l0 3M322 1175l1 1M213 1235l0 1M325 1123l1 1M93 1001l0 1M262 1222l-1 0M193 1055l3 0M262 1023l-3 1M206 1165l0 1M297 971l2 2M334 1036l-1 1M270 1107l-2 2M299 1111l2 1M270 1227l-2 0M238 1097l4 2M191 940l-1 1M218 988l0 1M275 1032l0 4M196 1226l-1 0M226 1131l0 2M252 1254l-1 2M245 976l-1 2M273 1181l-3 2M307 1058l-3 2M247 989l0 4M249 1136l-2 3M215 1131l1 3M160 1015l0 1M269 1246l-1 1M171 1209l0 1M260 1081l1 2M209 1115l2 1M238 989l1 1M257 1176l0 1M276 1138l3 1M278 1177l0 1M304 1148l1 0M273 1002l-2 3M212 964l-1 1M320 1148l-4 2M240 1005l3 2M184 1010l-2 0M251 961l-2 0M331 970l-1 1M171 1007l-2 1M268 1173l1 1M183 1198l3 2M244 1255l-2 2M263 1138l3 2M265 1160l-1 4M146 949l0 2M240 1160l-3 1M242 1204l3 1M231 1112l-3 2M317 1115l3 1M216 1200l-1 0M173 1143l-2 3M176 1006l3 3M318 1132l-3 2M271 996l0 1M218 1228l-2 1M330 1053l0 1M183 1002l-1 1M316 1038l4 1M327 1044l3 1M228 955l-2 2M135 973l0 1M200 1162l-2 3M173 1036l4 1M191 1142l0 2M203 1149l2 3M145 1005l2 2M298 1045l2 1M292 1140l-3 1M308 1011l1 1M281 1184l0 3M242 1121l1 0M238 1231l-1 0M181 1161l0 1M297 1180l0 1M237 1090l0 2M315 1047l1 3M307 1101l-2 0M261 1169l-1 1M293 1036l-1 2M198 986l-2 2M274 1278l-2 2M347 1041l3 1M243 1142l2 2M165 1122l1 1M217 1214l1 1M232 1165l-1 0M230 1183l1 3M210 1195l-1 1M231 1216l3 1M207 1240l1 0M254 1075l2 1"/><path stroke="#303030" stroke-width="6" d="M266 1090l2 3M217 1258l-2 1M209 1212l2 3M228 1150l2 1M104 1138l4 2M266 1151l0 1M221 1095l0 2M185 1223l0 2M238 1180l-1 1M297 1189l-2 0M319 1079l2 1M254 984l2 2M293 1155l-2 3M219 1032l-3 1M165 1019l3 1M322 1100l2 2M187 1175l2 1M216 1120l2 3M293 1029l1 1M179 1136l-4 1M215 1208l-1 1M223 1181l1 0M163 1006l1 2M220 1089l1 0M279 1027l-2 1M225 1051l0 1M285 1191l1 0M277 1011l0 2M234 1170l-2 4M281 1002l-2 2M224 1239l-1 4M202 1198l2 1M193 1125l-2 2M205 1088l-2 2M351 1052l-2 0M176 1060l2 3M260 1031l-2 1M308 1185l1 3M253 1195l2 1M149 1016l0 2M192 1004l-3 0M223 1215l3 1M323 1049l1 0M276 1217l-1 4M299 1201l0 2M163 1032l-1 1M253 1024l1 4M266 1131l0 1M259 1237l2 1M289 1022l2 3M316 1022l0 3M288 1133l1 0M193 1154l3 1M272 1192l0 2M238 1136l-1 1M236 974l0 1M289 1147l-4 0M244 1014l1 1M182 1125l-2 2M300 1160l0 2M276 1087l-3 1M252 997l-1 3M298 1142l0 1M217 1006l1 1M197 1174l3 1M251 1158l4 1M256 1231l-3 2M339 1004l-1 2M236 1073l-2 1M304 1178l4 2M246 1175l0 4M273 1140l-3 3M249 1209l0 1M281 1196l-2 3M200 1125l3 3M271 1066l3 2M219 1244l-4 1M233 1203l-1 1M289 1202l4 1M240 1192l4 2M315 976l1 1M283 1165l1 2M187 1150l0 2M148 1136l1 1M260 1120l-1 2M283 1032l1 1M212 1071l3 1M324 999l0 1M251 1238l3 2M179 1201l-1 1M229 1261l-1 1M248 1005l2 4M183 989l0 1M141 1140l-1 5M256 1132l2 4M235 1188l3 2M232 1130l3 2M291 1195l0 1M300 1029l0 4"/><path stroke="#404040" stroke-width="4" d="M148 1214l1 1"/><path stroke="#404040" stroke-width="5" d="M287 1042l-1 0M247 1108l0 1M163 1091l-1 1M192 984l-3 1M305 1078l2 3M228 1065l2 1M200 1032l3 2M151 1145l-1 0M253 1277l3 1M180 1216l1 1M228 1040l0 1M157 1133l-1 0M323 1031l2 1M207 1104l0 3M169 1041l-1 0M214 1091l-2 3M276 1073l-1 0M311 1242l-2 1M239 1246l0 1M288 1004l1 0M237 1114l-1 2M175 1187l0 3M248 1088l-1 1M213 1143l-1 3M224 997l-3 0M229 1123l-2 0M233 1016l0 1M155 1003l-2 2M280 1171l-1 1M295 1149l1 2M177 992l-2 2M222 952l-2 0M275 1055l-1 1M224 1071l-1 0M277 1145l-1 1M298 1104l2 0M250 1097l1 0M172 1154l-4 0M136 1172l-1 0M285 1206l-2 3M243 1127l0 2M267 1032l-1 1M232 1087l-1 1M251 1118l0 1M303 1262l-1 0M309 1141l3 2M165 1213l3 3M310 1085l1 1M237 1255l-1 0M270 1265l2 2M197 1120l-1 3M133 1152l-2 2M175 1018l-1 2M266 1008l0 1M201 1010l-1 1M179 1051l2 1M279 1121l2 2M279 1040l2 2M234 956l-1 2M273 1130l-1 3M243 1068l0 1M247 967l2 3M313 1057l1 1M120 994l-1 0M182 1115l1 1M138 1018l1 3M308 1024l1 3M230 1139l-1 0M202 1141l-1 0M262 1095l1 1M253 1013l1 3M226 1010l-1 3M157 1179l0 3M185 1237l2 1M199 1003l-2 2M148 1170l-1 1M337 977l-2 0M162 982l0 2M299 1132l1 1M152 1116l-1 1M225 1033l1 0M169 1195l3 1M194 1045l1 0M305 1227l1 0M219 1141l3 1M207 1123l4 0M230 1191l-2 1M201 1242l-1 0M254 1125l1 3M286 989l1 3M286 1216l-3 1M266 1257l0 1M208 1158l-1 0M270 1235l0 1M274 1116l-3 1M342 1048l2 2M312 1043l-3 0M144 996l1 0M299 1062l0 1M286 1048l-1 2M303 1068l0 1M220 1113l2 1M296 1009l-1 4M236 1237l0 2M217 1050l-2 3M268 1274l1 1M262 1245l0 1M268 1073l2 2M165 996l1 2M315 1165l2 2M277 1226l-1 0M291 1167l0 1M181 1039l1 1M254 1056l0 1M340 1014l0 1M250 1031l-1 1M144 1107l2 0M168 1055l-1 0M242 997l1 1M159 1140l-1 4M113 980l-2 1M206 1003l0 1M235 1051l2 0M177 1222l0 1M111 1128l-1 1M230 992l-1 1M268 1100l1 0M214 1165l2 1M212 984l-1 0M172 1078l1 0M312 1115l-2 1M121 958l1 0M195 1186l1 2M319 1140l3 3M156 1029l-1 1M189 976l2 1M236 1121l-2 1M204 1133l-1 1M178 1180l0 1M206 961l-1 1M170 1129l-2 1M174 1215l0 4M134 1136l-1 3M268 976l-3 1"/><path stroke="#404040" stroke-width="6" d="M230 1105l0 1M238 1066l-1 0M193 1232l-1 0M181 1094l1 1M162 1127l-2 2M205 994l2 1M244 1062l-1 0M209 1021l-1 1M166 1228l-1 1M123 999l4 0M187 1134l1 0M203 1042l0 1M255 1165l-1 0M313 1174l-3 0M180 1077l1 1M280 975l0 3M344 1007l0 3M138 1131l1 4M169 1137l-3 0M195 1134l1 0M173 1174l-3 2M208 1054l1 0M237 1033l4 1M314 968l0 1M304 1218l2 3M148 1128l-1 3M311 1126l-1 1M276 938l-3 2M198 1024l-2 2M136 999l-3 1M231 1223l0 3M243 1214l0 4M291 1101l2 1M181 1023l4 1M253 1085l2 2M223 1165l-1 0M220 1106l-1 0M343 990l-3 1M246 1234l1 2M235 1209l3 1M300 993l1 4M287 1116l1 0M300 1054l1 1M199 1212l3 0M260 1063l-1 0M331 1135l-1 0M187 1032l-2 1M128 951l0 3M222 1078l-1 0M208 1226l-1 0M136 950l1 1M106 1100l1 3M348 1018l0 1M306 1108l1 3M296 1000l-1 1M202 1061l2 2M171 1050l3 1M356 1003l-1 2M248 1244l-1 0M210 954l2 0M245 1186l0 1M313 996l-2 1M271 974l4 1M331 980l-2 3M237 1044l-1 0M138 1008l2 2M232 1243l-2 0M263 999l1 0M193 1035l0 4M193 991l-1 2M229 1096l4 3M199 1233l3 0M329 1116l-1 3M257 1101l1 2M244 1053l3 1M154 1109l1 1M299 1095l0 1M309 1165l-1 1M296 987l2 1M221 1025l-3 0M260 1113l1 1M352 997l-1 0M164 1047l-3 0M310 1034l0 1M254 1068l1 1M283 1266l0 1M344 1025l1 3M157 1021l1 2M261 991l1 2M306 1000l-1 0M116 1139l0 1M199 964l-1 1M276 990l2 3M304 1195l-2 1M303 962l2 3M228 1250l-1 1M249 978l4 2M229 998l2 4M124 1121l4 1M273 1080l1 1M321 980l1 2M309 975l-3 3M225 1155l-1 3M203 1111l1 1M218 1204l4 1M292 1059l0 3M221 1043l0 1M263 1040l2 4M274 1021l2 1M175 1000l-2 1M309 1150l4 1M196 1148l-3 1M253 1110l1 3M201 1050l0 1M300 1005l2 1M350 1033l0 2M213 1099l1 2M313 1194l-1 0M248 1163l-2 3M297 1016l-1 2M315 1123l3 3M255 1247l-1 0M178 1109l-2 3M291 1263l-1 3M326 1066l0 1M268 1052l0 1"/><path stroke="#505050" stroke-width="4" d="M350 1066l1 1"/><path stroke="#505050" stroke-width="5" d="M355 1027l1 3M333 998l0 4M233 940l-1 1M291 1108l-3 1M294 1273l2 0M325 973l1 4M262 960l-1 3M97 1117l2 2M365 998l-1 0M289 1231l2 3M135 1038l0 1M343 1036l-1 0M133 990l-2 2M213 1010l-1 2M102 990l-1 1M174 1123l0 1M335 992l0 3M271 966l-3 0M300 945l4 1M349 985l-1 0M283 1094l0 1M127 1091l-4 1M143 1068l3 2M162 990l-1 1M329 1005l1 3M188 1107l3 2M153 1068l-1 0M174 1028l1 1M97 1097l1 0M305 1120l0 3M227 1021l-1 1M269 984l-1 0M251 1048l-1 1M294 1048l0 1M168 1086l3 3M122 1083l-3 0M139 1034l2 0M295 1072l2 3M320 1108l-3 1M220 1062l-1 1M281 965l2 0M320 992l2 2M143 987l1 0M276 1099l-1 2M160 1210l0 1M372 955l1 1M302 981l-1 0M169 1164l1 3M124 1008l1 0M169 1064l-1 2M290 969l0 4M142 1090l-1 1M238 1081l0 2M111 1023l1 1M103 960l-3 2M256 1004l0 1M285 1072l0 2M195 968l-3 3M112 1057l2 1M377 969l3 3M143 1054l1 2M285 1159l-1 0M238 1021l1 0M240 965l-2 1M141 1167l0 1M176 982l-1 1M315 1232l-1 2M122 1131l1 1M112 1010l2 1M155 1203l-1 0M151 989l1 1M137 1105l-1 1M115 1132l2 0M279 954l2 1M296 1222l1 2M321 1018l2 4M169 1114l2 1M132 1144l2 2M146 1149l-2 1M242 958l0 2M385 944l-2 1M126 1169l1 4M150 1234l-1 1M285 945l1 3M120 966l-1 1M259 969l2 1M131 1076l0 1M153 939l1 1M298 957l-2 2M177 1071l1 1M195 1100l1 1M237 1108l1 0M190 1120l-3 0M305 1091l1 1M151 1048l-1 1M286 981l2 1M231 1080l1 1M343 951l1 2M318 1156l1 1M111 990l-1 3M354 1019l1 0M188 1018l-1 0M201 1019l-1 0M141 1061l0 1M277 982l-2 1M168 1028l-1 0M229 1210l0 1M271 1040l0 1"/><path stroke="#505050" stroke-width="6" d="M254 939l0 1M345 940l1 1M255 1262l0 2M125 1138l2 1M261 1072l3 1M381 984l0 3M122 1018l-2 2M260 1252l0 1M106 1063l-1 1M147 979l0 1M336 983l1 3M161 1113l-1 4M328 1024l-1 1M352 957l3 2M289 1222l0 4M157 1101l-1 1M355 1038l2 0M137 979l-1 4M368 1017l1 1M298 1083l-1 0M140 970l4 1M332 1012l-1 3M293 1213l0 1M121 974l-1 1M327 987l-1 3M369 1001l1 3M183 1086l-4 0M131 1103l-1 1M161 1157l-2 1M358 1010l-4 1M122 1102l1 2M191 1093l3 1M216 1015l3 2M104 1150l-3 1M299 1232l1 4M168 986l1 3M271 959l1 1M337 1048l-2 0M220 943l0 3M127 970l0 1M236 1263l0 4M108 1190l-2 1M130 1017l-2 3M316 984l-1 3M182 1103l-2 2M146 936l-1 1M232 1029l1 1M137 1123l4 2M260 1052l3 0M114 1115l-2 1M164 1170l-3 2M186 1043l1 3M238 1222l1 1M210 1039l-3 2M208 1247l0 4M327 1222l0 2M277 1253l-4 2M245 1268l0 1M267 1061l0 1M148 1023l1 5M160 1149l0 1M282 1232l-3 3M286 1274l0 1M119 1050l1 0M206 1096l-3 3M117 985l0 2M248 1043l-4 1M195 1112l0 1M318 1012l2 1M284 1103l0 1M153 1151l0 2M211 1029l-1 1M322 965l0 3M322 1214l-1 1M278 1109l0 1M310 1065l-2 1M243 1076l-3 1M211 1061l1 1M157 1121l1 1M307 988l4 2M362 937l-1 2M156 1042l-1 3M342 997l0 2M181 1233l-2 0M328 1162l0 1M301 1208l0 4M199 996l0 1M290 996l-1 2M318 1029l-2 3M118 1090l1 4M150 1158l1 2M154 1172l2 4"/><path stroke="#505050" stroke-width="7" d="M321 1222l-1 1M66 980l1 2M224 1269l0 2"/><path stroke="#606060" stroke-width="5" d="M95 1062l-1 0M129 1052l-3 1M286 1286l-1 2M214 940l1 1M313 1017l-2 1M142 1113l-1 2M292 1090l0 1M110 1089l1 0M282 1057l1 1M166 1182l0 1M142 1159l2 1M322 1090l-1 1M132 1124l0 3M114 954l0 1M274 1046l-2 2M229 947l-1 0M123 1159l0 1M328 1107l-2 2M255 1039l-1 1M351 968l-1 1M377 943l-2 0M146 961l2 1M299 1250l1 0M92 1022l3 1M167 948l3 1M204 954l-3 1M132 1029l0 1M107 1000l0 1M137 1049l-1 1M134 962l-4 2M161 1199l1 4M339 1026l-4 0M120 1185l0 1M113 1123l3 0M335 1091l1 1M98 1036l1 3M294 943l-1 0M260 1267l-1 1M167 1102l-1 1M158 1242l-2 1M258 949l3 1M85 1005l1 0M342 1057l1 2M180 939l1 0M139 1192l-1 0M81 1016l-1 1M314 1096l-1 2M156 1054l1 3M104 1012l0 1M286 1063l-1 2M328 1210l-2 1M158 1258l0 2M288 1082l2 1M311 947l1 0M190 955l0 1M119 1168l1 1M290 1251l-1 1M125 1044l2 2M301 1020l3 2M379 955l2 1M192 947l0 1M358 992l2 3M244 1026l-1 0M147 1178l1 2M141 1180l0 1M140 957l1 1M201 1261l1 1M403 959l-3 0M142 1045l1 0M362 959l0 1M140 1080l1 1M332 1102l1 2M160 953l1 1M371 992l1 2M129 1132l0 1M133 1160l1 1M325 1182l-1 0M346 976l4 1M117 1028l1 0M186 1099l2 1M151 982l4 0M323 1005l-2 3M224 936l-1 2M125 1109l2 2M273 1241l-1 1M367 952l-1 0M141 1097l0 1"/><path stroke="#606060" stroke-width="6" d="M154 1165l0 1M152 946l0 2M124 1071l0 3M163 1251l3 2M213 1080l-1 1M325 1201l0 1M184 964l-1 1M106 1073l3 3M153 1090l-2 3M362 946l-2 3M157 995l-3 2M174 1101l-1 2M171 977l0 1M286 1243l3 1M129 982l-2 2M282 936l4 1M162 1188l-1 1M134 1084l-1 0M335 1191l0 1M331 1185l-1 3M73 993l-3 2M118 1035l-2 3M262 942l-1 0M284 960l3 1M330 960l-1 3M160 976l-2 0M120 1114l3 3M179 953l1 0M278 1246l-1 0M182 978l0 1M344 966l0 1M79 985l-1 1M319 1234l1 0M333 1063l1 1M395 967l-2 2M295 1241l0 1M312 1069l4 1M73 1004l-2 0M328 1234l-1 0M343 1183l1 3M332 1173l-1 0M312 960l1 3M125 1037l-1 0M330 1177l1 2M384 992l-3 2M328 1196l0 1M177 945l2 2M134 1112l-3 1M319 1256l1 2M327 1072l1 4M162 1065l-1 1M216 996l-1 3M77 1023l2 2M286 1258l0 1M151 1061l3 1M86 998l1 0M343 1193l-2 2M76 1010l2 2M251 952l2 0M166 1262l-1 1M358 986l-3 2M207 1261l-1 1M158 1235l1 0M328 1228l-2 2M132 1004l0 4M156 1076l-1 1M174 1240l0 1M193 1241l-3 2M327 1093l3 2M319 1228l0 1M316 1218l2 1M357 964l0 1M257 1045l0 1M106 948l1 3M329 1205l1 0"/><path stroke="#606060" stroke-width="7" d="M86 982l1 1M350 1128l-2 2M156 1228l0 3M337 1123l0 3M329 1215l-2 2M167 1239l3 2"/><path stroke="#707070" stroke-width="5" d="M138 1073l1 1M110 1043l-1 1M320 952l1 2M248 1284l-1 1M115 1157l-2 0M109 1033l-3 1M116 1200l1 2M119 938l0 1M336 953l1 0M151 1196l1 0M66 1007l-2 2M364 989l3 1M81 1033l0 1M349 1169l0 1M97 1048l3 2M305 952l3 1M247 948l-3 1M405 967l1 1M166 1073l-1 1M117 1065l-3 2M156 968l-1 1M294 951l-3 0M244 940l1 2M174 1253l2 1M116 1097l-1 1M132 1060l-2 1M152 1226l-1 1M115 1002l0 2M135 1184l0 3M339 937l-1 3M382 1010l0 1M301 937l0 3M62 1063l-1 1M207 937l1 1M114 1108l-1 0M246 1260l3 3M213 946l-1 1M295 1285l-1 2M116 1077l-1 1M372 936l3 0"/><path stroke="#707070" stroke-width="6" d="M151 1185l-1 2M123 1149l-4 1M146 1240l-2 1M337 1182l0 1M323 1241l1 1M357 940l-4 2M83 1085l-1 2M351 1135l-1 1M125 1028l0 1M374 963l2 0M184 971l-1 1M176 1268l1 1M186 1275l3 0M387 968l0 1M308 939l2 0M101 978l2 2M169 1245l0 2M124 1195l-1 1M343 1171l-1 1M201 1271l0 1M218 1285l-2 1M344 1159l-1 1M399 966l1 1M333 1217l1 3M337 1070l-2 1M401 975l1 1M272 945l2 3M148 1080l3 1M268 1282l-2 1M87 974l0 3M360 971l-4 2M330 1146l1 2M80 997l2 2M159 1082l-1 1M262 1312l1 0M133 1066l3 2M331 1238l1 2M314 1254l2 1M211 1267l0 1M201 941l0 1M375 1070l0 1M151 954l1 2M341 959l0 1M230 1274l2 2M108 1198l2 1M172 966l4 0M298 1280l1 1M325 1253l-1 2M388 962l2 0M355 977l0 3M328 1247l-2 1M147 1073l3 3M348 946l3 3M341 1223l-1 0M270 1316l-1 1M82 1102l0 1M84 1010l2 2M148 1203l-3 0M171 1093l1 2M76 990l-1 0M292 964l0 1M82 1080l-1 0M305 1306l-1 0M398 1014l0 1M113 940l-1 4M129 1177l0 4M77 973l-3 1M84 1023l2 1M236 945l1 2M95 1147l1 0M268 951l-1 1M218 1266l0 1M362 1046l-1 0M78 1096l2 2M144 1195l0 3M368 963l0 1M340 1101l2 2M369 1078l1 1M76 1030l1 0M351 1157l0 1M322 1206l-2 0M321 1196l-1 3M269 937l-2 1"/><path stroke="#707070" stroke-width="7" d="M335 1163l-1 2M321 1190l-1 1M200 1280l1 3M106 1180l-3 2M195 1257l1 2M243 1279l2 0M71 1011l-1 0M103 1159l0 1"/><path stroke="#808080" stroke-width="5" d="M388 974l-1 1M98 1086l-2 1M185 1258l-3 1M173 957l-2 2M390 991l0 1M102 939l-4 1M344 1139l-2 0M337 1206l-1 1M122 1061l-1 3M341 1114l0 2M79 1004l-1 0M210 1282l-2 2M395 979l1 1M189 1262l1 1M86 955l0 2M352 1151l-1 1M325 938l2 1M90 1134l-3 2M185 1247l-1 3M420 951l2 2M116 948l3 1M336 945l1 1M83 1040l-1 2M78 1147l-1 1M341 1176l-1 1M255 1307l-1 2M133 1094l-2 2M168 938l-3 2M385 936l-3 2M110 1208l-1 3M72 1020l-1 0M318 941l2 1M224 1287l-1 0M276 1286l-2 1M345 1144l2 1M312 1264l-1 2M382 1025l1 1M60 1044l1 1M183 1272l-2 2M162 963l0 1M394 1001l0 1M238 1283l-1 1M160 1247l-1 1M61 1069l0 1M339 1134l0 1M162 944l-2 0M357 1057l-1 0M90 992l-1 2M396 995l-1 1"/><path stroke="#808080" stroke-width="6" d="M417 958l-1 3M151 1245l3 1M318 1249l3 1M169 1253l2 2M340 1080l0 2M345 1098l0 1M405 955l1 2M113 961l-1 1M238 1276l2 2M269 1310l1 0M357 1075l-1 1M373 1040l1 1M72 1051l2 0M105 1203l1 1M146 1099l3 1M355 1140l0 1M69 974l0 1M369 939l-1 2M97 1161l-1 3M177 1245l3 1M298 1290l0 1M364 1079l-1 2M350 1078l0 2M334 1199l1 0M71 979l4 0M395 953l2 3M262 1301l-1 1M303 1283l0 1M79 1154l-1 1M61 950l2 2M342 1128l3 0M411 936l-1 0M311 1302l-2 0M388 984l2 1M340 1146l-1 1M113 970l-4 2M195 1277l-1 0M65 1045l3 1M64 999l-1 1M303 1273l3 1M100 1194l1 0M345 1119l-3 1M216 1272l3 2M390 1032l1 0M362 979l1 0M415 951l-1 1M331 1080l-3 2M81 1163l2 1M212 1274l-2 1M118 1193l1 1M247 1305l-3 1M86 1097l0 2M67 958l1 3M335 1246l0 4M319 1294l1 1M74 1139l2 0M81 977l0 1M410 961l0 2M243 1287l-3 1M216 1278l-1 1M389 939l1 1M94 1189l0 2M381 1055l-1 1M379 1033l-3 0M352 1119l1 1M336 1232l3 2M368 1030l-1 0M85 987l-2 1M97 1167l-2 2M420 947l-3 0M86 1129l-3 1M127 1064l1 4M312 1259l0 1M334 1211l-1 1M247 1292l1 1M342 1165l0 1M78 1045l-2 1M373 1082l0 2M234 1279l-1 1M79 953l2 0M189 1268l1 1"/><path stroke="#808080" stroke-width="7" d="M85 1027l-1 3M403 950l-2 0M403 942l0 1M194 1251l1 1M410 972l-2 3M88 1108l0 1M275 1294l0 1M68 1098l-1 4M341 1199l-1 1M349 1176l0 1M346 1152l-3 2M272 1302l1 4M363 1072l1 1M123 1199l-1 2M358 1067l1 2M375 1012l1 3"/><path stroke="#909090" stroke-width="5" d="M365 1084l2 1M333 1227l0 1M245 1299l1 1M91 1167l-1 0M389 1025l0 1M378 1022l0 2M329 948l0 1M379 1039l-1 1M154 1250l-3 2M424 936l-1 1M100 1171l2 2M197 1265l0 1M126 1204l2 1M76 967l-2 1M78 1083l-2 2M425 944l1 3M138 1237l1 0M407 987l-1 1M114 1187l-1 3M66 1034l-1 1M370 980l1 0M382 1049l-1 1M128 941l-2 1M182 1263l2 1M368 1059l-1 2M94 1073l0 1M395 1027l1 2M319 1264l-2 1M317 1298l-3 1M407 980l0 1"/><path stroke="#909090" stroke-width="6" d="M80 1116l1 1M95 950l1 2M386 1035l-1 1M76 1106l3 2M255 1298l-1 1M96 1177l1 1M381 1016l0 1M369 1072l0 1M169 968l-3 2M387 997l1 1M365 1050l-1 1M394 1021l3 0M409 944l2 3M402 992l0 2M365 1067l-2 1M107 1166l-1 3M66 1016l0 1M253 1287l0 1M269 1298l0 1M74 1130l0 1M88 1154l-1 0M93 1141l0 2M365 969l1 4M298 1303l-1 2M145 1233l-3 1M113 1180l1 0M61 1057l3 1M81 1143l-1 0M390 1019l0 1M359 1114l0 2M301 1299l2 2M367 1037l1 3M82 1091l-1 0M79 1132l0 3M209 1287l-2 1M134 1201l-2 0M89 1148l1 0M371 1023l0 2M91 1126l1 2M173 1261l0 2M68 987l2 2M330 1266l-1 1M298 1310l0 3M82 1049l-3 1M357 1131l-4 0M376 1077l-2 0M70 1029l0 1M331 1273l-1 1M74 1095l-2 1M284 1293l2 0M71 1082l0 1M260 1286l-2 1M346 1105l1 1M232 1288l0 1M371 1046l-1 1M375 1057l-1 2M361 1086l-1 1M341 1108l3 2M66 1023l-1 0M330 1259l-1 2M349 1084l2 2M92 1156l0 1M351 1163l-2 1M188 1252l-1 3M204 1276l0 1M138 1228l1 1M396 973l0 2M216 1291l1 3M403 936l1 0M118 1207l0 1M88 1180l2 1M371 1052l-1 0M61 1050l1 3"/><path stroke="#909090" stroke-width="7" d="M337 1154l0 1M64 1027l-1 2M360 1051l-1 1M74 1058l0 3M111 1173l2 0M221 1276l1 0M338 1119l-1 1"/><path stroke="#a0a0a0" stroke-width="5" d="M418 938l1 1M72 1102l0 2M377 1005l0 3M90 970l2 1M386 1007l1 0M263 1292l-2 2M238 1293l-1 0M136 1216l-1 2M223 1292l1 1M290 1306l1 1M85 1173l1 0M73 939l-1 1M124 1224l-2 2M293 1312l0 1"/><path stroke="#a0a0a0" stroke-width="6" d="M112 1216l2 2M402 982l-2 2M120 1211l3 0M130 1217l-1 1M134 1229l-1 0M61 1078l3 0M362 1058l0 2M72 1120l0 3M138 1223l-1 1M240 1302l-3 1M82 966l0 1M432 939l-2 1M72 1041l1 1M91 1183l1 2M75 1037l1 0M324 1261l0 3M329 1154l3 2M80 1122l3 1M360 1124l-2 1M84 1068l1 2M68 1057l0 2M348 1092l-2 3M77 1071l-1 1M91 962l-1 1M340 1215l0 1M349 1111l0 1M336 1257l-2 2M145 1227l-1 1M84 1147l-1 3M396 948l-1 1M380 1000l0 1M144 1245l-1 3M143 1221l0 1M390 1040l-1 1M69 1088l1 0M83 1054l1 0M134 1208l0 1M74 953l-2 1M396 961l-1 0M335 1263l-1 1M323 1267l2 3M372 1064l0 1"/><path stroke="#a0a0a0" stroke-width="7" d="M378 1064l-1 0M316 1284l1 2M97 1134l-3 3M88 1159l-1 3M93 1173l-3 1M139 1211l-1 1M310 1290l-3 1M364 1109l1 3M372 1034l1 1"/><path stroke="#b0b0b0" stroke-width="5" d="M321 1274l0 1M354 1089l0 3M69 965l1 1M279 1301l0 2M63 1084l1 1M236 1298l-1 1M73 1113l0 2M322 1285l2 0M369 1091l-1 2"/><path stroke="#b0b0b0" stroke-width="6" d="M65 1092l-1 2M278 1307l2 1M76 1064l2 3M128 1210l2 3M74 947l-1 1M387 1046l0 1M62 944l-1 0M392 1009l1 0M228 1281l0 3M67 1065l-1 0M286 1301l-2 2M126 1230l1 3M63 938l1 0M278 1315l-1 0M364 1103l1 1M89 1118l-2 2M73 1077l1 0M228 1299l1 0M366 1095l-1 3M352 1101l-1 0M66 1072l0 1M102 1187l0 1M362 1091l1 1M399 988l0 1"/><path stroke="#b0b0b0" stroke-width="7" d="M119 1219l1 3M76 958l0 1M133 1235l0 1M69 942l-1 4"/><path stroke="#c0c0c0" stroke-width="5" d="M360 1096l-1 1M306 1295l-1 1M329 1279l-1 1M66 951l2 0M285 1316l-1 0M357 1082l-2 0"/><path stroke="#c0c0c0" stroke-width="6" d="M84 949l1 1M397 1005l1 0M284 1310l3 2M355 1106l-1 0M67 1105l0 2M317 1277l-1 0M83 1138l1 0M80 945l-2 1M81 937l0 3M292 1295l0 2M55 935l-2 3M402 1001l-1 1M82 959l-1 2"/><path stroke="#c0c0c0" stroke-width="7" d="M130 1224l1 1"/><path stroke="#d0d0d0" stroke-width="5" d="M82 1073l1 2"/><path stroke="#d0d0d0" stroke-width="6" d="M312 1271l0 3"/><path stroke="#e0e0e0" stroke-width="6" d="M82 1060l2 1"/><path stroke="#ffffff" stroke-width="5" d="M313 1280l0 3"/></g></g><g filter="url(#mag)" fill="none" stroke="#fff" stroke-linecap="round"><path stroke-opacity="0.3" stroke-width="7" d="M350 1066l1 1"/><path stroke-opacity="0.3" stroke-width="8" d="M95 1062l-1 0M129 1052l-3 1M294 1273l2 0M253 1277l3 1M322 1090l-1 1M248 1284l-1 1M279 1273l-1 0M351 968l-1 1M146 961l2 1M93 1001l0 1M92 1022l3 1M167 948l3 1M204 954l-3 1M379 1039l-1 1M143 1068l3 2M154 1250l-3 2M134 962l-4 2M341 1114l0 2M153 1068l-1 0M191 940l-1 1M113 1123l3 0M294 943l-1 0M303 1262l-1 0M97 1048l3 2M320 1108l-3 1M197 1265l0 1M258 949l3 1M142 1090l-1 1M103 960l-3 2M81 1016l-1 1M314 1096l-1 2M156 968l-1 1M244 940l1 2M336 945l1 1M138 1237l1 0M137 1105l-1 1M119 1168l1 1M125 1044l2 2M168 938l-3 2M110 1208l-1 3M330 1053l0 1M144 996l1 0M242 958l0 2M345 1144l2 1M140 957l1 1M382 1025l1 1M182 1263l2 1M131 1076l0 1M362 959l0 1M140 1080l1 1M144 1107l2 0M162 963l0 1M394 1001l0 1M111 1128l-1 1M343 951l1 2M160 1247l-1 1M339 1134l0 1M224 936l-1 2M90 992l-1 2M213 946l-1 1"/><path stroke-opacity="0.3" stroke-width="9" d="M112 1216l2 2M123 1149l-4 1M254 939l0 1M124 1071l0 3M104 1138l4 2M381 984l0 3M106 1063l-1 1M340 1080l0 2M184 964l-1 1M238 1276l2 2M374 963l2 0M352 957l3 2M357 1075l-1 1M373 1040l1 1M96 1177l1 1M355 1038l2 0M322 1100l2 2M362 946l-2 3M105 1203l1 1M146 1099l3 1M138 1223l-1 1M121 974l-1 1M387 997l1 1M134 1084l-1 0M350 1078l0 2M101 978l2 2M73 993l-3 2M118 1035l-2 3M107 1166l-1 3M262 942l-1 0M253 1287l0 1M104 1150l-3 1M330 960l-1 3M365 969l1 4M108 1190l-2 1M148 1080l3 1M312 1271l0 3M126 1230l1 3M195 1277l-1 0M367 1037l1 3M395 967l-2 2M331 1080l-3 2M173 1261l0 2M212 1274l-2 1M344 1025l1 3M375 1070l0 1M286 1274l0 1M119 1050l1 0M116 1139l0 1M335 1246l0 4M177 945l2 2M360 1124l-2 1M325 1253l-1 2M303 962l2 3M355 977l0 3M260 1286l-2 1M216 1278l-1 1M232 1288l0 1M102 1187l0 1M381 1055l-1 1M77 1023l2 2M292 1059l0 3M151 1061l3 1M336 1232l3 2M221 1043l0 1M341 1108l3 2M76 1010l2 2M330 1259l-1 2M97 1167l-2 2M207 1261l-1 1M334 1211l-1 1M362 1046l-1 0M368 963l0 1M369 1078l1 1M76 1030l1 0M269 937l-2 1"/><path stroke-opacity="0.3" stroke-width="10" d="M85 1027l-1 3M378 1064l-1 0M86 982l1 1M360 1051l-1 1M111 1173l2 0M139 1211l-1 1M329 1215l-2 2M133 1235l0 1M363 1072l1 1M130 1224l1 1"/><path stroke-opacity="0.4" stroke-width="8" d="M355 1027l1 3M292 1090l0 1M142 1159l2 1M311 1242l-2 1M173 957l-2 2M132 1124l0 3M300 945l4 1M325 1123l1 1M132 1029l0 1M386 1007l1 0M137 1049l-1 1M329 1005l1 3M168 1086l3 3M305 952l3 1M158 1242l-2 1M234 956l-1 2M85 1005l1 0M166 1073l-1 1M156 1054l1 3M152 1116l-1 1M143 1054l1 2M158 1258l0 2M315 1232l-1 2M407 987l-1 1M370 980l1 0M303 1068l0 1M115 1002l0 2M285 945l1 3M201 1261l1 1M298 957l-2 2M160 953l1 1M346 976l4 1M117 1028l1 0M319 1140l3 3M357 1057l-1 0M141 1061l0 1"/><path stroke-opacity="0.4" stroke-width="9" d="M181 1094l1 1M163 1251l3 2M151 1036l1 2M130 1217l-1 1M319 1079l2 1M157 1101l-1 1M134 1229l-1 0M314 968l0 1M176 1060l2 3M228 1281l0 3M201 1271l0 1M122 1102l1 2M333 1217l1 3M337 1070l-2 1M271 959l1 1M127 970l0 1M272 945l2 3M278 1246l-1 0M113 970l-4 2M329 1116l-1 3M276 1087l-3 1M220 958l-3 2M245 1268l0 1M324 1261l0 3M384 992l-3 2M216 996l-1 3M145 1227l-1 1M380 1000l0 1M188 1252l-1 3M236 945l1 2M328 1228l-2 2M134 1208l0 1M326 1066l0 1"/><path stroke-opacity="0.4" stroke-width="10" d="M337 1123l0 3M167 1239l3 2M195 1257l1 2M221 1276l1 0M338 1119l-1 1"/><path stroke-opacity="0.5" stroke-width="8" d="M163 1091l-1 1M321 1064l-4 0M133 990l-2 2M177 992l-2 2M377 1005l0 3M283 1094l0 1M136 1172l-1 0M334 1036l-1 1M299 1111l2 1M120 1185l0 1M310 1085l1 1M270 1265l2 2M175 1018l-1 2M136 1216l-1 2M247 989l0 4M269 1246l-1 1M189 1262l1 1M124 1008l1 0M247 967l2 3M212 964l-1 1M251 961l-2 0M240 965l-2 1M194 1045l1 0M305 1227l1 0M174 1253l2 1M112 1010l2 1M341 1176l-1 1M342 1048l2 2M290 1251l-1 1M301 1020l3 2M299 1062l0 1M316 1038l4 1M228 955l-2 2M141 1180l0 1M150 1234l-1 1M142 1045l1 0M308 1011l1 1M177 1071l1 1M305 1091l1 1M124 1224l-2 2M371 992l1 2M286 981l2 1M231 1080l1 1M293 1036l-1 2M156 1029l-1 1M246 1260l3 3M207 1240l1 0"/><path stroke-opacity="0.5" stroke-width="9" d="M337 1182l0 1M147 979l0 1M166 1228l-1 1M125 1028l0 1M128 1210l2 3M138 1131l1 4M381 1016l0 1M157 995l-3 2M286 1243l3 1M351 1052l-2 0M369 1001l1 3M183 1086l-4 0M344 1159l-1 1M337 1048l-2 0M236 1263l0 4M331 980l-2 3M340 1146l-1 1M330 1146l1 2M216 1272l3 2M352 997l-1 0M327 1222l0 2M312 1069l4 1M362 979l1 0M118 1193l1 1M306 1000l-1 0M284 1103l0 1M228 1250l-1 1M280 1081l3 0M315 976l1 1M162 1065l-1 1M322 965l0 3M148 1203l-3 0M292 964l0 1M212 1071l3 1M129 1177l0 4M229 1261l-1 1M248 1005l2 4M358 986l-3 2M158 1235l1 0M342 1165l0 1M132 1004l0 4M204 1276l0 1M351 1157l0 1M268 1052l0 1"/><path stroke-opacity="0.5" stroke-width="10" d="M335 1163l-1 2M337 1154l0 1M321 1190l-1 1M224 1269l0 2M375 1012l1 3"/><path stroke-opacity="0.6" stroke-width="7" d="M148 1214l1 1"/><path stroke-opacity="0.6" stroke-width="8" d="M287 1042l-1 0M192 984l-3 1M193 1085l1 2M142 1113l-1 2M151 1145l-1 0M262 960l-1 3M169 1041l-1 0M214 1091l-2 3M276 1073l-1 0M195 1013l-3 2M224 997l-3 0M271 966l-3 0M322 1175l1 1M155 1003l-2 2M337 1206l-1 1M299 1250l1 0M224 1071l-1 0M298 1104l2 0M162 990l-1 1M297 971l2 2M189 1067l-2 1M174 1028l1 1M267 1032l-1 1M269 984l-1 0M294 1048l0 1M165 1213l3 3M237 1255l-1 0M281 965l2 0M276 1099l-1 2M189 1074l1 4M279 1040l2 2M308 1024l1 3M238 1081l0 2M320 1148l-4 2M184 1010l-2 0M226 1010l-1 3M185 1237l2 1M162 982l0 2M286 1063l-1 2M328 1210l-2 1M141 1167l0 1M190 955l0 1M318 1132l-3 2M183 1002l-1 1M268 1073l2 2M165 996l1 2M126 1169l1 4M145 1005l2 2M259 969l2 1M168 1055l-1 0M188 1059l-2 1M315 1047l1 3M206 1003l0 1M129 1132l0 1M133 1160l1 1M268 1100l1 0M198 986l-2 2M354 1019l1 0M188 1018l-1 0M312 1115l-2 1M347 1041l3 1M323 1005l-2 3"/><path stroke-opacity="0.6" stroke-width="9" d="M266 1090l2 3M193 1232l-1 0M205 994l2 1M260 1252l0 1M196 1074l2 1M203 1042l0 1M336 983l1 3M161 1113l-1 4M213 1080l-1 1M325 1201l0 1M180 1077l1 1M344 1007l0 3M184 971l-1 1M137 979l-1 4M225 974l-2 3M298 1083l-1 0M140 970l4 1M332 1012l-1 3M174 1101l-1 2M198 1024l-2 2M171 977l0 1M163 1006l1 2M220 1089l1 0M291 1101l2 1M129 982l-2 2M343 990l-3 1M149 1016l0 2M192 1004l-3 0M331 1135l-1 0M222 1078l-1 0M299 1232l1 4M168 986l1 3M202 1061l2 2M271 974l4 1M263 999l1 0M193 1035l0 4M193 991l-1 2M208 1247l0 4M299 1095l0 1M134 1201l-2 0M295 1241l0 1M164 1047l-3 0M310 1034l0 1M328 1234l-1 0M343 1183l1 3M312 960l1 3M330 1177l1 2M328 1196l0 1M318 1012l2 1M273 1080l1 1M341 1223l-1 0M171 1093l1 2M343 1193l-2 2M263 1040l2 4M201 1050l0 1M350 1033l0 2M213 1099l1 2M315 1123l3 3M178 1109l-2 3M319 1228l0 1M316 1218l2 1M318 1029l-2 3M322 1206l-2 0M300 1029l0 4M321 1196l-1 3"/><path stroke-opacity="0.6" stroke-width="10" d="M321 1222l-1 1M194 1251l1 1M346 1152l-3 2"/><path stroke-opacity="0.7" stroke-width="8" d="M333 998l0 4M305 1078l2 3M313 1017l-2 1M228 1065l2 1M308 1051l1 0M195 980l4 0M232 1057l1 1M289 1231l2 3M135 1038l0 1M288 1004l1 0M343 1036l-1 0M251 1080l-3 1M174 1123l0 1M255 1039l-1 1M275 1163l0 3M233 1016l0 1M349 985l-1 0M275 1055l-1 1M339 1026l-4 0M218 988l0 1M227 1021l-1 1M214 972l-1 0M275 1032l0 4M196 1226l-1 0M139 1034l2 0M220 1062l-1 1M252 1254l-1 2M320 992l2 2M302 981l-1 0M179 1051l2 1M215 1131l1 3M160 1015l0 1M290 969l0 4M139 1192l-1 0M185 1247l-1 3M171 1007l-2 1M238 1021l1 0M317 1115l3 1M176 982l-1 1M176 1006l3 3M286 989l1 3M152 1226l-1 1M271 996l0 1M321 1018l2 4M169 1114l2 1M286 1048l-1 2M358 992l2 3M267 1016l1 1M226 985l1 0M217 1050l-2 3M203 1149l2 3M254 1056l0 1M340 1014l0 1M237 1090l0 2M151 1048l-1 1M235 1051l2 0M243 983l3 0M212 984l-1 0M186 1099l2 1M168 1028l-1 0M134 1136l-1 3"/><path stroke-opacity="0.7" stroke-width="9" d="M151 1185l-1 2M154 1165l0 1M255 1262l0 2M162 1127l-2 2M259 977l0 2M313 1204l-1 1M227 968l0 1M280 975l0 3M254 984l2 2M219 1032l-3 1M165 1019l3 1M208 1054l1 0M368 1017l1 1M327 987l-1 3M300 993l1 4M300 1054l1 1M343 1171l-1 1M187 1032l-2 1M191 1093l3 1M163 1032l-1 1M348 1018l0 1M296 1000l-1 1M171 1050l3 1M356 1003l-1 2M248 1244l-1 0M210 954l2 0M205 986l-2 1M316 984l-1 3M237 1044l-1 0M232 1243l-2 0M260 1052l3 0M186 1043l1 3M252 997l-1 3M267 1061l0 1M332 1173l-1 0M261 991l1 2M206 1096l-3 3M172 966l4 0M195 1112l0 1M276 990l2 3M249 978l4 2M271 1066l3 2M148 1136l1 1M236 997l1 1M175 1000l-2 1M328 1162l0 1M300 1005l2 1M143 1221l0 1M313 1194l-1 0M144 1195l0 3M290 996l-1 2M297 1016l-1 2M255 1247l-1 0M150 1158l1 2M329 1205l1 0"/><path stroke-opacity="0.8" stroke-width="8" d="M235 981l1 1M247 1108l0 1M300 1038l4 0M291 1108l-3 1M282 1057l1 1M323 1031l2 1M207 1104l0 3M239 1246l0 1M274 1046l-2 2M248 1088l-1 1M335 992l0 3M180 1171l-1 3M250 1097l1 0M262 1023l-3 1M314 1005l0 1M270 1107l-2 2M161 1199l1 4M238 1097l4 2M251 1048l-1 1M232 1087l-1 1M167 1102l-1 1M266 1008l0 1M189 1164l2 1M160 1210l0 1M169 1164l1 3M171 1209l0 1M260 1081l1 2M238 989l1 1M182 1115l1 1M312 1158l-1 0M273 1002l-2 3M253 1013l1 3M195 968l-3 3M263 1138l3 2M225 1033l1 0M288 1082l2 1M155 1203l-1 0M201 1242l-1 0M220 965l1 4M286 1216l-3 1M266 1257l0 1M205 1078l0 1M312 1043l-3 0M244 1026l-1 0M173 1036l4 1M147 1178l1 2M277 1226l-1 0M181 1039l1 1M297 1180l0 1M242 997l1 1M195 1100l1 1M177 1222l0 1M325 1182l-1 0M230 992l-1 1M318 1156l1 1M287 1125l0 2M201 1019l-1 0M165 1122l1 1M254 1075l2 1"/><path stroke-opacity="0.8" stroke-width="9" d="M230 1105l0 1M294 1121l-1 1M261 1072l3 1M209 1021l-1 1M221 1095l0 2M185 1223l0 2M328 1024l-1 1M289 1222l0 4M169 1137l-3 0M237 1033l4 1M304 1218l2 3M148 1128l-1 3M311 1126l-1 1M293 1213l0 1M279 1027l-2 1M220 1106l-1 0M281 1002l-2 2M335 1191l0 1M193 1125l-2 2M205 1088l-2 2M331 1185l-1 3M260 1031l-2 1M308 1185l1 3M260 1063l-1 0M299 1201l0 2M216 977l0 5M216 1015l3 2M266 1131l0 1M289 1022l2 3M316 1022l0 3M193 1154l3 1M272 1192l0 2M232 1029l1 1M257 1101l1 2M238 1222l1 1M217 1006l1 1M254 1068l1 1M160 1149l0 1M282 1232l-3 3M239 1143l-3 3M236 1073l-2 1M273 1140l-3 3M304 1195l-2 1M153 1151l0 2M219 1244l-4 1M211 1029l-1 1M267 1023l1 1M278 1109l0 1M243 1076l-3 1M211 1061l1 1M324 999l0 1M274 1021l2 1M183 989l0 1M181 1233l-2 0M309 1150l4 1M285 1016l1 1M261 1229l2 2M257 1045l0 1"/><path stroke-opacity="0.9" stroke-width="8" d="M183 1208l-1 1M193 1205l0 1M200 1032l3 2M180 1216l1 1M325 973l1 4M216 1157l-3 2M166 1182l0 1M157 1133l-1 0M175 1187l0 3M193 1215l2 3M273 1209l-1 1M213 1235l0 1M193 1055l3 0M172 1154l-4 0M151 1196l1 0M206 1165l0 1M188 1107l3 2M251 1118l0 1M309 1141l3 2M197 1120l-1 3M245 976l-1 2M273 1181l-3 2M201 1010l-1 1M279 1121l2 2M243 1068l0 1M278 1177l0 1M240 1005l3 2M301 1172l-1 2M199 1003l-2 2M256 1004l0 1M148 1170l-1 1M299 1132l1 1M240 1160l-3 1M285 1159l-1 0M169 1195l3 1M219 1141l3 1M246 1226l2 3M173 1143l-2 3M254 1125l1 3M270 1235l0 1M274 1116l-3 1M218 1228l-2 1M296 1009l-1 4M236 1237l0 2M315 1165l2 2M298 1045l2 1M292 1140l-3 1M207 1203l-1 4M214 1044l-1 2M273 1241l-1 1M277 982l-2 1M170 1129l-2 1M210 1195l-1 1M231 1216l3 1"/><path stroke-opacity="0.9" stroke-width="9" d="M238 1066l-1 0M209 1212l2 3M187 1134l1 0M238 1180l-1 1M313 1174l-3 0M195 1134l1 0M293 1029l1 1M227 1230l0 2M309 1133l1 1M262 1147l-2 0M202 1198l2 1M199 1212l3 0M233 1007l-1 1M256 1186l1 0M258 1140l-1 2M253 1024l1 4M208 1226l-1 0M259 1237l2 1M313 996l-2 1M229 1096l4 3M164 1170l-3 2M244 1014l1 1M296 987l2 1M298 1142l0 1M197 1174l3 1M256 1231l-3 2M339 1004l-1 2M304 1178l4 2M248 1043l-4 1M281 1196l-2 3M289 1202l4 1M229 998l2 4M309 975l-3 3M203 1111l1 1M260 1120l-1 2M283 1032l1 1M307 988l4 2M179 1201l-1 1M196 1148l-3 1M193 1241l-3 2"/><path stroke-opacity="1" stroke-width="8" d="M201 1191l-2 1M251 1181l-1 0M186 1187l-3 1M253 1149l0 1M204 1181l1 0M237 1114l-1 2M218 1150l-3 1M238 1198l-2 0M270 1124l-2 1M232 1157l0 1M213 1010l-1 2M213 1143l-1 3M179 1153l0 3M229 1123l-2 0M280 1171l-1 1M295 1149l1 2M262 1222l-1 0M277 1145l-1 1M270 1227l-2 0M285 1206l-2 3M243 1127l0 2M226 1131l0 2M249 1136l-2 3M273 1130l-1 3M209 1115l2 1M257 1176l0 1M276 1138l3 1M230 1139l-1 0M304 1148l1 0M252 1222l1 0M202 1141l-1 0M262 1095l1 1M268 1173l1 1M157 1179l0 3M183 1198l3 2M214 1172l1 0M265 1160l-1 4M242 1204l3 1M231 1112l-3 2M216 1200l-1 0M207 1123l4 0M230 1191l-2 1M265 1189l0 1M296 1222l1 2M208 1158l-1 0M221 1172l2 1M220 1113l2 1M187 1213l1 1M200 1162l-2 3M191 1142l0 2M291 1167l0 1M269 1200l-1 2M189 1181l1 4M250 1031l-1 1M281 1184l0 3M202 1221l0 2M242 1121l1 0M238 1231l-1 0M181 1161l0 1M159 1140l-1 4M237 1108l1 0M190 1120l-3 0M213 1181l-1 0M207 1174l1 1M214 1165l2 1M224 1197l-3 1M261 1169l-1 1M192 1197l1 2M195 1186l1 2M243 1142l2 2M217 1214l1 1M236 1121l-2 1M204 1133l-1 1M232 1165l-1 0M178 1180l0 1M230 1183l1 3M281 1130l0 2M174 1215l0 4M229 1210l0 1M268 976l-3 1"/><path stroke-opacity="1" stroke-width="9" d="M228 1150l2 1M244 1062l-1 0M266 1151l0 1M207 1187l1 0M183 1145l-1 0M255 1165l-1 0M297 1189l-2 0M262 1197l0 1M293 1155l-2 3M187 1175l2 1M216 1120l2 3M173 1174l-3 2M179 1136l-4 1M215 1208l-1 1M255 1203l0 1M223 1181l1 0M231 1223l0 3M243 1214l0 4M181 1023l4 1M263 1215l1 0M285 1191l1 0M277 1011l0 2M162 1188l-1 1M234 1170l-2 4M223 1165l-1 0M245 1157l1 0M224 1239l-1 4M253 1195l2 1M246 1234l1 2M223 1215l3 1M235 1209l3 1M287 1116l1 0M276 1217l-1 4M161 1157l-2 1M288 1178l1 0M239 1167l2 2M288 1133l1 0M245 1186l0 1M238 1136l-1 1M222 1189l-3 4M289 1147l-4 0M199 1233l3 0M263 1206l1 0M244 1053l3 1M210 1039l-3 2M309 1165l-1 1M182 1125l-2 2M221 1025l-3 0M300 1160l0 2M260 1113l1 1M222 1223l1 1M251 1158l4 1M214 1221l4 1M239 1150l4 1M246 1175l0 4M249 1209l0 1M272 1155l2 1M200 1125l3 3M209 1136l1 1M258 1209l-1 3M233 1203l-1 1M240 1192l4 2M283 1165l1 2M187 1150l0 2M225 1155l-1 3M218 1204l4 1M251 1238l3 2M281 1151l0 1M301 1208l0 4M253 1110l1 3M261 1153l-3 3M268 1220l-1 1M256 1132l2 4M248 1163l-2 3M235 1188l3 2M232 1130l3 2M262 1181l2 0M291 1195l0 1M154 1172l2 4"/></g><path stroke="#f0f" stroke-width="1.6" d="M423 947h2M288 1311h2M69 993h2M317 1296h2M328 1283h2M403 987h2M390 1033h2M69 966h2M70 1117h2M63 1076h2M349 1159h2M346 1180h2M239 1303h2M332 1256h2M353 1142h2M390 1026h2M123 1226h2M147 1246h2M63 1043h2M402 991h2M69 964h2M357 1126h2M386 1036h2M155 1255h2M65 1023h2M355 1128h2M66 1073h2M340 1220h2M88 1176h2M283 1312h2M63 1018h2M344 1194h2M65 997h2M397 1011h2M65 1073h2M377 1059h2M389 1041h2M61 1066h2M69 1111h2M168 1261h2M236 1303h2M286 1311h2M73 1133h2M56 940h2M404 998h2M113 1217h2M170 1267h2M325 1283h2M320 1292h2M337 1231h2M354 1148h2M394 1023h2M361 1112h2M347 1176h2M74 1142h2M275 1314h2M134 1238h2M419 953h2M68 999h2M380 1059h2M61 1035h2M420 951h2M101 1199h2M353 1148h2M288 1314h2M379 1055h2M397 1021h2M64 1032h2M105 1201h2M75 1146h2M65 1021h2M76 1151h2M425 945h2M397 1013h2M355 1147h2M366 1101h2M346 1174h2M306 1304h2M394 1019h2M72 1130h2M365 1094h2M336 1247h2M68 1014h2M231 1296h2M64 1002h2M230 1299h2M393 1024h2M213 1286h2M337 1228h2M70 986h2M258 1309h2M313 1295h2M368 1095h2M160 1257h2M368 1097h2M134 1234h2M164 1259h2M424 946h2M339 1222h2M356 1142h2M165 1258h2M333 1251h2M347 1169h2M365 1112h2M70 963h2M406 991h2M66 1082h2M332 1262h2M348 1167h2M427 941h2M69 976h2M63 1085h2M325 1280h2M328 1278h2M239 1301h2M64 951h2M391 1029h2M83 1164h2M393 1029h2M357 1141h2M182 1272h2M158 1256h2M416 959h2M335 1225h2M257 1311h2M60 948h2M407 974h2M300 1305h2M67 987h2M359 1132h2M388 1035h2M309 1304h2M353 1145h2M410 971h2M64 1060h2M337 1224h2M319 1288h2M351 1162h2M311 1301h2M345 1178h2M361 1125h2M337 1248h2M363 1107h2M344 1191h2M355 1143h2M238 1302h2M65 995h2M74 1132h2M63 1062h2M94 1191h2M315 1294h2M130 1234h2M169 1260h2M64 1065h2M347 1175h2M112 1211h2M243 1303h2M162 1262h2M138 1240h2M343 1186h2M64 1035h2M189 1272h2M358 1128h2M69 1124h2M311 1298h2M64 1059h2M67 1103h2M299 1308h2M409 967h2M139 1240h2M56 937h2M362 1101h2M423 947h2M64 1014h2M86 1167h2M382 1050h2M87 1179h2M404 979h2M180 1268h2M205 1284h2M390 1028h2M61 1025h2M80 1147h2M163 1260h2M234 1301h2M86 1171h2M71 1113h2M77 1148h2M345 1175h2M67 965h2M68 998h2M70 1117h2M374 1076h2M339 1226h2M345 1177h2M345 1183h2M62 943h2M64 1056h2M64 1079h2M253 1310h2M168 1187h2M173 1017h2M218 1146h2M164 1051h2M249 987h2M305 1218h2M302 943h2M317 1057h2M91 1112h2M125 1139h2M166 965h2M109 1062h2M324 1231h2M154 1216h2M358 1006h2M159 1257h2M87 1155h2M333 1214h2M96 1101h2M291 1251h2M375 1073h2M368 986h2M115 1190h2M332 1015h2M129 1190h2M262 1126h2M298 1259h2M383 1003h2M113 1014h2M332 1176h2M178 1222h2M264 1176h2M204 1014h2M178 1165h2M296 1281h2M224 1124h2M376 962h2M68 1097h2M300 1147h2M288 1028h2M293 974h2M143 1017h2M194 1105h2M256 1024h2M349 1100h2M226 1185h2M322 1210h2M146 1002h2M375 1002h2M252 1233h2M278 1034h2M217 1259h2M177 1008h2M217 986h2M263 1030h2M361 990h2M274 1126h2M321 1053h2M340 1044h2M326 1052h2M76 1012h2M230 1018h2M277 1147h2M74 939h2M77 1109h2M256 1046h2M173 1266h2M258 1188h2M187 1258h2M133 937h2M278 1263h2M126 949h2M197 1182h2M130 1153h2M262 1123h2M258 1156h2M334 1258h2M315 1148h2M113 1036h2M230 1214h2M349 951h2M74 949h2M370 1086h2M293 1004h2M175 1034h2M184 1065h2M351 1021h2M174 1147h2M202 1061h2M294 1066h2M347 958h2M192 978h2M73 997h2M198 953h2M292 1275h2M297 1255h2M210 1134h2M280 1106h2M241 1268h2M353 1078h2M73 1106h2M198 1167h2M103 1073h2M95 1161h2M296 1035h2M258 1254h2M327 972h2M188 1271h2M156 1134h2M371 962h2M308 1119h2M338 1005h2M106 992h2M96 1024h2M314 968h2M111 1139h2M130 1134h2M261 1005h2M300 1097h2M247 1230h2M382 938h2M125 963h2M205 1073h2M70 972h2M159 1100h2M75 1044h2M263 967h2M368 1040h2M173 1121h2M111 1185h2M144 1194h2M78 1115h2M325 1244h2M129 1231h2M84 1104h2M187 1026h2M315 1261h2M290 1263h2M124 1037h2M303 1177h2M282 1299h2M298 947h2M73 1035h2M304 1244h2M236 1250h2M230 1185h2M186 1165h2M258 1240h2M295 1020h2M150 1239h2M274 1187h2M191 1228h2M323 977h2M346 1156h2M267 1093h2M276 1258h2M356 996h2M316 1275h2M137 1218h2M105 1003h2M332 1016h2M335 1178h2M286 1183h2M158 1050h2M159 1115h2M114 1142h2M294 1072h2M76 989h2M189 975h2M353 974h2M238 1279h2M363 1089h2M405 977h2M390 1000h2M158 1216h2M296 1108h2M256 1056h2M395 976h2M130 1123h2M197 1039h2M120 979h2M316 1040h2M274 1175h2M266 1029h2M236 1092h2M78 971h2M205 1209h2M408 937h2M162 1242h2M238 980h2M96 965h2M384 1037h2M191 1020h2M132 1121h2M126 1023h2M228 1090h2M140 944h2M398 1014h2M327 1063h2M200 1145h2M381 1041h2M94 1135h2M309 1287h2M264 1248h2M93 1054h2M116 1171h2M159 960h2M279 1128h2M108 1117h2M282 1125h2M340 1199h2M161 1041h2M149 1125h2M317 1052h2M376 1035h2M96 1189h2M363 957h2M61 1053h2M269 951h2M202 1148h2M207 1267h2M124 1043h2M196 1178h2M178 1243h2M248 1237h2M278 1179h2M131 1197h2M289 1175h2M78 1126h2M273 1063h2M334 1105h2M278 1234h2M237 1138h2M145 953h2M285 1219h2M237 1124h2M240 1258h2M192 1164h2M111 1126h2M275 1246h2M228 972h2M388 938h2M252 1034h2M275 1243h2M263 1123h2M279 1143h2M300 1043h2M242 937h2M233 1077h2M321 1143h2M116 981h2M172 1089h2M327 1060h2M272 1075h2M415 956h2M111 1015h2M219 1208h2M313 1261h2M329 1131h2M337 1211h2M154 963h2M314 1115h2M272 952h2M78 964h2M235 1004h2M293 1125h2M259 1197h2M211 1209h2M196 1100h2M220 951h2M277 1297h2M203 1214h2M149 1219h2M307 1016h2M213 1213h2M185 985h2M291 1116h2M312 1149h2M349 963h2M337 968h2M281 1151h2M92 984h2M251 1055h2M293 1145h2M145 941h2M196 981h2M180 1127h2M345 1112h2M247 1207h2M67 1010h2M356 1053h2M386 1000h2M297 1278h2M168 1148h2M193 1039h2M261 1238h2M387 994h2M250 1204h2M210 1171h2M349 962h2"/><path stroke="#e0e" stroke-width="1.5" d="M218 1156v2M177 1155v2M350 1006v2M254 1119v2M137 1214v2M133 974v2M387 971v2M308 1221v2M280 961v2M96 1021v2M274 1033v2M195 1256v2M118 1006v2M222 967v2M291 1269v2M305 1289v2M199 1124v2M374 1002v2M362 1037v2M144 957v2M258 1007v2M107 1014v2M142 944v2M259 1201v2M148 1162v2M87 1016v2M289 966v2M249 1019v2M73 1104v2M330 1197v2M197 1186v2M230 958v2M386 955v2M320 949v2M144 1126v2M310 1051v2M202 1271v2M116 1051v2M188 1116v2M190 1210v2M270 1077v2M346 1113v2M244 1290v2M168 1054v2M181 1121v2M224 986v2M96 1074v2M354 954v2M212 1025v2M381 953v2M348 961v2M128 1084v2M295 946v2M154 1070v2M77 1115v2M271 1072v2M240 1060v2M307 1169v2M186 1218v2M184 1069v2M127 1125v2M88 969v2M129 1125v2M233 1257v2M209 1099v2M270 1155v2M313 968v2M365 950v2M128 1030v2M195 946v2M356 957v2M86 1147v2M237 1032v2M357 1128v2M261 1089v2M83 1069v2M145 1101v2M115 1162v2M201 1103v2M323 1285v2M103 1002v2M288 1122v2M208 1146v2M417 959v2M167 1230v2M297 979v2M352 1085v2M304 1237v2M328 1068v2M338 1012v2M196 1254v2M336 987v2M380 1029v2M274 1186v2M199 1195v2M143 1201v2M287 1291v2M320 1042v2M262 1159v2M162 1047v2M116 1145v2M214 957v2M72 1044v2M325 949v2M114 1096v2M269 1236v2M198 1082v2M189 1215v2M85 1062v2M123 1140v2M270 994v2M83 1068v2M315 1222v2M203 1237v2M267 1233v2M287 1053v2M112 954v2M291 1008v2M430 937v2M275 1243v2M189 1211v2M65 1025v2M250 1242v2M315 1188v2M147 1151v2M138 983v2M286 1002v2M87 1056v2M172 1105v2M320 1088v2M214 1167v2M93 1148v2M336 1256v2M184 1145v2M153 1227v2M182 1017v2M362 1042v2M153 1076v2M272 1148v2M322 983v2M296 1151v2M113 959v2M161 1163v2M217 985v2M355 946v2M303 1073v2M247 1064v2M380 1047v2M234 1254v2M355 1008v2M371 938v2M373 942v2M169 1201v2M224 1067v2M264 1311v2M72 1111v2M298 1308v2M204 1186v2M268 980v2M325 1133v2M86 1163v2M223 1086v2M231 1090v2M195 1042v2M223 1242v2M160 1098v2M288 1266v2M255 1120v2M210 1235v2M168 1066v2M303 1263v2M116 968v2M226 1267v2M369 1021v2M359 1027v2M153 1126v2M292 1296v2M192 1226v2M177 1009v2M289 1090v2M173 1018v2M297 1254v2M233 1058v2M245 1248v2M241 1222v2M308 1157v2M126 1149v2M257 1292v2M111 1101v2M149 1241v2M251 997v2M85 1099v2M170 1026v2M261 1127v2M299 1025v2M196 1153v2M158 985v2M127 1006v2M296 950v2M269 1245v2M64 1030v2M398 957v2M294 1088v2M187 1069v2M286 1140v2M171 1038v2M139 1187v2M203 1208v2M176 1056v2M106 1125v2M177 1250v2M157 1124v2M251 1209v2M197 1233v2M189 1070v2M343 1134v2M272 1312v2M282 1244v2M197 1141v2M163 1172v2M186 1223v2M260 1221v2M78 1132v2M142 1245v2M300 1024v2M277 982v2M371 1067v2M387 961v2M124 1006v2M209 1126v2M245 1010v2M272 992v2M339 1061v2M149 1066v2M100 958v2M284 1284v2M241 1178v2M63 940v2M309 1049v2M317 990v2M285 1297v2M151 1127v2M87 1085v2M287 1136v2M298 1129v2M365 1002v2M277 948v2M297 1082v2M247 1299v2M181 967v2M264 1212v2M394 1002v2M356 1087v2M363 1017v2M294 1124v2M314 1037v2M366 1005v2M303 1088v2M359 1058v2M270 1132v2M181 1135v2M285 937v2M184 1070v2M132 1006v2M235 1163v2M283 1202v2M273 1256v2M234 1092v2M293 1260v2M182 1069v2M373 1071v2M197 1156v2M303 1123v2M131 1055v2M293 1048v2M124 988v2M374 1054v2M299 1080v2M379 1004v2M299 967v2M107 950v2M277 1099v2M237 939v2M214 1134v2M211 1287v2M129 1119v2M108 1007v2M276 1091v2M318 1091v2M150 990v2M299 1117v2M255 963v2M201 1249v2M259 1193v2M108 1151v2M214 959v2M277 1243v2M382 985v2M277 1145v2M174 1262v2M336 946v2M224 1258v2M272 1001v2M271 1064v2M133 1111v2M274 1306v2M254 1247v2M217 1123v2M238 1278v2M375 939v2M158 1004v2M249 1197v2M205 1116v2M327 1001v2M250 1141v2M313 1271v2M267 1029v2M291 1028v2M80 1098v2M74 1020v2M343 1118v2M252 1058v2M232 944v2M284 1240v2M150 975v2M173 1132v2M135 1018v2M208 1172v2M99 1163v2M324 1274v2M251 1270v2M348 951v2M271 1177v2M71 1119v2M168 1175v2M269 1012v2M224 1289v2M82 1068v2M361 1101v2M351 1016v2M80 960v2M290 1278v2M73 1090v2M245 1115v2M129 1200v2M297 1099v2M315 963v2M178 1057v2M297 981v2M256 1144v2M157 1164v2M256 1128v2M92 980v2M208 1020v2M307 1248v2M250 1263v2M362 986v2M157 987v2M386 956v2M136 989v2M326 1078v2M182 1098v2M308 1177v2M114 938v2M231 1077v2M175 941v2M164 1141v2M272 1144v2M67 1091v2M147 1196v2M300 977v2M104 1098v2M306 1057v2M131 1056v2M87 1007v2M236 1050v2M134 1055v2M140 1144v2M261 989v2M334 948v2M170 995v2M131 968v2M366 1105v2M196 1089v2M227 1166v2M309 1156v2M259 1074v2M60 1062v2M80 965v2M242 1106v2M102 979v2M257 1150v2M325 1157v2M226 1060v2M369 1054v2M250 1131v2M374 983v2M240 1006v2M311 1000v2M218 999v2M300 1225v2M186 1162v2M122 1013v2M245 1199v2M98 975v2M390 993v2M240 965v2M128 1166v2M207 1118v2M136 1047v2M145 1020v2M206 1153v2M188 1263v2M222 1118v2M296 1151v2M266 1019v2M207 1272v2M176 952v2M149 937v2M142 1149v2M102 1027v2M268 1101v2M189 1054v2M88 1099v2M302 1256v2M101 949v2M241 1137v2M283 1224v2M370 967v2M192 1006v2M363 1039v2M365 1074v2M95 952v2M174 1160v2M241 1081v2M369 1073v2M165 1006v2M65 1007v2M282 1056v2M160 1136v2M397 965v2M159 1213v2M122 1051v2M157 941v2M292 1035v2M338 1041v2M91 1125v2M293 1139v2M184 1107v2M180 1074v2M360 936v2M234 1063v2M123 1061v2M164 1139v2M139 1086v2M294 1100v2M343 1198v2M103 1049v2M300 1255v2M206 1178v2M246 941v2M389 971v2M282 1298v2M278 1222v2M211 1238v2M136 1059v2M161 1250v2M294 1081v2M243 1201v2M132 1226v2M233 1227v2M279 1142v2M173 1211v2M227 1128v2M165 1036v2M301 1231v2M334 1069v2M206 1020v2M184 936v2M221 1296v2M287 965v2M318 1184v2M305 1237v2M78 1013v2M195 1161v2M105 993v2M235 966v2M103 942v2M86 979v2M100 949v2M147 1036v2M177 1169v2M302 1072v2M264 1210v2M253 1035v2M205 1138v2M276 1289v2M289 1089v2M122 962v2M303 1160v2"/><path stroke="#ee0" stroke-width="1.5" d="M285 1091h2M360 1044h2M235 1299h2M377 1010h2M326 1072h2M347 1178h2M157 1238h2M282 1293h2M238 961h2M325 1137h2M424 943h2M406 965h2M225 1276h2M97 1172h2M339 1160h2M303 1309h2M304 945h2M307 1283h2M288 994h2M334 1187h2M351 1141h2M184 942h2M251 942h2M361 1108h2M329 1202h2M121 1084h2M256 1300h2M189 952h2M390 954h2M270 1159h2M129 1211h2M273 1058h2M359 1132h2M215 1082h2M340 1214h2"/>
<path d="M54.6 985L402.6 1044.9" stroke="#fff" stroke-width="4.3" stroke-dasharray="35.3 35.3" stroke-dashoffset="18.4"/>
</g>
<path d="M367.5 1313.6H423.9" stroke="#fff" stroke-width="2.2"/>
<rect x="442.1" y="936" width="386.9" height="386.7" fill="#000"/>
<g clip-path="url(#rc_br)">
<g filter="url(#soft)"><g fill="none" stroke-linecap="round"><path stroke="#101010" stroke-width="5" d="M652 1231l0 2"/><path stroke="#101010" stroke-width="6" d="M682 1273l2 2M659 1230l1 1"/><path stroke="#202020" stroke-width="5" d="M710 1204l1 1M586 1075l1 2M622 1268l-1 1M725 1210l0 1M666 1199l0 3M650 1237l1 4"/><path stroke="#202020" stroke-width="6" d="M611 1234l-2 4M650 1222l-1 1M698 1161l1 1M679 1265l4 1M656 1209l-1 3"/><path stroke="#303030" stroke-width="4" d="M764 1195l1 0M623 976l3 4"/><path stroke="#303030" stroke-width="5" d="M683 1286l0 1M581 1207l-2 2M607 1187l-4 0M761 1169l-1 1M660 1196l0 2M677 976l2 2M696 1249l1 2M657 1222l4 0M662 1215l-3 2M621 1241l-1 1M666 1227l1 0M706 1184l0 4M650 1254l-3 2M673 1218l0 2M659 1237l-1 1M668 1193l2 1M661 1205l1 2M714 1225l-4 2M560 1235l0 1M645 1209l2 1M729 1286l-3 2M710 1265l-1 0M623 1249l2 3M575 1202l1 0M589 1197l1 2M645 1163l-1 2"/><path stroke="#303030" stroke-width="6" d="M653 1262l-1 2M606 1212l3 3M651 1277l2 0M597 1191l0 1M656 1251l2 4M670 1208l0 1M685 1191l-4 0M564 1213l-1 3M712 1237l1 2M607 1225l-4 2M567 1208l2 3M638 1166l0 3M684 1132l3 2M703 1148l-1 0M762 1269l-1 1M611 1198l3 3M790 1207l1 2M665 1257l-2 1M730 1239l-1 0M614 1228l2 1M575 1237l2 0M700 1240l0 2M686 1203l4 1M687 1140l1 0M602 1256l-1 4M683 1258l-1 1M753 1178l-2 1M665 1220l1 3M607 1194l0 2"/><path stroke="#404040" stroke-width="4" d="M582 1065l3 3"/><path stroke="#404040" stroke-width="5" d="M613 1258l-1 1M590 1205l1 1M692 1272l0 2M717 1249l1 2M579 1215l-2 4M665 1152l-1 0M720 1240l2 2M624 968l1 2M707 1242l2 1M568 1222l0 1M635 1246l3 1M710 1173l-3 2M693 1189l1 0M674 1260l0 3M675 1272l1 1M690 1156l-1 0M592 1215l-1 3M676 1171l2 0M629 1223l-1 3M675 1145l0 1M739 1280l1 0M719 1189l0 3M733 1191l-1 1M601 1198l-1 0M749 1277l0 1M657 1267l0 1M622 1215l0 1M693 1259l-1 0M669 1266l-1 1M765 1263l0 1M697 1202l0 1M666 1245l1 3M703 1109l3 2M676 1137l-2 2M675 1177l1 2M646 1244l-2 2M714 1198l-1 1M725 1172l3 0M636 1222l1 0M704 1274l-2 0M704 1165l3 2M569 1195l-3 1M729 1063l3 1M728 1180l2 1M673 1252l0 3M769 1272l0 1M707 1235l-1 0M705 1177l-2 3M730 1126l3 1M666 1274l-1 1M717 1257l-1 1M659 1245l0 1M717 1211l-1 1M640 1193l-1 1M681 1165l1 3M723 1216l1 2M652 1247l-1 1M698 1209l-3 1M614 1214l2 2M688 1185l-2 1M581 1229l1 4M645 1260l0 2M629 1183l-1 2M601 1264l1 3M604 1240l1 0"/><path stroke="#404040" stroke-width="6" d="M761 1255l0 1M588 1230l3 3M649 1181l-1 1M563 1228l-2 0M582 1223l2 0M633 1179l3 3M602 1181l0 1M652 1165l1 1M553 1225l-2 1M633 1197l3 2M709 1219l0 1M715 1181l1 1M654 1203l-2 1M742 1186l4 3M640 1215l1 1M785 1214l-2 2M653 1194l-2 3M645 1234l-2 1M635 1254l-4 3M654 1185l1 1M705 1197l3 0M604 1251l1 0M706 1253l3 1M671 1131l-1 1M642 1186l1 1M634 1265l-1 0M619 1191l-1 0M581 1198l1 1M629 1243l-1 1M639 1255l2 3M572 1230l-1 2M683 1158l-2 2M645 1226l-2 1M642 1266l0 4M663 1189l-1 2M665 1234l3 2M687 1250l-1 3M618 1223l4 1M627 1210l-1 1M612 1220l2 2M590 1242l-2 2M751 1259l2 1M679 1197l-4 2M698 1195l3 0M673 1226l2 1M688 1168l1 0M565 1239l1 3M598 1221l2 2M724 1250l2 1M753 1158l0 1M611 1179l-1 4M659 1167l-1 4M633 1189l2 0M670 1241l1 1M559 1221l2 1M575 1193l1 4"/><path stroke="#404040" stroke-width="7" d="M591 1277l3 0"/><path stroke="#505050" stroke-width="4" d="M778 1262l-2 1"/><path stroke="#505050" stroke-width="5" d="M591 1086l1 1M737 1183l-3 1M744 1290l0 1M748 1135l1 1M731 1227l-1 0M705 1206l-3 2M723 1201l0 1M777 1225l-1 0M694 1150l-3 0M612 1208l-2 0M690 1212l0 3M714 1167l2 1M659 1147l-1 0M592 1250l-2 2M682 1206l0 1M610 971l1 3M699 1261l2 2M600 1271l-1 2M671 1181l-3 2M587 1164l0 1M743 1224l1 0M564 1010l1 1M761 1183l-1 1M732 1216l0 3M710 1158l-1 0M725 1188l1 1M716 1148l-1 1M666 1172l-1 3M699 1171l-1 2M676 1245l-3 2M685 1147l0 1M663 1161l-1 2M635 1161l1 0M641 1204l1 0M626 1191l1 0M694 1242l-1 1M600 1242l-3 0M651 1126l1 1M608 1273l0 2M751 1186l1 0M596 1175l1 0M650 1158l1 1M632 1238l3 0M757 1276l-2 1M643 1176l-1 1M669 1140l-1 4M704 1212l2 3M715 1127l1 1M670 1155l0 1M596 1162l-1 4M737 1173l-2 0M603 1203l1 4M618 1204l0 1M678 1151l0 2M606 1173l-2 2M710 1150l-3 0M709 1115l1 1M618 1251l-1 0M712 1191l0 1"/><path stroke="#505050" stroke-width="6" d="M755 1200l-1 0M549 1245l1 1M567 1253l0 1M737 1081l1 1M720 1222l-3 1M687 1231l2 4M780 1195l-2 3M713 1308l3 0M514 1200l-1 1M673 1164l-1 1M722 1122l2 3M733 1206l4 0M586 1213l-3 2M623 1231l2 1M621 1180l0 1M687 1242l-4 2M696 1290l-1 0M593 1224l0 4M598 1211l1 1M596 1266l-2 0M679 1121l-3 2M744 1267l1 4M695 1221l4 1M655 1175l-1 4M786 1204l-2 1M697 1282l-1 1M581 1247l1 4M596 1233l4 2M662 1139l1 1M735 1292l-1 2M766 1254l4 0M722 1231l1 1M696 1142l-1 2M683 1216l-3 1M680 1232l-4 2M728 1266l0 1M638 1150l1 3M611 1247l1 1M630 1202l0 4M679 1185l-1 2M791 1213l2 2M693 1180l3 1M741 1194l-3 0M756 1250l-4 1M721 1140l0 1M620 1197l0 1M663 1180l-1 1M592 1186l1 2M658 1123l1 3M738 1166l3 2M755 1192l-2 1M689 1266l1 1M766 1209l2 0M677 1130l3 1M690 1195l-1 1"/><path stroke="#505050" stroke-width="7" d="M721 1307l0 3"/><path stroke="#606060" stroke-width="4" d="M660 961l0 1M469 1121l1 1M458 944l1 1M572 1028l0 2M509 1122l4 2M560 1032l1 1M635 964l2 4M451 1048l1 1"/><path stroke="#606060" stroke-width="5" d="M545 1214l1 1M699 1037l1 3M593 1064l1 5M751 1212l1 3M582 1187l-1 1M731 1164l2 1M719 1090l0 1M725 1279l1 1M645 1284l1 1M572 1188l1 1M576 1076l5 3M487 1166l1 2M563 1019l2 2M720 1100l0 1M586 1174l-1 2M551 1003l1 2M705 1133l2 2M576 1171l2 2M555 1216l-2 0M620 1165l0 1M641 1157l3 0M773 1203l-1 1M475 1004l3 1M732 1199l0 1M720 1047l1 3M722 1132l-2 3M718 1108l-4 1M626 1282l0 1M655 1141l1 1M576 1050l2 3M696 1233l1 1M669 1290l1 1M477 1015l3 4M740 1124l2 0M633 1043l2 3M725 1145l2 1M766 1246l-1 2M738 1145l-1 2M611 1172l2 1M740 1233l-2 2M601 974l1 1M737 1266l-1 4M704 1227l-1 0M659 1113l-2 1M758 1243l-3 3M721 1262l1 1M506 984l0 1M732 1248l1 0M595 1077l3 4M488 991l1 1M680 1104l3 0M524 941l1 1M679 1080l0 2M705 1065l0 1M587 1181l0 2M712 1086l3 2M555 1043l1 1M642 1278l-1 2M728 1258l-1 1M613 1164l1 3M615 964l1 1M641 1143l1 1M470 1011l1 2M449 1133l0 1M731 1272l0 2M629 1165l1 0M692 1227l1 1M708 1090l-1 0M795 1220l-2 0M553 1012l4 3"/><path stroke="#606060" stroke-width="6" d="M756 1287l1 2M692 1121l-2 1M652 1150l-3 0M665 1285l-1 1M547 1255l0 3M577 1272l-1 2M718 1079l-1 1M687 1223l0 1M627 1158l4 0M723 1108l3 1M716 1297l2 2M573 1268l1 1M757 1264l-3 2M737 1154l-3 1M575 1245l1 0M631 1171l0 1M603 1163l2 5M714 1285l0 1M550 1250l1 1M731 1037l0 1M561 1201l-4 0M600 1087l2 3M660 1292l0 2M634 1210l0 1M445 1125l0 2M562 1266l0 1M554 1241l1 1M684 1177l3 2M743 1176l-1 0M747 1303l2 2M598 1281l0 3M789 1219l0 1M711 1096l0 1M584 1237l-2 1M697 1132l-1 1M700 1299l-1 0M716 1115l0 2M571 1262l-1 1M722 1157l4 2M672 1116l-3 2M620 1172l-2 1M610 1267l-3 1M762 1287l0 1M713 1136l2 1M677 1285l-3 1M639 1288l0 1M736 1129l1 2M635 1231l1 0M633 1281l1 0M676 1109l0 1M619 1276l0 1M643 1295l0 2M704 1100l-1 2M690 1296l0 1M723 1165l0 2M777 1272l1 3M675 1292l1 0M549 1239l-1 0M658 1154l-3 1M582 1269l0 1M685 1125l-1 0M724 1094l4 1M713 1277l1 2M591 1270l-1 2"/><path stroke="#606060" stroke-width="7" d="M587 1262l0 1M729 1297l0 1M714 1302l0 1"/><path stroke="#707070" stroke-width="4" d="M610 939l3 3M604 1068l2 1M625 1040l1 1M533 937l1 3M621 1050l2 2M688 1016l1 4M473 983l1 1M590 1036l2 4M660 1099l0 2M652 947l3 4M582 1085l1 1"/><path stroke="#707070" stroke-width="5" d="M633 980l1 2M629 939l1 4M705 1050l1 1M603 994l1 1M657 978l1 0M610 1080l1 1M511 1155l1 3M645 1088l0 2M647 1079l1 2M553 1101l3 2M651 984l3 2M761 1214l1 2M532 979l3 3M501 1203l3 0M545 1127l0 4M739 1258l1 3M490 1022l1 1M590 1053l4 5M617 952l3 2M696 1103l1 2M649 1097l-1 0M676 1027l1 1M790 1228l1 1M531 1083l1 2M588 940l0 1M747 1167l0 3M749 1197l-4 1M709 1140l-1 3M545 1016l3 2M623 1131l0 1M518 1081l1 3M685 1115l0 3M656 1063l1 1M641 976l2 2M663 1008l1 1M462 1017l1 1M458 1131l2 2M525 952l0 1M770 1236l-3 0M769 1286l-1 1M709 1272l1 2M749 1242l0 1M742 1205l2 3M508 970l1 1M520 1163l1 1M538 1212l0 1M757 1302l1 1M511 1132l3 2M537 946l3 3M602 961l3 3M771 1160l-1 2M566 1114l2 1M525 972l4 3M641 1024l1 3M504 944l4 1M621 1080l4 0M777 1282l-1 1M582 1263l-1 2M725 1084l2 1M727 1041l-2 0M629 1289l1 1M568 1269l0 2M771 1174l3 0M559 1247l-2 1M707 1291l1 1M478 993l2 4M498 1172l1 2M577 1164l-1 1M563 1259l0 1M660 1300l0 1M638 996l1 1M485 1116l3 4M710 1073l-1 2M670 1302l0 1"/><path stroke="#707070" stroke-width="6" d="M523 1138l1 2M562 1251l-2 1M659 1072l1 1M744 1097l-2 2M704 1295l0 1M580 1257l2 2M580 1145l-1 1M652 1298l0 1M761 1237l-1 3M569 1175l-1 0M720 1175l0 2M586 1275l-1 0M733 1117l1 1M699 1109l-2 4M704 1121l-2 1M732 1092l1 0M636 1292l-3 2M606 1282l1 1M778 1156l-3 1M743 1245l-3 4M728 1134l0 1M615 1285l0 1M650 1288l1 0M667 1297l-1 3M760 1148l0 3M741 1159l0 2M758 1225l-4 2M630 1275l2 0M733 1047l0 1M706 1301l3 1M776 1185l-3 1M789 1195l-1 2M738 1110l1 2M778 1207l0 3M555 1258l-1 1M550 1203l4 1M619 1140l-1 4M770 1131l3 2M737 1300l1 1M790 1264l1 1M614 1276l-2 3M771 1166l0 2M693 1010l1 1M620 1287l3 1M545 1223l1 1M770 1180l-1 0M683 1294l-2 0M660 1283l-1 1M699 1088l1 0M758 1206l0 1M702 1308l-2 2M734 1281l-3 3M559 1207l1 2M733 1105l-3 3M623 1291l1 3M729 1303l-2 1M715 1155l2 3M784 1269l-1 3M759 1137l1 1M653 1133l3 3M779 1216l-1 0M766 1293l0 3M759 1293l-3 0"/><path stroke="#707070" stroke-width="7" d="M542 1252l3 1"/><path stroke="#808080" stroke-width="4" d="M684 1041l1 1M517 1148l2 4M507 1089l1 1M717 1064l0 2M495 1117l1 1M510 954l1 1M529 990l1 1M670 1046l0 1M609 1009l1 4M570 1123l2 1M565 1137l1 1M539 970l1 1M572 992l3 3M529 962l1 1M615 987l1 4M691 1047l1 2M454 1065l0 1M631 991l0 2M606 983l1 1M628 1027l2 1M666 1079l2 2M497 1126l2 3M593 994l2 1M572 1019l1 1M472 971l2 4M465 1003l1 1"/><path stroke="#808080" stroke-width="5" d="M664 1091l3 1M627 1105l1 2M549 947l1 1M688 1108l-3 1M704 1079l-1 1M627 1150l-1 1M460 978l2 2M543 1240l-1 2M503 1138l0 1M548 1034l2 5M493 951l1 1M719 1274l1 1M543 978l2 3M521 999l2 2M786 1252l-1 2M671 1072l4 3M529 1125l1 1M590 1011l1 5M531 1037l2 3M504 1031l2 4M793 1247l-1 1M776 1145l-1 0M536 1131l1 4M497 989l4 4M455 989l2 2M619 995l4 3M615 1121l0 2M652 1039l1 1M515 938l1 1M482 981l4 4M620 1071l2 1M690 1101l-1 2M465 965l2 1M657 1021l1 4M674 1012l1 1M504 999l1 3M616 1106l1 1M519 1062l1 1M559 990l1 1M667 1108l-1 0M748 1078l-1 2M636 1097l1 2M494 1097l2 1M642 1127l-3 2M663 1030l1 4M647 1047l2 3M573 1061l3 2M587 1003l3 2M693 1072l1 3M730 1310l0 1M463 1064l2 3M643 988l3 5M565 1064l2 4M454 966l4 4M658 1081l1 2M445 1008l1 5M741 1057l0 2M608 953l1 1M508 1023l1 1M580 1010l1 1M650 1013l4 3M596 985l1 2M748 1235l-1 1M553 1054l1 2M477 1141l1 4M736 1308l2 0M752 1297l0 1M499 1011l3 3M476 1133l1 2M784 1279l1 1M441 1038l2 4M512 1096l1 3M793 1238l-1 0M538 1028l4 1M649 1025l2 5M598 941l1 1M729 1031l-1 0M738 1051l0 3M504 1196l1 1M789 1242l-1 1M553 1021l4 3M636 1144l-3 2M695 1062l1 2M759 1143l2 1M486 1154l3 4M740 1216l1 1M604 1128l-3 2M565 1000l2 3M601 1150l1 0M726 1074l-1 0M764 1156l-2 1M487 1182l2 2M674 1038l1 1M547 1174l-2 1M622 1156l-1 1M574 1037l1 3M610 1044l2 3M544 1202l0 1M781 1288l-1 2M581 995l3 5M486 1080l0 1M727 1018l-1 2M499 1021l3 2M552 983l1 1M749 1308l2 1M453 997l1 3M569 1089l2 5M743 1307l0 1M603 1276l-2 0M529 1180l0 3M764 1230l-1 2M694 1081l0 2M742 1116l0 1M791 1281l2 1M532 1163l0 1"/><path stroke="#808080" stroke-width="6" d="M612 1156l0 4M563 1182l0 1M667 1122l-2 4M489 1001l3 2M499 977l0 3M746 1257l-1 0M647 1136l-3 4M682 1302l1 0M542 1232l-1 3M498 1212l-2 0M719 1292l1 0M784 1227l2 0M785 1262l-1 1M473 1164l-1 1M499 1194l-1 1M574 1253l-3 1M532 1200l-3 3M537 1237l-1 1M738 1042l-1 1M606 1157l0 1M785 1286l0 1M775 1138l0 2M773 1297l0 3M464 952l0 3M781 1295l1 0M776 1162l0 3M520 1176l-1 0M766 1143l2 0M792 1269l2 0M790 1257l-2 2M775 1190l2 2M783 1247l-1 0M784 1190l-1 2M707 1284l1 0M540 1245l1 2M733 1017l1 3M689 1303l-2 2M774 1195l-2 2M456 1144l-3 1M709 1310l1 1M687 987l-1 1"/><path stroke="#808080" stroke-width="7" d="M722 1301l1 2M798 1230l-1 1"/><path stroke="#909090" stroke-width="4" d="M644 1109l1 1M690 1089l0 3M503 1063l0 2M629 1057l1 1M558 1115l1 1M504 1073l1 2M610 1144l-1 1M544 1098l1 2M630 1016l1 1M447 1031l3 3M599 953l1 2M527 1103l0 1M505 1112l2 4M630 956l3 2M538 1090l2 2M664 971l3 4M536 1009l1 1M682 1073l1 1M618 1016l1 1M658 1051l2 3M642 1014l1 1M567 1055l1 1M667 1066l1 1M467 1040l4 2M680 997l1 1M515 963l4 2M456 1122l3 2M661 1041l2 2M615 1087l1 1M561 1104l2 3"/><path stroke="#909090" stroke-width="5" d="M550 1166l2 0M764 1299l-1 1M558 1090l3 2M480 1028l1 1M598 1032l1 1M680 1057l0 1M455 1005l4 4M476 1115l2 2M479 1084l2 5M587 1134l-3 0M565 1040l2 3M635 1115l-1 0M615 1149l-2 3M550 1091l1 1M780 1168l-1 2M543 961l2 2M626 1122l-1 1M773 1292l-1 1M594 1025l1 1M565 948l2 1M580 1023l1 1M522 1090l2 3M792 1276l-1 1M449 1056l1 2M533 1171l-1 3M559 1188l0 2M534 1049l1 1M460 1027l0 1M483 1036l2 3M495 1036l1 3M472 958l2 1M617 1060l1 4M498 1104l2 4M583 1032l1 2M537 997l1 1M540 987l1 1M673 1099l0 1M524 1204l1 1M614 1132l-2 0M566 1165l1 0M493 1181l1 2M662 1131l3 1M488 1141l4 2M606 1114l2 2M749 1150l1 3M535 1019l1 1M706 1024l1 4M628 1138l-2 1M577 936l1 5M598 1141l1 1M518 1115l1 1M562 1072l3 3M498 958l0 5M704 992l-1 1M576 953l1 1M666 1057l1 1M661 998l1 1M459 1057l1 1M441 948l2 3M549 1116l1 1M590 965l1 1M444 968l1 4M528 1191l-1 1M478 966l1 1M508 1009l4 2M544 1048l0 4M707 1034l1 1M620 1006l4 3M452 980l0 1M484 1108l1 1M492 1192l-3 1M529 1112l1 1M473 1097l4 2M443 978l1 1M589 1143l2 1M698 1018l1 2M621 1114l-1 1M643 1067l0 5M494 1074l2 2M480 1169l-3 1M532 1141l2 1M716 1003l2 1M797 1263l-2 2M516 947l3 2M677 986l1 3M490 1013l1 1M675 958l-1 2M516 1048l1 2M774 1243l-2 0M739 1138l-1 0M619 935l3 4M519 1122l2 4M569 1146l2 0M627 1001l2 0M456 1102l2 4"/><path stroke="#909090" stroke-width="6" d="M606 1021l0 1M449 1141l1 1M445 993l1 1M729 1012l0 2M707 1126l3 1M517 972l0 4M768 1151l-1 1M548 1194l1 3M676 1300l1 3M735 1026l-1 1M750 1054l-2 0M525 1237l0 2M475 1157l-2 0M699 981l0 1M694 1304l1 1M670 946l1 1M711 996l-2 0M555 1181l-3 0M743 1047l0 1M760 1123l-1 0M756 1113l1 3M707 984l0 3M479 1164l1 0M730 1053l0 1M799 1243l0 1M692 991l-1 3M471 1028l1 2M704 1011l3 1M493 1206l1 3M764 1120l-1 1M784 1178l0 3M529 1242l0 1M529 1235l3 2M713 991l1 2M788 1187l-1 1M467 1144l1 3M727 1100l2 2M782 1184l0 1M576 1181l-2 1M442 1142l1 1"/><path stroke="#a0a0a0" stroke-width="4" d="M523 1051l3 2M547 1145l2 2M493 1085l3 4M539 1158l3 2M577 1154l0 1M636 1032l2 3M487 969l3 2M680 1093l0 3M467 993l3 3M504 1162l1 2M696 1053l3 3M444 1076l1 1M608 1093l1 1M645 967l2 2M590 1154l3 1M546 992l3 1M584 1044l1 1M634 1076l1 1M672 1002l1 1M651 1105l3 1M512 993l1 4M465 1102l1 1M511 1142l2 2M467 937l0 1M554 965l2 2M611 1000l1 2"/><path stroke="#a0a0a0" stroke-width="5" d="M535 1073l3 1M650 940l2 0M520 1072l2 2M577 1092l3 4M558 1126l0 3M617 1095l3 2M604 1105l1 1M473 1105l3 5M599 1041l2 2M522 1028l1 1M473 1065l2 1M749 1066l-2 2M470 945l3 4M689 1028l2 3M605 1053l3 2M444 959l3 4M570 1102l1 1M486 1069l2 3M567 977l1 1M585 1107l3 1M589 1126l1 1M517 1185l0 1M665 984l1 1M648 1118l1 2M495 1049l2 2M447 1115l3 2M513 1035l2 1M591 975l1 4M453 955l1 1M558 1157l-1 1M485 1094l2 2M466 1133l2 3M565 1083l1 1M587 1096l3 2M687 971l1 1M554 974l4 3M456 1039l2 3M579 1114l2 3M641 1058l1 2M635 1136l0 1M530 1210l-1 0M536 1191l-1 1M448 1106l1 1M654 1003l0 3M579 976l2 4M594 1116l3 2M517 984l3 1M696 1094l1 3M767 1136l-1 1M556 1081l2 2M587 955l1 1M536 1059l1 1M470 1077l2 1M765 1222l-1 0M507 1172l4 3M524 1012l4 2M503 1180l1 3M689 964l1 1M535 1227l1 0M521 1040l1 1M646 955l1 5M573 1136l3 2M487 960l1 1M527 1065l1 1M753 1126l1 0M554 937l2 3M479 1044l-1 3M452 936l1 0M544 1059l3 2M550 1135l1 2M537 1149l1 1M749 1060l0 3"/><path stroke="#a0a0a0" stroke-width="6" d="M548 1185l-1 2M796 1255l-2 0M587 984l2 2M722 1032l-1 1M725 1023l1 2M755 1075l0 1M532 1246l1 0M740 1071l1 1M674 938l-3 1M697 972l-1 0M712 1004l-1 2M464 1150l1 0M781 1240l-2 1M489 1199l0 1M667 964l2 1M638 1005l1 1M488 1176l1 3M523 1230l2 1M719 1026l1 0M694 986l1 2M462 1140l-1 2M468 1168l0 1M693 979l-1 0M720 1019l0 1M472 1175l0 1M477 1182l-1 0M754 1082l1 1M449 1148l0 1M715 998l1 0M758 1129l1 2M776 1151l0 1M761 1091l-3 0M714 1023l0 1M494 1201l1 1M479 1176l2 1M495 1188l3 1M673 968l1 2M749 1113l0 1M746 1042l-3 1M753 1100l-3 0M672 952l-1 2M750 1072l-2 1M754 1068l0 2"/><path stroke="#a0a0a0" stroke-width="7" d="M781 1234l1 1"/><path stroke="#b0b0b0" stroke-width="4" d="M538 1113l1 3M506 1043l1 1M686 1003l2 2M459 1078l1 1M510 1057l1 1M488 1127l1 1M537 1180l2 1M557 953l1 2M518 1104l1 2"/><path stroke="#b0b0b0" stroke-width="5" d="M461 1092l2 3M710 1016l-1 2M568 956l2 4M581 964l1 1M614 1032l1 1M495 938l3 3M516 1220l3 1M463 1110l0 1M566 1154l1 2M550 1068l1 1M628 1086l2 1M442 936l1 1M528 1152l2 2M680 954l0 2M542 934l3 4M707 1001l0 1M599 1003l3 5M666 1018l4 5M558 1144l1 1M750 1118l1 2M468 1084l0 5M703 978l3 2M580 1124l1 4M573 968l1 1M477 938l1 2M442 1062l3 4"/><path stroke="#b0b0b0" stroke-width="6" d="M518 1019l1 1M740 1036l-1 1M679 964l1 4M683 960l1 1M768 1126l3 1M724 1009l0 2M677 946l-1 2M763 1103l-1 1M466 1161l-1 0M778 1177l1 0M504 1211l0 1M663 945l-1 0M482 1187l1 0M451 1157l2 0M787 1237l-3 2M444 1149l-1 1M667 958l0 1M511 1211l-2 0M472 1150l-2 1M766 1107l1 0M441 1097l2 1M457 1160l1 3M736 1033l-1 0M469 1156l0 1"/><path stroke="#b0b0b0" stroke-width="7" d="M737 1072l-3 1"/><path stroke="#c0c0c0" stroke-width="4" d="M483 1054l1 1M547 1080l0 2M488 1044l1 2"/><path stroke="#c0c0c0" stroke-width="5" d="M491 1062l1 1M512 1217l-2 0M634 1065l2 2M752 1090l0 1M469 1050l1 1M445 1020l1 3M486 940l1 1M480 949l3 3M641 947l4 3M498 1149l3 3M701 999l0 2M559 1171l1 1M563 938l2 2M463 1155l0 1M447 1085l1 2M638 936l4 2M506 1221l-1 1"/><path stroke="#c0c0c0" stroke-width="6" d="M527 1217l-1 2M485 1193l1 2M530 1229l0 1M698 994l1 1M535 1206l0 2M457 1150l-1 1M753 1106l-1 2M518 1226l2 2M716 1012l0 2M445 1153l2 3M663 938l1 1M757 1085l2 3M686 981l-1 0M747 1085l1 1M679 936l2 1M763 1115l-1 0M746 1091l-1 0M760 1107l-1 2"/><path stroke="#d0d0d0" stroke-width="4" d="M564 969l1 1"/><path stroke="#d0d0d0" stroke-width="5" d="M531 1223l-2 1M510 1224l1 0M666 950l-2 1"/><path stroke="#d0d0d0" stroke-width="6" d="M758 1095l-1 3M519 1211l0 1M515 1232l2 0M743 1064l-1 1"/><path stroke="#f0f0f0" stroke-width="5" d="M452 1095l2 1"/></g></g><g filter="url(#mag)" fill="none" stroke="#fff" stroke-linecap="round"><path stroke-opacity="0.3" stroke-width="8" d="M665 1152l-1 0M761 1169l-1 1M777 1225l-1 0M739 1258l1 3M792 1276l-1 1M659 1147l-1 0M765 1263l0 1M722 1132l-2 3M524 1204l1 1M676 1137l-2 2M530 1210l-1 0M725 1145l2 1M559 1171l1 1M771 1160l-1 2M758 1243l-3 3M715 1127l1 1M764 1156l-2 1M622 1156l-1 1M797 1263l-2 2M771 1174l3 0M613 1164l1 3M739 1138l-1 0M645 1163l-1 2M764 1230l-1 2M577 1164l-1 1"/><path stroke-opacity="0.3" stroke-width="9" d="M652 1150l-3 0M761 1237l-1 3M530 1229l0 1M713 1308l3 0M514 1200l-1 1M757 1264l-3 2M737 1154l-3 1M714 1285l0 1M778 1156l-3 1M743 1245l-3 4M728 1134l0 1M684 1132l3 2M747 1303l2 2M776 1185l-3 1M523 1230l2 1M555 1181l-3 0M697 1132l-1 1M785 1262l-1 1M778 1207l0 3M766 1254l4 0M790 1207l1 2M696 1142l-1 2M790 1264l1 1M762 1287l0 1M773 1297l0 3M713 1136l2 1M638 1150l1 3M776 1162l0 3M518 1226l2 2M702 1308l-2 2M734 1281l-3 3M792 1269l2 0M784 1178l0 3M775 1190l2 2M729 1303l-2 1M721 1140l0 1M529 1242l0 1M529 1235l3 2M689 1303l-2 2M782 1184l0 1M709 1310l1 1M766 1209l2 0"/><path stroke-opacity="0.3" stroke-width="10" d="M721 1307l0 3M722 1301l1 2"/><path stroke-opacity="0.4" stroke-width="8" d="M543 1240l-1 2M731 1227l-1 0M592 1215l-1 3M694 1150l-3 0M576 1171l2 2M675 1145l0 1M749 1197l-4 1M716 1148l-1 1M738 1145l-1 2M740 1233l-2 2M569 1195l-3 1M737 1266l-1 4M650 1158l1 1M757 1276l-2 1M777 1282l-1 1M629 1165l1 0M670 1302l0 1"/><path stroke-opacity="0.4" stroke-width="9" d="M612 1156l0 4M704 1295l0 1M519 1211l0 1M527 1217l-1 2M548 1194l1 3M696 1290l-1 0M561 1201l-4 0M676 1300l1 3M535 1206l0 2M667 1297l-1 3M682 1302l1 0M706 1301l3 1M719 1292l1 0M762 1269l-1 1M532 1200l-3 3M751 1259l2 1M565 1239l1 3M753 1158l0 1M690 1296l0 1M540 1245l1 2M592 1186l1 2M766 1293l0 3M575 1193l1 4"/><path stroke-opacity="0.4" stroke-width="10" d="M591 1277l3 0"/><path stroke-opacity="0.5" stroke-width="7" d="M764 1195l1 0"/><path stroke-opacity="0.5" stroke-width="8" d="M545 1214l1 1M683 1286l0 1M579 1215l-2 4M582 1187l-1 1M720 1240l2 2M690 1156l-1 0M761 1214l1 2M749 1277l0 1M773 1203l-1 1M749 1150l1 3M742 1205l2 3M663 1161l-1 2M538 1212l0 1M694 1242l-1 1M769 1272l0 1M721 1262l1 1M729 1286l-3 2M670 1155l0 1M710 1150l-3 0M791 1281l2 1"/><path stroke-opacity="0.5" stroke-width="9" d="M549 1245l1 1M562 1251l-2 1M553 1225l-2 1M673 1164l-1 1M742 1186l4 3M550 1250l1 1M684 1177l3 2M694 1304l1 1M697 1282l-1 1M584 1237l-2 1M581 1198l1 1M730 1239l-1 0M728 1266l0 1M758 1206l0 1M724 1250l2 1M623 1291l1 3M675 1292l1 0M755 1192l-2 1M607 1194l0 2"/><path stroke-opacity="0.5" stroke-width="10" d="M714 1302l0 1"/><path stroke-opacity="0.6" stroke-width="8" d="M590 1205l1 1M719 1274l1 1M737 1183l-3 1M725 1279l1 1M572 1188l1 1M710 1173l-3 2M674 1260l0 3M555 1216l-2 0M739 1280l1 0M601 1198l-1 0M732 1216l0 3M710 1158l-1 0M709 1272l1 2M725 1172l3 0M685 1147l0 1M714 1225l-4 2M725 1210l0 1M728 1180l2 1M608 1273l0 2M751 1186l1 0M560 1235l0 1M707 1235l-1 0M717 1257l-1 1M740 1216l1 1M710 1265l-1 0M681 1165l1 3M728 1258l-1 1M535 1227l1 0M568 1269l0 2M606 1173l-2 2M589 1197l1 2M712 1191l0 1M563 1259l0 1M581 1229l1 4"/><path stroke-opacity="0.6" stroke-width="9" d="M606 1212l3 3M756 1287l1 2M567 1253l0 1M582 1223l2 0M633 1179l3 3M602 1181l0 1M577 1272l-1 2M709 1219l0 1M621 1180l0 1M593 1224l0 4M598 1211l1 1M562 1266l0 1M712 1237l1 2M596 1266l-2 0M706 1253l3 1M567 1208l2 3M703 1148l-1 0M542 1232l-1 3M735 1292l-1 2M555 1258l-1 1M722 1231l1 1M688 1168l1 0M693 1180l3 1M643 1295l0 2M741 1194l-3 0M659 1167l-1 4M753 1178l-2 1M582 1269l0 1M738 1166l3 2"/><path stroke-opacity="0.7" stroke-width="8" d="M581 1207l-2 2M607 1187l-4 0M568 1222l0 1M676 1171l2 0M612 1208l-2 0M629 1223l-1 3M733 1191l-1 1M682 1206l0 1M747 1167l0 3M699 1261l2 2M693 1259l-1 0M743 1224l1 0M666 1245l1 3M761 1183l-1 1M668 1193l2 1M669 1290l1 1M699 1171l-1 2M676 1245l-3 2M704 1274l-2 0M704 1165l3 2M643 1176l-1 1M717 1211l-1 1M629 1289l1 1M642 1278l-1 2M723 1216l1 2M603 1276l-2 0M652 1247l-1 1M688 1185l-2 1M601 1264l1 3"/><path stroke-opacity="0.7" stroke-width="9" d="M755 1200l-1 0M563 1228l-2 0M580 1257l2 2M652 1165l1 1M720 1175l0 2M611 1234l-2 4M586 1275l-1 0M586 1213l-3 2M654 1203l-2 1M640 1215l1 1M687 1242l-4 2M645 1234l-2 1M615 1285l0 1M650 1288l1 0M604 1251l1 0M607 1225l-4 2M741 1159l0 2M630 1275l2 0M650 1222l-1 1M743 1176l-1 0M619 1191l-1 0M629 1243l-1 1M596 1233l4 2M639 1255l2 3M611 1198l3 3M698 1161l1 1M571 1262l-1 1M687 1250l-1 3M575 1237l2 0M698 1195l3 0M700 1240l0 2M677 1285l-3 1M611 1247l1 1M611 1179l-1 4M723 1165l0 2M707 1284l1 0M713 1277l1 2"/><path stroke-opacity="0.7" stroke-width="10" d="M587 1262l0 1"/><path stroke-opacity="0.8" stroke-width="8" d="M692 1272l0 2M731 1164l2 1M645 1284l1 1M693 1189l1 0M675 1272l1 1M690 1212l0 3M719 1189l0 3M706 1184l0 4M657 1267l0 1M669 1266l-1 1M626 1282l0 1M600 1271l-1 2M697 1202l0 1M671 1181l-3 2M696 1233l1 1M725 1188l1 1M714 1198l-1 1M666 1172l-1 3M661 1205l1 2M626 1191l1 0M600 1242l-3 0M582 1263l-1 2M737 1173l-2 0M640 1193l-1 1M603 1203l1 4M618 1204l0 1M618 1251l-1 0M698 1209l-3 1M614 1214l2 2M731 1272l0 2M604 1240l1 0"/><path stroke-opacity="0.8" stroke-width="9" d="M651 1277l2 0M720 1222l-3 1M665 1285l-1 1M687 1231l2 4M652 1298l0 1M633 1197l3 2M573 1268l1 1M715 1181l1 1M685 1191l-4 0M575 1245l1 0M660 1292l0 2M653 1194l-2 3M635 1254l-4 3M634 1210l0 1M598 1281l0 3M572 1230l-1 2M679 1265l4 1M665 1257l-2 1M610 1267l-3 1M614 1276l-2 3M612 1220l2 2M590 1242l-2 2M656 1209l-1 3M660 1283l-1 1M679 1185l-1 2M635 1231l1 0M633 1281l1 0M619 1276l0 1M683 1258l-1 1M670 1241l1 1M659 1230l1 1M689 1266l1 1M591 1270l-1 2"/><path stroke-opacity="0.9" stroke-width="8" d="M710 1204l1 1M705 1206l-3 2M723 1201l0 1M657 1222l4 0M662 1215l-3 2M621 1241l-1 1M659 1237l-1 1M675 1177l1 2M646 1244l-2 2M622 1268l-1 1M636 1222l1 0M704 1227l-1 0M652 1231l0 2M632 1238l3 0M645 1209l2 1M666 1274l-1 1M704 1212l2 3M623 1249l2 3M666 1199l0 3M650 1237l1 4M645 1260l0 2M692 1227l1 1M629 1183l-1 2"/><path stroke-opacity="0.9" stroke-width="9" d="M588 1230l3 3M653 1262l-1 2M649 1181l-1 1M687 1223l0 1M606 1282l1 1M654 1185l1 1M642 1186l1 1M581 1247l1 4M574 1253l-3 1M663 1189l-1 2M614 1228l2 1M680 1232l-4 2M627 1210l-1 1M682 1273l2 2M620 1287l3 1M679 1197l-4 2M673 1226l2 1M630 1202l0 4M686 1203l4 1M602 1256l-1 4M620 1197l0 1M663 1180l-1 1M633 1189l2 0M559 1221l2 1"/><path stroke-opacity="1" stroke-width="8" d="M613 1258l-1 1M635 1246l3 1M660 1196l0 2M666 1227l1 0M622 1215l0 1M650 1254l-3 2M673 1218l0 2M641 1204l1 0M673 1252l0 3M705 1177l-2 3M659 1245l0 1"/><path stroke-opacity="1" stroke-width="9" d="M656 1251l2 4M670 1208l0 1M623 1231l2 1M705 1197l3 0M695 1221l4 1M634 1265l-1 0M645 1226l-2 1M642 1266l0 4M683 1216l-3 1M665 1234l3 2M618 1223l4 1M598 1221l2 2M665 1220l1 3M690 1195l-1 1"/></g><path stroke="#f0f" stroke-width="1.6" d="M765 1115h2M721 1007h2M746 1047h2M796 1227h2M639 1294h2M795 1237h2M751 1067h2M703 1308h2M787 1190h2M557 1265h2M555 1259h2M698 979h2M528 1242h2M454 1154h2M528 1243h2M718 1002h2M745 1056h2M674 946h2M461 1163h2M561 1268h2M752 1073h2M779 1294h2M736 1309h2M765 1108h2M787 1190h2M689 1304h2M686 965h2M677 951h2M538 1249h2M717 1310h2M768 1124h2M601 1280h2M539 1251h2M729 1015h2M748 1059h2M675 947h2M465 1165h2M497 1211h2M564 1268h2M500 1211h2M776 1298h2M742 1037h2M718 1000h2M543 1253h2M593 1282h2M770 1137h2M457 1158h2M593 1278h2M778 1293h2M530 1239h2M546 1257h2M676 949h2M739 1036h2M771 1145h2M671 1300h2M792 1279h2M458 1157h2M778 1151h2M779 1153h2M611 1286h2M798 1260h2M730 1013h2M573 1274h2M690 963h2M637 1295h2M443 1158h2M650 1299h2M487 1196h2M792 1278h2M796 1254h2M605 1283h2M687 964h2M523 1238h2M510 1221h2M772 1299h2M611 1285h2M632 1294h2M698 1305h2M791 1282h2M722 1002h2M532 1246h2M452 1156h2M692 970h2M741 1036h2M649 1295h2M444 1157h2M773 1296h2M774 1298h2M692 967h2M651 1295h2M714 993h2M730 1021h2M570 1271h2M697 1308h2M760 1304h2M443 1155h2M787 1290h2M795 1225h2M737 1028h2M763 1302h2M747 1054h2M795 1248h2M682 959h2M743 1048h2M742 1046h2M534 1245h2M739 1032h2M764 1105h2M788 1186h2M692 970h2M754 1071h2M582 1278h2M588 1276h2M765 1115h2M493 1205h2M788 1285h2M704 982h2M643 1295h2M509 1224h2M774 1144h2M773 1137h2M795 1225h2M750 1068h2M622 1289h2M733 1025h2M763 1098h2M445 1155h2M788 1190h2M778 1296h2M783 1287h2M520 1234h2M758 1306h2M743 1308h2M613 1285h2M734 1310h2M453 972h2M640 1001h2M678 1077h2M609 1264h2M724 1228h2M693 1138h2M749 1152h2M493 1149h2M585 1206h2M680 1276h2M669 1285h2M676 1242h2M730 1273h2M789 1214h2M587 961h2M615 1136h2M557 1249h2M597 1151h2M551 1025h2M470 961h2M712 1242h2M584 1273h2M589 954h2M475 945h2M542 1119h2M494 1022h2M656 1006h2M572 985h2M546 1189h2M617 985h2M737 1154h2M722 1019h2M471 1092h2M529 1090h2M631 1216h2M519 1046h2M783 1284h2M719 1310h2M478 947h2M640 961h2M448 949h2M760 1232h2M735 1109h2M721 1236h2M683 1101h2M748 1238h2M685 1109h2M503 1215h2M523 1229h2M533 1136h2M727 1253h2M667 1067h2M496 1002h2M519 1075h2M521 942h2M797 1267h2M504 1004h2M482 1103h2M576 1090h2M509 983h2M675 967h2M603 966h2M697 984h2M738 1186h2M506 1073h2M768 1161h2M492 1054h2M599 1084h2M638 1125h2M578 1089h2M664 1253h2M591 981h2M592 1263h2M579 1080h2M698 1181h2M646 1203h2M716 1144h2M694 1047h2M530 959h2M462 980h2M621 1274h2M677 1079h2M665 1163h2M692 1231h2M784 1177h2M590 1279h2M611 1237h2M642 1129h2M688 1148h2M507 1216h2M518 1168h2M625 1116h2M489 965h2M564 1187h2M476 965h2M526 1054h2M458 998h2M484 956h2M684 1131h2M480 1094h2M698 1278h2M709 1304h2M586 1226h2M644 984h2M654 1264h2M488 1010h2M667 1187h2M664 984h2M692 1277h2M587 1188h2M571 1101h2M721 1247h2M751 1062h2M672 1036h2M797 1237h2M586 1221h2M715 1057h2M519 964h2M682 1268h2M578 1148h2M537 1168h2M535 1002h2M635 953h2M754 1098h2M538 957h2M748 1206h2M507 1090h2M673 1027h2M442 1087h2M539 1029h2M673 1216h2M585 1161h2M733 1213h2M506 995h2M503 1045h2M727 1304h2M519 1225h2M506 965h2M609 1111h2M627 941h2M746 1261h2M737 1198h2M695 1003h2M492 1195h2M745 1275h2M519 1153h2M689 1037h2M712 1307h2M673 1242h2M725 1224h2M715 1058h2M590 1161h2M644 940h2M776 1234h2M657 1075h2M599 1055h2M577 1222h2M551 1255h2M475 1085h2M596 1148h2M616 1175h2M754 1155h2M470 1057h2M621 1230h2M672 1100h2M646 1070h2M613 1085h2M622 1096h2M713 1213h2M613 1056h2M723 1132h2M510 1051h2M636 1014h2M673 1189h2M709 1188h2M660 1028h2M567 1227h2M600 1143h2M748 1118h2M537 1160h2M637 980h2M601 982h2M717 1222h2M541 1081h2M506 1208h2M586 1130h2M695 1019h2M569 1207h2M486 983h2M743 1161h2M618 1272h2M727 1061h2M664 1040h2M683 1088h2M676 1182h2M747 1119h2M494 1040h2M501 1074h2M657 1169h2M571 1131h2M724 1291h2M692 1056h2M564 1268h2M636 1107h2M666 1088h2M589 1122h2M711 1191h2M712 1047h2M695 1268h2M498 945h2M513 1022h2M599 1019h2M629 1061h2M546 1033h2M607 992h2M518 1143h2M542 1084h2M671 1059h2M479 1154h2M457 992h2M563 1152h2M564 1156h2M653 1264h2M700 976h2M655 1052h2M633 1208h2M723 1009h2M546 1073h2M524 1177h2M695 1295h2M774 1145h2M724 1147h2M553 977h2M650 1157h2M771 1299h2M705 1161h2M772 1205h2M524 1032h2M674 1033h2M588 1244h2M639 1015h2M706 1082h2M601 964h2M463 1042h2M557 1215h2M664 936h2M698 973h2M689 1019h2M600 1038h2M604 1056h2M554 1130h2M613 1234h2M628 1051h2M681 1304h2M561 1227h2M680 1215h2M733 1126h2M507 1093h2M718 1271h2M705 988h2M745 1134h2M557 1206h2M457 1013h2M581 1011h2M632 982h2M750 1074h2M587 1085h2M696 1017h2M458 1123h2M710 1277h2M556 1045h2M467 1149h2M631 973h2M527 1145h2M736 1118h2M633 1012h2M579 1169h2M759 1104h2M723 1230h2M762 1121h2M489 1031h2M501 1079h2M535 1179h2M470 959h2M736 1081h2M549 1136h2M448 1005h2M456 1050h2M542 1219h2M781 1218h2M459 1059h2M624 1202h2M633 1141h2M506 1102h2M780 1212h2M610 1182h2M562 1137h2M451 949h2M485 1087h2M603 1138h2M556 1261h2M457 1120h2M699 1170h2M461 1072h2M505 1154h2M727 1241h2M479 1052h2M484 1113h2M485 1038h2M782 1245h2M560 1010h2M525 1106h2M665 1082h2M448 1034h2M545 991h2"/><path stroke="#e0e" stroke-width="1.5" d="M575 999v2M770 1197v2M763 1120v2M693 1070v2M605 1265v2M535 1087v2M568 999v2M654 1153v2M566 1190v2M683 1056v2M475 954v2M624 948v2M628 1003v2M685 1149v2M467 948v2M679 1001v2M621 993v2M675 1074v2M635 1126v2M447 1138v2M630 1176v2M731 1228v2M513 1148v2M618 1006v2M615 1093v2M485 1066v2M683 1145v2M674 1256v2M761 1236v2M682 1162v2M626 1117v2M669 985v2M673 1078v2M614 1112v2M596 1147v2M687 1271v2M735 1116v2M712 1285v2M689 1305v2M589 1105v2M790 1287v2M555 1017v2M608 1130v2M667 1024v2M761 1277v2M524 1150v2M498 1207v2M707 1219v2M607 1023v2M488 1176v2M488 1103v2M699 1296v2M668 1268v2M563 993v2M654 1295v2M462 1041v2M710 1307v2M689 1143v2M627 1251v2M765 1127v2M598 1102v2M546 1229v2M594 1153v2M582 1159v2M661 1038v2M594 1176v2M693 1223v2M733 1245v2M620 1042v2M764 1208v2M659 1227v2M721 1172v2M636 1161v2M536 1179v2M762 1204v2M746 1068v2M727 1072v2M459 951v2M631 1208v2M691 1017v2M636 949v2M616 1138v2M569 1074v2M557 1038v2M557 1048v2M584 1028v2M639 1278v2M532 1113v2M662 950v2M753 1301v2M605 949v2M734 1095v2M630 1113v2M677 1173v2M613 1056v2M607 1116v2M576 1230v2M760 1241v2M791 1209v2M541 1089v2M553 1031v2M722 1213v2M473 1057v2M755 1204v2M521 1205v2M610 1146v2M506 947v2M619 976v2M669 1144v2M496 953v2M615 1168v2M550 1076v2M744 1123v2M561 1127v2M564 1244v2M641 1222v2M621 1242v2M614 972v2M593 1196v2M564 1208v2M565 1151v2M467 1030v2M528 1048v2M494 1048v2M585 1217v2M745 1166v2M756 1290v2M596 995v2M755 1252v2M558 994v2M621 1046v2M654 1209v2M588 1261v2M636 1245v2M557 1060v2M729 1105v2M508 1052v2M706 1270v2M683 1276v2M650 943v2M719 1113v2M599 1227v2M633 1026v2M733 1037v2M641 1071v2M746 1307v2M561 1251v2M684 1022v2M788 1186v2M608 949v2M763 1103v2M596 1222v2M775 1196v2M619 1211v2M755 1111v2M701 992v2M541 1081v2M686 1132v2M486 1099v2M594 970v2M666 1012v2M503 1033v2M618 1163v2M700 990v2M443 1057v2M557 1123v2M514 1149v2M589 1046v2M700 1261v2M756 1096v2M589 1251v2M528 1129v2M643 973v2M497 1168v2M579 1217v2M670 1272v2M554 1210v2M736 1135v2M702 1202v2M708 1202v2M677 1191v2M616 1259v2M615 1245v2M678 1093v2M681 1223v2M701 1231v2M563 1233v2M579 1234v2M635 955v2M702 982v2M548 1163v2M550 1134v2M727 1249v2M566 1148v2M538 1035v2M468 1000v2M524 984v2M654 1169v2M625 940v2M552 1200v2M655 1237v2M725 1296v2M515 1097v2M609 1109v2M535 1245v2M798 1259v2M477 1144v2M506 1133v2M629 939v2M518 1120v2M581 1075v2M712 1231v2M737 1189v2M615 1171v2M623 1062v2M559 1098v2M608 1004v2M577 1114v2M569 1102v2M577 975v2M459 973v2M555 972v2M752 1114v2M669 1077v2M647 938v2M750 1287v2M591 1049v2M786 1258v2M670 965v2M535 1074v2M672 1156v2M484 1018v2M479 991v2M690 1062v2M724 1161v2M595 1275v2M588 1147v2M617 1270v2M597 1275v2M694 1156v2M605 947v2M734 1197v2M509 1217v2M514 1205v2M662 1033v2M767 1288v2M687 1262v2M457 970v2M518 1156v2M476 1130v2M550 1213v2M520 1183v2M547 1242v2M598 1133v2M656 1181v2M661 948v2M725 1304v2M664 1049v2M750 1141v2M615 940v2M671 1236v2M500 1180v2M607 1089v2M453 1126v2M643 1000v2M766 1162v2M494 938v2M667 952v2M614 1130v2M578 965v2M644 1012v2M484 1160v2M585 1277v2M570 1072v2M708 1080v2M528 1155v2M474 983v2M649 1175v2M704 1260v2M642 1069v2M618 1290v2M582 1040v2M738 1211v2M668 1082v2M748 1242v2M638 1073v2M462 1023v2M667 1265v2M579 1182v2M747 1087v2M612 1265v2M455 1090v2M682 954v2M683 1232v2M543 1157v2M786 1260v2M505 973v2M543 1020v2M683 1005v2M758 1186v2M744 1101v2M494 1089v2M599 1240v2M669 1216v2M718 1219v2M697 1003v2M603 972v2M654 1017v2M479 1152v2M470 1130v2M552 1263v2M571 1161v2M483 1135v2M588 1098v2M590 1059v2M564 1154v2M457 1126v2M614 1132v2M508 1058v2M677 1285v2M638 1088v2M524 1190v2M651 1000v2M687 1026v2M704 1144v2M722 1248v2M682 1056v2M602 1190v2M726 1034v2M649 1014v2M578 1168v2M575 1209v2M732 1225v2M623 985v2M458 985v2M706 1124v2M577 1186v2M485 1188v2M563 1215v2M778 1247v2M509 1037v2M785 1194v2M619 969v2M727 1145v2M554 968v2M499 1014v2M471 969v2M448 1013v2M707 1079v2M780 1212v2M793 1217v2M490 1033v2M557 1116v2M543 1000v2M635 1083v2M677 1240v2M658 1034v2M582 1130v2M715 1038v2M517 953v2M466 946v2M742 1294v2M443 963v2M730 1134v2M644 1072v2M493 1036v2M632 1147v2M713 1295v2M525 1202v2M636 1069v2M582 1148v2M615 1236v2M680 1110v2M711 1045v2M794 1230v2M542 995v2M714 1068v2M640 1269v2M722 1283v2M625 1116v2M549 1049v2M450 996v2M753 1225v2M508 1185v2M563 1229v2M634 1074v2M633 1001v2M685 1178v2M680 1064v2M477 1122v2M605 1061v2M597 1091v2M732 1280v2M681 1040v2M768 1151v2M711 1003v2M689 1039v2M561 1035v2M576 1107v2M753 1197v2M632 1292v2M615 969v2M500 1049v2M525 1105v2M606 1118v2M719 1132v2M601 1175v2M640 1219v2M460 1031v2M510 1166v2M472 1115v2M658 1234v2M610 1092v2M651 1111v2M553 996v2M570 1160v2M570 1160v2M727 1167v2M690 1181v2M624 1212v2M730 1054v2M530 1079v2M775 1183v2M701 1296v2M488 1044v2M716 1285v2M482 1111v2M538 954v2M747 1237v2M503 1065v2M736 1253v2M780 1181v2M557 1100v2M601 1229v2M520 1217v2M628 1228v2M690 991v2M474 1006v2M534 948v2M616 1256v2M656 1038v2M455 998v2M513 1148v2M465 1118v2M753 1091v2M761 1289v2M618 974v2M609 1141v2M683 1226v2M735 1199v2"/><path stroke="#ee0" stroke-width="1.5" d="M538 1162h2M495 1197h2M746 1162h2M761 1289h2M733 1038h2M766 1124h2M607 978h2M795 1254h2M656 1064h2M613 1277h2M544 1225h2M452 945h2M739 1205h2M596 1283h2M696 1184h2M487 1199h2M519 1229h2M707 1053h2M501 1154h2M725 1302h2M732 1026h2M698 1109h2M736 1307h2M552 1088h2M463 1088h2M481 1186h2M768 1120h2M665 1213h2M602 1267h2M443 1135h2M694 979h2M735 1300h2M679 950h2M703 1002h2M744 1278h2"/>
<path d="M480.9 1228.2L766.8 1044" stroke="#fff" stroke-width="4.3" stroke-dasharray="33.9 33.9" stroke-dashoffset="16.5"/>
</g>
<path d="M766.5 1314.4H821.1" stroke="#fff" stroke-width="1.6"/>
<text x="-1.5" y="520.5" font-size="34">C</text>
<text x="272.6" y="526" font-size="27.4"><tspan fill="#8a8a8a">DAPI</tspan>, <tspan fill="#e600e6" font-style="italic">Cyp26b1</tspan>, <tspan fill="#ffc000" font-style="italic">Cyp26a1</tspan></text>
<text transform="translate(33 731.5) rotate(-90)" font-size="27" text-anchor="middle">10 DPA</text>
<text transform="translate(33 1128.5) rotate(-90)" font-size="27" text-anchor="middle">14 DPA</text>
<text x="233.6" y="1349.1" font-size="27.3" text-anchor="middle">Proximal blastema</text>
<text x="634.4" y="1349.1" font-size="27.3" text-anchor="middle">Distal blastema</text>
</g>
</svg></body></html>
